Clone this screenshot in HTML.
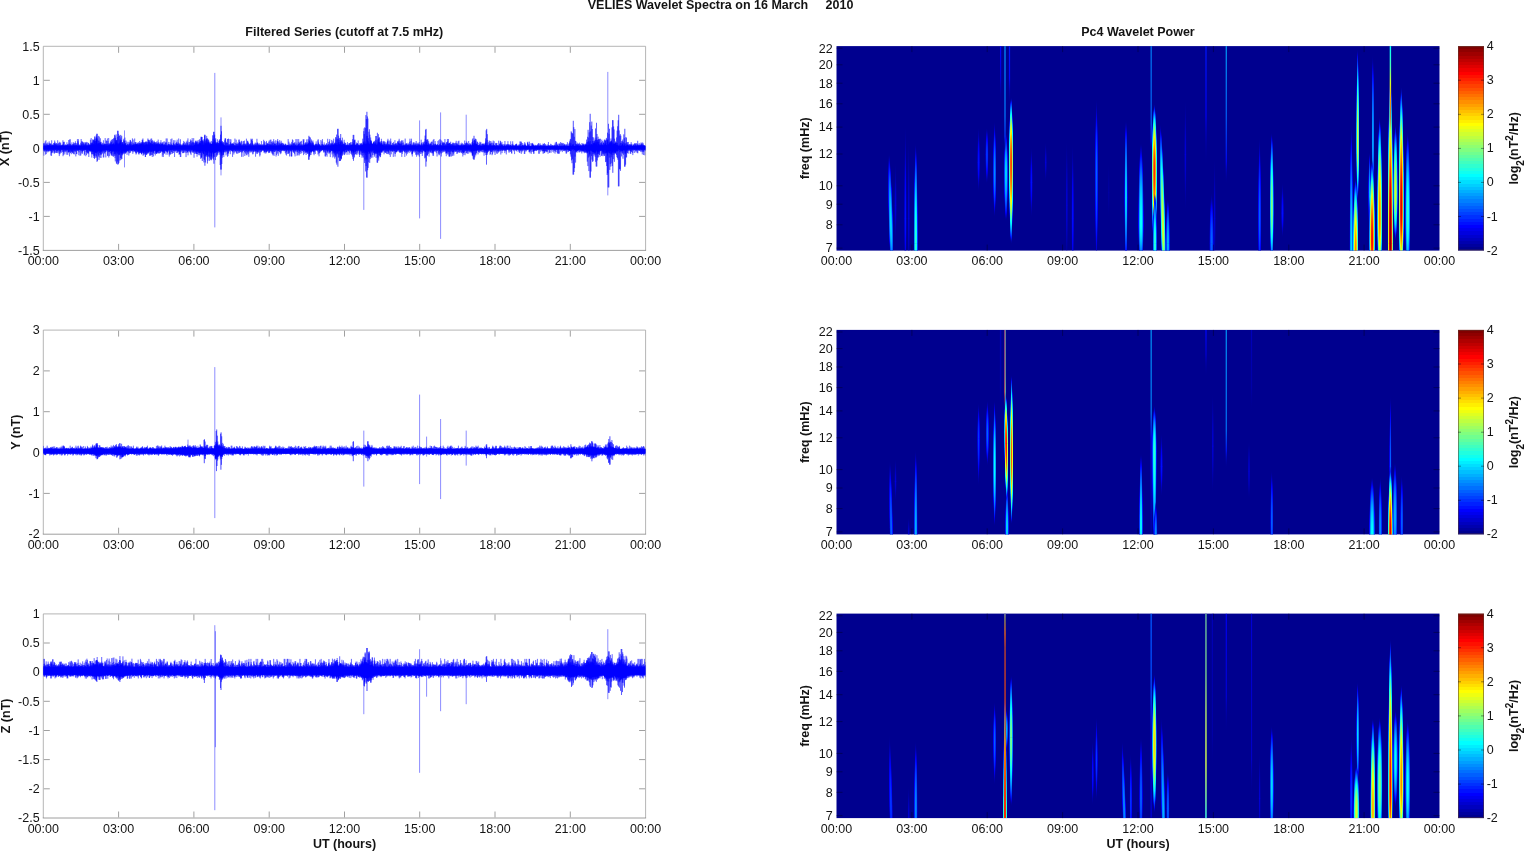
<!DOCTYPE html>
<html lang="en"><head><meta charset="utf-8"><title>VELIES Wavelet Spectra on 16 March 2010</title>
<style>html,body{margin:0;padding:0;background:#fff}body{width:1526px;height:851px;overflow:hidden;position:relative}svg{position:absolute;left:0;top:0;display:block}text{font-family:"Liberation Sans",sans-serif;font-size:12.5px;fill:#141414;white-space:pre}.ax{stroke:#a2a2a2;stroke-width:.8;fill:none}.tk{stroke:#a0a0a0;stroke-width:1;fill:none}.tkd{stroke:#000018;stroke-width:1;fill:none;opacity:.42}.sig{stroke:#0000ff;fill:none;stroke-linejoin:bevel}.spk{stroke:#0000ff;fill:none;stroke-width:1;opacity:.45}</style></head><body>
<svg width="1526" height="851" viewBox="0 0 1526 851">
<defs>
<linearGradient id="cb" x1="0" y1="0" x2="0" y2="1"><stop offset="0.0000" stop-color="#800000"/><stop offset="0.0156" stop-color="#800000"/><stop offset="0.0156" stop-color="#8f0000"/><stop offset="0.0312" stop-color="#8f0000"/><stop offset="0.0312" stop-color="#9f0000"/><stop offset="0.0469" stop-color="#9f0000"/><stop offset="0.0469" stop-color="#af0000"/><stop offset="0.0625" stop-color="#af0000"/><stop offset="0.0625" stop-color="#bf0000"/><stop offset="0.0781" stop-color="#bf0000"/><stop offset="0.0781" stop-color="#cf0000"/><stop offset="0.0938" stop-color="#cf0000"/><stop offset="0.0938" stop-color="#df0000"/><stop offset="0.1094" stop-color="#df0000"/><stop offset="0.1094" stop-color="#ef0000"/><stop offset="0.1250" stop-color="#ef0000"/><stop offset="0.1250" stop-color="#ff0000"/><stop offset="0.1406" stop-color="#ff0000"/><stop offset="0.1406" stop-color="#ff1000"/><stop offset="0.1562" stop-color="#ff1000"/><stop offset="0.1562" stop-color="#ff2000"/><stop offset="0.1719" stop-color="#ff2000"/><stop offset="0.1719" stop-color="#ff3000"/><stop offset="0.1875" stop-color="#ff3000"/><stop offset="0.1875" stop-color="#ff4000"/><stop offset="0.2031" stop-color="#ff4000"/><stop offset="0.2031" stop-color="#ff5000"/><stop offset="0.2188" stop-color="#ff5000"/><stop offset="0.2188" stop-color="#ff6000"/><stop offset="0.2344" stop-color="#ff6000"/><stop offset="0.2344" stop-color="#ff7000"/><stop offset="0.2500" stop-color="#ff7000"/><stop offset="0.2500" stop-color="#ff8000"/><stop offset="0.2656" stop-color="#ff8000"/><stop offset="0.2656" stop-color="#ff8f00"/><stop offset="0.2812" stop-color="#ff8f00"/><stop offset="0.2812" stop-color="#ff9f00"/><stop offset="0.2969" stop-color="#ff9f00"/><stop offset="0.2969" stop-color="#ffaf00"/><stop offset="0.3125" stop-color="#ffaf00"/><stop offset="0.3125" stop-color="#ffbf00"/><stop offset="0.3281" stop-color="#ffbf00"/><stop offset="0.3281" stop-color="#ffcf00"/><stop offset="0.3438" stop-color="#ffcf00"/><stop offset="0.3438" stop-color="#ffdf00"/><stop offset="0.3594" stop-color="#ffdf00"/><stop offset="0.3594" stop-color="#ffef00"/><stop offset="0.3750" stop-color="#ffef00"/><stop offset="0.3750" stop-color="#ffff00"/><stop offset="0.3906" stop-color="#ffff00"/><stop offset="0.3906" stop-color="#efff10"/><stop offset="0.4062" stop-color="#efff10"/><stop offset="0.4062" stop-color="#dfff20"/><stop offset="0.4219" stop-color="#dfff20"/><stop offset="0.4219" stop-color="#cfff30"/><stop offset="0.4375" stop-color="#cfff30"/><stop offset="0.4375" stop-color="#bfff40"/><stop offset="0.4531" stop-color="#bfff40"/><stop offset="0.4531" stop-color="#afff50"/><stop offset="0.4688" stop-color="#afff50"/><stop offset="0.4688" stop-color="#9fff60"/><stop offset="0.4844" stop-color="#9fff60"/><stop offset="0.4844" stop-color="#8fff70"/><stop offset="0.5000" stop-color="#8fff70"/><stop offset="0.5000" stop-color="#80ff80"/><stop offset="0.5156" stop-color="#80ff80"/><stop offset="0.5156" stop-color="#70ff8f"/><stop offset="0.5312" stop-color="#70ff8f"/><stop offset="0.5312" stop-color="#60ff9f"/><stop offset="0.5469" stop-color="#60ff9f"/><stop offset="0.5469" stop-color="#50ffaf"/><stop offset="0.5625" stop-color="#50ffaf"/><stop offset="0.5625" stop-color="#40ffbf"/><stop offset="0.5781" stop-color="#40ffbf"/><stop offset="0.5781" stop-color="#30ffcf"/><stop offset="0.5938" stop-color="#30ffcf"/><stop offset="0.5938" stop-color="#20ffdf"/><stop offset="0.6094" stop-color="#20ffdf"/><stop offset="0.6094" stop-color="#10ffef"/><stop offset="0.6250" stop-color="#10ffef"/><stop offset="0.6250" stop-color="#00ffff"/><stop offset="0.6406" stop-color="#00ffff"/><stop offset="0.6406" stop-color="#00efff"/><stop offset="0.6562" stop-color="#00efff"/><stop offset="0.6562" stop-color="#00dfff"/><stop offset="0.6719" stop-color="#00dfff"/><stop offset="0.6719" stop-color="#00cfff"/><stop offset="0.6875" stop-color="#00cfff"/><stop offset="0.6875" stop-color="#00bfff"/><stop offset="0.7031" stop-color="#00bfff"/><stop offset="0.7031" stop-color="#00afff"/><stop offset="0.7188" stop-color="#00afff"/><stop offset="0.7188" stop-color="#009fff"/><stop offset="0.7344" stop-color="#009fff"/><stop offset="0.7344" stop-color="#008fff"/><stop offset="0.7500" stop-color="#008fff"/><stop offset="0.7500" stop-color="#0080ff"/><stop offset="0.7656" stop-color="#0080ff"/><stop offset="0.7656" stop-color="#0070ff"/><stop offset="0.7812" stop-color="#0070ff"/><stop offset="0.7812" stop-color="#0060ff"/><stop offset="0.7969" stop-color="#0060ff"/><stop offset="0.7969" stop-color="#0050ff"/><stop offset="0.8125" stop-color="#0050ff"/><stop offset="0.8125" stop-color="#0040ff"/><stop offset="0.8281" stop-color="#0040ff"/><stop offset="0.8281" stop-color="#0030ff"/><stop offset="0.8438" stop-color="#0030ff"/><stop offset="0.8438" stop-color="#0020ff"/><stop offset="0.8594" stop-color="#0020ff"/><stop offset="0.8594" stop-color="#0010ff"/><stop offset="0.8750" stop-color="#0010ff"/><stop offset="0.8750" stop-color="#0000ff"/><stop offset="0.8906" stop-color="#0000ff"/><stop offset="0.8906" stop-color="#0000ef"/><stop offset="0.9062" stop-color="#0000ef"/><stop offset="0.9062" stop-color="#0000df"/><stop offset="0.9219" stop-color="#0000df"/><stop offset="0.9219" stop-color="#0000cf"/><stop offset="0.9375" stop-color="#0000cf"/><stop offset="0.9375" stop-color="#0000bf"/><stop offset="0.9531" stop-color="#0000bf"/><stop offset="0.9531" stop-color="#0000af"/><stop offset="0.9688" stop-color="#0000af"/><stop offset="0.9688" stop-color="#00009f"/><stop offset="0.9844" stop-color="#00009f"/><stop offset="0.9844" stop-color="#00008f"/><stop offset="1.0000" stop-color="#00008f"/></linearGradient>
<radialGradient id="q1t" cx="0" cy="0" r="1" gradientTransform="translate(.5 1) scale(.5 1)"><stop offset="0.000" stop-color="#0000b9" stop-opacity="0.42"/><stop offset="0.083" stop-color="#0000b9" stop-opacity="0.41"/><stop offset="0.167" stop-color="#0000b8" stop-opacity="0.41"/><stop offset="0.250" stop-color="#0000b7" stop-opacity="0.39"/><stop offset="0.333" stop-color="#0000b5" stop-opacity="0.37"/><stop offset="0.417" stop-color="#0000b2" stop-opacity="0.34"/><stop offset="0.500" stop-color="#0000af" stop-opacity="0.31"/><stop offset="0.583" stop-color="#0000ab" stop-opacity="0.27"/><stop offset="0.667" stop-color="#0000a7" stop-opacity="0.23"/><stop offset="0.750" stop-color="#0000a2" stop-opacity="0.18"/><stop offset="0.833" stop-color="#00009c" stop-opacity="0.13"/><stop offset="0.917" stop-color="#000096" stop-opacity="0.07"/><stop offset="1.000" stop-color="#00008f" stop-opacity="0.00"/></radialGradient>
<radialGradient id="q1b" cx="0" cy="0" r="1" gradientTransform="translate(.5 0) scale(.5 1)"><stop offset="0.000" stop-color="#0000b9" stop-opacity="0.42"/><stop offset="0.083" stop-color="#0000b9" stop-opacity="0.41"/><stop offset="0.167" stop-color="#0000b8" stop-opacity="0.41"/><stop offset="0.250" stop-color="#0000b7" stop-opacity="0.39"/><stop offset="0.333" stop-color="#0000b5" stop-opacity="0.37"/><stop offset="0.417" stop-color="#0000b2" stop-opacity="0.34"/><stop offset="0.500" stop-color="#0000af" stop-opacity="0.31"/><stop offset="0.583" stop-color="#0000ab" stop-opacity="0.27"/><stop offset="0.667" stop-color="#0000a7" stop-opacity="0.23"/><stop offset="0.750" stop-color="#0000a2" stop-opacity="0.18"/><stop offset="0.833" stop-color="#00009c" stop-opacity="0.13"/><stop offset="0.917" stop-color="#000096" stop-opacity="0.07"/><stop offset="1.000" stop-color="#00008f" stop-opacity="0.00"/></radialGradient>
<radialGradient id="q2t" cx="0" cy="0" r="1" gradientTransform="translate(.5 1) scale(.5 1)"><stop offset="0.000" stop-color="#0000e3" stop-opacity="0.83"/><stop offset="0.083" stop-color="#0000e3" stop-opacity="0.83"/><stop offset="0.167" stop-color="#0000e1" stop-opacity="0.81"/><stop offset="0.250" stop-color="#0000de" stop-opacity="0.78"/><stop offset="0.333" stop-color="#0000da" stop-opacity="0.74"/><stop offset="0.417" stop-color="#0000d5" stop-opacity="0.69"/><stop offset="0.500" stop-color="#0000ce" stop-opacity="0.62"/><stop offset="0.583" stop-color="#0000c7" stop-opacity="0.55"/><stop offset="0.667" stop-color="#0000be" stop-opacity="0.46"/><stop offset="0.750" stop-color="#0000b4" stop-opacity="0.36"/><stop offset="0.833" stop-color="#0000a9" stop-opacity="0.25"/><stop offset="0.917" stop-color="#00009d" stop-opacity="0.13"/><stop offset="1.000" stop-color="#00008f" stop-opacity="0.00"/></radialGradient>
<radialGradient id="q2b" cx="0" cy="0" r="1" gradientTransform="translate(.5 0) scale(.5 1)"><stop offset="0.000" stop-color="#0000e3" stop-opacity="0.83"/><stop offset="0.083" stop-color="#0000e3" stop-opacity="0.83"/><stop offset="0.167" stop-color="#0000e1" stop-opacity="0.81"/><stop offset="0.250" stop-color="#0000de" stop-opacity="0.78"/><stop offset="0.333" stop-color="#0000da" stop-opacity="0.74"/><stop offset="0.417" stop-color="#0000d5" stop-opacity="0.69"/><stop offset="0.500" stop-color="#0000ce" stop-opacity="0.62"/><stop offset="0.583" stop-color="#0000c7" stop-opacity="0.55"/><stop offset="0.667" stop-color="#0000be" stop-opacity="0.46"/><stop offset="0.750" stop-color="#0000b4" stop-opacity="0.36"/><stop offset="0.833" stop-color="#0000a9" stop-opacity="0.25"/><stop offset="0.917" stop-color="#00009d" stop-opacity="0.13"/><stop offset="1.000" stop-color="#00008f" stop-opacity="0.00"/></radialGradient>
<radialGradient id="q3t" cx="0" cy="0" r="1" gradientTransform="translate(.5 1) scale(.5 1)"><stop offset="0.000" stop-color="#000eff" stop-opacity="1.00"/><stop offset="0.083" stop-color="#000dff" stop-opacity="1.00"/><stop offset="0.167" stop-color="#000aff" stop-opacity="1.00"/><stop offset="0.250" stop-color="#0006ff" stop-opacity="1.00"/><stop offset="0.333" stop-color="#0000ff" stop-opacity="1.00"/><stop offset="0.417" stop-color="#0000f7" stop-opacity="1.00"/><stop offset="0.500" stop-color="#0000ee" stop-opacity="0.94"/><stop offset="0.583" stop-color="#0000e2" stop-opacity="0.82"/><stop offset="0.667" stop-color="#0000d5" stop-opacity="0.69"/><stop offset="0.750" stop-color="#0000c6" stop-opacity="0.55"/><stop offset="0.833" stop-color="#0000b6" stop-opacity="0.38"/><stop offset="0.917" stop-color="#0000a3" stop-opacity="0.20"/><stop offset="1.000" stop-color="#00008f" stop-opacity="0.00"/></radialGradient>
<radialGradient id="q3b" cx="0" cy="0" r="1" gradientTransform="translate(.5 0) scale(.5 1)"><stop offset="0.000" stop-color="#000eff" stop-opacity="1.00"/><stop offset="0.083" stop-color="#000dff" stop-opacity="1.00"/><stop offset="0.167" stop-color="#000aff" stop-opacity="1.00"/><stop offset="0.250" stop-color="#0006ff" stop-opacity="1.00"/><stop offset="0.333" stop-color="#0000ff" stop-opacity="1.00"/><stop offset="0.417" stop-color="#0000f7" stop-opacity="1.00"/><stop offset="0.500" stop-color="#0000ee" stop-opacity="0.94"/><stop offset="0.583" stop-color="#0000e2" stop-opacity="0.82"/><stop offset="0.667" stop-color="#0000d5" stop-opacity="0.69"/><stop offset="0.750" stop-color="#0000c6" stop-opacity="0.55"/><stop offset="0.833" stop-color="#0000b6" stop-opacity="0.38"/><stop offset="0.917" stop-color="#0000a3" stop-opacity="0.20"/><stop offset="1.000" stop-color="#00008f" stop-opacity="0.00"/></radialGradient>
<radialGradient id="q4t" cx="0" cy="0" r="1" gradientTransform="translate(.5 1) scale(.5 1)"><stop offset="0.000" stop-color="#0038ff" stop-opacity="1.00"/><stop offset="0.083" stop-color="#0037ff" stop-opacity="1.00"/><stop offset="0.167" stop-color="#0033ff" stop-opacity="1.00"/><stop offset="0.250" stop-color="#002dff" stop-opacity="1.00"/><stop offset="0.333" stop-color="#0025ff" stop-opacity="1.00"/><stop offset="0.417" stop-color="#001bff" stop-opacity="1.00"/><stop offset="0.500" stop-color="#000eff" stop-opacity="1.00"/><stop offset="0.583" stop-color="#0000fe" stop-opacity="1.00"/><stop offset="0.667" stop-color="#0000ec" stop-opacity="0.93"/><stop offset="0.750" stop-color="#0000d9" stop-opacity="0.73"/><stop offset="0.833" stop-color="#0000c3" stop-opacity="0.51"/><stop offset="0.917" stop-color="#0000aa" stop-opacity="0.27"/><stop offset="1.000" stop-color="#00008f" stop-opacity="0.00"/></radialGradient>
<radialGradient id="q4b" cx="0" cy="0" r="1" gradientTransform="translate(.5 0) scale(.5 1)"><stop offset="0.000" stop-color="#0038ff" stop-opacity="1.00"/><stop offset="0.083" stop-color="#0037ff" stop-opacity="1.00"/><stop offset="0.167" stop-color="#0033ff" stop-opacity="1.00"/><stop offset="0.250" stop-color="#002dff" stop-opacity="1.00"/><stop offset="0.333" stop-color="#0025ff" stop-opacity="1.00"/><stop offset="0.417" stop-color="#001bff" stop-opacity="1.00"/><stop offset="0.500" stop-color="#000eff" stop-opacity="1.00"/><stop offset="0.583" stop-color="#0000fe" stop-opacity="1.00"/><stop offset="0.667" stop-color="#0000ec" stop-opacity="0.93"/><stop offset="0.750" stop-color="#0000d9" stop-opacity="0.73"/><stop offset="0.833" stop-color="#0000c3" stop-opacity="0.51"/><stop offset="0.917" stop-color="#0000aa" stop-opacity="0.27"/><stop offset="1.000" stop-color="#00008f" stop-opacity="0.00"/></radialGradient>
<radialGradient id="q5t" cx="0" cy="0" r="1" gradientTransform="translate(.5 1) scale(.5 1)"><stop offset="0.000" stop-color="#0062ff" stop-opacity="1.00"/><stop offset="0.083" stop-color="#0060ff" stop-opacity="1.00"/><stop offset="0.167" stop-color="#005cff" stop-opacity="1.00"/><stop offset="0.250" stop-color="#0055ff" stop-opacity="1.00"/><stop offset="0.333" stop-color="#004aff" stop-opacity="1.00"/><stop offset="0.417" stop-color="#003dff" stop-opacity="1.00"/><stop offset="0.500" stop-color="#002dff" stop-opacity="1.00"/><stop offset="0.583" stop-color="#001aff" stop-opacity="1.00"/><stop offset="0.667" stop-color="#0005ff" stop-opacity="1.00"/><stop offset="0.750" stop-color="#0000eb" stop-opacity="0.91"/><stop offset="0.833" stop-color="#0000cf" stop-opacity="0.64"/><stop offset="0.917" stop-color="#0000b1" stop-opacity="0.33"/><stop offset="1.000" stop-color="#00008f" stop-opacity="0.00"/></radialGradient>
<radialGradient id="q5b" cx="0" cy="0" r="1" gradientTransform="translate(.5 0) scale(.5 1)"><stop offset="0.000" stop-color="#0062ff" stop-opacity="1.00"/><stop offset="0.083" stop-color="#0060ff" stop-opacity="1.00"/><stop offset="0.167" stop-color="#005cff" stop-opacity="1.00"/><stop offset="0.250" stop-color="#0055ff" stop-opacity="1.00"/><stop offset="0.333" stop-color="#004aff" stop-opacity="1.00"/><stop offset="0.417" stop-color="#003dff" stop-opacity="1.00"/><stop offset="0.500" stop-color="#002dff" stop-opacity="1.00"/><stop offset="0.583" stop-color="#001aff" stop-opacity="1.00"/><stop offset="0.667" stop-color="#0005ff" stop-opacity="1.00"/><stop offset="0.750" stop-color="#0000eb" stop-opacity="0.91"/><stop offset="0.833" stop-color="#0000cf" stop-opacity="0.64"/><stop offset="0.917" stop-color="#0000b1" stop-opacity="0.33"/><stop offset="1.000" stop-color="#00008f" stop-opacity="0.00"/></radialGradient>
<radialGradient id="q6t" cx="0" cy="0" r="1" gradientTransform="translate(.5 1) scale(.5 1)"><stop offset="0.000" stop-color="#008bff" stop-opacity="1.00"/><stop offset="0.083" stop-color="#008aff" stop-opacity="1.00"/><stop offset="0.167" stop-color="#0084ff" stop-opacity="1.00"/><stop offset="0.250" stop-color="#007cff" stop-opacity="1.00"/><stop offset="0.333" stop-color="#0070ff" stop-opacity="1.00"/><stop offset="0.417" stop-color="#0060ff" stop-opacity="1.00"/><stop offset="0.500" stop-color="#004dff" stop-opacity="1.00"/><stop offset="0.583" stop-color="#0036ff" stop-opacity="1.00"/><stop offset="0.667" stop-color="#001cff" stop-opacity="1.00"/><stop offset="0.750" stop-color="#0000fd" stop-opacity="1.00"/><stop offset="0.833" stop-color="#0000dc" stop-opacity="0.76"/><stop offset="0.917" stop-color="#0000b8" stop-opacity="0.40"/><stop offset="1.000" stop-color="#00008f" stop-opacity="0.00"/></radialGradient>
<radialGradient id="q6b" cx="0" cy="0" r="1" gradientTransform="translate(.5 0) scale(.5 1)"><stop offset="0.000" stop-color="#008bff" stop-opacity="1.00"/><stop offset="0.083" stop-color="#008aff" stop-opacity="1.00"/><stop offset="0.167" stop-color="#0084ff" stop-opacity="1.00"/><stop offset="0.250" stop-color="#007cff" stop-opacity="1.00"/><stop offset="0.333" stop-color="#0070ff" stop-opacity="1.00"/><stop offset="0.417" stop-color="#0060ff" stop-opacity="1.00"/><stop offset="0.500" stop-color="#004dff" stop-opacity="1.00"/><stop offset="0.583" stop-color="#0036ff" stop-opacity="1.00"/><stop offset="0.667" stop-color="#001cff" stop-opacity="1.00"/><stop offset="0.750" stop-color="#0000fd" stop-opacity="1.00"/><stop offset="0.833" stop-color="#0000dc" stop-opacity="0.76"/><stop offset="0.917" stop-color="#0000b8" stop-opacity="0.40"/><stop offset="1.000" stop-color="#00008f" stop-opacity="0.00"/></radialGradient>
<radialGradient id="q7t" cx="0" cy="0" r="1" gradientTransform="translate(.5 1) scale(.5 1)"><stop offset="0.000" stop-color="#00b5ff" stop-opacity="1.00"/><stop offset="0.083" stop-color="#00b3ff" stop-opacity="1.00"/><stop offset="0.167" stop-color="#00adff" stop-opacity="1.00"/><stop offset="0.250" stop-color="#00a3ff" stop-opacity="1.00"/><stop offset="0.333" stop-color="#0095ff" stop-opacity="1.00"/><stop offset="0.417" stop-color="#0082ff" stop-opacity="1.00"/><stop offset="0.500" stop-color="#006cff" stop-opacity="1.00"/><stop offset="0.583" stop-color="#0052ff" stop-opacity="1.00"/><stop offset="0.667" stop-color="#0033ff" stop-opacity="1.00"/><stop offset="0.750" stop-color="#0011ff" stop-opacity="1.00"/><stop offset="0.833" stop-color="#0000e9" stop-opacity="0.89"/><stop offset="0.917" stop-color="#0000be" stop-opacity="0.47"/><stop offset="1.000" stop-color="#00008f" stop-opacity="0.00"/></radialGradient>
<radialGradient id="q7b" cx="0" cy="0" r="1" gradientTransform="translate(.5 0) scale(.5 1)"><stop offset="0.000" stop-color="#00b5ff" stop-opacity="1.00"/><stop offset="0.083" stop-color="#00b3ff" stop-opacity="1.00"/><stop offset="0.167" stop-color="#00adff" stop-opacity="1.00"/><stop offset="0.250" stop-color="#00a3ff" stop-opacity="1.00"/><stop offset="0.333" stop-color="#0095ff" stop-opacity="1.00"/><stop offset="0.417" stop-color="#0082ff" stop-opacity="1.00"/><stop offset="0.500" stop-color="#006cff" stop-opacity="1.00"/><stop offset="0.583" stop-color="#0052ff" stop-opacity="1.00"/><stop offset="0.667" stop-color="#0033ff" stop-opacity="1.00"/><stop offset="0.750" stop-color="#0011ff" stop-opacity="1.00"/><stop offset="0.833" stop-color="#0000e9" stop-opacity="0.89"/><stop offset="0.917" stop-color="#0000be" stop-opacity="0.47"/><stop offset="1.000" stop-color="#00008f" stop-opacity="0.00"/></radialGradient>
<radialGradient id="q8t" cx="0" cy="0" r="1" gradientTransform="translate(.5 1) scale(.5 1)"><stop offset="0.000" stop-color="#00dfff" stop-opacity="1.00"/><stop offset="0.083" stop-color="#00ddff" stop-opacity="1.00"/><stop offset="0.167" stop-color="#00d6ff" stop-opacity="1.00"/><stop offset="0.250" stop-color="#00caff" stop-opacity="1.00"/><stop offset="0.333" stop-color="#00baff" stop-opacity="1.00"/><stop offset="0.417" stop-color="#00a5ff" stop-opacity="1.00"/><stop offset="0.500" stop-color="#008bff" stop-opacity="1.00"/><stop offset="0.583" stop-color="#006dff" stop-opacity="1.00"/><stop offset="0.667" stop-color="#004aff" stop-opacity="1.00"/><stop offset="0.750" stop-color="#0023ff" stop-opacity="1.00"/><stop offset="0.833" stop-color="#0000f6" stop-opacity="1.00"/><stop offset="0.917" stop-color="#0000c5" stop-opacity="0.53"/><stop offset="1.000" stop-color="#00008f" stop-opacity="0.00"/></radialGradient>
<radialGradient id="q8b" cx="0" cy="0" r="1" gradientTransform="translate(.5 0) scale(.5 1)"><stop offset="0.000" stop-color="#00dfff" stop-opacity="1.00"/><stop offset="0.083" stop-color="#00ddff" stop-opacity="1.00"/><stop offset="0.167" stop-color="#00d6ff" stop-opacity="1.00"/><stop offset="0.250" stop-color="#00caff" stop-opacity="1.00"/><stop offset="0.333" stop-color="#00baff" stop-opacity="1.00"/><stop offset="0.417" stop-color="#00a5ff" stop-opacity="1.00"/><stop offset="0.500" stop-color="#008bff" stop-opacity="1.00"/><stop offset="0.583" stop-color="#006dff" stop-opacity="1.00"/><stop offset="0.667" stop-color="#004aff" stop-opacity="1.00"/><stop offset="0.750" stop-color="#0023ff" stop-opacity="1.00"/><stop offset="0.833" stop-color="#0000f6" stop-opacity="1.00"/><stop offset="0.917" stop-color="#0000c5" stop-opacity="0.53"/><stop offset="1.000" stop-color="#00008f" stop-opacity="0.00"/></radialGradient>
<radialGradient id="q9t" cx="0" cy="0" r="1" gradientTransform="translate(.5 1) scale(.5 1)"><stop offset="0.000" stop-color="#0afff5" stop-opacity="1.00"/><stop offset="0.083" stop-color="#07fff8" stop-opacity="1.00"/><stop offset="0.167" stop-color="#00ffff" stop-opacity="1.00"/><stop offset="0.250" stop-color="#00f1ff" stop-opacity="1.00"/><stop offset="0.333" stop-color="#00dfff" stop-opacity="1.00"/><stop offset="0.417" stop-color="#00c8ff" stop-opacity="1.00"/><stop offset="0.500" stop-color="#00abff" stop-opacity="1.00"/><stop offset="0.583" stop-color="#0089ff" stop-opacity="1.00"/><stop offset="0.667" stop-color="#0062ff" stop-opacity="1.00"/><stop offset="0.750" stop-color="#0035ff" stop-opacity="1.00"/><stop offset="0.833" stop-color="#0003ff" stop-opacity="1.00"/><stop offset="0.917" stop-color="#0000cc" stop-opacity="0.60"/><stop offset="1.000" stop-color="#00008f" stop-opacity="0.00"/></radialGradient>
<radialGradient id="q9b" cx="0" cy="0" r="1" gradientTransform="translate(.5 0) scale(.5 1)"><stop offset="0.000" stop-color="#0afff5" stop-opacity="1.00"/><stop offset="0.083" stop-color="#07fff8" stop-opacity="1.00"/><stop offset="0.167" stop-color="#00ffff" stop-opacity="1.00"/><stop offset="0.250" stop-color="#00f1ff" stop-opacity="1.00"/><stop offset="0.333" stop-color="#00dfff" stop-opacity="1.00"/><stop offset="0.417" stop-color="#00c8ff" stop-opacity="1.00"/><stop offset="0.500" stop-color="#00abff" stop-opacity="1.00"/><stop offset="0.583" stop-color="#0089ff" stop-opacity="1.00"/><stop offset="0.667" stop-color="#0062ff" stop-opacity="1.00"/><stop offset="0.750" stop-color="#0035ff" stop-opacity="1.00"/><stop offset="0.833" stop-color="#0003ff" stop-opacity="1.00"/><stop offset="0.917" stop-color="#0000cc" stop-opacity="0.60"/><stop offset="1.000" stop-color="#00008f" stop-opacity="0.00"/></radialGradient>
<radialGradient id="q10t" cx="0" cy="0" r="1" gradientTransform="translate(.5 1) scale(.5 1)"><stop offset="0.000" stop-color="#34ffcb" stop-opacity="1.00"/><stop offset="0.083" stop-color="#31ffce" stop-opacity="1.00"/><stop offset="0.167" stop-color="#28ffd7" stop-opacity="1.00"/><stop offset="0.250" stop-color="#1affe5" stop-opacity="1.00"/><stop offset="0.333" stop-color="#05fffa" stop-opacity="1.00"/><stop offset="0.417" stop-color="#00eaff" stop-opacity="1.00"/><stop offset="0.500" stop-color="#00caff" stop-opacity="1.00"/><stop offset="0.583" stop-color="#00a4ff" stop-opacity="1.00"/><stop offset="0.667" stop-color="#0079ff" stop-opacity="1.00"/><stop offset="0.750" stop-color="#0047ff" stop-opacity="1.00"/><stop offset="0.833" stop-color="#0010ff" stop-opacity="1.00"/><stop offset="0.917" stop-color="#0000d2" stop-opacity="0.67"/><stop offset="1.000" stop-color="#00008f" stop-opacity="0.00"/></radialGradient>
<radialGradient id="q10b" cx="0" cy="0" r="1" gradientTransform="translate(.5 0) scale(.5 1)"><stop offset="0.000" stop-color="#34ffcb" stop-opacity="1.00"/><stop offset="0.083" stop-color="#31ffce" stop-opacity="1.00"/><stop offset="0.167" stop-color="#28ffd7" stop-opacity="1.00"/><stop offset="0.250" stop-color="#1affe5" stop-opacity="1.00"/><stop offset="0.333" stop-color="#05fffa" stop-opacity="1.00"/><stop offset="0.417" stop-color="#00eaff" stop-opacity="1.00"/><stop offset="0.500" stop-color="#00caff" stop-opacity="1.00"/><stop offset="0.583" stop-color="#00a4ff" stop-opacity="1.00"/><stop offset="0.667" stop-color="#0079ff" stop-opacity="1.00"/><stop offset="0.750" stop-color="#0047ff" stop-opacity="1.00"/><stop offset="0.833" stop-color="#0010ff" stop-opacity="1.00"/><stop offset="0.917" stop-color="#0000d2" stop-opacity="0.67"/><stop offset="1.000" stop-color="#00008f" stop-opacity="0.00"/></radialGradient>
<radialGradient id="q11t" cx="0" cy="0" r="1" gradientTransform="translate(.5 1) scale(.5 1)"><stop offset="0.000" stop-color="#5effa1" stop-opacity="1.00"/><stop offset="0.083" stop-color="#5affa5" stop-opacity="1.00"/><stop offset="0.167" stop-color="#51ffae" stop-opacity="1.00"/><stop offset="0.250" stop-color="#41ffbe" stop-opacity="1.00"/><stop offset="0.333" stop-color="#2bffd4" stop-opacity="1.00"/><stop offset="0.417" stop-color="#0efff1" stop-opacity="1.00"/><stop offset="0.500" stop-color="#00eaff" stop-opacity="1.00"/><stop offset="0.583" stop-color="#00c0ff" stop-opacity="1.00"/><stop offset="0.667" stop-color="#0090ff" stop-opacity="1.00"/><stop offset="0.750" stop-color="#005aff" stop-opacity="1.00"/><stop offset="0.833" stop-color="#001dff" stop-opacity="1.00"/><stop offset="0.917" stop-color="#0000d9" stop-opacity="0.73"/><stop offset="1.000" stop-color="#00008f" stop-opacity="0.00"/></radialGradient>
<radialGradient id="q11b" cx="0" cy="0" r="1" gradientTransform="translate(.5 0) scale(.5 1)"><stop offset="0.000" stop-color="#5effa1" stop-opacity="1.00"/><stop offset="0.083" stop-color="#5affa5" stop-opacity="1.00"/><stop offset="0.167" stop-color="#51ffae" stop-opacity="1.00"/><stop offset="0.250" stop-color="#41ffbe" stop-opacity="1.00"/><stop offset="0.333" stop-color="#2bffd4" stop-opacity="1.00"/><stop offset="0.417" stop-color="#0efff1" stop-opacity="1.00"/><stop offset="0.500" stop-color="#00eaff" stop-opacity="1.00"/><stop offset="0.583" stop-color="#00c0ff" stop-opacity="1.00"/><stop offset="0.667" stop-color="#0090ff" stop-opacity="1.00"/><stop offset="0.750" stop-color="#005aff" stop-opacity="1.00"/><stop offset="0.833" stop-color="#001dff" stop-opacity="1.00"/><stop offset="0.917" stop-color="#0000d9" stop-opacity="0.73"/><stop offset="1.000" stop-color="#00008f" stop-opacity="0.00"/></radialGradient>
<radialGradient id="q12t" cx="0" cy="0" r="1" gradientTransform="translate(.5 1) scale(.5 1)"><stop offset="0.000" stop-color="#87ff78" stop-opacity="1.00"/><stop offset="0.083" stop-color="#84ff7b" stop-opacity="1.00"/><stop offset="0.167" stop-color="#7aff85" stop-opacity="1.00"/><stop offset="0.250" stop-color="#68ff97" stop-opacity="1.00"/><stop offset="0.333" stop-color="#50ffaf" stop-opacity="1.00"/><stop offset="0.417" stop-color="#30ffcf" stop-opacity="1.00"/><stop offset="0.500" stop-color="#0afff5" stop-opacity="1.00"/><stop offset="0.583" stop-color="#00dcff" stop-opacity="1.00"/><stop offset="0.667" stop-color="#00a7ff" stop-opacity="1.00"/><stop offset="0.750" stop-color="#006cff" stop-opacity="1.00"/><stop offset="0.833" stop-color="#002aff" stop-opacity="1.00"/><stop offset="0.917" stop-color="#0000e0" stop-opacity="0.80"/><stop offset="1.000" stop-color="#00008f" stop-opacity="0.00"/></radialGradient>
<radialGradient id="q12b" cx="0" cy="0" r="1" gradientTransform="translate(.5 0) scale(.5 1)"><stop offset="0.000" stop-color="#87ff78" stop-opacity="1.00"/><stop offset="0.083" stop-color="#84ff7b" stop-opacity="1.00"/><stop offset="0.167" stop-color="#7aff85" stop-opacity="1.00"/><stop offset="0.250" stop-color="#68ff97" stop-opacity="1.00"/><stop offset="0.333" stop-color="#50ffaf" stop-opacity="1.00"/><stop offset="0.417" stop-color="#30ffcf" stop-opacity="1.00"/><stop offset="0.500" stop-color="#0afff5" stop-opacity="1.00"/><stop offset="0.583" stop-color="#00dcff" stop-opacity="1.00"/><stop offset="0.667" stop-color="#00a7ff" stop-opacity="1.00"/><stop offset="0.750" stop-color="#006cff" stop-opacity="1.00"/><stop offset="0.833" stop-color="#002aff" stop-opacity="1.00"/><stop offset="0.917" stop-color="#0000e0" stop-opacity="0.80"/><stop offset="1.000" stop-color="#00008f" stop-opacity="0.00"/></radialGradient>
<radialGradient id="q13t" cx="0" cy="0" r="1" gradientTransform="translate(.5 1) scale(.5 1)"><stop offset="0.000" stop-color="#b1ff4e" stop-opacity="1.00"/><stop offset="0.083" stop-color="#aeff51" stop-opacity="1.00"/><stop offset="0.167" stop-color="#a2ff5d" stop-opacity="1.00"/><stop offset="0.250" stop-color="#8fff70" stop-opacity="1.00"/><stop offset="0.333" stop-color="#75ff8a" stop-opacity="1.00"/><stop offset="0.417" stop-color="#53ffac" stop-opacity="1.00"/><stop offset="0.500" stop-color="#29ffd6" stop-opacity="1.00"/><stop offset="0.583" stop-color="#00f7ff" stop-opacity="1.00"/><stop offset="0.667" stop-color="#00bfff" stop-opacity="1.00"/><stop offset="0.750" stop-color="#007eff" stop-opacity="1.00"/><stop offset="0.833" stop-color="#0037ff" stop-opacity="1.00"/><stop offset="0.917" stop-color="#0000e6" stop-opacity="0.87"/><stop offset="1.000" stop-color="#00008f" stop-opacity="0.00"/></radialGradient>
<radialGradient id="q13b" cx="0" cy="0" r="1" gradientTransform="translate(.5 0) scale(.5 1)"><stop offset="0.000" stop-color="#b1ff4e" stop-opacity="1.00"/><stop offset="0.083" stop-color="#aeff51" stop-opacity="1.00"/><stop offset="0.167" stop-color="#a2ff5d" stop-opacity="1.00"/><stop offset="0.250" stop-color="#8fff70" stop-opacity="1.00"/><stop offset="0.333" stop-color="#75ff8a" stop-opacity="1.00"/><stop offset="0.417" stop-color="#53ffac" stop-opacity="1.00"/><stop offset="0.500" stop-color="#29ffd6" stop-opacity="1.00"/><stop offset="0.583" stop-color="#00f7ff" stop-opacity="1.00"/><stop offset="0.667" stop-color="#00bfff" stop-opacity="1.00"/><stop offset="0.750" stop-color="#007eff" stop-opacity="1.00"/><stop offset="0.833" stop-color="#0037ff" stop-opacity="1.00"/><stop offset="0.917" stop-color="#0000e6" stop-opacity="0.87"/><stop offset="1.000" stop-color="#00008f" stop-opacity="0.00"/></radialGradient>
<radialGradient id="q14t" cx="0" cy="0" r="1" gradientTransform="translate(.5 1) scale(.5 1)"><stop offset="0.000" stop-color="#dbff24" stop-opacity="1.00"/><stop offset="0.083" stop-color="#d7ff28" stop-opacity="1.00"/><stop offset="0.167" stop-color="#cbff34" stop-opacity="1.00"/><stop offset="0.250" stop-color="#b7ff48" stop-opacity="1.00"/><stop offset="0.333" stop-color="#9aff65" stop-opacity="1.00"/><stop offset="0.417" stop-color="#75ff8a" stop-opacity="1.00"/><stop offset="0.500" stop-color="#49ffb6" stop-opacity="1.00"/><stop offset="0.583" stop-color="#14ffeb" stop-opacity="1.00"/><stop offset="0.667" stop-color="#00d6ff" stop-opacity="1.00"/><stop offset="0.750" stop-color="#0091ff" stop-opacity="1.00"/><stop offset="0.833" stop-color="#0043ff" stop-opacity="1.00"/><stop offset="0.917" stop-color="#0000ed" stop-opacity="0.93"/><stop offset="1.000" stop-color="#00008f" stop-opacity="0.00"/></radialGradient>
<radialGradient id="q14b" cx="0" cy="0" r="1" gradientTransform="translate(.5 0) scale(.5 1)"><stop offset="0.000" stop-color="#dbff24" stop-opacity="1.00"/><stop offset="0.083" stop-color="#d7ff28" stop-opacity="1.00"/><stop offset="0.167" stop-color="#cbff34" stop-opacity="1.00"/><stop offset="0.250" stop-color="#b7ff48" stop-opacity="1.00"/><stop offset="0.333" stop-color="#9aff65" stop-opacity="1.00"/><stop offset="0.417" stop-color="#75ff8a" stop-opacity="1.00"/><stop offset="0.500" stop-color="#49ffb6" stop-opacity="1.00"/><stop offset="0.583" stop-color="#14ffeb" stop-opacity="1.00"/><stop offset="0.667" stop-color="#00d6ff" stop-opacity="1.00"/><stop offset="0.750" stop-color="#0091ff" stop-opacity="1.00"/><stop offset="0.833" stop-color="#0043ff" stop-opacity="1.00"/><stop offset="0.917" stop-color="#0000ed" stop-opacity="0.93"/><stop offset="1.000" stop-color="#00008f" stop-opacity="0.00"/></radialGradient>
<radialGradient id="q15t" cx="0" cy="0" r="1" gradientTransform="translate(.5 1) scale(.5 1)"><stop offset="0.000" stop-color="#fff900" stop-opacity="1.00"/><stop offset="0.083" stop-color="#fffd00" stop-opacity="1.00"/><stop offset="0.167" stop-color="#f4ff0b" stop-opacity="1.00"/><stop offset="0.250" stop-color="#deff21" stop-opacity="1.00"/><stop offset="0.333" stop-color="#bfff40" stop-opacity="1.00"/><stop offset="0.417" stop-color="#98ff67" stop-opacity="1.00"/><stop offset="0.500" stop-color="#68ff97" stop-opacity="1.00"/><stop offset="0.583" stop-color="#2fffd0" stop-opacity="1.00"/><stop offset="0.667" stop-color="#00edff" stop-opacity="1.00"/><stop offset="0.750" stop-color="#00a3ff" stop-opacity="1.00"/><stop offset="0.833" stop-color="#0050ff" stop-opacity="1.00"/><stop offset="0.917" stop-color="#0000f4" stop-opacity="1.00"/><stop offset="1.000" stop-color="#00008f" stop-opacity="0.00"/></radialGradient>
<radialGradient id="q15b" cx="0" cy="0" r="1" gradientTransform="translate(.5 0) scale(.5 1)"><stop offset="0.000" stop-color="#fff900" stop-opacity="1.00"/><stop offset="0.083" stop-color="#fffd00" stop-opacity="1.00"/><stop offset="0.167" stop-color="#f4ff0b" stop-opacity="1.00"/><stop offset="0.250" stop-color="#deff21" stop-opacity="1.00"/><stop offset="0.333" stop-color="#bfff40" stop-opacity="1.00"/><stop offset="0.417" stop-color="#98ff67" stop-opacity="1.00"/><stop offset="0.500" stop-color="#68ff97" stop-opacity="1.00"/><stop offset="0.583" stop-color="#2fffd0" stop-opacity="1.00"/><stop offset="0.667" stop-color="#00edff" stop-opacity="1.00"/><stop offset="0.750" stop-color="#00a3ff" stop-opacity="1.00"/><stop offset="0.833" stop-color="#0050ff" stop-opacity="1.00"/><stop offset="0.917" stop-color="#0000f4" stop-opacity="1.00"/><stop offset="1.000" stop-color="#00008f" stop-opacity="0.00"/></radialGradient>
<radialGradient id="q16t" cx="0" cy="0" r="1" gradientTransform="translate(.5 1) scale(.5 1)"><stop offset="0.000" stop-color="#ffcf00" stop-opacity="1.00"/><stop offset="0.083" stop-color="#ffd400" stop-opacity="1.00"/><stop offset="0.167" stop-color="#ffe200" stop-opacity="1.00"/><stop offset="0.250" stop-color="#fff900" stop-opacity="1.00"/><stop offset="0.333" stop-color="#e4ff1b" stop-opacity="1.00"/><stop offset="0.417" stop-color="#bbff44" stop-opacity="1.00"/><stop offset="0.500" stop-color="#87ff78" stop-opacity="1.00"/><stop offset="0.583" stop-color="#4bffb4" stop-opacity="1.00"/><stop offset="0.667" stop-color="#05fffa" stop-opacity="1.00"/><stop offset="0.750" stop-color="#00b5ff" stop-opacity="1.00"/><stop offset="0.833" stop-color="#005dff" stop-opacity="1.00"/><stop offset="0.917" stop-color="#0000fa" stop-opacity="1.00"/><stop offset="1.000" stop-color="#00008f" stop-opacity="0.00"/></radialGradient>
<radialGradient id="q16b" cx="0" cy="0" r="1" gradientTransform="translate(.5 0) scale(.5 1)"><stop offset="0.000" stop-color="#ffcf00" stop-opacity="1.00"/><stop offset="0.083" stop-color="#ffd400" stop-opacity="1.00"/><stop offset="0.167" stop-color="#ffe200" stop-opacity="1.00"/><stop offset="0.250" stop-color="#fff900" stop-opacity="1.00"/><stop offset="0.333" stop-color="#e4ff1b" stop-opacity="1.00"/><stop offset="0.417" stop-color="#bbff44" stop-opacity="1.00"/><stop offset="0.500" stop-color="#87ff78" stop-opacity="1.00"/><stop offset="0.583" stop-color="#4bffb4" stop-opacity="1.00"/><stop offset="0.667" stop-color="#05fffa" stop-opacity="1.00"/><stop offset="0.750" stop-color="#00b5ff" stop-opacity="1.00"/><stop offset="0.833" stop-color="#005dff" stop-opacity="1.00"/><stop offset="0.917" stop-color="#0000fa" stop-opacity="1.00"/><stop offset="1.000" stop-color="#00008f" stop-opacity="0.00"/></radialGradient>
<radialGradient id="q17t" cx="0" cy="0" r="1" gradientTransform="translate(.5 1) scale(.5 1)"><stop offset="0.000" stop-color="#ffa500" stop-opacity="1.00"/><stop offset="0.083" stop-color="#ffaa00" stop-opacity="1.00"/><stop offset="0.167" stop-color="#ffb900" stop-opacity="1.00"/><stop offset="0.250" stop-color="#ffd200" stop-opacity="1.00"/><stop offset="0.333" stop-color="#fff400" stop-opacity="1.00"/><stop offset="0.417" stop-color="#ddff22" stop-opacity="1.00"/><stop offset="0.500" stop-color="#a7ff58" stop-opacity="1.00"/><stop offset="0.583" stop-color="#67ff98" stop-opacity="1.00"/><stop offset="0.667" stop-color="#1dffe2" stop-opacity="1.00"/><stop offset="0.750" stop-color="#00c8ff" stop-opacity="1.00"/><stop offset="0.833" stop-color="#006aff" stop-opacity="1.00"/><stop offset="0.917" stop-color="#0002ff" stop-opacity="1.00"/><stop offset="1.000" stop-color="#00008f" stop-opacity="0.00"/></radialGradient>
<radialGradient id="q17b" cx="0" cy="0" r="1" gradientTransform="translate(.5 0) scale(.5 1)"><stop offset="0.000" stop-color="#ffa500" stop-opacity="1.00"/><stop offset="0.083" stop-color="#ffaa00" stop-opacity="1.00"/><stop offset="0.167" stop-color="#ffb900" stop-opacity="1.00"/><stop offset="0.250" stop-color="#ffd200" stop-opacity="1.00"/><stop offset="0.333" stop-color="#fff400" stop-opacity="1.00"/><stop offset="0.417" stop-color="#ddff22" stop-opacity="1.00"/><stop offset="0.500" stop-color="#a7ff58" stop-opacity="1.00"/><stop offset="0.583" stop-color="#67ff98" stop-opacity="1.00"/><stop offset="0.667" stop-color="#1dffe2" stop-opacity="1.00"/><stop offset="0.750" stop-color="#00c8ff" stop-opacity="1.00"/><stop offset="0.833" stop-color="#006aff" stop-opacity="1.00"/><stop offset="0.917" stop-color="#0002ff" stop-opacity="1.00"/><stop offset="1.000" stop-color="#00008f" stop-opacity="0.00"/></radialGradient>
<radialGradient id="q18t" cx="0" cy="0" r="1" gradientTransform="translate(.5 1) scale(.5 1)"><stop offset="0.000" stop-color="#ff7c00" stop-opacity="1.00"/><stop offset="0.083" stop-color="#ff8100" stop-opacity="1.00"/><stop offset="0.167" stop-color="#ff9000" stop-opacity="1.00"/><stop offset="0.250" stop-color="#ffab00" stop-opacity="1.00"/><stop offset="0.333" stop-color="#ffcf00" stop-opacity="1.00"/><stop offset="0.417" stop-color="#fffe00" stop-opacity="1.00"/><stop offset="0.500" stop-color="#c6ff39" stop-opacity="1.00"/><stop offset="0.583" stop-color="#82ff7d" stop-opacity="1.00"/><stop offset="0.667" stop-color="#34ffcb" stop-opacity="1.00"/><stop offset="0.750" stop-color="#00daff" stop-opacity="1.00"/><stop offset="0.833" stop-color="#0077ff" stop-opacity="1.00"/><stop offset="0.917" stop-color="#0009ff" stop-opacity="1.00"/><stop offset="1.000" stop-color="#00008f" stop-opacity="0.00"/></radialGradient>
<radialGradient id="q18b" cx="0" cy="0" r="1" gradientTransform="translate(.5 0) scale(.5 1)"><stop offset="0.000" stop-color="#ff7c00" stop-opacity="1.00"/><stop offset="0.083" stop-color="#ff8100" stop-opacity="1.00"/><stop offset="0.167" stop-color="#ff9000" stop-opacity="1.00"/><stop offset="0.250" stop-color="#ffab00" stop-opacity="1.00"/><stop offset="0.333" stop-color="#ffcf00" stop-opacity="1.00"/><stop offset="0.417" stop-color="#fffe00" stop-opacity="1.00"/><stop offset="0.500" stop-color="#c6ff39" stop-opacity="1.00"/><stop offset="0.583" stop-color="#82ff7d" stop-opacity="1.00"/><stop offset="0.667" stop-color="#34ffcb" stop-opacity="1.00"/><stop offset="0.750" stop-color="#00daff" stop-opacity="1.00"/><stop offset="0.833" stop-color="#0077ff" stop-opacity="1.00"/><stop offset="0.917" stop-color="#0009ff" stop-opacity="1.00"/><stop offset="1.000" stop-color="#00008f" stop-opacity="0.00"/></radialGradient>
<radialGradient id="q19t" cx="0" cy="0" r="1" gradientTransform="translate(.5 1) scale(.5 1)"><stop offset="0.000" stop-color="#ff5200" stop-opacity="1.00"/><stop offset="0.083" stop-color="#ff5700" stop-opacity="1.00"/><stop offset="0.167" stop-color="#ff6800" stop-opacity="1.00"/><stop offset="0.250" stop-color="#ff8300" stop-opacity="1.00"/><stop offset="0.333" stop-color="#ffaa00" stop-opacity="1.00"/><stop offset="0.417" stop-color="#ffdc00" stop-opacity="1.00"/><stop offset="0.500" stop-color="#e6ff19" stop-opacity="1.00"/><stop offset="0.583" stop-color="#9eff61" stop-opacity="1.00"/><stop offset="0.667" stop-color="#4bffb4" stop-opacity="1.00"/><stop offset="0.750" stop-color="#00ecff" stop-opacity="1.00"/><stop offset="0.833" stop-color="#0083ff" stop-opacity="1.00"/><stop offset="0.917" stop-color="#000fff" stop-opacity="1.00"/><stop offset="1.000" stop-color="#00008f" stop-opacity="0.00"/></radialGradient>
<radialGradient id="q19b" cx="0" cy="0" r="1" gradientTransform="translate(.5 0) scale(.5 1)"><stop offset="0.000" stop-color="#ff5200" stop-opacity="1.00"/><stop offset="0.083" stop-color="#ff5700" stop-opacity="1.00"/><stop offset="0.167" stop-color="#ff6800" stop-opacity="1.00"/><stop offset="0.250" stop-color="#ff8300" stop-opacity="1.00"/><stop offset="0.333" stop-color="#ffaa00" stop-opacity="1.00"/><stop offset="0.417" stop-color="#ffdc00" stop-opacity="1.00"/><stop offset="0.500" stop-color="#e6ff19" stop-opacity="1.00"/><stop offset="0.583" stop-color="#9eff61" stop-opacity="1.00"/><stop offset="0.667" stop-color="#4bffb4" stop-opacity="1.00"/><stop offset="0.750" stop-color="#00ecff" stop-opacity="1.00"/><stop offset="0.833" stop-color="#0083ff" stop-opacity="1.00"/><stop offset="0.917" stop-color="#000fff" stop-opacity="1.00"/><stop offset="1.000" stop-color="#00008f" stop-opacity="0.00"/></radialGradient>
<radialGradient id="q20t" cx="0" cy="0" r="1" gradientTransform="translate(.5 1) scale(.5 1)"><stop offset="0.000" stop-color="#ff2800" stop-opacity="1.00"/><stop offset="0.083" stop-color="#ff2e00" stop-opacity="1.00"/><stop offset="0.167" stop-color="#ff3f00" stop-opacity="1.00"/><stop offset="0.250" stop-color="#ff5c00" stop-opacity="1.00"/><stop offset="0.333" stop-color="#ff8500" stop-opacity="1.00"/><stop offset="0.417" stop-color="#ffb900" stop-opacity="1.00"/><stop offset="0.500" stop-color="#fff900" stop-opacity="1.00"/><stop offset="0.583" stop-color="#b9ff46" stop-opacity="1.00"/><stop offset="0.667" stop-color="#62ff9d" stop-opacity="1.00"/><stop offset="0.750" stop-color="#00ffff" stop-opacity="1.00"/><stop offset="0.833" stop-color="#0090ff" stop-opacity="1.00"/><stop offset="0.917" stop-color="#0016ff" stop-opacity="1.00"/><stop offset="1.000" stop-color="#00008f" stop-opacity="0.00"/></radialGradient>
<radialGradient id="q20b" cx="0" cy="0" r="1" gradientTransform="translate(.5 0) scale(.5 1)"><stop offset="0.000" stop-color="#ff2800" stop-opacity="1.00"/><stop offset="0.083" stop-color="#ff2e00" stop-opacity="1.00"/><stop offset="0.167" stop-color="#ff3f00" stop-opacity="1.00"/><stop offset="0.250" stop-color="#ff5c00" stop-opacity="1.00"/><stop offset="0.333" stop-color="#ff8500" stop-opacity="1.00"/><stop offset="0.417" stop-color="#ffb900" stop-opacity="1.00"/><stop offset="0.500" stop-color="#fff900" stop-opacity="1.00"/><stop offset="0.583" stop-color="#b9ff46" stop-opacity="1.00"/><stop offset="0.667" stop-color="#62ff9d" stop-opacity="1.00"/><stop offset="0.750" stop-color="#00ffff" stop-opacity="1.00"/><stop offset="0.833" stop-color="#0090ff" stop-opacity="1.00"/><stop offset="0.917" stop-color="#0016ff" stop-opacity="1.00"/><stop offset="1.000" stop-color="#00008f" stop-opacity="0.00"/></radialGradient>
<radialGradient id="q21t" cx="0" cy="0" r="1" gradientTransform="translate(.5 1) scale(.5 1)"><stop offset="0.000" stop-color="#fd0000" stop-opacity="1.00"/><stop offset="0.083" stop-color="#ff0400" stop-opacity="1.00"/><stop offset="0.167" stop-color="#ff1600" stop-opacity="1.00"/><stop offset="0.250" stop-color="#ff3500" stop-opacity="1.00"/><stop offset="0.333" stop-color="#ff6000" stop-opacity="1.00"/><stop offset="0.417" stop-color="#ff9700" stop-opacity="1.00"/><stop offset="0.500" stop-color="#ffda00" stop-opacity="1.00"/><stop offset="0.583" stop-color="#d5ff2a" stop-opacity="1.00"/><stop offset="0.667" stop-color="#7aff85" stop-opacity="1.00"/><stop offset="0.750" stop-color="#12ffed" stop-opacity="1.00"/><stop offset="0.833" stop-color="#009dff" stop-opacity="1.00"/><stop offset="0.917" stop-color="#001dff" stop-opacity="1.00"/><stop offset="1.000" stop-color="#00008f" stop-opacity="0.00"/></radialGradient>
<radialGradient id="q21b" cx="0" cy="0" r="1" gradientTransform="translate(.5 0) scale(.5 1)"><stop offset="0.000" stop-color="#fd0000" stop-opacity="1.00"/><stop offset="0.083" stop-color="#ff0400" stop-opacity="1.00"/><stop offset="0.167" stop-color="#ff1600" stop-opacity="1.00"/><stop offset="0.250" stop-color="#ff3500" stop-opacity="1.00"/><stop offset="0.333" stop-color="#ff6000" stop-opacity="1.00"/><stop offset="0.417" stop-color="#ff9700" stop-opacity="1.00"/><stop offset="0.500" stop-color="#ffda00" stop-opacity="1.00"/><stop offset="0.583" stop-color="#d5ff2a" stop-opacity="1.00"/><stop offset="0.667" stop-color="#7aff85" stop-opacity="1.00"/><stop offset="0.750" stop-color="#12ffed" stop-opacity="1.00"/><stop offset="0.833" stop-color="#009dff" stop-opacity="1.00"/><stop offset="0.917" stop-color="#001dff" stop-opacity="1.00"/><stop offset="1.000" stop-color="#00008f" stop-opacity="0.00"/></radialGradient>
<radialGradient id="q22t" cx="0" cy="0" r="1" gradientTransform="translate(.5 1) scale(.5 1)"><stop offset="0.000" stop-color="#d30000" stop-opacity="1.00"/><stop offset="0.083" stop-color="#da0000" stop-opacity="1.00"/><stop offset="0.167" stop-color="#ed0000" stop-opacity="1.00"/><stop offset="0.250" stop-color="#ff0e00" stop-opacity="1.00"/><stop offset="0.333" stop-color="#ff3a00" stop-opacity="1.00"/><stop offset="0.417" stop-color="#ff7400" stop-opacity="1.00"/><stop offset="0.500" stop-color="#ffba00" stop-opacity="1.00"/><stop offset="0.583" stop-color="#f1ff0e" stop-opacity="1.00"/><stop offset="0.667" stop-color="#91ff6e" stop-opacity="1.00"/><stop offset="0.750" stop-color="#24ffdb" stop-opacity="1.00"/><stop offset="0.833" stop-color="#00aaff" stop-opacity="1.00"/><stop offset="0.917" stop-color="#0023ff" stop-opacity="1.00"/><stop offset="1.000" stop-color="#00008f" stop-opacity="0.00"/></radialGradient>
<radialGradient id="q22b" cx="0" cy="0" r="1" gradientTransform="translate(.5 0) scale(.5 1)"><stop offset="0.000" stop-color="#d30000" stop-opacity="1.00"/><stop offset="0.083" stop-color="#da0000" stop-opacity="1.00"/><stop offset="0.167" stop-color="#ed0000" stop-opacity="1.00"/><stop offset="0.250" stop-color="#ff0e00" stop-opacity="1.00"/><stop offset="0.333" stop-color="#ff3a00" stop-opacity="1.00"/><stop offset="0.417" stop-color="#ff7400" stop-opacity="1.00"/><stop offset="0.500" stop-color="#ffba00" stop-opacity="1.00"/><stop offset="0.583" stop-color="#f1ff0e" stop-opacity="1.00"/><stop offset="0.667" stop-color="#91ff6e" stop-opacity="1.00"/><stop offset="0.750" stop-color="#24ffdb" stop-opacity="1.00"/><stop offset="0.833" stop-color="#00aaff" stop-opacity="1.00"/><stop offset="0.917" stop-color="#0023ff" stop-opacity="1.00"/><stop offset="1.000" stop-color="#00008f" stop-opacity="0.00"/></radialGradient>
<radialGradient id="q23t" cx="0" cy="0" r="1" gradientTransform="translate(.5 1) scale(.5 1)"><stop offset="0.000" stop-color="#a90000" stop-opacity="1.00"/><stop offset="0.083" stop-color="#b00000" stop-opacity="1.00"/><stop offset="0.167" stop-color="#c40000" stop-opacity="1.00"/><stop offset="0.250" stop-color="#e50000" stop-opacity="1.00"/><stop offset="0.333" stop-color="#ff1500" stop-opacity="1.00"/><stop offset="0.417" stop-color="#ff5100" stop-opacity="1.00"/><stop offset="0.500" stop-color="#ff9b00" stop-opacity="1.00"/><stop offset="0.583" stop-color="#fff200" stop-opacity="1.00"/><stop offset="0.667" stop-color="#a8ff57" stop-opacity="1.00"/><stop offset="0.750" stop-color="#36ffc9" stop-opacity="1.00"/><stop offset="0.833" stop-color="#00b6ff" stop-opacity="1.00"/><stop offset="0.917" stop-color="#002aff" stop-opacity="1.00"/><stop offset="1.000" stop-color="#00008f" stop-opacity="0.00"/></radialGradient>
<radialGradient id="q23b" cx="0" cy="0" r="1" gradientTransform="translate(.5 0) scale(.5 1)"><stop offset="0.000" stop-color="#a90000" stop-opacity="1.00"/><stop offset="0.083" stop-color="#b00000" stop-opacity="1.00"/><stop offset="0.167" stop-color="#c40000" stop-opacity="1.00"/><stop offset="0.250" stop-color="#e50000" stop-opacity="1.00"/><stop offset="0.333" stop-color="#ff1500" stop-opacity="1.00"/><stop offset="0.417" stop-color="#ff5100" stop-opacity="1.00"/><stop offset="0.500" stop-color="#ff9b00" stop-opacity="1.00"/><stop offset="0.583" stop-color="#fff200" stop-opacity="1.00"/><stop offset="0.667" stop-color="#a8ff57" stop-opacity="1.00"/><stop offset="0.750" stop-color="#36ffc9" stop-opacity="1.00"/><stop offset="0.833" stop-color="#00b6ff" stop-opacity="1.00"/><stop offset="0.917" stop-color="#002aff" stop-opacity="1.00"/><stop offset="1.000" stop-color="#00008f" stop-opacity="0.00"/></radialGradient>
<radialGradient id="q24t" cx="0" cy="0" r="1" gradientTransform="translate(.5 1) scale(.5 1)"><stop offset="0.000" stop-color="#800000" stop-opacity="1.00"/><stop offset="0.083" stop-color="#860000" stop-opacity="1.00"/><stop offset="0.167" stop-color="#9b0000" stop-opacity="1.00"/><stop offset="0.250" stop-color="#be0000" stop-opacity="1.00"/><stop offset="0.333" stop-color="#ef0000" stop-opacity="1.00"/><stop offset="0.417" stop-color="#ff2f00" stop-opacity="1.00"/><stop offset="0.500" stop-color="#ff7c00" stop-opacity="1.00"/><stop offset="0.583" stop-color="#ffd600" stop-opacity="1.00"/><stop offset="0.667" stop-color="#bfff40" stop-opacity="1.00"/><stop offset="0.750" stop-color="#49ffb6" stop-opacity="1.00"/><stop offset="0.833" stop-color="#00c3ff" stop-opacity="1.00"/><stop offset="0.917" stop-color="#0031ff" stop-opacity="1.00"/><stop offset="1.000" stop-color="#00008f" stop-opacity="0.00"/></radialGradient>
<radialGradient id="q24b" cx="0" cy="0" r="1" gradientTransform="translate(.5 0) scale(.5 1)"><stop offset="0.000" stop-color="#800000" stop-opacity="1.00"/><stop offset="0.083" stop-color="#860000" stop-opacity="1.00"/><stop offset="0.167" stop-color="#9b0000" stop-opacity="1.00"/><stop offset="0.250" stop-color="#be0000" stop-opacity="1.00"/><stop offset="0.333" stop-color="#ef0000" stop-opacity="1.00"/><stop offset="0.417" stop-color="#ff2f00" stop-opacity="1.00"/><stop offset="0.500" stop-color="#ff7c00" stop-opacity="1.00"/><stop offset="0.583" stop-color="#ffd600" stop-opacity="1.00"/><stop offset="0.667" stop-color="#bfff40" stop-opacity="1.00"/><stop offset="0.750" stop-color="#49ffb6" stop-opacity="1.00"/><stop offset="0.833" stop-color="#00c3ff" stop-opacity="1.00"/><stop offset="0.917" stop-color="#0031ff" stop-opacity="1.00"/><stop offset="1.000" stop-color="#00008f" stop-opacity="0.00"/></radialGradient>
<clipPath id="cl0"><rect x="836.5" y="46.1" width="603" height="204.5"/></clipPath>
<clipPath id="cs0"><rect x="43.3" y="46.3" width="602.3" height="204.1"/></clipPath>
<clipPath id="cl1"><rect x="836.5" y="329.9" width="603" height="204.5"/></clipPath>
<clipPath id="cs1"><rect x="43.3" y="330.1" width="602.3" height="204.1"/></clipPath>
<clipPath id="cl2"><rect x="836.5" y="613.6" width="603" height="204.5"/></clipPath>
<clipPath id="cs2"><rect x="43.3" y="613.9" width="602.3" height="204.1"/></clipPath>
</defs>
<text x="720.6" y="9.3" text-anchor="middle" font-weight="bold" font-size="12.4">VELIES Wavelet Spectra on 16 March     2010</text>
<text x="344.3" y="36" text-anchor="middle" font-weight="bold" font-size="12.4">Filtered Series (cutoff at 7.5 mHz)</text>
<text x="1138" y="36" text-anchor="middle" font-weight="bold" font-size="12.4">Pc4 Wavelet Power</text>
<text x="344.5" y="847.5" text-anchor="middle" font-weight="bold" font-size="12.4">UT (hours)</text>
<text x="1138" y="847.5" text-anchor="middle" font-weight="bold" font-size="12.4">UT (hours)</text>
<path class="ax" d="M43.3 250.4V46.3H645.6V250.4"/>
<path class="ax" style="stroke:#868686" d="M42.8 250.4H646.1"/>
<text x="43.3" y="265" text-anchor="middle">00:00</text>
<text x="118.6" y="265" text-anchor="middle">03:00</text>
<text x="193.9" y="265" text-anchor="middle">06:00</text>
<text x="269.2" y="265" text-anchor="middle">09:00</text>
<text x="344.5" y="265" text-anchor="middle">12:00</text>
<text x="419.7" y="265" text-anchor="middle">15:00</text>
<text x="495" y="265" text-anchor="middle">18:00</text>
<text x="570.3" y="265" text-anchor="middle">21:00</text>
<text x="645.6" y="265" text-anchor="middle">00:00</text>
<text x="39.6" y="254.6" text-anchor="end">-1.5</text>
<text x="39.6" y="220.5" text-anchor="end">-1</text>
<text x="39.6" y="186.5" text-anchor="end">-0.5</text>
<text x="39.6" y="152.5" text-anchor="end">0</text>
<text x="39.6" y="118.5" text-anchor="end">0.5</text>
<text x="39.6" y="84.5" text-anchor="end">1</text>
<text x="39.6" y="50.5" text-anchor="end">1.5</text>
<path class="tk" d="M118.6 249.9v-6M118.6 46.8v6M193.9 249.9v-6M193.9 46.8v6M269.2 249.9v-6M269.2 46.8v6M344.5 249.9v-6M344.5 46.8v6M419.7 249.9v-6M419.7 46.8v6M495 249.9v-6M495 46.8v6M570.3 249.9v-6M570.3 46.8v6M43.8 216.4h6M645.1 216.4h-6M43.8 182.4h6M645.1 182.4h-6M43.8 148.4h6M645.1 148.4h-6M43.8 114.3h6M645.1 114.3h-6M43.8 80.3h6M645.1 80.3h-6"/>
<text x="9.4" y="148.3" text-anchor="middle" font-weight="bold" font-size="12.4" transform="rotate(-90 9.4 148.3)">X (nT)</text>
<g clip-path="url(#cs0)">
<path d="M43.3 146.3 L44.3 146.3 L45.3 146.3 L46.3 146.3 L47.3 146.3 L48.3 146.3 L49.3 146.3 L50.3 146.3 L51.3 146.3 L52.3 146.3 L53.3 146.3 L54.3 146.3 L55.3 146.3 L56.3 146.3 L57.3 146.3 L58.3 146.3 L59.3 146.3 L60.3 146.3 L61.3 146.3 L62.3 146.2 L63.3 146.2 L64.3 146.2 L65.3 146.2 L66.3 146.2 L67.3 146.2 L68.3 146.2 L69.3 146.2 L70.3 146.2 L71.3 146.2 L72.3 146.2 L73.3 146.2 L74.3 146.2 L75.3 146.2 L76.3 146.2 L77.3 146.2 L78.3 146.2 L79.3 146.2 L80.3 146.2 L81.3 146.2 L82.3 146.2 L83.3 146.2 L84.3 146.2 L85.3 146.2 L86.3 146.2 L87.3 146.2 L88.3 146.2 L89.3 146.2 L90.3 146.1 L91.3 146.1 L92.3 146.1 L93.3 146.1 L94.3 146.1 L95.3 146.1 L96.3 146.1 L97.3 146.1 L98.3 146.1 L99.3 146.1 L100.3 146.1 L101.3 146.1 L102.3 146.1 L103.3 146.1 L104.3 146.1 L105.3 146.1 L106.3 146.1 L107.3 146.1 L108.3 146.1 L109.3 146.1 L110.3 146.1 L111.3 146.1 L112.3 146.1 L113.3 146.1 L114.3 146.1 L115.3 146 L116.3 146 L117.3 146 L118.3 146 L119.3 146 L120.3 146 L121.3 146 L122.3 146.1 L123.3 146.1 L124.3 146.1 L125.3 146.1 L126.3 146.1 L127.3 146.1 L128.3 146.1 L129.3 146.1 L130.3 146.2 L131.3 146.2 L132.3 146.2 L133.3 146.2 L134.3 146.2 L135.3 146.2 L136.3 146.2 L137.3 146.2 L138.3 146.2 L139.3 146.2 L140.3 146.2 L141.3 146.2 L142.3 146.2 L143.3 146.2 L144.3 146.2 L145.3 146.2 L146.3 146.2 L147.3 146.2 L148.3 146.2 L149.3 146.2 L150.3 146.2 L151.3 146.2 L152.3 146.2 L153.3 146.2 L154.3 146.2 L155.3 146.2 L156.3 146.2 L157.3 146.2 L158.3 146.2 L159.3 146.2 L160.3 146.2 L161.3 146.2 L162.3 146.2 L163.3 146.2 L164.3 146.2 L165.3 146.2 L166.3 146.2 L167.3 146.2 L168.3 146.2 L169.3 146.2 L170.3 146.2 L171.3 146.2 L172.3 146.2 L173.3 146.2 L174.3 146.2 L175.3 146.2 L176.3 146.2 L177.3 146.2 L178.3 146.2 L179.3 146.2 L180.3 146.2 L181.3 146.2 L182.3 146.2 L183.3 146.2 L184.3 146.2 L185.3 146.2 L186.3 146.2 L187.3 146.2 L188.3 146.2 L189.3 146.2 L190.3 146.2 L191.3 146.1 L192.3 146.1 L193.3 146.1 L194.3 146.1 L195.3 146.1 L196.3 146.1 L197.3 146.1 L198.3 146.1 L199.3 146 L200.3 146 L201.3 146 L202.3 146 L203.3 146 L204.3 146 L205.3 146 L206.3 146 L207.3 146 L208.3 146 L209.3 145.9 L210.3 145.9 L211.3 145.9 L212.3 145.9 L213.3 145.9 L214.3 145.9 L215.3 145.9 L216.3 146 L217.3 146 L218.3 146 L219.3 146.1 L220.3 146.1 L221.3 146.1 L222.3 146.1 L223.3 146.2 L224.3 146.2 L225.3 146.2 L226.3 146.2 L227.3 146.2 L228.3 146.2 L229.3 146.2 L230.3 146.2 L231.3 146.2 L232.3 146.2 L233.3 146.2 L234.3 146.2 L235.3 146.2 L236.3 146.2 L237.3 146.2 L238.3 146.2 L239.3 146.2 L240.3 146.2 L241.3 146.2 L242.3 146.2 L243.3 146.2 L244.3 146.2 L245.3 146.2 L246.3 146.2 L247.3 146.2 L248.3 146.2 L249.3 146.2 L250.3 146.2 L251.3 146.2 L252.3 146.2 L253.3 146.2 L254.3 146.2 L255.3 146.2 L256.3 146.2 L257.3 146.2 L258.3 146.2 L259.3 146.2 L260.3 146.2 L261.3 146.2 L262.3 146.2 L263.3 146.2 L264.3 146.2 L265.3 146.2 L266.3 146.2 L267.3 146.2 L268.3 146.2 L269.3 146.2 L270.3 146.2 L271.3 146.2 L272.3 146.2 L273.3 146.2 L274.3 146.2 L275.3 146.2 L276.3 146.2 L277.3 146.2 L278.3 146.2 L279.3 146.2 L280.3 146.2 L281.3 146.2 L282.3 146.2 L283.3 146.2 L284.3 146.2 L285.3 146.2 L286.3 146.2 L287.3 146.2 L288.3 146.2 L289.3 146.2 L290.3 146.2 L291.3 146.2 L292.3 146.2 L293.3 146.2 L294.3 146.2 L295.3 146.2 L296.3 146.2 L297.3 146.2 L298.3 146.2 L299.3 146.2 L300.3 146.2 L301.3 146.2 L302.3 146.2 L303.3 146.2 L304.3 146.2 L305.3 146.2 L306.3 146.2 L307.3 146.2 L308.3 146.2 L309.3 146.2 L310.3 146.2 L311.3 146.2 L312.3 146.2 L313.3 146.2 L314.3 146.2 L315.3 146.2 L316.3 146.2 L317.3 146.2 L318.3 146.2 L319.3 146.2 L320.3 146.2 L321.3 146.2 L322.3 146.2 L323.3 146.2 L324.3 146.2 L325.3 146.2 L326.3 146.2 L327.3 146.2 L328.3 146.2 L329.3 146.2 L330.3 146.2 L331.3 146.1 L332.3 146.1 L333.3 146.1 L334.3 146.1 L335.3 146.1 L336.3 146.1 L337.3 146.1 L338.3 146.1 L339.3 146.1 L340.3 146.1 L341.3 146.1 L342.3 146.1 L343.3 146.1 L344.3 146.1 L345.3 146.1 L346.3 146.2 L347.3 146.2 L348.3 146.2 L349.3 146.2 L350.3 146.2 L351.3 146.2 L352.3 146.2 L353.3 146.2 L354.3 146.2 L355.3 146.2 L356.3 146.2 L357.3 146.2 L358.3 146.2 L359.3 146.2 L360.3 146.2 L361.3 146.1 L362.3 146.1 L363.3 146.1 L364.3 146 L365.3 146 L366.3 146 L367.3 146 L368.3 146 L369.3 146 L370.3 146 L371.3 146.1 L372.3 146.1 L373.3 146.1 L374.3 146.2 L375.3 146.2 L376.3 146.2 L377.3 146.2 L378.3 146.2 L379.3 146.2 L380.3 146.2 L381.3 146.2 L382.3 146.2 L383.3 146.2 L384.3 146.2 L385.3 146.2 L386.3 146.2 L387.3 146.2 L388.3 146.2 L389.3 146.2 L390.3 146.2 L391.3 146.2 L392.3 146.2 L393.3 146.2 L394.3 146.2 L395.3 146.2 L396.3 146.2 L397.3 146.2 L398.3 146.2 L399.3 146.2 L400.3 146.2 L401.3 146.2 L402.3 146.2 L403.3 146.2 L404.3 146.2 L405.3 146.2 L406.3 146.2 L407.3 146.2 L408.3 146.2 L409.3 146.2 L410.3 146.2 L411.3 146.2 L412.3 146.2 L413.3 146.2 L414.3 146.2 L415.3 146.2 L416.3 146.2 L417.3 146.2 L418.3 146.2 L419.3 146.2 L420.3 146.2 L421.3 146.2 L422.3 146.2 L423.3 146.2 L424.3 146.2 L425.3 146.2 L426.3 146.2 L427.3 146.2 L428.3 146.2 L429.3 146.2 L430.3 146.2 L431.3 146.2 L432.3 146.2 L433.3 146.2 L434.3 146.2 L435.3 146.2 L436.3 146.2 L437.3 146.2 L438.3 146.2 L439.3 146.2 L440.3 146.2 L441.3 146.2 L442.3 146.2 L443.3 146.2 L444.3 146.2 L445.3 146.2 L446.3 146.2 L447.3 146.2 L448.3 146.2 L449.3 146.2 L450.3 146.2 L451.3 146.2 L452.3 146.2 L453.3 146.2 L454.3 146.2 L455.3 146.2 L456.3 146.2 L457.3 146.2 L458.3 146.2 L459.3 146.2 L460.3 146.2 L461.3 146.2 L462.3 146.2 L463.3 146.2 L464.3 146.2 L465.3 146.2 L466.3 146.2 L467.3 146.2 L468.3 146.2 L469.3 146.2 L470.3 146.2 L471.3 146.2 L472.3 146.2 L473.3 146.2 L474.3 146.2 L475.3 146.3 L476.3 146.3 L477.3 146.3 L478.3 146.3 L479.3 146.3 L480.3 146.3 L481.3 146.3 L482.3 146.3 L483.3 146.3 L484.3 146.3 L485.3 146.3 L486.3 146.3 L487.3 146.3 L488.3 146.3 L489.3 146.3 L490.3 146.3 L491.3 146.3 L492.3 146.3 L493.3 146.3 L494.3 146.4 L495.3 146.4 L496.3 146.4 L497.3 146.4 L498.3 146.4 L499.3 146.4 L500.3 146.4 L501.3 146.4 L502.3 146.4 L503.3 146.4 L504.3 146.4 L505.3 146.4 L506.3 146.4 L507.3 146.4 L508.3 146.4 L509.3 146.4 L510.3 146.4 L511.3 146.4 L512.3 146.4 L513.3 146.4 L514.3 146.4 L515.3 146.4 L516.3 146.4 L517.3 146.5 L518.3 146.5 L519.3 146.5 L520.3 146.5 L521.3 146.5 L522.3 146.5 L523.3 146.5 L524.3 146.5 L525.3 146.5 L526.3 146.5 L527.3 146.5 L528.3 146.5 L529.3 146.5 L530.3 146.5 L531.3 146.5 L532.3 146.5 L533.3 146.5 L534.3 146.5 L535.3 146.5 L536.3 146.5 L537.3 146.5 L538.3 146.5 L539.3 146.5 L540.3 146.5 L541.3 146.5 L542.3 146.5 L543.3 146.5 L544.3 146.5 L545.3 146.5 L546.3 146.5 L547.3 146.5 L548.3 146.5 L549.3 146.5 L550.3 146.5 L551.3 146.5 L552.3 146.5 L553.3 146.5 L554.3 146.5 L555.3 146.5 L556.3 146.5 L557.3 146.5 L558.3 146.5 L559.3 146.5 L560.3 146.5 L561.3 146.5 L562.3 146.5 L563.3 146.5 L564.3 146.5 L565.3 146.5 L566.3 146.5 L567.3 146.5 L568.3 146.5 L569.3 146.6 L570.3 146.6 L571.3 146.7 L572.3 146.7 L573.3 146.7 L574.3 146.7 L575.3 146.6 L576.3 146.6 L577.3 146.6 L578.3 146.5 L579.3 146.5 L580.3 146.5 L581.3 146.5 L582.3 146.5 L583.3 146.5 L584.3 146.5 L585.3 146.6 L586.3 146.6 L587.3 146.6 L588.3 146.6 L589.3 146.7 L590.3 146.7 L591.3 146.7 L592.3 146.7 L593.3 146.7 L594.3 146.6 L595.3 146.6 L596.3 146.6 L597.3 146.5 L598.3 146.5 L599.3 146.5 L600.3 146.5 L601.3 146.5 L602.3 146.5 L603.3 146.5 L604.3 146.6 L605.3 146.6 L606.3 146.6 L607.3 146.6 L608.3 146.6 L609.3 146.7 L610.3 146.7 L611.3 146.7 L612.3 146.6 L613.3 146.6 L614.3 146.6 L615.3 146.6 L616.3 146.6 L617.3 146.6 L618.3 146.6 L619.3 146.6 L620.3 146.6 L621.3 146.6 L622.3 146.6 L623.3 146.5 L624.3 146.5 L625.3 146.5 L626.3 146.4 L627.3 146.4 L628.3 146.4 L629.3 146.4 L630.3 146.4 L631.3 146.4 L632.3 146.3 L633.3 146.3 L634.3 146.3 L635.3 146.3 L636.3 146.3 L637.3 146.3 L638.3 146.3 L639.3 146.3 L640.3 146.3 L641.3 146.3 L642.3 146.3 L643.3 146.3 L644.3 146.3 L645.3 146.3 L645.3 149.2 L644.3 149.2 L643.3 149.2 L642.3 149.2 L641.3 149.2 L640.3 149.2 L639.3 149.2 L638.3 149.2 L637.3 149.2 L636.3 149.2 L635.3 149.2 L634.3 149.2 L633.3 149.2 L632.3 149.2 L631.3 149.1 L630.3 149.1 L629.3 149.1 L628.3 149.1 L627.3 149.1 L626.3 149.1 L625.3 149 L624.3 149 L623.3 149 L622.3 148.9 L621.3 148.9 L620.3 148.9 L619.3 148.9 L618.3 148.9 L617.3 148.9 L616.3 148.9 L615.3 148.9 L614.3 148.9 L613.3 148.9 L612.3 148.9 L611.3 148.8 L610.3 148.8 L609.3 148.8 L608.3 148.9 L607.3 148.9 L606.3 148.9 L605.3 148.9 L604.3 148.9 L603.3 149 L602.3 149 L601.3 149 L600.3 149 L599.3 149 L598.3 149 L597.3 149 L596.3 148.9 L595.3 148.9 L594.3 148.9 L593.3 148.8 L592.3 148.8 L591.3 148.8 L590.3 148.8 L589.3 148.8 L588.3 148.9 L587.3 148.9 L586.3 148.9 L585.3 148.9 L584.3 149 L583.3 149 L582.3 149 L581.3 149 L580.3 149 L579.3 149 L578.3 149 L577.3 148.9 L576.3 148.9 L575.3 148.9 L574.3 148.8 L573.3 148.8 L572.3 148.8 L571.3 148.8 L570.3 148.9 L569.3 148.9 L568.3 149 L567.3 149 L566.3 149 L565.3 149 L564.3 149 L563.3 149 L562.3 149 L561.3 149 L560.3 149 L559.3 149 L558.3 149 L557.3 149 L556.3 149 L555.3 149 L554.3 149 L553.3 149 L552.3 149 L551.3 149 L550.3 149 L549.3 149 L548.3 149 L547.3 149 L546.3 149 L545.3 149 L544.3 149 L543.3 149 L542.3 149 L541.3 149 L540.3 149 L539.3 149 L538.3 149 L537.3 149 L536.3 149 L535.3 149 L534.3 149 L533.3 149 L532.3 149 L531.3 149 L530.3 149 L529.3 149 L528.3 149 L527.3 149 L526.3 149 L525.3 149 L524.3 149 L523.3 149 L522.3 149 L521.3 149 L520.3 149 L519.3 149 L518.3 149 L517.3 149 L516.3 149.1 L515.3 149.1 L514.3 149.1 L513.3 149.1 L512.3 149.1 L511.3 149.1 L510.3 149.1 L509.3 149.1 L508.3 149.1 L507.3 149.1 L506.3 149.1 L505.3 149.1 L504.3 149.1 L503.3 149.1 L502.3 149.1 L501.3 149.1 L500.3 149.1 L499.3 149.1 L498.3 149.1 L497.3 149.1 L496.3 149.1 L495.3 149.1 L494.3 149.1 L493.3 149.2 L492.3 149.2 L491.3 149.2 L490.3 149.2 L489.3 149.2 L488.3 149.2 L487.3 149.2 L486.3 149.2 L485.3 149.2 L484.3 149.2 L483.3 149.2 L482.3 149.2 L481.3 149.2 L480.3 149.2 L479.3 149.2 L478.3 149.2 L477.3 149.2 L476.3 149.2 L475.3 149.2 L474.3 149.3 L473.3 149.3 L472.3 149.3 L471.3 149.3 L470.3 149.3 L469.3 149.3 L468.3 149.3 L467.3 149.3 L466.3 149.3 L465.3 149.3 L464.3 149.3 L463.3 149.3 L462.3 149.3 L461.3 149.3 L460.3 149.3 L459.3 149.3 L458.3 149.3 L457.3 149.3 L456.3 149.3 L455.3 149.3 L454.3 149.3 L453.3 149.3 L452.3 149.3 L451.3 149.3 L450.3 149.3 L449.3 149.3 L448.3 149.3 L447.3 149.3 L446.3 149.3 L445.3 149.3 L444.3 149.3 L443.3 149.3 L442.3 149.3 L441.3 149.3 L440.3 149.3 L439.3 149.3 L438.3 149.3 L437.3 149.3 L436.3 149.3 L435.3 149.3 L434.3 149.3 L433.3 149.3 L432.3 149.3 L431.3 149.3 L430.3 149.3 L429.3 149.3 L428.3 149.3 L427.3 149.3 L426.3 149.3 L425.3 149.3 L424.3 149.3 L423.3 149.3 L422.3 149.3 L421.3 149.3 L420.3 149.3 L419.3 149.3 L418.3 149.3 L417.3 149.3 L416.3 149.3 L415.3 149.3 L414.3 149.3 L413.3 149.3 L412.3 149.3 L411.3 149.3 L410.3 149.3 L409.3 149.3 L408.3 149.3 L407.3 149.3 L406.3 149.3 L405.3 149.3 L404.3 149.3 L403.3 149.3 L402.3 149.3 L401.3 149.3 L400.3 149.3 L399.3 149.3 L398.3 149.3 L397.3 149.3 L396.3 149.3 L395.3 149.3 L394.3 149.3 L393.3 149.3 L392.3 149.3 L391.3 149.3 L390.3 149.3 L389.3 149.3 L388.3 149.3 L387.3 149.3 L386.3 149.3 L385.3 149.3 L384.3 149.3 L383.3 149.3 L382.3 149.3 L381.3 149.3 L380.3 149.3 L379.3 149.3 L378.3 149.3 L377.3 149.3 L376.3 149.3 L375.3 149.3 L374.3 149.3 L373.3 149.4 L372.3 149.4 L371.3 149.4 L370.3 149.5 L369.3 149.5 L368.3 149.5 L367.3 149.5 L366.3 149.5 L365.3 149.5 L364.3 149.5 L363.3 149.4 L362.3 149.4 L361.3 149.4 L360.3 149.3 L359.3 149.3 L358.3 149.3 L357.3 149.3 L356.3 149.3 L355.3 149.3 L354.3 149.3 L353.3 149.3 L352.3 149.3 L351.3 149.3 L350.3 149.3 L349.3 149.3 L348.3 149.3 L347.3 149.3 L346.3 149.3 L345.3 149.4 L344.3 149.4 L343.3 149.4 L342.3 149.4 L341.3 149.4 L340.3 149.4 L339.3 149.4 L338.3 149.4 L337.3 149.4 L336.3 149.4 L335.3 149.4 L334.3 149.4 L333.3 149.4 L332.3 149.4 L331.3 149.4 L330.3 149.3 L329.3 149.3 L328.3 149.3 L327.3 149.3 L326.3 149.3 L325.3 149.3 L324.3 149.3 L323.3 149.3 L322.3 149.3 L321.3 149.3 L320.3 149.3 L319.3 149.3 L318.3 149.3 L317.3 149.3 L316.3 149.3 L315.3 149.3 L314.3 149.3 L313.3 149.3 L312.3 149.3 L311.3 149.3 L310.3 149.3 L309.3 149.3 L308.3 149.3 L307.3 149.3 L306.3 149.3 L305.3 149.3 L304.3 149.3 L303.3 149.3 L302.3 149.3 L301.3 149.3 L300.3 149.3 L299.3 149.3 L298.3 149.3 L297.3 149.3 L296.3 149.3 L295.3 149.3 L294.3 149.3 L293.3 149.3 L292.3 149.3 L291.3 149.3 L290.3 149.3 L289.3 149.3 L288.3 149.3 L287.3 149.3 L286.3 149.3 L285.3 149.3 L284.3 149.3 L283.3 149.3 L282.3 149.3 L281.3 149.3 L280.3 149.3 L279.3 149.3 L278.3 149.3 L277.3 149.3 L276.3 149.3 L275.3 149.3 L274.3 149.3 L273.3 149.3 L272.3 149.3 L271.3 149.3 L270.3 149.3 L269.3 149.3 L268.3 149.3 L267.3 149.3 L266.3 149.3 L265.3 149.3 L264.3 149.3 L263.3 149.3 L262.3 149.3 L261.3 149.3 L260.3 149.3 L259.3 149.3 L258.3 149.3 L257.3 149.3 L256.3 149.3 L255.3 149.3 L254.3 149.3 L253.3 149.3 L252.3 149.3 L251.3 149.3 L250.3 149.3 L249.3 149.3 L248.3 149.3 L247.3 149.3 L246.3 149.3 L245.3 149.3 L244.3 149.3 L243.3 149.3 L242.3 149.3 L241.3 149.3 L240.3 149.3 L239.3 149.3 L238.3 149.3 L237.3 149.3 L236.3 149.3 L235.3 149.3 L234.3 149.3 L233.3 149.3 L232.3 149.3 L231.3 149.3 L230.3 149.3 L229.3 149.3 L228.3 149.3 L227.3 149.3 L226.3 149.3 L225.3 149.3 L224.3 149.3 L223.3 149.3 L222.3 149.4 L221.3 149.4 L220.3 149.4 L219.3 149.4 L218.3 149.5 L217.3 149.5 L216.3 149.5 L215.3 149.6 L214.3 149.6 L213.3 149.6 L212.3 149.6 L211.3 149.6 L210.3 149.6 L209.3 149.6 L208.3 149.5 L207.3 149.5 L206.3 149.5 L205.3 149.5 L204.3 149.5 L203.3 149.5 L202.3 149.5 L201.3 149.5 L200.3 149.5 L199.3 149.5 L198.3 149.4 L197.3 149.4 L196.3 149.4 L195.3 149.4 L194.3 149.4 L193.3 149.4 L192.3 149.4 L191.3 149.4 L190.3 149.3 L189.3 149.3 L188.3 149.3 L187.3 149.3 L186.3 149.3 L185.3 149.3 L184.3 149.3 L183.3 149.3 L182.3 149.3 L181.3 149.3 L180.3 149.3 L179.3 149.3 L178.3 149.3 L177.3 149.3 L176.3 149.3 L175.3 149.3 L174.3 149.3 L173.3 149.3 L172.3 149.3 L171.3 149.3 L170.3 149.3 L169.3 149.3 L168.3 149.3 L167.3 149.3 L166.3 149.3 L165.3 149.3 L164.3 149.3 L163.3 149.3 L162.3 149.3 L161.3 149.3 L160.3 149.3 L159.3 149.3 L158.3 149.3 L157.3 149.3 L156.3 149.3 L155.3 149.3 L154.3 149.3 L153.3 149.3 L152.3 149.3 L151.3 149.3 L150.3 149.3 L149.3 149.3 L148.3 149.3 L147.3 149.3 L146.3 149.3 L145.3 149.3 L144.3 149.3 L143.3 149.3 L142.3 149.3 L141.3 149.3 L140.3 149.3 L139.3 149.3 L138.3 149.3 L137.3 149.3 L136.3 149.3 L135.3 149.3 L134.3 149.3 L133.3 149.3 L132.3 149.3 L131.3 149.3 L130.3 149.3 L129.3 149.4 L128.3 149.4 L127.3 149.4 L126.3 149.4 L125.3 149.4 L124.3 149.4 L123.3 149.4 L122.3 149.4 L121.3 149.5 L120.3 149.5 L119.3 149.5 L118.3 149.5 L117.3 149.5 L116.3 149.5 L115.3 149.5 L114.3 149.4 L113.3 149.4 L112.3 149.4 L111.3 149.4 L110.3 149.4 L109.3 149.4 L108.3 149.4 L107.3 149.4 L106.3 149.4 L105.3 149.4 L104.3 149.4 L103.3 149.4 L102.3 149.4 L101.3 149.4 L100.3 149.4 L99.3 149.4 L98.3 149.4 L97.3 149.4 L96.3 149.4 L95.3 149.4 L94.3 149.4 L93.3 149.4 L92.3 149.4 L91.3 149.4 L90.3 149.4 L89.3 149.3 L88.3 149.3 L87.3 149.3 L86.3 149.3 L85.3 149.3 L84.3 149.3 L83.3 149.3 L82.3 149.3 L81.3 149.3 L80.3 149.3 L79.3 149.3 L78.3 149.3 L77.3 149.3 L76.3 149.3 L75.3 149.3 L74.3 149.3 L73.3 149.3 L72.3 149.3 L71.3 149.3 L70.3 149.3 L69.3 149.3 L68.3 149.3 L67.3 149.3 L66.3 149.3 L65.3 149.3 L64.3 149.3 L63.3 149.3 L62.3 149.3 L61.3 149.2 L60.3 149.2 L59.3 149.2 L58.3 149.2 L57.3 149.2 L56.3 149.2 L55.3 149.2 L54.3 149.2 L53.3 149.2 L52.3 149.2 L51.3 149.2 L50.3 149.2 L49.3 149.2 L48.3 149.2 L47.3 149.2 L46.3 149.2 L45.3 149.2 L44.3 149.2 L43.3 149.2 Z" fill="#0000ff"/>
<g transform="translate(43.3 0) scale(0.125 1)"><path class="sig" vector-effect="non-scaling-stroke" stroke-width="0.35" d="M0 149.7 l 1 -6.6 1 7.5 1 -7.1 1 12.2 1 -11.2 1 6.4 1 -5.1 1 4.3 1 -5.5 1 7.1 1 -8.8 1 7.6 1 -4.7 1 4.4 1 -8.8 1 8.6 1 -5.2 1 9.8 1 -8.7 1 5.4 1 -11 1 9.8 1 -5.7 1 9.7 1 -8.4 1 5.3 1 -7.7 1 8.4 1 -7 1 5.3 1 -5.3 1 5.8 1 -5.8 1 5.7 1 -7.9 1 9.9 1 -7.2 1 6 1 -5.9 1 5.4 1 -5.6 1 6.5 1 -6.6 1 5.7 1 -7.2 1 7.1 1 -9.2 1 8.6 1 -6.7 1 7.3 1 -5.7 1 6.6 1 -7 1 6.1 1 -4.7 1 3.9 1 -6.2 1 7.4 1 -7.4 1 11.9 1 -11.8 1 6 1 -4.5 1 6.1 1 -5.9 1 10.5 1 -15.6 1 12.9 1 -8.5 1 8.4 1 -7.5 1 4.7 1 -5.6 1 7.5 1 -7.6 1 5.3 1 -4.8 1 5.3 1 -5.2 1 4.7 1 -5 1 5.8 1 -7.7 1 9.7 1 -8.2 1 6.3 1 -7.8 1 10.8 1 -10.1 1 9 1 -12.2 1 9.2 1 -7.8 1 8.3 1 -5.6 1 8.1 1 -9.3 1 6.5 1 -6.1 1 6 1 -4.8 1 7.9 1 -8.1 1 6.6 1 -8 1 9.6 1 -9.9 1 6.5 1 -4.8 1 6 1 -5 1 5.3 1 -7 1 9 1 -12.8 1 9.6 1 -4.5 1 6.3 1 -6.1 1 4.5 1 -5.9 1 5.8 1 -7.1 1 10.5 1 -7.6 1 5.3 1 -8.3 1 13.3 1 -10.9 1 4.8 1 -8.2 1 12.5 1 -8.9 1 5.4 1 -7.4 1 9.9 1 -7.8 1 6.3 1 -9.2 1 8.6 1 -5.7 1 4.2 1 -4.5 1 7.7 1 -7.1 1 3.9 1 -4.7 1 4.8 1 -4.3 1 4.2 1 -5.3 1 7.6 1 -7.2 1 5.1 1 -4.8 1 6.3 1 -11.1 1 15.9 1 -10.9 1 4.4 1 -7.4 1 12.5 1 -10.2 1 8 1 -10.7 1 9.6 1 -9.7 1 7.9 1 -4.5 1 5.1 1 -4.7 1 8.8 1 -8.6 1 6.1 1 -6.2 1 4.8 1 -5.7 1 5.3 1 -5.7 1 6.8 1 -6.1 1 7.2 1 -6.8 1 4.6 1 -5.1 1 5.6 1 -5.2 1 9.3 1 -12.4 1 7.6 1 -5 1 5.3 1 -5.6 1 5.7 1 -5.9 1 10.4 1 -9.9 1 6.9 1 -7.8 1 8.5 1 -6.8 1 6.7 1 -12.4 1 11.5 1 -6.4 1 6.8 1 -8.6 1 8.5 1 -6.3 1 10.8 1 -16.7 1 11.2 1 -6.8 1 5.8 1 -10.6 1 13.9 1 -9.3 1 8.8 1 -7.2 1 5 1 -5.1 1 6.2 1 -5.9 1 8.6 1 -9.6 1 6.3 1 -5.3 1 6.4 1 -9.6 1 9.3 1 -6.4 1 7.5 1 -7.3 1 7.7 1 -9.1 1 6.3 1 -6 1 7.3 1 -6.5 1 8.3 1 -8.8 1 9.5 1 -12 1 7.7 1 -6.2 1 6.7 1 -7.4 1 8.3 1 -6.7 1 9.7 1 -8.6 1 5.6 1 -6.3 1 4.8 1 -6.8 1 8.4 1 -10.1 1 10.2 1 -6.5 1 11.4 1 -10.8 1 4.2 1 -6.7 1 7.5 1 -5.7 1 9.1 1 -9 1 9.2 1 -10.5 1 6.8 1 -4.8 1 4.6 1 -11.2 1 11.7 1 -5.4 1 5 1 -9.3 1 9 1 -7.4 1 7.3 1 -10.8 1 12.1 1 -5.6 1 9.5 1 -10.3 1 7.5 1 -8.1 1 5.6 1 -4.3 1 4.4 1 -4.6 1 4.4 1 -4.1 1 10.1 1 -10.2 1 5.6 1 -5.7 1 4.7 1 -7.4 1 12.6 1 -10.9 1 5.2 1 -10.7 1 10.8 1 -5 1 6.5 1 -10.1 1 12.1 1 -9.5 1 7 1 -8.7 1 11.8 1 -12.4 1 10.8 1 -6.7 1 4.9 1 -6.1 1 6.8 1 -9.1 1 8.2 1 -6.8 1 7.2 1 -8 1 7.5 1 -5.8 1 5.6 1 -4.7 1 10.1 1 -10.4 1 9.4 1 -10.2 1 5.6 1 -7.3 1 7.4 1 -7.8 1 7.7 1 -6.4 1 6.7 1 -5.2 1 11.3 1 -11.9 1 7.7 1 -9.1 1 7.1 1 -8.1 1 13.1 1 -9.6 1 6.1 1 -6.5 1 7.7 1 -7.1 1 5.7 1 -9 1 10.3 1 -7.2 1 8.2 1 -8.5 1 8.3 1 -9.2 1 6 1 -7.4 1 10.6 1 -10.3 1 13.9 1 -12 1 5.4 1 -5.1 1 6.3 1 -7.1 1 6.3 1 -6.5 1 6.3 1 -5 1 5.7 1 -6.4 1 6.3 1 -11.5 1 10.7 1 -7.1 1 9 1 -7.5 1 6.6 1 -13.4 1 12.9 1 -8.2 1 11.5 1 -9.7 1 13.1 1 -14.4 1 8.4 1 -9 1 8.7 1 -8.7 1 8.2 1 -11.5 1 12.6 1 -7.1 1 6.6 1 -11.3 1 13.9 1 -10.1 1 7.2 1 -6.8 1 13.7 1 -12.9 1 10.3 1 -14.7 1 10 1 -6.3 1 7.8 1 -10.8 1 16.1 1 -20.2 1 13.6 1 -6 1 6.9 1 -8.4 1 9.4 1 -7.7 1 7.6 1 -13.6 1 17.2 1 -18.1 1 18.3 1 -19.2 1 13 1 -11.1 1 11.7 1 -6.5 1 7.3 1 -14.1 1 14.9 1 -8.2 1 7 1 -11.8 1 14.9 1 -9.4 1 5.9 1 -6.7 1 6.5 1 -7.4 1 7.5 1 -7.5 1 13.6 1 -16.2 1 9.7 1 -5.6 1 6.6 1 -8.6 1 8.5 1 -6.6 1 6.4 1 -6.3 1 10.1 1 -12.4 1 8.9 1 -8.9 1 9.3 1 -8.2 1 7.6 1 -7.4 1 14.2 1 -16.2 1 12.4 1 -9.1 1 6.6 1 -7.3 1 5.8 1 -5.9 1 5.9 1 -5.3 1 8.9 1 -11 1 10 1 -7.5 1 5.1 1 -4.9 1 4.7 1 -4.9 1 12.1 1 -17.1 1 10.2 1 -5.6 1 12.5 1 -13.8 1 7.4 1 -6.9 1 6.6 1 -7.1 1 9.3 1 -9 1 9.9 1 -8.5 1 6.7 1 -13.9 1 12.2 1 -6.3 1 8.2 1 -7.6 1 12.8 1 -13.3 1 7.3 1 -11.1 1 9.7 1 -9 1 9.2 1 -5.7 1 6.9 1 -7.3 1 5.9 1 -5.3 1 6.2 1 -12.4 1 17.1 1 -12 1 12.5 1 -15.1 1 10 1 -5.7 1 6.8 1 -7.4 1 5.3 1 -12 1 19.5 1 -13.7 1 8.4 1 -9.2 1 13 1 -11.9 1 7.9 1 -7.1 1 5.7 1 -6.8 1 6.8 1 -5.2 1 5.7 1 -8.9 1 8.6 1 -10 1 12.1 1 -9.9 1 12.3 1 -10 1 5.2 1 -10.8 1 16 1 -10.5 1 8.4 1 -8.2 1 5 1 -5.3 1 5.8 1 -6.7 1 11.8 1 -12 1 6.4 1 -5.8 1 5.5 1 -4.8 1 6.2 1 -7.9 1 7.3 1 -6.7 1 6.2 1 -7.7 1 8.7 1 -6.5 1 7 1 -7.2 1 6.4 1 -6.1 1 9 1 -9.5 1 13.6 1 -14.1 1 6.6 1 -8.4 1 11.4 1 -13.8 1 10.8 1 -9.3 1 14 1 -11 1 7.5 1 -9 1 8.2 1 -11 1 13.3 1 -13.1 1 11.6 1 -8.4 1 7.4 1 -6.5 1 9.3 1 -16.6 1 13.7 1 -5.6 1 5.3 1 -6.6 1 10.5 1 -9.7 1 7.3 1 -8.5 1 11.6 1 -10.2 1 5.5 1 -6.9 1 8 1 -7 1 9.7 1 -11.8 1 8.2 1 -7.3 1 11.1 1 -15.2 1 11.1 1 -9.2 1 9.3 1 -7.9 1 10.1 1 -15 1 15.2 1 -7.6 1 7.9 1 -8.4 1 10.1 1 -9.5 1 6 1 -8.7 1 8.1 1 -7.9 1 10.4 1 -11.1 1 13.3 1 -11.3 1 6.5 1 -5.9 1 6.7 1 -6.1 1 7.9 1 -7.9 1 5.1 1 -11.5 1 15.3 1 -9.4 1 6.4 1 -9.9 1 11.2 1 -7.7 1 6.8 1 -10.7 1 9.3 1 -12.5 1 14.4 1 -7 1 8.9 1 -8.6 1 6 1 -7.8 1 7.2 1 -10.3 1 12.4 1 -7.7 1 5.3 1 -5 1 6.5 1 -6.9 1 6.8 1 -10.2 1 13.2 1 -9.5 1 5.6 1 -6.6 1 6.8 1 -6.8 1 7 1 -8.9 1 8.4 1 -6.2 1 6.4 1 -5.8 1 7 1 -7.8 1 11.1 1 -13.8 1 8.8 1 -5.5 1 8.3 1 -9.5 1 6.1 1 -6.5 1 7.6 1 -8.8 1 10.7 1 -13 1 12.6 1 -12.3 1 10.4 1 -5.9 1 5.3 1 -8.8 1 9 1 -6.3 1 7.5 1 -9.5 1 9 1 -5.6 1 5.6 1 -5.4 1 5.1 1 -7.1 1 6.5 1 -11.6 1 13.1 1 -6.6 1 8.9 1 -8.5 1 5.4 1 -11.1 1 10.8 1 -7.6 1 7.2 1 -6 1 8.2 1 -7.1 1 5.6 1 -6.8 1 7.9 1 -6.5 1 5.7 1 -12.5 1 12.2 1 -8.4 1 8 1 -6 1 7.1 1 -7.7 1 8.9 1 -10.4 1 10.3 1 -10.4 1 12.5 1 -9.8 1 8.9 1 -9.6 1 6.4 1 -5.2 1 7.7 1 -9.5 1 6.5 1 -6.3 1 6.2 1 -5.3 1 7.1 1 -8.3 1 6.8 1 -4.6 1 6.1 1 -9.7 1 11.3 1 -8.6 1 7 1 -8.8 1 11.4 1 -10.1 1 10.2 1 -9.6 1 5.6 1 -5.5 1 7.8 1 -11.7 1 10.2 1 -8.1 1 7.1 1 -6.1 1 7 1 -6.7 1 5.9 1 -6.8 1 8.8 1 -8.8 1 9.3 1 -8.5 1 9.7 1 -10.2 1 10.7 1 -10 1 8 1 -7.3 1 4.8 1 -10.2 1 11 1 -5.2 1 6.3 1 -12.1 1 13.2 1 -14.5 1 17.3 1 -11.5 1 6.1 1 -4.9 1 5 1 -7 1 11.6 1 -9.4 1 7.8 1 -11 1 9.9 1 -7 1 4.6 1 -7.2 1 9.3 1 -7.4 1 6.1 1 -5.2 1 11.4 1 -15.3 1 15.3 1 -15 1 9.2 1 -9.6 1 8.7 1 -7.1 1 7.2 1 -5.8 1 9.7 1 -9.8 1 10.2 1 -11 1 6.9 1 -5.6 1 4.8 1 -6 1 10 1 -8.7 1 6.2 1 -12.8 1 12.4 1 -11.3 1 14 1 -9.4 1 7.8 1 -6.5 1 5.9 1 -8.8 1 7.8 1 -4.9 1 4.4 1 -4.6 1 5.1 1 -8.3 1 9.1 1 -7.2 1 6.7 1 -5.8 1 6.7 1 -8.9 1 7.6 1 -5.9 1 7.7 1 -13.4 1 11.8 1 -5.9 1 7.1 1 -6.4 1 6.6 1 -13.4 1 12 1 -6.3 1 5.9 1 -6 1 12.9 1 -13 1 6.4 1 -5.6 1 7.2 1 -10.6 1 9.8 1 -7 1 9.2 1 -8 1 11 1 -12.1 1 6.4 1 -8.3 1 8.1 1 -5.2 1 5.2 1 -7.3 1 6.9 1 -5.7 1 6 1 -6.5 1 6.3 1 -7.8 1 13 1 -10.6 1 6 1 -7.1 1 9.1 1 -7.3 1 6.8 1 -10.3 1 11.3 1 -8.9 1 9.2 1 -9.7 1 6.4 1 -5.4 1 6.9 1 -7.9 1 9.5 1 -10.5 1 7.5 1 -5.8 1 8.5 1 -8.8 1 6.1 1 -10.8 1 11.5 1 -6.2 1 6.5 1 -6.5 1 5.6 1 -7.2 1 10 1 -8.8 1 5.7 1 -5.9 1 6.7 1 -6.6 1 6 1 -7.9 1 7.8 1 -4.7 1 6.9 1 -9.8 1 7.7 1 -5.2 1 6.5 1 -11.5 1 10.3 1 -6.5 1 6.5 1 -7.8 1 8.5 1 -6.6 1 7.6 1 -8.2 1 6.3 1 -5.8 1 12.2 1 -14.6 1 9.3 1 -8.1 1 6.9 1 -5.7 1 10.2 1 -9.5 1 11.8 1 -15.4 1 10.8 1 -7.8 1 5.5 1 -5.2 1 7.9 1 -8.3 1 8.9 1 -8.3 1 8.5 1 -12.2 1 11.2 1 -7.4 1 5.2 1 -4.9 1 4.5 1 -7.3 1 8.6 1 -8.8 1 8.1 1 -5.9 1 10 1 -16.2 1 11.6 1 -7.7 1 9.2 1 -6 1 6.3 1 -7 1 5.9 1 -12.3 1 14.3 1 -7.3 1 6.8 1 -6.7 1 9 1 -10.9 1 8.3 1 -6.4 1 4.4 1 -6 1 6.9 1 -9 1 8.7 1 -6.1 1 5.6 1 -6 1 12.5 1 -11.6 1 8.3 1 -8 1 9.3 1 -10.5 1 6 1 -7.8 1 12.3 1 -9.3 1 4.8 1 -5.1 1 6.4 1 -12.3 1 15 1 -9.3 1 5.1 1 -6.2 1 8 1 -6.6 1 6.8 1 -13.4 1 11.7 1 -5.4 1 9.1 1 -8.6 1 4.8 1 -4.9 1 7.8 1 -7.6 1 4.7 1 -6.6 1 9.5 1 -10.4 1 8.5 1 -10.9 1 10 1 -5.8 1 6.4 1 -6.9 1 6.4 1 -5 1 11.7 1 -12.1 1 6.5 1 -11.1 1 10.3 1 -5.9 1 6.9 1 -6.1 1 4.4 1 -6.4 1 7.4 1 -5.4 1 5.1 1 -7.5 1 9.8 1 -8.8 1 6.3 1 -8.7 1 8.7 1 -7.8 1 7.6 1 -10.5 1 13.4 1 -9 1 7 1 -7.3 1 8.4 1 -8.3 1 8.5 1 -6.9 1 5.5 1 -8.4 1 8.5 1 -12.6 1 13 1 -6.7 1 9.9 1 -10.2 1 7.1 1 -8.2 1 10.7 1 -9 1 9.3 1 -10.6 1 7 1 -6 1 12.2 1 -17.7 1 12.3 1 -6.9 1 12.3 1 -11.4 1 4.4 1 -5.8 1 7.6 1 -6.2 1 4.7 1 -4.8 1 5 1 -5.3 1 4.9 1 -4.7 1 5.5 1 -5.5 1 7.7 1 -8.6 1 5.6 1 -6.7 1 9.8 1 -8.5 1 5.2 1 -6.5 1 9.5 1 -12 1 11.7 1 -8.9 1 7.1 1 -5.8 1 5 1 -8.1 1 9.7 1 -6.7 1 5.2 1 -5.2 1 8 1 -7.8 1 4.9 1 -5.4 1 6.1 1 -7.7 1 8.6 1 -7.4 1 12.9 1 -15.5 1 8.6 1 -5.2 1 6 1 -5.5 1 7.5 1 -10.6 1 8.2 1 -10.1 1 11.1 1 -6.5 1 6.9 1 -8.8 1 9.4 1 -14.2 1 16.9 1 -10.8 1 6.6 1 -5.5 1 5.5 1 -5.9 1 5 1 -8.3 1 8 1 -4.6 1 7 1 -8.5 1 7.3 1 -9.1 1 8.5 1 -5.4 1 6.4 1 -6.1 1 7.1 1 -13 1 14.1 1 -12.8 1 9.3 1 -5.7 1 10.7 1 -13.7 1 10.5 1 -8.7 1 7.4 1 -5.7 1 5.2 1 -9.8 1 10.4 1 -12.6 1 11.9 1 -8.1 1 9.7 1 -6.1 1 6.9 1 -9.6 1 9.9 1 -9.9 1 9.8 1 -10.4 1 8.9 1 -12.9 1 13.3 1 -6.7 1 12.9 1 -13 1 6.7 1 -8.7 1 11.1 1 -9.2 1 5.5 1 -6.7 1 8.7 1 -9.7 1 8.3 1 -9.3 1 12.2 1 -12.9 1 12.7 1 -10.6 1 9.2 1 -11.3 1 10 1 -7.9 1 11.1 1 -12.1 1 8.6 1 -5.9 1 12.2 1 -15 1 8.8 1 -6.7 1 10.4 1 -13.7 1 11.5 1 -6.9 1 5.7 1 -5.5 1 5.3 1 -5.4 1 8 1 -10.9 1 9.4 1 -11.8 1 10.7 1 -5.8 1 7.8 1 -9.2 1 7.1 1 -11.3 1 13.5 1 -9.8 1 8.5 1 -8.5 1 7.5 1 -6.1 1 8.6 1 -10 1 9.3 1 -7.1 1 6.2 1 -14.7 1 21.2 1 -17.1 1 9.8 1 -5.5 1 5.9 1 -10.4 1 10.4 1 -6.4 1 6.6 1 -9.4 1 10.6 1 -12.4 1 10.6 1 -5.5 1 10.4 1 -10.5 1 8.8 1 -11 1 8.3 1 -6.7 1 9.7 1 -8.9 1 13.7 1 -13.8 1 5.8 1 -8.4 1 8.3 1 -14.6 1 15.8 1 -7 1 6 1 -7.9 1 13 1 -11.7 1 7.5 1 -9 1 10.5 1 -11.7 1 9.9 1 -7.7 1 12.3 1 -17.5 1 13.3 1 -16 1 15.1 1 -10.7 1 16.8 1 -14.3 1 10.9 1 -8.8 1 10.7 1 -13.8 1 11.1 1 -10.3 1 8.3 1 -11.2 1 12.9 1 -10.2 1 8.6 1 -8.8 1 9.1 1 -10.4 1 9.7 1 -6 1 6.6 1 -7.7 1 12.9 1 -11.4 1 7.9 1 -8 1 7 1 -8 1 7.2 1 -8 1 8.7 1 -7.7 1 9.2 1 -9.2 1 16.1 1 -16.1 1 16.1 1 -15.8 1 14.9 1 -14.6 1 5.9 1 -6 1 9.6 1 -10.1 1 7.4 1 -9.9 1 9.1 1 -8.1 1 9.5 1 -7.7 1 13.3 1 -14.1 1 8 1 -10.1 1 14.7 1 -12 1 6.8 1 -15.4 1 16.6 1 -9.5 1 9.6 1 -12.4 1 12.2 1 -11.2 1 11.7 1 -7.8 1 7.7 1 -13 1 13.1 1 -9 1 6.9 1 -8.8 1 10.1 1 -7.8 1 7.7 1 -8.1 1 7.9 1 -7.3 1 7.8 1 -7 1 6 1 -7.4 1 12.5 1 -12.4 1 8.7 1 -13.1 1 15.3 1 -12.6 1 10.7 1 -9.8 1 7.9 1 -5.9 1 5.4 1 -5.2 1 7.5 1 -9.6 1 7.2 1 -9.3 1 10.7 1 -8.1 1 6.8 1 -9.6 1 9.6 1 -5.4 1 6.7 1 -7.8 1 8 1 -12.8 1 11.1 1 -7.3 1 8.5 1 -9.7 1 10.9 1 -10.8 1 12.9 1 -12.5 1 8.2 1 -6.5 1 9.5 1 -11.1 1 13.7 1 -11.5 1 5.5 1 -7.2 1 7.9 1 -7.4 1 6.8 1 -5.4 1 7.5 1 -6.8 1 5.4 1 -5.4 1 9.5 1 -12.5 1 9.8 1 -8.1 1 13.1 1 -12.1 1 7.5 1 -7.1 1 6.6 1 -6.8 1 4.7 1 -9.5 1 10.2 1 -12.1 1 13.8 1 -9.1 1 9.1 1 -13.8 1 11.9 1 -11.9 1 12.2 1 -5.2 1 9.9 1 -10 1 5.8 1 -9.4 1 8.7 1 -7.6 1 9.1 1 -8.9 1 7.1 1 -7.1 1 10.7 1 -8.5 1 11.5 1 -17.7 1 11.6 1 -11.7 1 16.8 1 -10.4 1 7.4 1 -14.2 1 15 1 -8.2 1 5.5 1 -7 1 6.9 1 -6.2 1 5.4 1 -4.3 1 4.9 1 -6.1 1 7.2 1 -12.7 1 11 1 -5.2 1 9.4 1 -12.3 1 8.2 1 -6.8 1 6.7 1 -10.6 1 11.1 1 -6.8 1 7.5 1 -7.1 1 6.2 1 -5.6 1 5.8 1 -6.9 1 7.4 1 -7.2 1 7.7 1 -8.2 1 13.6 1 -12.9 1 7.5 1 -7.9 1 7.9 1 -7 1 5.9 1 -6.4 1 6.4 1 -7 1 11.1 1 -12.3 1 10.9 1 -7.9 1 4.7 1 -4.7 1 6.4 1 -6.2 1 4.6 1 -11.4 1 12.1 1 -5.2 1 5.8 1 -8.2 1 8 1 -5.7 1 6 1 -5.9 1 7.1 1 -12.9 1 10.2 1 -6 1 9.7 1 -10.1 1 6.7 1 -4.7 1 5.6 1 -5.5 1 8.1 1 -9.6 1 6.5 1 -8.1 1 7.8 1 -6.2 1 7.2 1 -5.8 1 7.8 1 -10.2 1 7.2 1 -5.8 1 6.1 1 -10.8 1 12.4 1 -12.7 1 13.4 1 -10.6 1 8.3 1 -8.9 1 9 1 -8.8 1 10.5 1 -8.2 1 6 1 -6.5 1 8.2 1 -8.7 1 6.7 1 -4.8 1 6.5 1 -10 1 8.8 1 -9.6 1 16 1 -11.3 1 7 1 -7.9 1 5.5 1 -4.9 1 5.6 1 -5.1 1 6.6 1 -7.9 1 6.3 1 -9.3 1 15.4 1 -12.4 1 6.2 1 -6.9 1 7.2 1 -9.9 1 9.5 1 -5.1 1 4.4 1 -4.5 1 4.7 1 -9.4 1 11.6 1 -8.3 1 12.1 1 -12.3 1 8.7 1 -7.1 1 5.2 1 -6.8 1 9.9 1 -8.6 1 6.1 1 -6.1 1 5.5 1 -6.6 1 11.2 1 -16.4 1 12.9 1 -5.9 1 4.8 1 -7.1 1 11.9 1 -9.9 1 8.1 1 -12.3 1 8.8 1 -9.3 1 11 1 -10 1 10.5 1 -8.9 1 10.9 1 -11.5 1 8.2 1 -6.2 1 12.1 1 -11.7 1 5.7 1 -5.4 1 5.3 1 -6.9 1 6.4 1 -5.7 1 7.3 1 -7.1 1 8.1 1 -8.6 1 6.4 1 -7.6 1 8.5 1 -7.1 1 5.8 1 -11.5 1 11.5 1 -5.5 1 7 1 -11.7 1 10.5 1 -5 1 6.9 1 -13.1 1 11.8 1 -12.4 1 11.9 1 -9.4 1 8.6 1 -6.5 1 11.1 1 -9.4 1 8.8 1 -10 1 6.8 1 -5 1 6.5 1 -7.4 1 6.7 1 -6.1 1 4.5 1 -4.3 1 6.4 1 -6.5 1 5.1 1 -6.7 1 6.7 1 -6.1 1 6.5 1 -8.3 1 8.3 1 -5.9 1 11.7 1 -11.4 1 6.6 1 -8.2 1 7 1 -7.8 1 9.8 1 -8.3 1 6.2 1 -5.1 1 8.6 1 -15.3 1 11.7 1 -5.6 1 7.1 1 -9.4 1 11.1 1 -11 1 9.5 1 -8.5 1 6.1 1 -5.5 1 8.1 1 -7.4 1 5.4 1 -5.8 1 6.8 1 -5.7 1 7 1 -9.6 1 7.2 1 -5.2 1 5.1 1 -5.6 1 11.9 1 -11.8 1 10.5 1 -9.9 1 5 1 -6.1 1 5.9 1 -4.6 1 6.6 1 -7.2 1 7.4 1 -7.1 1 5.3 1 -9.4 1 10.5 1 -6.1 1 5.4 1 -5.4 1 4.4 1 -5.9 1 6 1 -4.8 1 4.7 1 -4.4 1 5.5 1 -5.6 1 5.2 1 -6.1 1 5.7 1 -4.8 1 4.7 1 -10.3 1 10.9 1 -6.2 1 8.2 1 -10.2 1 9.7 1 -11.1 1 10.2 1 -5.9 1 6.3 1 -7.2 1 9 1 -8.3 1 6.9 1 -6.4 1 5.1 1 -5.9 1 5.1 1 -7.8 1 11.2 1 -8.3 1 7.2 1 -11.4 1 10.7 1 -6.8 1 7.3 1 -7.4 1 6.8 1 -8 1 7 1 -7 1 7.7 1 -7.3 1 6.6 1 -7.6 1 7.2 1 -5.7 1 6.9 1 -5.6 1 7.4 1 -9 1 5.8 1 -8.1 1 10.5 1 -11.7 1 11.5 1 -7.8 1 8.7 1 -8.2 1 6.1 1 -6.1 1 5.8 1 -10.8 1 11.4 1 -6.9 1 6.4 1 -5.8 1 5.4 1 -10.7 1 12.9 1 -8.1 1 7.2 1 -9.6 1 8.7 1 -5.6 1 6 1 -6.6 1 8.9 1 -12.3 1 12.7 1 -10.5 1 8 1 -5.9 1 9.9 1 -13.5 1 9.5 1 -8.4 1 11.6 1 -9.5 1 6.5 1 -12.3 1 11.1 1 -4.9 1 10.5 1 -14.5 1 8.4 1 -5.8 1 7.9 1 -8.7 1 8.5 1 -7.6 1 7.6 1 -7.9 1 6.1 1 -4.5 1 5 1 -10.1 1 10.7 1 -7.2 1 12.7 1 -11 1 4.7 1 -5.1 1 9.8 1 -11.7 1 6.8 1 -4.4 1 4.5 1 -9.4 1 10.2 1 -9.3 1 12 1 -14.6 1 12.3 1 -6.2 1 6.1 1 -10 1 14.6 1 -11.1 1 6.4 1 -8.6 1 8.3 1 -5.6 1 5.2 1 -6 1 5.9 1 -7.5 1 9.2 1 -11.8 1 12.3 1 -8 1 5.6 1 -4.9 1 9 1 -10.5 1 6.3 1 -5.6 1 8.3 1 -10.3 1 11.1 1 -12.7 1 10.3 1 -7.6 1 6.4 1 -6.3 1 7.6 1 -5.9 1 5 1 -7 1 6.9 1 -5.3 1 5.8 1 -7.9 1 7.4 1 -4.6 1 4.5 1 -6.9 1 6.6 1 -5.7 1 7.1 1 -6.4 1 5.8 1 -6.4 1 5.6 1 -4.8 1 5.8 1 -5.3 1 5.7 1 -6.2 1 4.9 1 -4.4 1 5 1 -6.9 1 9.4 1 -8.6 1 5.4 1 -5.9 1 10.6 1 -8.8 1 4.9 1 -4.8 1 5.7 1 -5.9 1 9.9 1 -10.8 1 7 1 -6.7 1 5.5 1 -4.7 1 8 1 -8.7 1 5.2 1 -5.4 1 5.2 1 -5.1 1 5.4 1 -11.3 1 14.9 1 -8.9 1 8.3 1 -7.7 1 5.7 1 -9.7 1 8.5 1 -4.8 1 7.5 1 -9.3 1 12.8 1 -11 1 4.6 1 -4.3 1 4.8 1 -4.8 1 5.9 1 -6 1 5.3 1 -6.6 1 5.6 1 -6.5 1 13 1 -11.6 1 6.4 1 -6.4 1 11.6 1 -14.5 1 14.5 1 -11.6 1 5.7 1 -4.7 1 4.1 1 -10.5 1 12.1 1 -6.9 1 5.4 1 -9.8 1 9.6 1 -6.1 1 7.9 1 -8.5 1 9.4 1 -9 1 7.8 1 -6.7 1 8.4 1 -7.5 1 4.9 1 -7.7 1 11.5 1 -10.6 1 6.2 1 -7.6 1 14.2 1 -11.8 1 6.1 1 -5.8 1 6.7 1 -6.2 1 4.6 1 -10.9 1 12 1 -6.8 1 6.1 1 -4.7 1 4.1 1 -4.1 1 6.5 1 -9.5 1 13.1 1 -16.7 1 10.9 1 -4.2 1 6.2 1 -6.9 1 9.8 1 -10.4 1 6.4 1 -6.2 1 5.7 1 -6.3 1 6 1 -11 1 13.9 1 -11.1 1 13.7 1 -12.1 1 10.9 1 -11.3 1 7.9 1 -5.2 1 5.4 1 -7 1 8.2 1 -10.7 1 10 1 -6.1 1 4.3 1 -8.2 1 12.3 1 -9.2 1 5 1 -4.2 1 4.3 1 -9 1 9.8 1 -6.1 1 8.5 1 -7.9 1 6 1 -7.1 1 6.7 1 -5.2 1 5.2 1 -5.2 1 4.9 1 -5.7 1 5.3 1 -10.9 1 12.8 1 -11.6 1 14.7 1 -10 1 4.9 1 -10.8 1 11.9 1 -7.6 1 10.2 1 -8.7 1 6.5 1 -6.4 1 5.1 1 -4.5 1 4.5 1 -5 1 7.3 1 -8.1 1 8.3 1 -7.6 1 5.1 1 -6.1 1 6.2 1 -7.3 1 7.7 1 -5.5 1 7.3 1 -7.1 1 6.9 1 -7.5 1 5.1 1 -6.1 1 7.8 1 -6 1 5.3 1 -6.3 1 7.6 1 -6.8 1 5.9 1 -12.1 1 10.5 1 -6.4 1 7.2 1 -6 1 5.9 1 -5.8 1 6.5 1 -10.4 1 13.1 1 -13.3 1 15.8 1 -11.5 1 7.9 1 -11.3 1 8.5 1 -6.7 1 8.2 1 -6 1 6.3 1 -8.2 1 8.3 1 -6 1 9.1 1 -10 1 8 1 -7.4 1 6 1 -5.8 1 5.6 1 -7.6 1 7 1 -7.4 1 7.7 1 -5.3 1 4.1 1 -4.1 1 4.8 1 -10 1 10 1 -8.1 1 9.4 1 -8.4 1 8.4 1 -6.4 1 8.4 1 -9.1 1 10.5 1 -9.4 1 4.1 1 -4.4 1 6.8 1 -6.7 1 5.2 1 -6.4 1 6.7 1 -6 1 8.9 1 -9.4 1 5.5 1 -5.9 1 5.7 1 -6.3 1 6.5 1 -8.7 1 8.4 1 -4.7 1 5.1 1 -6.1 1 6.6 1 -6.1 1 6.3 1 -7 1 6.4 1 -5.3 1 5.3 1 -4.8 1 6.2 1 -11.4 1 14.2 1 -15.3 1 10.7 1 -6.6 1 6.5 1 -7.4 1 11 1 -8.9 1 11.8 1 -11.7 1 6.7 1 -6.3 1 8.1 1 -9 1 7 1 -6.4 1 7.8 1 -6.8 1 6 1 -6 1 4.5 1 -4.5 1 5.5 1 -11.2 1 10.2 1 -4.6 1 5.6 1 -5.4 1 4.8 1 -6 1 5.3 1 -8.5 1 9.3 1 -6.7 1 5.9 1 -10.8 1 11 1 -5.6 1 5.4 1 -4.5 1 4.6 1 -5.2 1 5.1 1 -5.4 1 6.9 1 -6 1 7.3 1 -7.1 1 5.9 1 -9.1 1 9.3 1 -5.9 1 4.1 1 -4.2 1 4.3 1 -5.8 1 12.1 1 -11.5 1 8.1 1 -7.8 1 11.4 1 -11.7 1 5.4 1 -4.9 1 4.7 1 -4.4 1 9.6 1 -12.1 1 7 1 -6.3 1 7.3 1 -5.5 1 11.1 1 -11.5 1 6.4 1 -6.8 1 6.4 1 -12.4 1 14 1 -7.7 1 7.3 1 -8 1 6 1 -6.4 1 6.4 1 -8.3 1 8.5 1 -5.1 1 8.6 1 -8.8 1 7.2 1 -11.2 1 11.4 1 -13.5 1 11.3 1 -5.9 1 7.5 1 -6.7 1 11.7 1 -13.8 1 9.1 1 -8.7 1 7.7 1 -6.3 1 5 1 -5.2 1 5.1 1 -6.6 1 7 1 -10.5 1 10.3 1 -5.5 1 9.7 1 -11 1 7.8 1 -8.6 1 8.5 1 -5.9 1 12.3 1 -16.7 1 12.3 1 -8.3 1 6.8 1 -6.3 1 4.8 1 -11.4 1 12.6 1 -6.4 1 8.8 1 -10 1 8.9 1 -7.4 1 6.2 1 -7.2 1 6.7 1 -5.9 1 10 1 -12.8 1 9.8 1 -7.3 1 7.8 1 -8.3 1 5.9 1 -7 1 9.6 1 -15.2 1 16.8 1 -9.1 1 5.8 1 -5.7 1 4.9 1 -6.3 1 6.7 1 -5.3 1 7.2 1 -13.3 1 15.1 1 -9 1 5.6 1 -5.6 1 6.1 1 -12.7 1 11.9 1 -8.4 1 9.6 1 -8.2 1 10.8 1 -9.9 1 6.5 1 -8.8 1 8.2 1 -5.3 1 6.3 1 -7.2 1 6.7 1 -6.2 1 10.5 1 -11 1 6.8 1 -9.3 1 12.9 1 -12.1 1 15.5 1 -12.9 1 6.4 1 -10 1 16.4 1 -13 1 8.4 1 -8.4 1 6.3 1 -9 1 11.3 1 -8.2 1 5.4 1 -13 1 14.3 1 -8.5 1 7.2 1 -6.6 1 6.6 1 -5.5 1 5.6 1 -7.2 1 8.1 1 -7.9 1 7.1 1 -6.7 1 10.5 1 -14.9 1 15.3 1 -10.1 1 7.2 1 -9.9 1 8.5 1 -6.7 1 10.2 1 -11.4 1 9.9 1 -7.4 1 4.6 1 -7 1 8.8 1 -6.6 1 4.7 1 -4.9 1 7 1 -7.4 1 7.6 1 -6.9 1 6.9 1 -6.8 1 9.4 1 -9.8 1 4.9 1 -7.8 1 8.6 1 -6.2 1 5.7 1 -5 1 5.7 1 -6 1 6.4 1 -6.3 1 6.1 1 -5.5 1 5.7 1 -7.6 1 11 1 -11.7 1 7 1 -5.3 1 8.1 1 -9.8 1 6.9 1 -4.3 1 5.6 1 -6.8 1 5.7 1 -5 1 5.6 1 -8.3 1 8 1 -8.1 1 11.4 1 -8.6 1 8.7 1 -8.3 1 5.3 1 -5.3 1 5.1 1 -5.6 1 7.8 1 -10.8 1 8.6 1 -5.7 1 11.8 1 -11.3 1 5.7 1 -7.3 1 8.2 1 -6.6 1 5.2 1 -5.2 1 7.3 1 -9.7 1 10.4 1 -8.8 1 5.2 1 -8.9 1 9.1 1 -4.8 1 4.6 1 -5.1 1 7.6 1 -12.1 1 11.2 1 -5.9 1 8.8 1 -8.8 1 4.7 1 -5 1 9.1 1 -9.7 1 9.1 1 -9.7 1 7.1 1 -8.6 1 7.8 1 -5.2 1 9.8 1 -11.1 1 7 1 -7.2 1 9.1 1 -9.6 1 8.2 1 -7.7 1 6.8 1 -6.1 1 10 1 -13.8 1 9.3 1 -4.7 1 5.4 1 -5.7 1 5.8 1 -5.6 1 6.2 1 -6.1 1 7.6 1 -7.1 1 11.4 1 -11.8 1 9.6 1 -11.6 1 11.4 1 -10.2 1 6.3 1 -7.2 1 6.9 1 -6 1 7.3 1 -6.4 1 8.3 1 -9.4 1 7.5 1 -8.8 1 12.3 1 -10 1 5.3 1 -5.3 1 12.6 1 -13.7 1 8.9 1 -8 1 11.4 1 -11.3 1 7.7 1 -7.5 1 9.7 1 -10.8 1 8.4 1 -9.5 1 7.6 1 -6.9 1 6.4 1 -8.8 1 10.4 1 -7.4 1 7.2 1 -7.7 1 6.8 1 -6.7 1 9.3 1 -10.3 1 16.2 1 -17.7 1 13.6 1 -10.4 1 7.7 1 -8 1 6.7 1 -7.1 1 8.7 1 -9.1 1 8.2 1 -8 1 15.7 1 -15.9 1 13.8 1 -21.5 1 17.2 1 -17.2 1 23.7 1 -19.2 1 13.5 1 -9.5 1 6.6 1 -6 1 6.1 1 -8 1 8.8 1 -10.6 1 10 1 -8.8 1 9 1 -7 1 9.8 1 -10 1 7.9 1 -7.7 1 8.5 1 -8.3 1 5.7 1 -7.7 1 9.3 1 -9.4 1 7.8 1 -8.9 1 8.8 1 -12.8 1 19.6 1 -15.7 1 9.6 1 -8.1 1 15.2 1 -15.7 1 10.3 1 -7.3 1 4.7 1 -7 1 8.4 1 -7.6 1 6.6 1 -5.8 1 10.4 1 -10.6 1 13.1 1 -12.5 1 6.6 1 -8.4 1 9.3 1 -10.7 1 11.2 1 -11.3 1 8.2 1 -4.6 1 4.8 1 -5.1 1 7.6 1 -8.8 1 8.7 1 -9 1 8.1 1 -6.5 1 9 1 -11.8 1 10.5 1 -13.1 1 11.1 1 -6.4 1 6.7 1 -6.5 1 6.7 1 -7.9 1 8.2 1 -6.4 1 7.3 1 -7.1 1 4.8 1 -5.7 1 9 1 -8.5 1 8.5 1 -9.8 1 8.6 1 -7.5 1 12 1 -13.5 1 6.6 1 -7.9 1 9.1 1 -9.4 1 10.6 1 -13.8 1 16.4 1 -11.7 1 9.6 1 -7.4 1 7.7 1 -10.4 1 13.2 1 -13.3 1 9.2 1 -9.5 1 9.4 1 -7.5 1 12.6 1 -12.7 1 5.8 1 -4.4 1 5.2 1 -6.4 1 7.2 1 -6.1 1 6 1 -12.7 1 14 1 -9.7 1 8.3 1 -10.4 1 9 1 -7.6 1 10.1 1 -7.8 1 6.6 1 -6 1 4.5 1 -5 1 5.9 1 -6.6 1 6.6 1 -9.8 1 9.3 1 -8.3 1 9.6 1 -6.4 1 9.2 1 -10.4 1 6.1 1 -8.7 1 9.2 1 -6.6 1 8.4 1 -9.6 1 9.8 1 -10.7 1 11.2 1 -7.8 1 6.4 1 -7.4 1 5.9 1 -5.6 1 8.6 1 -8.7 1 6.5 1 -6.6 1 7.3 1 -9 1 11.4 1 -9.1 1 5.6 1 -5.6 1 9.2 1 -13.4 1 10 1 -8.9 1 9.7 1 -12.7 1 12.8 1 -11 1 11 1 -6.9 1 9.2 1 -9.1 1 8.4 1 -9.2 1 6.7 1 -6.4 1 10.6 1 -10 1 5.1 1 -9.4 1 9.5 1 -5 1 6.1 1 -8.8 1 14.5 1 -11.7 1 5.2 1 -11.8 1 13 1 -10.2 1 9.4 1 -5.9 1 9.4 1 -9.1 1 5.3 1 -5.8 1 6 1 -5.4 1 5.3 1 -5.3 1 6.2 1 -8.4 1 8.3 1 -5.9 1 6.2 1 -8.7 1 7.2 1 -6 1 12.7 1 -15 1 9.2 1 -6.1 1 5.2 1 -4.6 1 4.8 1 -6.2 1 7.1 1 -6 1 5.8 1 -6.7 1 9 1 -13.2 1 16.4 1 -12.4 1 9.7 1 -10.3 1 6.5 1 -4.6 1 6.3 1 -8.6 1 8.9 1 -7.8 1 7.5 1 -8.5 1 9.1 1 -7.1 1 5.9 1 -6.4 1 6.4 1 -6.6 1 5.4 1 -7.7 1 9.1 1 -10.2 1 8.7 1 -4.4 1 4.6 1 -8.8 1 10 1 -8.6 1 7.3 1 -7.3 1 7.3 1 -9.5 1 10.9 1 -12.6 1 13.2 1 -8.3 1 6.5 1 -6.7 1 9.3 1 -9.1 1 8.6 1 -11.2 1 11.3 1 -8.9 1 7.9 1 -7 1 8.1 1 -10.6 1 10.7 1 -7.1 1 4.9 1 -6.8 1 8 1 -11.3 1 16.6 1 -16.1 1 11 1 -8.8 1 10.9 1 -8.5 1 5.2 1 -5 1 6.3 1 -11.6 1 9.5 1 -4.4 1 4.9 1 -7.8 1 8.3 1 -5.6 1 5.6 1 -5.7 1 5.3 1 -6.5 1 8.3 1 -7.1 1 6.4 1 -5.9 1 11.3 1 -11.4 1 6.1 1 -13 1 12 1 -5.6 1 7.7 1 -8.3 1 6.1 1 -6.6 1 9.6 1 -10.2 1 7.1 1 -7.1 1 12.2 1 -10.3 1 6.9 1 -7.9 1 7.9 1 -6.7 1 5 1 -5.6 1 8.9 1 -9 1 6 1 -7.9 1 7.3 1 -5.2 1 6.6 1 -6.7 1 6.9 1 -8 1 6.4 1 -4.7 1 7.7 1 -8.5 1 5.5 1 -4.6 1 5.4 1 -9.1 1 8.5 1 -11.6 1 11.1 1 -6 1 8.5 1 -8.2 1 6.3 1 -5.5 1 6.6 1 -10.6 1 10 1 -6.1 1 6.1 1 -12.2 1 11.7 1 -5.1 1 9.2 1 -9.1 1 8.3 1 -10.1 1 12.9 1 -11.6 1 9 1 -8.4 1 7.5 1 -8.1 1 6.2 1 -8.8 1 9.6 1 -7.5 1 6.1 1 -7.8 1 8.4 1 -6 1 5.7 1 -8.4 1 7.5 1 -5 1 7.6 1 -8.8 1 7.3 1 -5.6 1 4.5 1 -5.3 1 7.6 1 -7.1 1 9.6 1 -11 1 7.4 1 -8.3 1 7.7 1 -9.5 1 9.7 1 -5 1 11 1 -12.4 1 10.4 1 -9.2 1 4.7 1 -5.9 1 10.2 1 -9 1 5.9 1 -8.6 1 8 1 -6.3 1 11 1 -11.4 1 8.1 1 -8.8 1 11.1 1 -9.6 1 6.5 1 -6.2 1 5.4 1 -8.5 1 14.6 1 -11.8 1 7.9 1 -8.7 1 8.1 1 -7.4 1 5.9 1 -5.4 1 5.9 1 -5.6 1 8.3 1 -8.7 1 6.7 1 -7.6 1 6.4 1 -11 1 14 1 -10.7 1 7 1 -5.6 1 7.6 1 -6.5 1 6.7 1 -10 1 13.8 1 -11.7 1 5.5 1 -4.5 1 7.9 1 -7.8 1 6.4 1 -8.3 1 7.5 1 -8.5 1 7.5 1 -6.3 1 7 1 -9 1 9.1 1 -5.5 1 5.3 1 -6.4 1 5.7 1 -8.3 1 10.3 1 -6.9 1 6.7 1 -12.8 1 12.8 1 -7 1 7.4 1 -9.3 1 9.4 1 -6.9 1 4.5 1 -4.8 1 5.9 1 -8.8 1 7.8 1 -8 1 8 1 -4.9 1 5.8 1 -10.6 1 15.7 1 -10.2 1 4.5 1 -5.7 1 5.9 1 -11 1 12.3 1 -6.8 1 6.7 1 -8.2 1 10.4 1 -12.6 1 9.7 1 -8.1 1 13.8 1 -12.4 1 8.3 1 -8.1 1 6.3 1 -5.4 1 4.6 1 -4.9 1 5.6 1 -6.6 1 8 1 -8.8 1 9.6 1 -8.8 1 7.2 1 -7.4 1 8.4 1 -10.3 1 8.4 1 -8.6 1 8.5 1 -4.5 1 7.3 1 -7.8 1 8.3 1 -8.6 1 5.7 1 -9 1 11.1 1 -7.1 1 10.1 1 -10.4 1 6.7 1 -12.1 1 13.6 1 -9.1 1 11.4 1 -12.4 1 6.9 1 -11.3 1 12.5 1 -6.5 1 5.9 1 -5.6 1 6.2 1 -7.5 1 6.1 1 -5.4 1 5.7 1 -9.3 1 9.1 1 -6.4 1 8 1 -7.9 1 6.8 1 -5.5 1 4.5 1 -4.4 1 7.9 1 -8.1 1 6.2 1 -6.3 1 4.9 1 -5.3 1 11.9 1 -11.8 1 5.9 1 -6.6 1 6.6 1 -5.4 1 5.5 1 -9.7 1 9 1 -4.5 1 7.1 1 -7.3 1 4.7 1 -4.8 1 8.9 1 -14.1 1 15.3 1 -10.3 1 9.6 1 -9 1 5.5 1 -7 1 6.9 1 -12 1 13.6 1 -8.2 1 8 1 -9.6 1 7.2 1 -5 1 5.5 1 -10.6 1 13.8 1 -8.7 1 11.5 1 -10.9 1 5 1 -5.3 1 5.9 1 -10.3 1 12 1 -7.2 1 4.6 1 -7.6 1 7.7 1 -8.1 1 9.4 1 -8.4 1 9 1 -8.3 1 6.2 1 -7.9 1 9.1 1 -8.3 1 6.7 1 -4.4 1 6 1 -9 1 8.3 1 -7.8 1 6.8 1 -4 1 6.4 1 -13.1 1 11.5 1 -5.6 1 5.7 1 -6.6 1 6.8 1 -6 1 7.9 1 -6.9 1 8.1 1 -10.9 1 13.2 1 -14.2 1 11 1 -7.9 1 7.8 1 -9 1 6.7 1 -8.3 1 8.8 1 -12.1 1 13.4 1 -11 1 13.1 1 -10.5 1 10.3 1 -10.4 1 7.3 1 -12.2 1 13.2 1 -8.9 1 13.2 1 -12.8 1 6 1 -6.3 1 8.4 1 -8.7 1 13.4 1 -13.5 1 13.5 1 -13.9 1 13.9 1 -11.9 1 5.7 1 -6.2 1 10.2 1 -12.6 1 10.3 1 -7.3 1 5.7 1 -4.7 1 5.2 1 -6.6 1 12.2 1 -12.5 1 7.5 1 -7 1 5.3 1 -4.7 1 6.8 1 -8.7 1 12.7 1 -11.5 1 7.7 1 -9.6 1 10.2 1 -7.2 1 8.8 1 -11.4 1 9.1 1 -6.6 1 10.3 1 -12.3 1 6.8 1 -6.3 1 6.2 1 -4.5 1 6.7 1 -9.3 1 8.2 1 -5.8 1 5.2 1 -5.1 1 4.8 1 -4.7 1 6.4 1 -9.3 1 8.5 1 -7.7 1 6.6 1 -9.3 1 10.8 1 -6.1 1 5.8 1 -6.8 1 9.4 1 -11 1 7 1 -6.3 1 6.2 1 -5.4 1 9.1 1 -8.2 1 6.6 1 -7.2 1 5.3 1 -8.7 1 11.1 1 -7.3 1 5.1 1 -5.3 1 7.4 1 -11.6 1 10.5 1 -5.4 1 4 1 -4.6 1 7.7 1 -7.5 1 6.1 1 -5.8 1 4.8 1 -7 1 8.6 1 -6.4 1 4.4 1 -4.9 1 5.1 1 -5.4 1 8 1 -7.4 1 4.8 1 -5.9 1 8.4 1 -10.1 1 7.3 1 -5.8 1 7.7 1 -7.3 1 9.1 1 -8.2 1 5.9 1 -8.2 1 13.3 1 -10.7 1 6.6 1 -7.5 1 7.6 1 -8.3 1 8.6 1 -7.4 1 9.4 1 -10 1 8.2 1 -7.9 1 4.9 1 -5.1 1 7.1 1 -11.4 1 10.5 1 -6.1 1 10.2 1 -12.2 1 7.9 1 -7.3 1 6.7 1 -5.9 1 6.4 1 -5.6 1 4.7 1 -4.6 1 7.7 1 -10.1 1 8 1 -9.4 1 8.6 1 -7 1 9.5 1 -6.9 1 8.1 1 -11 1 8.2 1 -6.6 1 7.1 1 -7 1 5.3 1 -5.1 1 9 1 -9.4 1 6 1 -9.3 1 9.8 1 -5.4 1 6.1 1 -6.1 1 6.3 1 -8.2 1 6.6 1 -5 1 6.4 1 -6.2 1 7.9 1 -10 1 6.9 1 -6.1 1 7.4 1 -6.5 1 6.9 1 -7.1 1 6.2 1 -6.1 1 6.6 1 -5.6 1 5.7 1 -5.9 1 4.6 1 -7.7 1 7.7 1 -6.3 1 6.3 1 -10.9 1 16.9 1 -11.2 1 9.5 1 -13.5 1 9.1 1 -5.2 1 5.2 1 -4.8 1 5.8 1 -6.6 1 6.3 1 -5.4 1 5.8 1 -11.1 1 10.4 1 -6.9 1 6.6 1 -7.1 1 8.2 1 -10.4 1 8.9 1 -6 1 6.9 1 -5.7 1 5.4 1 -9.1 1 8.9 1 -6.3 1 5.8 1 -10.3 1 13.4 1 -9.2 1 7.5 1 -6.1 1 5.7 1 -6.9 1 7.2 1 -9.5 1 8.9 1 -8.4 1 8.3 1 -4.7 1 4.3 1 -4.6 1 9.1 1 -11.6 1 9.4 1 -7 1 4.9 1 -5.1 1 6.7 1 -6.1 1 5.4 1 -6 1 7.3 1 -8.4 1 6 1 -4.7 1 7.5 1 -11 1 9.3 1 -8.4 1 7.4 1 -5.1 1 6.6 1 -5.6 1 5.1 1 -8.7 1 7.7 1 -4.1 1 5.6 1 -7.6 1 6.2 1 -4.9 1 5.2 1 -4.6 1 6.3 1 -6.6 1 6.8 1 -8.3 1 5.8 1 -6.4 1 6.4 1 -5.9 1 5.8 1 -5.4 1 6.3 1 -6 1 7.5 1 -8.6 1 6.1 1 -4 1 10.1 1 -10.8 1 7.8 1 -8.2 1 7.8 1 -6.5 1 5 1 -7.4 1 7.1 1 -6.8 1 9.1 1 -9.9 1 7 1 -8.3 1 9.5 1 -5.5 1 6.8 1 -6.9 1 4.7 1 -5.2 1 5.8 1 -5.1 1 7.2 1 -10 1 7.3 1 -10.2 1 9.6 1 -3.8 1 6.3 1 -6.6 1 4.4 1 -3.9 1 4.2 1 -4.3 1 5.4 1 -5.3 1 4.5 1 -8.3 1 8.8 1 -5.7 1 4.4 1 -9.2 1 9 1 -4.7 1 5.5 1 -6.9 1 7.6 1 -9.9 1 13.7 1 -11 1 6.8 1 -5.9 1 9.2 1 -10.2 1 8.2 1 -10.8 1 9.2 1 -7.3 1 8.9 1 -6.7 1 6.7 1 -6 1 3.6 1 -7 1 12.7 1 -10.1 1 5.2 1 -4.7 1 8.6 1 -8.6 1 5.6 1 -8 1 7.2 1 -9.8 1 9.6 1 -6.7 1 6.3 1 -4.8 1 6.5 1 -5.9 1 6.9 1 -11.2 1 8.7 1 -5.1 1 4.5 1 -4.2 1 5.7 1 -5.1 1 9.2 1 -9.2 1 4.8 1 -4.5 1 3.9 1 -6.6 1 6.9 1 -7.4 1 9.3 1 -7 1 4.4 1 -6.2 1 10.2 1 -7.9 1 3.8 1 -6.5 1 7.9 1 -5.3 1 4.1 1 -4.7 1 8.7 1 -7.9 1 5.7 1 -5.8 1 5.1 1 -5.6 1 5.5 1 -4.8 1 6.7 1 -11.9 1 9.8 1 -5.2 1 6.6 1 -6 1 3.5 1 -5.3 1 6.5 1 -6.1 1 4.9 1 -6.5 1 8.2 1 -5.1 1 5.1 1 -10.3 1 9 1 -8.3 1 13 1 -11.3 1 7.2 1 -5.2 1 4.8 1 -6.3 1 5.9 1 -4.6 1 5.6 1 -8.7 1 11.2 1 -8 1 5.7 1 -6.6 1 6.3 1 -4.8 1 3.9 1 -4.7 1 5.3 1 -4.5 1 4.3 1 -3.8 1 4.4 1 -4.5 1 3.4 1 -5.6 1 5.6 1 -5.2 1 6 1 -4.5 1 4.8 1 -5.5 1 8 1 -12.1 1 9.2 1 -4.7 1 5.1 1 -4.5 1 4.3 1 -4.3 1 3.7 1 -5.8 1 7.5 1 -6.3 1 9.2 1 -8.4 1 3.8 1 -4.9 1 5.3 1 -5.6 1 4.8 1 -5.1 1 5.2 1 -3.7 1 3.7 1 -5.2 1 5 1 -8.1 1 8.8 1 -4.1 1 3.9 1 -4.6 1 4.4 1 -5.5 1 7.3 1 -6.6 1 8 1 -8.5 1 5.2 1 -3.7 1 4.4 1 -4.5 1 4.3 1 -4.7 1 6.2 1 -6.4 1 6.9 1 -7.1 1 4.3 1 -7.9 1 8.2 1 -4 1 3.7 1 -4 1 5.7 1 -5.1 1 7.4 1 -7.1 1 7.6 1 -9.7 1 5.4 1 -3.3 1 3.2 1 -4.3 1 4.6 1 -8.3 1 8.1 1 -5.6 1 6.1 1 -3.6 1 4.9 1 -6.2 1 4.6 1 -3.9 1 3.7 1 -3.3 1 4.3 1 -5.2 1 4.3 1 -3.7 1 8.3 1 -8.4 1 4.5 1 -4.1 1 3.1 1 -4.3 1 4.7 1 -5.3 1 5.3 1 -4 1 5.1 1 -6.1 1 5.2 1 -5.4 1 6 1 -6.6 1 7.5 1 -7.5 1 5.8 1 -3.4 1 3 1 -3.5 1 4.3 1 -4.1 1 3.5 1 -3.9 1 4.2 1 -3.4 1 5.5 1 -6.5 1 4.1 1 -3.6 1 4.6 1 -4.2 1 4 1 -5.8 1 5 1 -4.1 1 7.2 1 -7.9 1 5.4 1 -3.7 1 6.7 1 -11.5 1 9.9 1 -5.4 1 4.4 1 -6.4 1 6.2 1 -8.6 1 8.9 1 -4.2 1 3.4 1 -8.1 1 12.3 1 -11.3 1 6.9 1 -3.6 1 4.6 1 -4.2 1 6 1 -6.9 1 5.6 1 -6 1 4.8 1 -6.8 1 6.5 1 -4.2 1 4.6 1 -5.4 1 6.4 1 -5.4 1 4.2 1 -3.7 1 3.2 1 -3.7 1 3.6 1 -3.4 1 8.2 1 -9 1 5 1 -7.7 1 11.7 1 -9.7 1 5.4 1 -6.3 1 8.1 1 -6.5 1 5.1 1 -4.1 1 3.7 1 -4.3 1 4.8 1 -4.6 1 5.9 1 -5.4 1 3.3 1 -3.2 1 4.4 1 -4.2 1 3.4 1 -3.6 1 3.1 1 -6.9 1 7.5 1 -6.7 1 7 1 -8.4 1 7.6 1 -3.6 1 3.8 1 -5.1 1 5.1 1 -4.3 1 4.2 1 -3.1 1 5.9 1 -7.9 1 7.1 1 -9.7 1 10.1 1 -5.5 1 3.3 1 -4 1 7.7 1 -6.9 1 4.6 1 -4.7 1 3.1 1 -3.4 1 3.9 1 -6.8 1 8.8 1 -6 1 7.9 1 -7.5 1 2.9 1 -3.7 1 4.2 1 -6.2 1 5.6 1 -5.7 1 6.2 1 -5.4 1 4.9 1 -6.2 1 8.7 1 -6.4 1 6.4 1 -7.5 1 7.7 1 -7 1 8.9 1 -8.5 1 5.6 1 -5.3 1 8.2 1 -7.3 1 4.6 1 -5 1 4.7 1 -4.6 1 3.6 1 -4.9 1 5 1 -4.9 1 5.7 1 -4.4 1 4.6 1 -4.9 1 4 1 -4.5 1 4.4 1 -3.8 1 3.3 1 -4.3 1 6.1 1 -5 1 4.3 1 -4.2 1 4.3 1 -4.6 1 3.8 1 -4.9 1 5.2 1 -4.4 1 4 1 -5.5 1 5.5 1 -4.7 1 4.3 1 -6.2 1 10.7 1 -7.6 1 3.8 1 -3.7 1 3.6 1 -6.2 1 6.7 1 -4.1 1 7.5 1 -8.4 1 3.9 1 -3.4 1 3.5 1 -5.9 1 6.4 1 -4.4 1 6.2 1 -6.4 1 4 1 -2.9 1 3.1 1 -4.6 1 5.6 1 -4.6 1 3.8 1 -3.3 1 2.9 1 -4.2 1 6.3 1 -5.9 1 5.3 1 -5.1 1 3.6 1 -2.8 1 4.9 1 -7.7 1 10.1 1 -7.8 1 5 1 -6.4 1 6.1 1 -6.6 1 9.4 1 -7.3 1 4.8 1 -5.2 1 5.8 1 -8.5 1 10 1 -8.5 1 8.1 1 -6.4 1 3 1 -3.5 1 5.2 1 -6.8 1 7.5 1 -5.4 1 4.5 1 -5.4 1 4 1 -3.8 1 5.7 1 -5 1 6 1 -6 1 3 1 -3.4 1 5.4 1 -6.8 1 7.5 1 -5.8 1 3.3 1 -3.3 1 3.3 1 -3.7 1 8 1 -8.8 1 4.8 1 -7.7 1 8.2 1 -3.8 1 2.8 1 -3.9 1 4.1 1 -3.4 1 3.7 1 -4.5 1 7.6 1 -6.5 1 6.3 1 -7 1 4 1 -3.7 1 3.8 1 -4 1 4.1 1 -6 1 5.9 1 -3.7 1 6.8 1 -8.5 1 4.8 1 -3.8 1 5.1 1 -4.2 1 3.4 1 -3.5 1 3.1 1 -3.8 1 3.8 1 -3.6 1 4.4 1 -4.8 1 6.5 1 -5.3 1 2.9 1 -4.4 1 4.9 1 -3.7 1 3.3 1 -3.3 1 6.5 1 -6.8 1 4.5 1 -5 1 5.7 1 -5.5 1 4.2 1 -5 1 4.9 1 -3.3 1 7.3 1 -10.9 1 7.2 1 -5.2 1 6.7 1 -5.6 1 3.6 1 -3.2 1 5.8 1 -10.1 1 8 1 -8 1 8.1 1 -4.4 1 3.9 1 -4.2 1 4.5 1 -6.2 1 9.6 1 -8.5 1 5.2 1 -4.1 1 7.8 1 -8.7 1 5.5 1 -4 1 7.2 1 -7.7 1 4.1 1 -3.8 1 7.4 1 -10.1 1 6.3 1 -5.6 1 9.4 1 -10 1 5.6 1 -2.9 1 3.4 1 -4.2 1 3.9 1 -3.2 1 3.2 1 -7.3 1 9.3 1 -5.2 1 3.6 1 -5.9 1 5.6 1 -4.1 1 4.1 1 -6.7 1 7.3 1 -4.2 1 5 1 -4.8 1 3.4 1 -6.6 1 9.2 1 -5.9 1 3 1 -5.7 1 6.3 1 -5.4 1 5.3 1 -3.4 1 3 1 -3.7 1 5.3 1 -7.8 1 6.5 1 -3.9 1 5.1 1 -6 1 6.3 1 -6.6 1 5.6 1 -5.6 1 5.4 1 -5.5 1 5.5 1 -3.6 1 5 1 -5.1 1 3.9 1 -5.4 1 5.7 1 -5.1 1 8.2 1 -7.5 1 4 1 -5.4 1 8.9 1 -7.4 1 3 1 -4.8 1 6.1 1 -4.7 1 6.5 1 -10 1 7.4 1 -3.8 1 4.3 1 -4.2 1 3.8 1 -3.5 1 5.1 1 -5.5 1 6.1 1 -7.5 1 5.4 1 -3.5 1 2.6 1 -2.7 1 4.7 1 -5.3 1 5 1 -4.1 1 4 1 -7.7 1 6.1 1 -2.4 1 4.5 1 -4.9 1 3.1 1 -4.6 1 6.5 1 -8 1 6 1 -3.3 1 3.1 1 -2.9 1 4.6 1 -4.3 1 3.2 1 -3.8 1 3.1 1 -2.4 1 2.8 1 -4.9 1 5.6 1 -4.1 1 3.2 1 -4.1 1 4 1 -3.5 1 3.6 1 -5.1 1 4.8 1 -2 1 4.2 1 -4.3 1 3 1 -3.3 1 3.3 1 -3.8 1 3.6 1 -3.3 1 4 1 -3.6 1 3.5 1 -3.3 1 3.7 1 -4.2 1 3.8 1 -3.5 1 5.9 1 -8.5 1 7.3 1 -6.4 1 5.6 1 -3.8 1 3 1 -3.2 1 2.6 1 -3.8 1 7.6 1 -10.2 1 6.9 1 -3.2 1 3.8 1 -3.7 1 4.7 1 -7.4 1 6.5 1 -6.4 1 5.5 1 -5.5 1 5.7 1 -3.9 1 6.7 1 -6.7 1 5.5 1 -4.9 1 2.9 1 -6.4 1 9.6 1 -7.9 1 5.5 1 -3.8 1 3 1 -5.2 1 8.2 1 -6 1 4.4 1 -5 1 4.4 1 -4.3 1 4.4 1 -3.6 1 3 1 -3.3 1 3.6 1 -3.9 1 7.6 1 -10.4 1 7.6 1 -4.7 1 4.2 1 -4.5 1 4 1 -5.7 1 7.1 1 -6.2 1 4.8 1 -3.8 1 3.8 1 -4.6 1 5.7 1 -6.3 1 5.7 1 -4 1 4.9 1 -5.7 1 7.9 1 -7.3 1 3.3 1 -4.9 1 4.7 1 -2.7 1 3.8 1 -5 1 4.2 1 -2.8 1 3.4 1 -5.1 1 8.1 1 -6.7 1 3.1 1 -4.1 1 5.5 1 -4.5 1 2.8 1 -2.7 1 2.9 1 -3.4 1 3.3 1 -2.5 1 5.9 1 -6.8 1 3.1 1 -3.5 1 3.7 1 -2.8 1 3.4 1 -4.3 1 7 1 -5.9 1 2.4 1 -2.3 1 2.7 1 -2.7 1 2.8 1 -3.1 1 5.5 1 -7.9 1 5.5 1 -3 1 4.6 1 -5.3 1 5.3 1 -4.6 1 2.4 1 -2.2 1 2.4 1 -3 1 3.7 1 -2.9 1 3.6 1 -4.6 1 3.5 1 -3 1 3.1 1 -3.6 1 3.7 1 -4.9 1 5.2 1 -3.4 1 3.9 1 -4.3 1 3 1 -3.2 1 5.4 1 -5 1 3.5 1 -2.9 1 2.1 1 -2.4 1 5.5 1 -5.3 1 2.6 1 -3.6 1 5.6 1 -8 1 6.7 1 -3.3 1 2.9 1 -5.4 1 5.2 1 -2.7 1 5.2 1 -7.7 1 6.3 1 -4 1 4 1 -3.9 1 2.7 1 -2.6 1 2.6 1 -5.3 1 6.7 1 -5.4 1 4.9 1 -3.8 1 2.8 1 -2.9 1 5.2 1 -5.8 1 3.5 1 -3 1 3.6 1 -3.4 1 2.8 1 -3.5 1 6.1 1 -5.5 1 3.5 1 -5.3 1 5.7 1 -4.9 1 5.5 1 -6.4 1 4.8 1 -3.7 1 3.7 1 -2.9 1 2.9 1 -2.9 1 5.6 1 -5.6 1 2.9 1 -3 1 4.9 1 -5.6 1 4.7 1 -5.1 1 4.5 1 -5.1 1 5.5 1 -3.9 1 3.4 1 -7.3 1 9 1 -5.7 1 4.6 1 -4.8 1 3.9 1 -2.7 1 4 1 -5.4 1 6.9 1 -6.7 1 5.6 1 -5.4 1 4.3 1 -4 1 7.3 1 -10 1 8.7 1 -6.3 1 3.9 1 -2.9 1 5.6 1 -5.6 1 3.1 1 -5 1 4.7 1 -4.6 1 4.7 1 -4.6 1 5.7 1 -4.2 1 3.2 1 -3.3 1 3.8 1 -6.1 1 6 1 -3.8 1 3.4 1 -3 1 3.7 1 -4.2 1 5.5 1 -5.6 1 6.5 1 -6.3 1 3.6 1 -3.1 1 4 1 -3.8 1 2.3 1 -2.7 1 4.5 1 -5.1 1 3.5 1 -5.1 1 6.6 1 -4 1 2.4 1 -3.6 1 5.4 1 -5.6 1 5.7 1 -4.4 1 2.2 1 -2.6 1 2.6 1 -3.2 1 5.7 1 -5.1 1 3.4 1 -3.3 1 2.6 1 -2.3 1 3.4 1 -5.7 1 4.9 1 -2.6 1 4 1 -4.2 1 3.9 1 -4.7 1 3.5 1 -3.1 1 3.2 1 -2.6 1 2.4 1 -3.2 1 4.6 1 -3.8 1 2.4 1 -2.3 1 5.6 1 -5.7 1 2.7 1 -2.7 1 3 1 -4 1 4 1 -4.2 1 3.7 1 -5.1 1 6.4 1 -4 1 3.1 1 -2.8 1 4.1 1 -6.7 1 5.6 1 -3.5 1 4.4 1 -4.4 1 2.7 1 -3.5 1 4 1 -6.4 1 6.6 1 -3.1 1 4.1 1 -7.6 1 6 1 -2.8 1 3.4 1 -4.3 1 4.9 1 -4.6 1 5.5 1 -5.9 1 3.7 1 -5.9 1 7.8 1 -5.4 1 5.1 1 -5.8 1 4.2 1 -3.3 1 3.4 1 -2.7 1 4.4 1 -4.9 1 3.4 1 -2.8 1 3.2 1 -3.1 1 2.9 1 -4.9 1 4.9 1 -3.6 1 6.4 1 -6 1 3 1 -3.2 1 3.4 1 -6.4 1 5.9 1 -2.4 1 4.1 1 -4 1 2.9 1 -4.3 1 3.8 1 -2.8 1 3.1 1 -3.6 1 4.4 1 -5.3 1 4.3 1 -2.9 1 4.5 1 -6.7 1 5.4 1 -2.9 1 2.7 1 -4.7 1 4.7 1 -3 1 3.1 1 -3.5 1 4.6 1 -4.1 1 3.6 1 -7 1 7.1 1 -4.5 1 5.4 1 -5.6 1 4.6 1 -6.1 1 5.5 1 -3.3 1 7.9 1 -8 1 3.4 1 -3.2 1 7.3 1 -7.4 1 4.3 1 -6 1 4.9 1 -3.4 1 5.4 1 -5.4 1 4.1 1 -4.9 1 6.7 1 -6 1 3.8 1 -3.3 1 3.6 1 -5.3 1 8.6 1 -8 1 4.4 1 -4.8 1 4.8 1 -3.5 1 3.5 1 -7.5 1 8.9 1 -4.7 1 7.5 1 -8.3 1 4.2 1 -5.3 1 6.2 1 -6 1 5.8 1 -4.6 1 3.7 1 -5.1 1 6.2 1 -5.3 1 5.8 1 -6 1 8.6 1 -9.7 1 9.9 1 -8.1 1 5.3 1 -8.9 1 9.8 1 -6.6 1 6.4 1 -7.1 1 5.4 1 -6.2 1 5.8 1 -3.7 1 3.9 1 -4 1 7.1 1 -7.3 1 9.5 1 -9.1 1 3.5 1 -4.4 1 6 1 -6.8 1 5.3 1 -4.8 1 5 1 -4.2 1 4.3 1 -4.4 1 7.5 1 -9.8 1 6.5 1 -5.7 1 5.9 1 -3.9 1 3.6 1 -6 1 7.8 1 -6.7 1 5 1 -6.5 1 7.5 1 -6.2 1 8 1 -7.1 1 4.7 1 -4.2 1 4.3 1 -7.1 1 8.1 1 -5.7 1 4.5 1 -5.8 1 8.6 1 -7.7 1 4.4 1 -8.7 1 12.5 1 -9 1 5.2 1 -4.5 1 5.1 1 -4.2 1 4.5 1 -5.6 1 5.9 1 -5.3 1 4.6 1 -7 1 6.7 1 -5 1 6.2 1 -5.2 1 3.8 1 -4.7 1 6.1 1 -5.2 1 3.8 1 -4.8 1 4.8 1 -4.5 1 7.1 1 -9.5 1 8.5 1 -6.8 1 5.5 1 -5.1 1 5.3 1 -7.2 1 7.6 1 -6.2 1 7.9 1 -7.1 1 9.4 1 -9.8 1 5.5 1 -7.6 1 9 1 -5.5 1 4 1 -6.6 1 8.1 1 -6.7 1 10.2 1 -9.8 1 6.5 1 -6.5 1 4.9 1 -4.5 1 4.1 1 -3.9 1 4.1 1 -4.5 1 9.9 1 -9.6 1 4.9 1 -5 1 4.9 1 -4.6 1 4.2"/></g>
<path class="sig" stroke-width=".4" d="M86.6 147.5 86.9 148.1 87.1 147.6 87.4 148.2 87.6 147.5 87.9 148.7 88.1 147 88.4 148.9 88.6 146.4 88.9 148.7 89.1 146 89.4 149.3 89.6 145.5 89.9 150.2 90.2 146.5 90.4 150.5 90.7 145.4 90.9 149 91.2 145.6 91.4 150.1 91.7 143.8 91.9 151.2 92.2 145 92.4 154 92.7 144.6 92.9 154.6 93.2 140.6 93.4 151.6 93.7 139.9 94 156 94.2 139.2 94.5 158.9 94.7 136.4 95 155.3 95.2 141.2 95.5 152.4 95.7 140.8 96 158 96.2 135.5 96.5 153.1 96.7 133.8 97 161.8 97.3 133.8 97.5 160.8 97.8 143.2 98 152.2 98.3 135.9 98.5 155.6 98.8 140.8 99 159.9 99.3 136.6 99.5 153 99.8 142.5 100 157.7 100.3 138.3 100.6 153.5 100.8 142.5 101.1 154.9 101.3 144.9 101.6 151.5 101.8 145.5 102.1 150.2 102.3 145.6 102.6 150.5 102.8 143.7 103.1 151.9 103.3 146.1 103.6 149.2 103.8 145.5 104.1 150 104.4 145.6 104.6 149.3 104.9 145.9 105.1 148.5 105.4 146.8 105.6 148.3 105.9 146.6 106.1 148.8 106.4 147.1 106.6 148.4 106.9 147.3 107.1 148.3 107.4 147.3"/>
<path class="sig" stroke-width=".4" d="M105 147.4 105.3 148.2 105.5 147.2 105.8 148.1 106 147.2 106.3 148.1 106.5 147 106.8 149 107 146.8 107.3 149.1 107.5 147.1 107.8 148.4 108 146.7 108.3 150 108.5 146.5 108.8 148.9 109 145 109.3 150.4 109.5 146.1 109.8 150.7 110 145.6 110.3 150.7 110.6 144 110.8 153.7 111.1 144.1 111.3 150.4 111.6 142 111.8 154.8 112.1 140.4 112.3 151.9 112.6 139 112.8 151.5 113.1 143.8 113.3 156.9 113.6 138.5 113.8 155.8 114.1 137.8 114.3 154.2 114.6 134.8 114.8 155.8 115.1 135.6 115.3 161.4 115.6 137.8 115.9 151.7 116.1 134.4 116.4 163.3 116.6 140.5 116.9 164.1 117.1 142.6 117.4 161.5 117.6 130.8 117.9 164.7 118.1 130.8 118.4 163.9 118.6 133.9 118.9 162.8 119.1 135.9 119.4 155.1 119.6 135.5 119.9 160.6 120.1 140.2 120.4 157.9 120.7 134.9 120.9 159.9 121.2 140 121.4 158.5 121.7 135.8 121.9 159 122.2 143.8 122.4 153.7 122.7 142.5 122.9 154.3 123.2 143.6 123.4 151.5 123.7 140.3 123.9 152.9 124.2 144.1 124.4 150.6 124.7 144 124.9 153.4 125.2 143.3 125.4 152.7 125.7 143.3 126 152.5 126.2 146.5 126.5 151 126.7 146.2 127 149.3 127.2 146.7 127.5 150.1 127.7 147 128 149.4 128.2 146.9 128.5 149.3 128.7 146.9 129 148.2 129.2 146.4 129.5 148.3 129.7 147.1 130 148.1 130.2 147.4 130.5 148.2 130.7 147.6 131 147.9"/>
<path class="sig" stroke-width=".4" d="M118.8 147.6 119.1 147.9 119.3 147.5 119.6 148.1 119.8 147.7 120.1 148 120.3 147.6 120.6 147.9 120.8 147.4 121.1 148 121.3 147.5 121.6 148.1 121.8 147.5 122.1 148.2 122.3 147.5 122.6 148.3 122.8 147.3 123.1 148.3 123.3 147.1 123.6 148 123.8 147.1 124.1 148.2 124.3 147.2 124.6 148.4 124.8 147.1 125.1 148.6 125.3 147.3 125.6 148.5 125.8 146.9 126.1 148.4 126.3 147.3 126.6 148.9 126.9 147.4 127.1 148.7 127.4 146.8 127.6 148.8 127.9 146.4 128.1 149.2 128.4 147.1 128.6 149.1 128.9 146.3 129.1 148.9 129.4 146.3 129.6 148.3 129.9 146.6 130.1 149 130.4 146 130.6 148.8 130.9 145.6 131.1 149.6 131.4 145.8 131.6 150.1 131.9 146.1 132.1 149.5 132.4 147 132.6 148.7 132.9 145.3 133.1 149.9 133.4 145.2 133.6 149.7 133.9 146.5 134.1 148.9 134.4 144.5 134.7 150.6 134.9 146.4 135.2 149.6 135.4 146.2 135.7 149.8 135.9 144.8 136.2 150.2 136.4 144 136.7 149.1 136.9 146.5 137.2 151.6 137.4 143.6 137.7 151.3 137.9 145.6 138.2 151.3 138.4 146.1 138.7 151.2 138.9 144.5 139.2 149.5 139.4 143.2 139.7 153 139.9 145.7 140.2 153 140.4 145.9 140.7 152.5 140.9 142.4 141.2 151.8 141.4 142.3 141.7 153.8 141.9 143.4 142.2 152.4 142.5 141.5 142.7 151 143 142.3 143.2 153.2 143.5 142.4 143.7 153.1 144 144.5 144.2 154.4 144.5 142.4 144.7 151.6 145 144.7 145.2 153.8 145.5 145.7 145.7 152.8 146 144.5 146.2 154.9 146.5 141.6 146.7 152.5 147 142.1 147.2 152.7 147.5 145.3 147.7 152.4 148 141.9 148.2 152.9 148.5 140.1 148.7 152.2 149 142.4 149.2 152.2 149.5 140.4 149.7 155.7 150 139.8 150.3 155.7 150.5 142.9 150.8 154.7 151 143.3 151.3 155.2 151.5 140.9 151.8 150.7 152 142.4 152.3 154.9 152.5 140.3 152.8 150.5 153 145.1 153.3 152.7 153.5 142.7 153.8 151.3 154 140.7 154.3 151.1 154.5 141.8 154.8 153.9 155 145.7 155.3 149.9 155.5 142.5 155.8 150.3 156 144.9 156.3 154 156.5 143.5 156.8 151.6 157 141.3 157.3 151.8 157.5 144.9 157.8 151.7 158.1 143.6 158.3 153.3 158.6 142.3 158.8 150.4 159.1 144.1 159.3 153.4 159.6 145.2 159.8 150.2 160.1 144.4 160.3 153 160.6 144.9 160.8 151.4 161.1 145.4 161.3 149.7 161.6 145.1 161.8 150.8 162.1 143.8 162.3 150.6 162.6 143.8 162.8 152 163.1 146.3 163.3 151.2 163.6 145.7 163.8 150 164.1 146.4 164.3 150.6 164.6 144.3 164.8 149.7 165.1 144.9 165.3 150.8 165.6 145.7 165.9 149.4 166.1 146.5 166.4 150.8 166.6 146.2 166.9 150.1 167.1 145.9 167.4 150.3 167.6 146.3 167.9 150.1 168.1 145.3 168.4 150 168.6 146.5 168.9 148.9 169.1 146.4 169.4 149.6 169.6 146.2 169.9 148.7 170.1 146.5 170.4 148.6 170.6 146.2 170.9 149.4 171.1 146.8 171.4 149.3 171.6 146.7 171.9 148.6 172.1 147.3 172.4 148.5 172.6 146.5 172.9 148.8 173.1 146.6 173.4 148.1 173.7 146.8 173.9 148.5 174.2 146.7 174.4 148.6 174.7 147.1 174.9 148.5 175.2 146.9 175.4 148 175.7 147.4 175.9 148.2 176.2 147.4 176.4 148.2 176.7 147.3 176.9 148.3 177.2 147.6 177.4 148.3 177.7 147.5 177.9 147.9 178.2 147.3 178.4 148 178.7 147.5 178.9 148 179.2 147.6 179.4 148.1 179.7 147.6 179.9 148.1 180.2 147.5 180.4 148 180.7 147.5 180.9 148 181.2 147.6"/>
<path class="sig" stroke-width=".4" d="M189.4 147.4 189.7 148.1 189.9 147.5 190.2 148.3 190.4 147.4 190.7 148.4 190.9 147.2 191.2 148.6 191.4 147.2 191.7 148.4 191.9 146.8 192.2 148.6 192.4 147.2 192.7 148.7 193 146.6 193.2 148.5 193.5 146.2 193.7 149.3 194 146.6 194.2 150.5 194.5 145.4 194.7 149.3 195 145.3 195.2 149 195.5 144.1 195.7 150.1 196 145.3 196.2 151.5 196.5 145.3 196.8 154 197 142.4 197.3 150.9 197.5 145.6 197.8 151.7 198 144.1 198.3 150.2 198.5 143.7 198.8 155.2 199 144.5 199.3 153.3 199.5 142.6 199.8 155.3 200.1 141.3 200.3 152.7 200.6 141 200.8 158.9 201.1 137.3 201.3 157.5 201.6 137 201.8 157.3 202.1 137 202.3 161 202.6 141.1 202.8 152.9 203.1 141.6 203.4 153.6 203.6 140.6 203.9 162.4 204.1 139 204.4 160 204.6 134.8 204.9 165.7 205.1 134.8 205.4 162.5 205.6 140.5 205.9 156.7 206.1 139.3 206.4 155 206.6 143.8 206.9 154.8 207.2 138.3 207.4 163.5 207.7 138.7 207.9 160.7 208.2 144.1 208.4 156.1 208.7 139.7 208.9 157 209.2 142.5 209.4 160.8 209.7 143.4 209.9 157.7 210.2 142.1 210.5 159.4 210.7 145.7 211 156.2 211.2 140.9 211.5 156.3 211.7 145.8 212 152.5 212.2 143.7 212.5 152.6 212.7 145.3 213 149.9 213.2 144.1 213.5 154.2 213.8 144.8 214 150.6 214.3 146.2 214.5 152.7 214.8 144.5 215 149.2 215.3 145.1 215.5 150.8 215.8 146.4 216 150 216.3 146.5 216.5 149.3 216.8 146.5 217 149.8 217.3 146.9 217.6 148.5 217.8 146.5 218.1 148.6 218.3 147.3 218.6 149 218.8 147.2 219.1 148.8 219.3 147 219.6 148.1 219.8 147.3 220.1 148.2 220.3 147.5 220.6 148.1"/>
<path class="sig" stroke-width=".4" d="M207.5 147.4 207.8 148.3 208 147.4 208.3 148.4 208.5 147.1 208.8 148.4 209 147 209.3 150.3 209.5 146 209.8 150.3 210 145.8 210.3 151.1 210.6 146.2 210.8 152.7 211.1 143.9 211.3 153 211.6 144.1 211.8 156.6 212.1 144.3 212.3 151.6 212.6 135.3 212.9 158.7 213.1 138.8 213.4 159.8 213.6 131.9 213.9 163.7 214.1 131.8 214.4 156.9 214.6 134.6 214.9 153.1 215.1 143.3 215.4 160.1 215.7 138.3 215.9 152.4 216.2 142.3 216.4 156.9 216.7 142.8 216.9 154.9 217.2 142.7 217.4 150 217.7 145.2 218 150.4 218.2 146.1 218.5 150.8 218.7 145.3 219 149.7 219.2 146 219.5 148.6 219.7 147.4 220 148.6 220.2 147.1 220.5 148"/>
<path class="sig" stroke-width=".4" d="M216.8 147.4 217.1 148.8 217.4 146.9 217.6 148.6 217.9 146.2 218.1 151.4 218.4 143.2 218.7 150.9 218.9 144.1 219.2 154.7 219.4 139.6 219.7 152.4 220 141.7 220.2 165 220.5 134.7 220.7 169.5 221 125.8 221.3 169.5 221.5 131.3 221.8 164 222 141 222.3 157.7 222.6 141.6 222.8 155.1 223.1 143.9 223.3 154.7 223.6 142.5 223.9 150.9 224.1 145.5 224.4 150 224.6 146.5 224.9 148.4 225.2 147.4"/>
<path class="sig" stroke-width=".4" d="M301.2 147.4 301.5 148.1 301.7 147.2 302 148.5 302.2 147 302.5 148.8 302.7 146.9 303 149.1 303.2 147.1 303.5 149.7 303.8 146.8 304 148.9 304.3 145.3 304.5 150.3 304.8 144.4 305 149.6 305.3 143 305.5 151.4 305.8 142 306.1 154.9 306.3 144.7 306.6 151.5 306.8 139.4 307.1 152.6 307.3 142.3 307.6 153.9 307.8 144.1 308.1 153.5 308.4 142.9 308.6 159.7 308.9 135.8 309.1 159.7 309.4 136.9 309.6 156.5 309.9 142 310.2 155 310.4 137.5 310.7 150.7 310.9 143.3 311.2 150.7 311.4 139.5 311.7 151.9 311.9 141.1 312.2 151.5 312.5 142.4 312.7 151 313 144.7 313.2 150.5 313.5 145 313.7 150 314 146.3 314.2 148.6 314.5 147.1 314.8 149.2 315 146.3 315.3 149 315.5 146.9 315.8 148.7 316 147.2 316.3 148.2 316.5 147.3 316.8 148.1"/>
<path class="sig" stroke-width=".4" d="M328.9 147.5 329.2 148.3 329.4 147.3 329.7 148.7 329.9 146.8 330.2 149.3 330.4 146.3 330.7 149.4 331 146.8 331.2 150.6 331.5 146.4 331.7 151 332 143.8 332.2 149.9 332.5 146 332.7 149.7 333 144.9 333.3 150.8 333.5 144.5 333.8 156.5 334 144.6 334.3 153.3 334.5 143.1 334.8 158.5 335.1 143.5 335.3 157.1 335.6 137.2 335.8 155.9 336.1 139.5 336.3 162.6 336.6 134.6 336.8 164.6 337.1 143.1 337.4 153.3 337.6 128.9 337.9 166.7 338.1 128.8 338.4 157.5 338.6 135.7 338.9 157.4 339.2 139.8 339.4 161.1 339.7 137.9 339.9 161 340.2 138.3 340.4 161 340.7 134 340.9 159.8 341.2 140.3 341.5 159 341.7 140.6 342 155.1 342.2 144.9 342.5 155.6 342.7 141.7 343 153.6 343.3 145.7 343.5 149.8 343.8 146.2 344 151.3 344.3 144.3 344.5 150.2 344.8 145.5 345 150 345.3 145.7 345.6 148.8 345.8 146.7 346.1 148.2 346.3 147.1 346.6 148.3 346.8 147.5 347.1 148"/>
<path class="sig" stroke-width=".4" d="M349.6 147.6 349.9 148.2 350.1 146.9 350.4 148.5 350.6 145.9 350.9 149.9 351.2 144.8 351.4 152 351.7 144.5 351.9 155.2 352.2 144.9 352.5 150.4 352.7 139.2 353 159.1 353.2 134.9 353.5 160.8 353.8 134.9 354 155.2 354.3 140 354.5 157.4 354.8 139.5 355.1 151.9 355.3 145.4 355.6 150.8 355.8 145.5 356.1 150.3 356.4 146.8 356.6 148.8 356.9 146.9 357.1 148.4 357.4 147.5"/>
<path class="sig" stroke-width=".4" d="M360.2 147 360.5 148.6 360.8 146.4 361 149.6 361.3 146.4 361.5 150.9 361.8 143.5 362 149.8 362.3 145.7 362.5 149.7 362.8 138.7 363 150.1 363.3 141.9 363.6 157.5 363.8 131.2 364.1 153.2 364.3 134 364.6 163 364.8 127.3 365.1 160.5 365.3 128.1 365.6 171.4 365.9 115.1 366.1 166.1 366.4 119 366.6 177.4 366.9 111.8 367.1 177.7 367.4 116.5 367.6 170.2 367.9 118.6 368.1 167.9 368.4 138.2 368.7 162.2 368.9 131.8 369.2 153.8 369.4 129.3 369.7 162.9 369.9 134.7 370.2 159.1 370.4 139.8 370.7 156.5 371 140.2 371.2 150.1 371.5 141.1 371.7 151.7 372 144 372.2 149.8 372.5 144 372.7 149 373 146 373.2 148.3 373.5 147.2 373.8 148.2"/>
<path class="sig" stroke-width=".4" d="M369.7 147.3 370 148.1 370.2 147 370.5 148.4 370.7 147 371 148.4 371.2 146.8 371.5 148.7 371.7 145.9 372 149.3 372.3 144.6 372.5 148.8 372.8 146.6 373 151 373.3 143 373.5 150 373.8 142.8 374 154.8 374.3 140.9 374.6 156.6 374.8 141.7 375.1 154.2 375.3 143.5 375.6 153.2 375.8 136 376.1 157.9 376.3 136 376.6 153.8 376.9 140.4 377.1 162.6 377.4 132.8 377.6 162.7 377.9 139.3 378.1 158.3 378.4 134.2 378.7 160.6 378.9 137.6 379.2 151.4 379.4 137.4 379.7 155.3 379.9 141.8 380.2 157.2 380.4 142.7 380.7 155.2 381 141.1 381.2 151.7 381.5 143.3 381.7 152.2 382 145.2 382.2 150.2 382.5 144.7 382.7 150.3 383 145.5 383.3 149.1 383.5 146.8 383.8 148.7 384 146.4 384.3 148.6 384.5 147 384.8 148.1 385 147.2 385.3 148.2"/>
<path class="sig" stroke-width=".4" d="M422.9 147.2 423.2 148.4 423.4 146.9 423.7 149.9 424 144.6 424.2 150.4 424.5 145.4 424.8 158.3 425.1 135.6 425.3 157.5 425.6 129.8 425.9 166.6 426.1 128.9 426.4 161.5 426.7 139.9 426.9 155.3 427.2 139.2 427.5 154.9 427.8 144.9 428 150.4 428.3 145.2 428.6 149.1 428.8 147.3 429.1 148.1"/>
<path class="sig" stroke-width=".4" d="M468.8 147.4 469.1 147.9 469.3 147 469.6 148.6 469.8 147 470.1 148.3 470.4 145.7 470.6 148.7 470.9 145.2 471.1 151.5 471.4 146.2 471.7 153.2 471.9 145.9 472.2 155.5 472.4 142 472.7 154.8 473 138.3 473.2 158.8 473.5 143.1 473.7 159.6 474 135.8 474.3 159.6 474.5 140.2 474.8 157.4 475 138.6 475.3 154.4 475.6 138.9 475.8 155.4 476.1 144.7 476.3 153.4 476.6 144.2 476.9 149.5 477.1 145.7 477.4 149.3 477.6 145.7 477.9 149.4 478.2 147.1 478.4 148.3 478.7 147.5 478.9 147.9 479.2 147.5"/>
<path class="sig" stroke-width=".4" d="M484 147.5 484.3 148.8 484.5 145.5 484.8 149.6 485.1 145.9 485.4 151.3 485.6 138.4 485.9 155 486.2 130.3 486.5 164.6 486.7 128.9 487 155 487.3 134.2 487.6 153.4 487.8 144.9 488.1 152 488.4 144.8 488.7 148.8 488.9 146.6 489.2 147.9"/>
<path class="sig" stroke-width=".4" d="M563.6 147.4 563.9 148 564.1 147.6 564.4 147.9 564.6 147.5 564.9 148.1 565.1 147.5 565.4 148.1 565.6 147.4 565.9 148 566.1 147.6 566.4 148.1 566.6 147.4 566.9 148.1 567.1 147.6 567.4 148.2 567.6 147.2 567.9 148.3 568.1 147.5 568.4 148.2 568.6 147.1 568.9 148.4 569.1 147.3 569.4 148.3 569.6 147.1 569.9 148.2 570.1 147.5 570.4 148.6 570.6 147.3 570.9 148.4 571.1 147 571.4 148 571.6 146.6 571.9 148.3 572.1 146.7 572.4 148.9 572.6 147.3 572.9 148.8 573.1 146.9 573.4 148.5 573.6 146.9 573.9 148.9 574.1 146.4 574.4 149.4 574.6 146.9 574.9 149.1 575.1 146.5 575.4 148.5 575.6 146.6 575.9 148.5 576.2 146.3 576.4 148.6 576.7 146.6 576.9 149.4 577.2 147 577.4 148.5 577.7 145.7 577.9 150.1 578.2 146.2 578.4 149.6 578.7 146.4 578.9 150 579.2 146.7 579.4 149.2 579.7 146.2 579.9 149.3 580.2 144.7 580.4 150.9 580.7 145.3 580.9 148.9 581.2 145.9 581.4 151.2 581.7 145.1 581.9 151.5 582.2 145.7 582.4 150.8 582.7 146 582.9 151.7 583.2 143.5 583.4 151.1 583.7 144.6 583.9 152.2 584.2 145.6 584.4 152.2 584.7 146.2 584.9 150.6 585.2 143.7 585.4 152.2 585.7 144.8 585.9 152.4 586.2 143.7 586.4 151.4 586.7 144.8 586.9 152.1 587.2 141.9 587.4 152.7 587.7 145.7 588 150.2 588.2 141.6 588.5 150.9 588.7 141.4 589 150.6 589.2 144.8 589.5 154.4 589.7 142.4 590 154.2 590.2 141 590.5 150 590.7 144.7 591 150.5 591.2 144 591.5 150.8 591.7 144.2 592 151.8 592.2 144.8 592.5 151.9 592.7 141 593 154 593.2 145.1 593.5 151.7 593.7 143.2 594 155.6 594.2 142.5 594.5 153.3 594.7 144.1 595 150.2 595.2 142.4 595.5 152.8 595.7 140 596 154.7 596.2 142.3 596.5 150.2 596.7 139.8 597 151.7 597.2 142.2 597.5 153.7 597.7 141.6 598 154.2 598.2 139.6 598.5 151.7 598.7 139 599 153.2 599.2 139.6 599.5 155 599.7 138.8 600 156.8 600.3 138.8 600.5 150.8 600.8 143.1 601 150.9 601.3 143.3 601.5 155.8 601.8 139.7 602 155.6 602.3 144.2 602.5 153.7 602.8 141 603 156.2 603.3 142.3 603.5 154.1 603.8 143 604 155.4 604.3 139.8 604.5 156 604.8 139.6 605 150.5 605.3 140.9 605.5 152.9 605.8 139.9 606 152.6 606.3 145 606.5 153.3 606.8 145.1 607 151.7 607.3 140 607.5 155.5 607.8 141.6 608 152.6 608.3 145.8 608.5 151.7 608.8 144.1 609 152.8 609.3 142.8 609.5 153.4 609.8 142.2 610 152.8 610.3 142.5 610.5 150.2 610.8 145.7 611 151.1 611.3 142.8 611.5 149.6 611.8 142.9 612 152.9 612.3 142.3 612.6 152 612.8 143.9 613.1 151 613.3 142.8 613.6 152.8 613.8 144 614.1 152.4 614.3 144.4 614.6 152.3 614.8 143.3 615.1 152.5 615.3 144.3 615.6 152.4 615.8 143.3 616.1 150.1 616.3 145.9 616.6 151.3 616.8 145.2 617.1 151.7 617.3 146.7 617.6 149.4 617.8 146.2 618.1 149 618.3 146.7 618.6 148.7 618.8 146.5 619.1 148.8 619.3 145.7 619.6 150 619.8 146.1 620.1 149.8 620.3 146.7 620.6 150.8 620.8 146.3 621.1 150.2 621.3 146.3 621.6 150.5 621.8 146.6 622.1 148.5 622.3 146.4 622.6 148.5 622.8 145.4 623.1 150 623.3 146.7 623.6 148.4 623.8 145.9 624.1 149.7 624.4 145.8 624.6 149.5 624.9 146.5 625.1 148.5 625.4 146.7 625.6 148.4 625.9 146.4 626.1 149 626.4 146.8 626.6 149 626.9 146.6 627.1 148.3 627.4 147 627.6 148.8 627.9 147 628.1 148.8 628.4 146.6 628.6 148.8 628.9 147 629.1 148.4 629.4 147.1 629.6 148.5 629.9 146.8 630.1 148.4 630.4 147 630.6 148.6 630.9 147.2 631.1 148.4 631.4 147.3 631.6 148.2 631.9 147.4 632.1 148 632.4 147.5 632.6 148.3 632.9 147.5 633.1 148 633.4 147.3 633.6 148.1 633.9 147.5 634.1 148 634.4 147.6 634.6 147.9 634.9 147.6 635.1 147.9 635.4 147.5 635.6 148 635.9 147.5 636.1 148 636.4 147.5"/>
<path class="sig" stroke-width=".4" d="M567.6 147.3 567.8 149 568.1 147.1 568.4 149.4 568.6 146.6 568.9 150.3 569.1 143.3 569.4 149.8 569.7 141.4 569.9 151 570.2 139.5 570.4 154.3 570.7 138.9 571 156.6 571.2 131.4 571.5 160.3 571.7 132.6 572 163.2 572.3 133 572.5 159.2 572.8 134 573 174.6 573.3 120.8 573.6 174.6 573.8 127.2 574.1 172 574.3 136.8 574.6 168.1 574.9 129.1 575.1 156.6 575.4 140.9 575.6 162.6 575.9 141.2 576.2 151.4 576.4 144 576.7 152 576.9 145.7 577.2 150.9 577.5 144.6 577.7 150.8 578 145.2 578.2 149.7 578.5 146.2 578.8 148.5 579 147"/>
<path class="sig" stroke-width=".4" d="M584 146.9 584.2 148.1 584.5 146.9 584.7 148.7 585 146.3 585.3 149.3 585.5 145.1 585.8 150.1 586 144.3 586.3 151.3 586.6 139.6 586.8 153.3 587.1 142.4 587.3 161.6 587.6 136.8 587.9 166.1 588.1 129.8 588.4 157.5 588.6 137.6 588.9 171.1 589.2 132.4 589.4 156.5 589.7 122.2 589.9 177.6 590.2 113.8 590.5 177.6 590.7 131.4 591 171.5 591.2 125.6 591.5 155.9 591.8 121.6 592 159.6 592.3 129 592.5 161.8 592.8 137 593.1 161.2 593.3 143.2 593.6 153.4 593.8 137.6 594.1 151.2 594.4 143.2 594.6 152.7 594.9 145.4 595.1 149.6 595.4 146.3 595.7 149.6 595.9 146.4 596.2 148.6 596.4 146.7"/>
<path class="sig" stroke-width=".4" d="M592.3 147.1 592.6 148.1 592.9 145.9 593.1 149.3 593.4 144.5 593.6 150.4 593.9 141.2 594.2 151.4 594.4 141.1 594.7 154.5 594.9 139.7 595.2 156.8 595.5 128.5 595.7 161.8 596 137.6 596.2 166.5 596.5 122.8 596.8 166.5 597 134 597.3 160.4 597.5 139.9 597.8 157.5 598.1 136.7 598.3 157.3 598.6 142.1 598.8 154 599.1 144.5 599.4 151.2 599.6 144.9 599.9 149.3 600.1 146.6 600.4 148.1 600.7 147.2"/>
<path class="sig" stroke-width=".4" d="M603.3 147.2 603.6 149.1 603.8 147.3 604.1 150 604.3 145.2 604.6 153.2 604.9 144.9 605.1 154.2 605.4 141.2 605.6 162.1 605.9 143 606.2 161.7 606.4 137.9 606.7 166 606.9 139.3 607.2 175 607.5 132.7 607.7 173.2 608 139.4 608.2 187.4 608.5 123.8 608.8 187.4 609 133.8 609.3 157.6 609.5 128.8 609.8 169.9 610.1 141.2 610.3 164.1 610.6 141.8 610.8 166.6 611.1 141.2 611.4 153.8 611.6 141.4 611.9 155.1 612.1 145.6 612.4 152.2 612.7 146.6 612.9 150.7 613.2 146.8 613.4 149.4 613.7 147.5"/>
<path class="sig" stroke-width=".4" d="M608.9 147.3 609.2 148.6 609.4 145.7 609.7 148.7 609.9 143.2 610.2 149.3 610.5 144.2 610.7 154.1 611 138.5 611.2 157.2 611.5 140.5 611.8 163.3 612 127.4 612.3 166 612.5 120.2 612.8 172.8 613.1 120.2 613.3 159.1 613.6 126.5 613.8 154.8 614.1 129.5 614.4 161.8 614.6 138.7 614.9 153.6 615.1 142.7 615.4 152.6 615.7 143.3 615.9 149 616.2 145.8 616.4 148.9 616.7 147.2"/>
<path class="sig" stroke-width=".4" d="M614 147.1 614.3 148.3 614.5 146.7 614.8 150.3 615.1 144.8 615.3 153.1 615.6 141.4 615.8 153.8 616.1 142 616.4 155 616.6 137.5 616.9 157.1 617.1 130.6 617.4 158 617.7 126.3 617.9 159.7 618.2 120.3 618.4 186.3 618.7 114.8 619 186.3 619.2 130.5 619.5 169.3 619.7 135.6 620 168.9 620.3 134.1 620.5 170.8 620.8 135.7 621 152.1 621.3 142.9 621.6 156.4 621.8 141.2 622.1 152.6 622.3 143.6 622.6 151.1 622.9 145.8 623.1 149.2 623.4 147.1"/>
<path class="sig" stroke-width=".4" d="M620.1 147.6 620.4 148.4 620.6 146.7 620.9 149.4 621.2 146 621.4 149.7 621.7 146.3 621.9 151 622.2 141.2 622.5 153.5 622.7 139.6 623 158.7 623.2 141.8 623.5 154.7 623.8 134.4 624 152.7 624.3 138.2 624.5 166.6 624.8 128.8 625.1 166.6 625.3 143.2 625.6 164.6 625.8 137.2 626.1 157.3 626.4 137.7 626.6 157.4 626.9 142.5 627.1 153.3 627.4 142.1 627.7 150.8 627.9 144.8 628.2 149.5 628.4 145.4 628.7 148.3 629 146.7 629.2 148.4 629.5 147.3"/>
<path class="spk" d="M214.8 72.9V227.4"/>
<path class="spk" d="M363.8 128.4V209.9"/>
<path class="spk" d="M419.6 120.4V218.4"/>
<path class="spk" d="M440.6 112.4V238.9"/>
<path class="spk" d="M466.2 114.7V153.4"/>
<path class="spk" d="M607.8 71.9V195.4"/>
<path class="spk" d="M221 117.4V175.4"/>
<path class="spk" d="M124.5 130.4V167.4"/>
</g>
<path class="ax" d="M43.3 534.2V330.1H645.6V534.2"/>
<path class="ax" style="stroke:#868686" d="M42.8 534.2H646.1"/>
<text x="43.3" y="548.8" text-anchor="middle">00:00</text>
<text x="118.6" y="548.8" text-anchor="middle">03:00</text>
<text x="193.9" y="548.8" text-anchor="middle">06:00</text>
<text x="269.2" y="548.8" text-anchor="middle">09:00</text>
<text x="344.5" y="548.8" text-anchor="middle">12:00</text>
<text x="419.7" y="548.8" text-anchor="middle">15:00</text>
<text x="495" y="548.8" text-anchor="middle">18:00</text>
<text x="570.3" y="548.8" text-anchor="middle">21:00</text>
<text x="645.6" y="548.8" text-anchor="middle">00:00</text>
<text x="39.6" y="538.4" text-anchor="end">-2</text>
<text x="39.6" y="497.5" text-anchor="end">-1</text>
<text x="39.6" y="456.7" text-anchor="end">0</text>
<text x="39.6" y="415.9" text-anchor="end">1</text>
<text x="39.6" y="375.1" text-anchor="end">2</text>
<text x="39.6" y="334.2" text-anchor="end">3</text>
<path class="tk" d="M118.6 533.7v-6M118.6 330.6v6M193.9 533.7v-6M193.9 330.6v6M269.2 533.7v-6M269.2 330.6v6M344.5 533.7v-6M344.5 330.6v6M419.7 533.7v-6M419.7 330.6v6M495 533.7v-6M495 330.6v6M570.3 533.7v-6M570.3 330.6v6M43.8 493.4h6M645.1 493.4h-6M43.8 452.6h6M645.1 452.6h-6M43.8 411.7h6M645.1 411.7h-6M43.8 370.9h6M645.1 370.9h-6"/>
<text x="20.4" y="432.2" text-anchor="middle" font-weight="bold" font-size="12.4" transform="rotate(-90 20.4 432.2)">Y (nT)</text>
<g clip-path="url(#cs1)">
<path d="M43.3 449.3 L44.3 449.3 L45.3 449.3 L46.3 449.3 L47.3 449.3 L48.3 449.3 L49.3 449.3 L50.3 449.3 L51.3 449.3 L52.3 449.3 L53.3 449.3 L54.3 449.3 L55.3 449.3 L56.3 449.3 L57.3 449.3 L58.3 449.3 L59.3 449.3 L60.3 449.3 L61.3 449.3 L62.3 449.3 L63.3 449.3 L64.3 449.3 L65.3 449.3 L66.3 449.3 L67.3 449.3 L68.3 449.3 L69.3 449.3 L70.3 449.3 L71.3 449.3 L72.3 449.3 L73.3 449.3 L74.3 449.3 L75.3 449.3 L76.3 449.3 L77.3 449.3 L78.3 449.3 L79.3 449.3 L80.3 449.3 L81.3 449.3 L82.3 449.3 L83.3 449.3 L84.3 449.3 L85.3 449.3 L86.3 449.2 L87.3 449.2 L88.3 449.2 L89.3 449.2 L90.3 449.2 L91.3 449.1 L92.3 449.1 L93.3 449 L94.3 449 L95.3 448.9 L96.3 448.9 L97.3 448.9 L98.3 448.9 L99.3 449 L100.3 449 L101.3 449.1 L102.3 449.1 L103.3 449.2 L104.3 449.2 L105.3 449.2 L106.3 449.2 L107.3 449.2 L108.3 449.2 L109.3 449.2 L110.3 449.2 L111.3 449.2 L112.3 449.1 L113.3 449.1 L114.3 449.1 L115.3 449 L116.3 449 L117.3 449 L118.3 448.9 L119.3 448.9 L120.3 448.9 L121.3 448.9 L122.3 448.9 L123.3 449 L124.3 449 L125.3 449.1 L126.3 449.1 L127.3 449.1 L128.3 449.2 L129.3 449.2 L130.3 449.2 L131.3 449.2 L132.3 449.2 L133.3 449.2 L134.3 449.3 L135.3 449.3 L136.3 449.3 L137.3 449.3 L138.3 449.3 L139.3 449.3 L140.3 449.3 L141.3 449.3 L142.3 449.3 L143.3 449.3 L144.3 449.3 L145.3 449.3 L146.3 449.3 L147.3 449.3 L148.3 449.3 L149.3 449.3 L150.3 449.3 L151.3 449.2 L152.3 449.2 L153.3 449.2 L154.3 449.2 L155.3 449.2 L156.3 449.2 L157.3 449.2 L158.3 449.2 L159.3 449.2 L160.3 449.2 L161.3 449.2 L162.3 449.2 L163.3 449.2 L164.3 449.2 L165.3 449.2 L166.3 449.2 L167.3 449.2 L168.3 449.2 L169.3 449.1 L170.3 449.1 L171.3 449.1 L172.3 449.1 L173.3 449.1 L174.3 449.1 L175.3 449.1 L176.3 449.1 L177.3 449.1 L178.3 449 L179.3 449 L180.3 449 L181.3 449 L182.3 449 L183.3 449 L184.3 449 L185.3 449 L186.3 449 L187.3 449 L188.3 449 L189.3 449 L190.3 449 L191.3 449 L192.3 449 L193.3 449 L194.3 449 L195.3 449 L196.3 449 L197.3 449 L198.3 449 L199.3 449 L200.3 449 L201.3 449 L202.3 449.1 L203.3 449.1 L204.3 449.1 L205.3 449.1 L206.3 449.1 L207.3 449.1 L208.3 449.1 L209.3 449.1 L210.3 449.1 L211.3 449.1 L212.3 449.1 L213.3 449.1 L214.3 448.9 L215.3 448.5 L216.3 448.3 L217.3 448.3 L218.3 448.5 L219.3 448.6 L220.3 448.5 L221.3 448.5 L222.3 448.7 L223.3 449 L224.3 449.2 L225.3 449.2 L226.3 449.2 L227.3 449.2 L228.3 449.2 L229.3 449.3 L230.3 449.3 L231.3 449.3 L232.3 449.3 L233.3 449.3 L234.3 449.3 L235.3 449.3 L236.3 449.3 L237.3 449.3 L238.3 449.3 L239.3 449.3 L240.3 449.3 L241.3 449.3 L242.3 449.3 L243.3 449.3 L244.3 449.3 L245.3 449.3 L246.3 449.3 L247.3 449.3 L248.3 449.3 L249.3 449.3 L250.3 449.3 L251.3 449.3 L252.3 449.3 L253.3 449.3 L254.3 449.3 L255.3 449.3 L256.3 449.3 L257.3 449.3 L258.3 449.3 L259.3 449.3 L260.3 449.3 L261.3 449.3 L262.3 449.3 L263.3 449.3 L264.3 449.3 L265.3 449.3 L266.3 449.3 L267.3 449.3 L268.3 449.3 L269.3 449.3 L270.3 449.3 L271.3 449.3 L272.3 449.3 L273.3 449.3 L274.3 449.3 L275.3 449.3 L276.3 449.3 L277.3 449.3 L278.3 449.3 L279.3 449.3 L280.3 449.3 L281.3 449.3 L282.3 449.3 L283.3 449.3 L284.3 449.3 L285.3 449.3 L286.3 449.3 L287.3 449.3 L288.3 449.3 L289.3 449.3 L290.3 449.3 L291.3 449.3 L292.3 449.3 L293.3 449.3 L294.3 449.3 L295.3 449.3 L296.3 449.3 L297.3 449.3 L298.3 449.3 L299.3 449.3 L300.3 449.3 L301.3 449.3 L302.3 449.3 L303.3 449.3 L304.3 449.3 L305.3 449.3 L306.3 449.3 L307.3 449.3 L308.3 449.3 L309.3 449.3 L310.3 449.3 L311.3 449.3 L312.3 449.3 L313.3 449.3 L314.3 449.3 L315.3 449.3 L316.3 449.3 L317.3 449.3 L318.3 449.3 L319.3 449.3 L320.3 449.3 L321.3 449.3 L322.3 449.3 L323.3 449.3 L324.3 449.3 L325.3 449.3 L326.3 449.3 L327.3 449.3 L328.3 449.3 L329.3 449.3 L330.3 449.3 L331.3 449.3 L332.3 449.3 L333.3 449.3 L334.3 449.3 L335.3 449.3 L336.3 449.3 L337.3 449.3 L338.3 449.3 L339.3 449.3 L340.3 449.3 L341.3 449.3 L342.3 449.3 L343.3 449.3 L344.3 449.3 L345.3 449.3 L346.3 449.3 L347.3 449.3 L348.3 449.3 L349.3 449.3 L350.3 449.3 L351.3 449.3 L352.3 449.3 L353.3 449.3 L354.3 449.3 L355.3 449.3 L356.3 449.3 L357.3 449.3 L358.3 449.3 L359.3 449.3 L360.3 449.3 L361.3 449.2 L362.3 449.2 L363.3 449.2 L364.3 449.1 L365.3 448.9 L366.3 448.8 L367.3 448.7 L368.3 448.7 L369.3 448.8 L370.3 448.9 L371.3 449 L372.3 449.1 L373.3 449.2 L374.3 449.2 L375.3 449.3 L376.3 449.3 L377.3 449.3 L378.3 449.3 L379.3 449.3 L380.3 449.3 L381.3 449.3 L382.3 449.3 L383.3 449.3 L384.3 449.3 L385.3 449.3 L386.3 449.3 L387.3 449.3 L388.3 449.3 L389.3 449.3 L390.3 449.3 L391.3 449.3 L392.3 449.3 L393.3 449.3 L394.3 449.3 L395.3 449.3 L396.3 449.3 L397.3 449.3 L398.3 449.3 L399.3 449.3 L400.3 449.3 L401.3 449.3 L402.3 449.3 L403.3 449.3 L404.3 449.3 L405.3 449.3 L406.3 449.3 L407.3 449.3 L408.3 449.3 L409.3 449.3 L410.3 449.3 L411.3 449.3 L412.3 449.3 L413.3 449.3 L414.3 449.3 L415.3 449.3 L416.3 449.3 L417.3 449.3 L418.3 449.3 L419.3 449.3 L420.3 449.3 L421.3 449.3 L422.3 449.3 L423.3 449.3 L424.3 449.3 L425.3 449.3 L426.3 449.3 L427.3 449.3 L428.3 449.3 L429.3 449.3 L430.3 449.3 L431.3 449.3 L432.3 449.3 L433.3 449.3 L434.3 449.3 L435.3 449.3 L436.3 449.3 L437.3 449.3 L438.3 449.3 L439.3 449.3 L440.3 449.3 L441.3 449.3 L442.3 449.3 L443.3 449.3 L444.3 449.3 L445.3 449.3 L446.3 449.3 L447.3 449.3 L448.3 449.3 L449.3 449.3 L450.3 449.3 L451.3 449.3 L452.3 449.3 L453.3 449.3 L454.3 449.3 L455.3 449.3 L456.3 449.3 L457.3 449.3 L458.3 449.3 L459.3 449.3 L460.3 449.3 L461.3 449.3 L462.3 449.3 L463.3 449.3 L464.3 449.3 L465.3 449.3 L466.3 449.3 L467.3 449.3 L468.3 449.3 L469.3 449.3 L470.3 449.3 L471.3 449.3 L472.3 449.3 L473.3 449.3 L474.3 449.3 L475.3 449.3 L476.3 449.3 L477.3 449.3 L478.3 449.3 L479.3 449.3 L480.3 449.3 L481.3 449.3 L482.3 449.3 L483.3 449.3 L484.3 449.3 L485.3 449.3 L486.3 449.3 L487.3 449.3 L488.3 449.3 L489.3 449.3 L490.3 449.3 L491.3 449.3 L492.3 449.3 L493.3 449.3 L494.3 449.3 L495.3 449.3 L496.3 449.3 L497.3 449.3 L498.3 449.3 L499.3 449.3 L500.3 449.3 L501.3 449.3 L502.3 449.3 L503.3 449.3 L504.3 449.3 L505.3 449.3 L506.3 449.3 L507.3 449.3 L508.3 449.3 L509.3 449.3 L510.3 449.3 L511.3 449.3 L512.3 449.3 L513.3 449.3 L514.3 449.3 L515.3 449.3 L516.3 449.3 L517.3 449.3 L518.3 449.3 L519.3 449.3 L520.3 449.3 L521.3 449.3 L522.3 449.3 L523.3 449.3 L524.3 449.3 L525.3 449.3 L526.3 449.3 L527.3 449.3 L528.3 449.3 L529.3 449.3 L530.3 449.3 L531.3 449.3 L532.3 449.3 L533.3 449.3 L534.3 449.3 L535.3 449.3 L536.3 449.3 L537.3 449.3 L538.3 449.3 L539.3 449.3 L540.3 449.3 L541.3 449.3 L542.3 449.3 L543.3 449.3 L544.3 449.3 L545.3 449.3 L546.3 449.3 L547.3 449.3 L548.3 449.3 L549.3 449.3 L550.3 449.3 L551.3 449.3 L552.3 449.3 L553.3 449.3 L554.3 449.3 L555.3 449.3 L556.3 449.3 L557.3 449.3 L558.3 449.3 L559.3 449.3 L560.3 449.3 L561.3 449.3 L562.3 449.3 L563.3 449.3 L564.3 449.3 L565.3 449.3 L566.3 449.3 L567.3 449.3 L568.3 449.3 L569.3 449.3 L570.3 449.3 L571.3 449.3 L572.3 449.3 L573.3 449.3 L574.3 449.3 L575.3 449.3 L576.3 449.3 L577.3 449.3 L578.3 449.2 L579.3 449.2 L580.3 449.2 L581.3 449.2 L582.3 449.2 L583.3 449.2 L584.3 449.1 L585.3 449.1 L586.3 449 L587.3 449 L588.3 448.9 L589.3 448.9 L590.3 448.9 L591.3 448.8 L592.3 448.8 L593.3 448.9 L594.3 448.9 L595.3 448.9 L596.3 449 L597.3 449 L598.3 449.1 L599.3 449.1 L600.3 449.1 L601.3 449.2 L602.3 449.2 L603.3 449.2 L604.3 449.1 L605.3 449.1 L606.3 449 L607.3 448.9 L608.3 448.8 L609.3 448.7 L610.3 448.7 L611.3 448.8 L612.3 448.8 L613.3 449 L614.3 449.1 L615.3 449.1 L616.3 449.2 L617.3 449.2 L618.3 449.2 L619.3 449.3 L620.3 449.3 L621.3 449.3 L622.3 449.3 L623.3 449.3 L624.3 449.3 L625.3 449.3 L626.3 449.3 L627.3 449.3 L628.3 449.3 L629.3 449.3 L630.3 449.3 L631.3 449.3 L632.3 449.3 L633.3 449.3 L634.3 449.3 L635.3 449.3 L636.3 449.3 L637.3 449.3 L638.3 449.3 L639.3 449.3 L640.3 449.3 L641.3 449.3 L642.3 449.3 L643.3 449.3 L644.3 449.3 L645.3 449.3 L645.3 453.3 L644.3 453.3 L643.3 453.3 L642.3 453.3 L641.3 453.3 L640.3 453.3 L639.3 453.3 L638.3 453.3 L637.3 453.3 L636.3 453.3 L635.3 453.3 L634.3 453.3 L633.3 453.3 L632.3 453.3 L631.3 453.3 L630.3 453.3 L629.3 453.3 L628.3 453.3 L627.3 453.3 L626.3 453.3 L625.3 453.3 L624.3 453.3 L623.3 453.3 L622.3 453.3 L621.3 453.3 L620.3 453.3 L619.3 453.3 L618.3 453.3 L617.3 453.3 L616.3 453.3 L615.3 453.4 L614.3 453.5 L613.3 453.6 L612.3 453.7 L611.3 453.8 L610.3 453.8 L609.3 453.8 L608.3 453.7 L607.3 453.6 L606.3 453.5 L605.3 453.4 L604.3 453.4 L603.3 453.3 L602.3 453.3 L601.3 453.3 L600.3 453.4 L599.3 453.4 L598.3 453.5 L597.3 453.5 L596.3 453.6 L595.3 453.6 L594.3 453.6 L593.3 453.7 L592.3 453.7 L591.3 453.7 L590.3 453.7 L589.3 453.6 L588.3 453.6 L587.3 453.5 L586.3 453.5 L585.3 453.4 L584.3 453.4 L583.3 453.4 L582.3 453.3 L581.3 453.3 L580.3 453.3 L579.3 453.3 L578.3 453.3 L577.3 453.3 L576.3 453.3 L575.3 453.3 L574.3 453.3 L573.3 453.3 L572.3 453.3 L571.3 453.3 L570.3 453.3 L569.3 453.3 L568.3 453.3 L567.3 453.3 L566.3 453.3 L565.3 453.3 L564.3 453.3 L563.3 453.3 L562.3 453.3 L561.3 453.3 L560.3 453.3 L559.3 453.3 L558.3 453.3 L557.3 453.3 L556.3 453.3 L555.3 453.3 L554.3 453.3 L553.3 453.3 L552.3 453.3 L551.3 453.3 L550.3 453.3 L549.3 453.3 L548.3 453.3 L547.3 453.3 L546.3 453.3 L545.3 453.3 L544.3 453.3 L543.3 453.3 L542.3 453.3 L541.3 453.3 L540.3 453.3 L539.3 453.3 L538.3 453.3 L537.3 453.3 L536.3 453.3 L535.3 453.3 L534.3 453.3 L533.3 453.3 L532.3 453.3 L531.3 453.3 L530.3 453.3 L529.3 453.3 L528.3 453.3 L527.3 453.3 L526.3 453.3 L525.3 453.3 L524.3 453.3 L523.3 453.3 L522.3 453.3 L521.3 453.3 L520.3 453.3 L519.3 453.3 L518.3 453.3 L517.3 453.3 L516.3 453.3 L515.3 453.3 L514.3 453.3 L513.3 453.3 L512.3 453.3 L511.3 453.3 L510.3 453.3 L509.3 453.3 L508.3 453.3 L507.3 453.3 L506.3 453.3 L505.3 453.3 L504.3 453.3 L503.3 453.3 L502.3 453.3 L501.3 453.3 L500.3 453.3 L499.3 453.3 L498.3 453.3 L497.3 453.3 L496.3 453.3 L495.3 453.3 L494.3 453.3 L493.3 453.3 L492.3 453.3 L491.3 453.3 L490.3 453.3 L489.3 453.3 L488.3 453.3 L487.3 453.3 L486.3 453.3 L485.3 453.3 L484.3 453.3 L483.3 453.3 L482.3 453.3 L481.3 453.3 L480.3 453.3 L479.3 453.3 L478.3 453.3 L477.3 453.3 L476.3 453.3 L475.3 453.3 L474.3 453.3 L473.3 453.3 L472.3 453.3 L471.3 453.3 L470.3 453.3 L469.3 453.3 L468.3 453.3 L467.3 453.3 L466.3 453.3 L465.3 453.3 L464.3 453.3 L463.3 453.3 L462.3 453.3 L461.3 453.3 L460.3 453.3 L459.3 453.3 L458.3 453.3 L457.3 453.3 L456.3 453.3 L455.3 453.3 L454.3 453.3 L453.3 453.3 L452.3 453.3 L451.3 453.3 L450.3 453.3 L449.3 453.3 L448.3 453.3 L447.3 453.3 L446.3 453.3 L445.3 453.3 L444.3 453.3 L443.3 453.3 L442.3 453.3 L441.3 453.3 L440.3 453.3 L439.3 453.3 L438.3 453.3 L437.3 453.3 L436.3 453.3 L435.3 453.3 L434.3 453.3 L433.3 453.3 L432.3 453.3 L431.3 453.3 L430.3 453.3 L429.3 453.3 L428.3 453.3 L427.3 453.3 L426.3 453.3 L425.3 453.3 L424.3 453.3 L423.3 453.3 L422.3 453.3 L421.3 453.3 L420.3 453.3 L419.3 453.3 L418.3 453.3 L417.3 453.3 L416.3 453.3 L415.3 453.3 L414.3 453.3 L413.3 453.3 L412.3 453.3 L411.3 453.3 L410.3 453.3 L409.3 453.3 L408.3 453.3 L407.3 453.3 L406.3 453.3 L405.3 453.3 L404.3 453.3 L403.3 453.3 L402.3 453.3 L401.3 453.3 L400.3 453.3 L399.3 453.3 L398.3 453.3 L397.3 453.3 L396.3 453.3 L395.3 453.3 L394.3 453.3 L393.3 453.3 L392.3 453.3 L391.3 453.3 L390.3 453.3 L389.3 453.3 L388.3 453.3 L387.3 453.3 L386.3 453.3 L385.3 453.3 L384.3 453.3 L383.3 453.3 L382.3 453.3 L381.3 453.3 L380.3 453.3 L379.3 453.3 L378.3 453.3 L377.3 453.3 L376.3 453.3 L375.3 453.3 L374.3 453.3 L373.3 453.3 L372.3 453.4 L371.3 453.5 L370.3 453.6 L369.3 453.7 L368.3 453.8 L367.3 453.8 L366.3 453.7 L365.3 453.6 L364.3 453.5 L363.3 453.4 L362.3 453.3 L361.3 453.3 L360.3 453.3 L359.3 453.3 L358.3 453.3 L357.3 453.3 L356.3 453.3 L355.3 453.3 L354.3 453.3 L353.3 453.3 L352.3 453.3 L351.3 453.3 L350.3 453.3 L349.3 453.3 L348.3 453.3 L347.3 453.3 L346.3 453.3 L345.3 453.3 L344.3 453.3 L343.3 453.3 L342.3 453.3 L341.3 453.3 L340.3 453.3 L339.3 453.3 L338.3 453.3 L337.3 453.3 L336.3 453.3 L335.3 453.3 L334.3 453.3 L333.3 453.3 L332.3 453.3 L331.3 453.3 L330.3 453.3 L329.3 453.3 L328.3 453.3 L327.3 453.3 L326.3 453.3 L325.3 453.3 L324.3 453.3 L323.3 453.3 L322.3 453.3 L321.3 453.3 L320.3 453.3 L319.3 453.3 L318.3 453.3 L317.3 453.3 L316.3 453.3 L315.3 453.3 L314.3 453.3 L313.3 453.3 L312.3 453.3 L311.3 453.3 L310.3 453.3 L309.3 453.3 L308.3 453.3 L307.3 453.3 L306.3 453.3 L305.3 453.3 L304.3 453.3 L303.3 453.3 L302.3 453.3 L301.3 453.3 L300.3 453.3 L299.3 453.3 L298.3 453.3 L297.3 453.3 L296.3 453.3 L295.3 453.3 L294.3 453.3 L293.3 453.3 L292.3 453.3 L291.3 453.3 L290.3 453.3 L289.3 453.3 L288.3 453.3 L287.3 453.3 L286.3 453.3 L285.3 453.3 L284.3 453.3 L283.3 453.3 L282.3 453.3 L281.3 453.3 L280.3 453.3 L279.3 453.3 L278.3 453.3 L277.3 453.3 L276.3 453.3 L275.3 453.3 L274.3 453.3 L273.3 453.3 L272.3 453.3 L271.3 453.3 L270.3 453.3 L269.3 453.3 L268.3 453.3 L267.3 453.3 L266.3 453.3 L265.3 453.3 L264.3 453.3 L263.3 453.3 L262.3 453.3 L261.3 453.3 L260.3 453.3 L259.3 453.3 L258.3 453.3 L257.3 453.3 L256.3 453.3 L255.3 453.3 L254.3 453.3 L253.3 453.3 L252.3 453.3 L251.3 453.3 L250.3 453.3 L249.3 453.3 L248.3 453.3 L247.3 453.3 L246.3 453.3 L245.3 453.3 L244.3 453.3 L243.3 453.3 L242.3 453.3 L241.3 453.3 L240.3 453.3 L239.3 453.3 L238.3 453.3 L237.3 453.3 L236.3 453.3 L235.3 453.3 L234.3 453.3 L233.3 453.3 L232.3 453.3 L231.3 453.3 L230.3 453.3 L229.3 453.3 L228.3 453.3 L227.3 453.3 L226.3 453.3 L225.3 453.3 L224.3 453.4 L223.3 453.5 L222.3 453.8 L221.3 454.1 L220.3 454 L219.3 453.9 L218.3 454 L217.3 454.2 L216.3 454.2 L215.3 454 L214.3 453.7 L213.3 453.4 L212.3 453.4 L211.3 453.4 L210.3 453.4 L209.3 453.4 L208.3 453.4 L207.3 453.4 L206.3 453.4 L205.3 453.4 L204.3 453.4 L203.3 453.5 L202.3 453.5 L201.3 453.5 L200.3 453.5 L199.3 453.5 L198.3 453.5 L197.3 453.5 L196.3 453.5 L195.3 453.5 L194.3 453.5 L193.3 453.5 L192.3 453.5 L191.3 453.5 L190.3 453.5 L189.3 453.5 L188.3 453.5 L187.3 453.5 L186.3 453.5 L185.3 453.5 L184.3 453.5 L183.3 453.5 L182.3 453.5 L181.3 453.5 L180.3 453.5 L179.3 453.5 L178.3 453.5 L177.3 453.5 L176.3 453.5 L175.3 453.4 L174.3 453.4 L173.3 453.4 L172.3 453.4 L171.3 453.4 L170.3 453.4 L169.3 453.4 L168.3 453.4 L167.3 453.4 L166.3 453.3 L165.3 453.3 L164.3 453.3 L163.3 453.3 L162.3 453.3 L161.3 453.3 L160.3 453.3 L159.3 453.3 L158.3 453.3 L157.3 453.3 L156.3 453.3 L155.3 453.3 L154.3 453.3 L153.3 453.3 L152.3 453.3 L151.3 453.3 L150.3 453.3 L149.3 453.3 L148.3 453.3 L147.3 453.3 L146.3 453.3 L145.3 453.3 L144.3 453.3 L143.3 453.3 L142.3 453.3 L141.3 453.3 L140.3 453.3 L139.3 453.3 L138.3 453.3 L137.3 453.3 L136.3 453.3 L135.3 453.3 L134.3 453.3 L133.3 453.3 L132.3 453.3 L131.3 453.3 L130.3 453.3 L129.3 453.3 L128.3 453.4 L127.3 453.4 L126.3 453.4 L125.3 453.5 L124.3 453.5 L123.3 453.5 L122.3 453.6 L121.3 453.6 L120.3 453.6 L119.3 453.6 L118.3 453.6 L117.3 453.6 L116.3 453.5 L115.3 453.5 L114.3 453.5 L113.3 453.4 L112.3 453.4 L111.3 453.3 L110.3 453.3 L109.3 453.3 L108.3 453.3 L107.3 453.3 L106.3 453.3 L105.3 453.3 L104.3 453.3 L103.3 453.4 L102.3 453.4 L101.3 453.5 L100.3 453.5 L99.3 453.6 L98.3 453.6 L97.3 453.6 L96.3 453.6 L95.3 453.6 L94.3 453.5 L93.3 453.5 L92.3 453.4 L91.3 453.4 L90.3 453.4 L89.3 453.3 L88.3 453.3 L87.3 453.3 L86.3 453.3 L85.3 453.3 L84.3 453.3 L83.3 453.3 L82.3 453.3 L81.3 453.3 L80.3 453.3 L79.3 453.3 L78.3 453.3 L77.3 453.3 L76.3 453.3 L75.3 453.3 L74.3 453.3 L73.3 453.3 L72.3 453.3 L71.3 453.3 L70.3 453.3 L69.3 453.3 L68.3 453.3 L67.3 453.3 L66.3 453.3 L65.3 453.3 L64.3 453.3 L63.3 453.3 L62.3 453.3 L61.3 453.3 L60.3 453.3 L59.3 453.3 L58.3 453.3 L57.3 453.3 L56.3 453.3 L55.3 453.3 L54.3 453.3 L53.3 453.3 L52.3 453.3 L51.3 453.3 L50.3 453.3 L49.3 453.3 L48.3 453.3 L47.3 453.3 L46.3 453.3 L45.3 453.3 L44.3 453.3 L43.3 453.3 Z" fill="#0000ff"/>
<g transform="translate(43.3 0) scale(0.125 1)"><path class="sig" vector-effect="non-scaling-stroke" stroke-width="0.35" d="M0 453.5 l 1 -7.6 1 7.9 1 -5.9 1 5.5 1 -4.6 1 6.1 1 -5.7 1 4.4 1 -4.7 1 4.7 1 -5.4 1 6.4 1 -6.2 1 6.5 1 -7 1 7.2 1 -6.1 1 5.7 1 -7 1 7.5 1 -6.1 1 4.3 1 -4.2 1 4.1 1 -4.4 1 5 1 -5.3 1 4.8 1 -5.7 1 5.7 1 -7.7 1 7.9 1 -4.5 1 4.4 1 -4.4 1 4.4 1 -5.5 1 5.6 1 -4.4 1 4.4 1 -4.9 1 4.8 1 -5.7 1 5.6 1 -5 1 5 1 -4.9 1 5.8 1 -5.5 1 4.6 1 -5.1 1 7.2 1 -7.6 1 5.8 1 -5.4 1 5.3 1 -4.9 1 5.8 1 -7.5 1 6.8 1 -6.1 1 6.8 1 -6.3 1 6.8 1 -6.7 1 5.5 1 -6 1 6.2 1 -7.2 1 7.5 1 -5.9 1 5.7 1 -7.2 1 6.8 1 -4.9 1 5.7 1 -5.4 1 4.7 1 -4.7 1 5 1 -7.6 1 9 1 -6.8 1 5.9 1 -6.5 1 5.4 1 -4.4 1 4.8 1 -5.2 1 6 1 -8.3 1 7.5 1 -5.7 1 5.2 1 -4.6 1 5.6 1 -5.9 1 5.1 1 -5.2 1 5.4 1 -5.3 1 5.2 1 -5.4 1 6.9 1 -8.2 1 6.8 1 -4.7 1 5.6 1 -6.6 1 5.3 1 -6.4 1 6.8 1 -4.9 1 5.5 1 -5.5 1 5.6 1 -6.3 1 5.4 1 -4.8 1 4.7 1 -4.5 1 4.5 1 -4.8 1 4.9 1 -5 1 5 1 -6.3 1 6.5 1 -4.8 1 4.9 1 -5 1 5.3 1 -5.6 1 6.6 1 -6.1 1 4.4 1 -5.6 1 5.6 1 -4.4 1 4.8 1 -7.2 1 7 1 -5.3 1 4.9 1 -5.8 1 8 1 -6.4 1 4.4 1 -4.5 1 5.5 1 -8.8 1 9.5 1 -6.3 1 4.7 1 -5.6 1 5.5 1 -6.8 1 7 1 -4.8 1 4.6 1 -7.8 1 7.7 1 -7.7 1 7.7 1 -6 1 6.2 1 -7.1 1 8.6 1 -8.6 1 7 1 -4.4 1 6.4 1 -7.3 1 5.3 1 -5 1 6.4 1 -5.8 1 4.8 1 -4.7 1 4.5 1 -5.7 1 5.7 1 -5.9 1 5.9 1 -5.4 1 5.4 1 -5.2 1 5.2 1 -4.8 1 4.5 1 -5.4 1 5.5 1 -4.3 1 6.3 1 -6.5 1 4.4 1 -5.1 1 5.4 1 -5.9 1 6.1 1 -5.6 1 5.8 1 -5.1 1 5.3 1 -5.7 1 5.6 1 -5.8 1 5 1 -4.5 1 4.8 1 -4.5 1 4.6 1 -4.7 1 4.7 1 -8.1 1 9.2 1 -6.8 1 5.3 1 -4.8 1 5 1 -4.7 1 5.7 1 -5.9 1 4.8 1 -5.8 1 5.8 1 -5.5 1 5.6 1 -5.4 1 5.5 1 -6.8 1 6.6 1 -6.7 1 6.6 1 -4.3 1 6.4 1 -6.8 1 5.1 1 -4.8 1 6.2 1 -6.7 1 5.8 1 -6.2 1 5.4 1 -5.4 1 5.4 1 -5.4 1 5.7 1 -4.7 1 4.5 1 -4.6 1 4.6 1 -6.1 1 5.8 1 -4.4 1 5.7 1 -5.6 1 4.6 1 -4.9 1 5.4 1 -8.4 1 8.1 1 -5.5 1 7 1 -7.4 1 5.7 1 -6.1 1 6.1 1 -4.6 1 4.6 1 -4.9 1 5.1 1 -5 1 5.5 1 -5.7 1 6.6 1 -8.8 1 8.1 1 -8.8 1 7.8 1 -4.5 1 4.6 1 -5.4 1 5.3 1 -5.7 1 6.1 1 -4.9 1 4.4 1 -5 1 6.3 1 -5.6 1 5.2 1 -5.9 1 6.9 1 -7.6 1 5.7 1 -7.7 1 8.2 1 -7.4 1 7.2 1 -4.6 1 6.2 1 -6.4 1 4.7 1 -7 1 8.8 1 -7.8 1 7 1 -6.5 1 5.7 1 -4.9 1 4.6 1 -6.7 1 7.4 1 -5.5 1 4.7 1 -4.4 1 4.6 1 -4.5 1 4.5 1 -4.5 1 6.2 1 -9.3 1 7.7 1 -5.1 1 5 1 -4.6 1 5.4 1 -5.5 1 6.3 1 -6.7 1 5.1 1 -5.2 1 5.9 1 -6.1 1 5.3 1 -6.9 1 7.3 1 -4.9 1 5.3 1 -5.2 1 4.5 1 -5 1 4.8 1 -4.6 1 6.1 1 -6.7 1 5.4 1 -4.6 1 5.2 1 -5.6 1 4.9 1 -7.6 1 7.6 1 -6.2 1 6.8 1 -5 1 4.6 1 -6.4 1 6.8 1 -5.1 1 4.6 1 -5.2 1 5.1 1 -4.8 1 5.4 1 -5.1 1 5.4 1 -6.2 1 6.5 1 -7.1 1 6.3 1 -4.9 1 4.7 1 -5 1 5.5 1 -6.1 1 5.6 1 -4.8 1 5.6 1 -8 1 8.4 1 -7.5 1 6.4 1 -5.1 1 5.9 1 -6.8 1 6.1 1 -5.9 1 7.8 1 -7.2 1 5.8 1 -8.8 1 8.5 1 -9.5 1 9.4 1 -5.7 1 5.6 1 -5.6 1 6.1 1 -6.6 1 8.1 1 -7.7 1 5.8 1 -6.3 1 6.9 1 -6.1 1 6.5 1 -9.8 1 9.2 1 -7 1 8.7 1 -9.7 1 8.4 1 -6.5 1 6 1 -6.5 1 7.1 1 -6.8 1 6.1 1 -10.5 1 11.9 1 -8.8 1 8.5 1 -9.6 1 10.4 1 -7.9 1 6.2 1 -10.8 1 11 1 -6.4 1 7 1 -7.7 1 6.9 1 -6.6 1 7.4 1 -7.3 1 8.3 1 -8 1 7.3 1 -7.4 1 8.9 1 -8.6 1 5.8 1 -5.8 1 7.1 1 -7.6 1 6.6 1 -6.4 1 6.2 1 -9.2 1 9.9 1 -7 1 6 1 -5.5 1 5.8 1 -6.1 1 6.5 1 -7.2 1 6.5 1 -6.2 1 7.2 1 -6.3 1 5.4 1 -5.8 1 6.8 1 -7.1 1 6.8 1 -7.6 1 7.9 1 -6.6 1 6.3 1 -7.6 1 6.5 1 -5.6 1 6.3 1 -6.6 1 7.5 1 -6.7 1 5.8 1 -6.6 1 6.3 1 -6.6 1 6.3 1 -6.1 1 6.3 1 -5.5 1 5.2 1 -5.6 1 6.9 1 -6.2 1 6.1 1 -5.9 1 6.7 1 -7.3 1 5.4 1 -6.8 1 6.5 1 -4.5 1 5.7 1 -5.9 1 4.9 1 -6.5 1 6.9 1 -6.4 1 7.9 1 -6.7 1 4.9 1 -4.7 1 5.8 1 -8.2 1 7.6 1 -5.4 1 5.3 1 -5.8 1 5.4 1 -5.3 1 4.9 1 -4.5 1 4.5 1 -5.7 1 7.3 1 -6.1 1 5.7 1 -5.7 1 4.6 1 -4.8 1 5.8 1 -5.5 1 4.6 1 -6.4 1 6.3 1 -6.5 1 8 1 -7 1 5.7 1 -5.7 1 6.3 1 -5.4 1 4.6 1 -5.1 1 5.7 1 -8.5 1 9.2 1 -7.1 1 7.2 1 -6.5 1 6.8 1 -8 1 6.7 1 -6.1 1 6.1 1 -5.5 1 7.4 1 -8.5 1 6.9 1 -8.2 1 9.5 1 -6.8 1 5 1 -8.8 1 8.9 1 -5.5 1 6 1 -5.9 1 7.9 1 -8.3 1 6.5 1 -8.4 1 8.1 1 -7.5 1 9.7 1 -9.6 1 7.7 1 -7.7 1 7.1 1 -9 1 9.8 1 -6.2 1 5.9 1 -7 1 6.8 1 -5.8 1 6.5 1 -10.8 1 10.4 1 -7.7 1 7.4 1 -8.2 1 10.9 1 -9.9 1 7.5 1 -6.2 1 7.9 1 -8.3 1 7.9 1 -7.4 1 6.1 1 -8.3 1 8 1 -5.9 1 6.1 1 -7.8 1 8 1 -7.6 1 8.2 1 -6.9 1 6 1 -6.6 1 6.7 1 -7.7 1 7.8 1 -7.6 1 8.3 1 -8.9 1 9.4 1 -8.9 1 7.7 1 -6.2 1 6.2 1 -7.9 1 10.5 1 -8.7 1 5.9 1 -6.1 1 6 1 -6.1 1 6.6 1 -6.9 1 9.2 1 -8.6 1 7.3 1 -8.4 1 7 1 -8.1 1 10.4 1 -8.1 1 8.3 1 -8.4 1 5.7 1 -6.2 1 6.2 1 -6 1 6.6 1 -8.7 1 8.1 1 -8.1 1 10.1 1 -8 1 6.8 1 -6.5 1 5.7 1 -7.6 1 7.4 1 -7 1 9.5 1 -9.4 1 8.1 1 -6.4 1 5.1 1 -5.8 1 6.4 1 -7.3 1 6.8 1 -5.1 1 5.3 1 -7.7 1 7.7 1 -5.3 1 5.6 1 -6.6 1 6.3 1 -8.4 1 9.8 1 -6.6 1 6 1 -7.1 1 6.6 1 -5.8 1 6.2 1 -9.6 1 9 1 -5.3 1 5.4 1 -7.9 1 8.3 1 -6.5 1 5.4 1 -4.7 1 5.2 1 -5.2 1 5 1 -7.8 1 7.9 1 -5.3 1 4.9 1 -5.9 1 5.8 1 -4.6 1 5.1 1 -4.9 1 4.4 1 -6.9 1 7.5 1 -5.1 1 5.5 1 -7.9 1 6.9 1 -5.2 1 5.5 1 -5.3 1 5.6 1 -6.1 1 5.5 1 -4.9 1 5.4 1 -6.3 1 6.3 1 -5.8 1 5.8 1 -8.3 1 8.2 1 -4.8 1 5.1 1 -5.4 1 6 1 -5.7 1 5.2 1 -5.8 1 6.2 1 -5.8 1 5.4 1 -5.4 1 5.3 1 -5.5 1 4.9 1 -5.3 1 5.6 1 -4.9 1 5.1 1 -5.6 1 5.2 1 -4.6 1 6.4 1 -7.9 1 5.8 1 -6.8 1 8.9 1 -7.1 1 5.4 1 -6 1 6.2 1 -5.3 1 4.8 1 -5.2 1 7.2 1 -8.8 1 6.9 1 -4.5 1 5.9 1 -6.7 1 5.1 1 -4.6 1 5.7 1 -5.4 1 4.6 1 -4.6 1 5.7 1 -5.7 1 6.4 1 -7.2 1 5.4 1 -5 1 5.5 1 -5.9 1 5.4 1 -5.3 1 5.5 1 -5.1 1 6.1 1 -7.3 1 6.1 1 -5.6 1 5.7 1 -6.6 1 6.4 1 -5.1 1 5.6 1 -5.4 1 6.3 1 -6.7 1 5.4 1 -7.5 1 7.8 1 -7.1 1 6.5 1 -4.5 1 5.2 1 -5 1 5.5 1 -6 1 6.9 1 -7.5 1 5.4 1 -4.7 1 5.2 1 -5.1 1 4.7 1 -6.6 1 6.9 1 -5.6 1 5.7 1 -5.2 1 5.7 1 -5.5 1 5.8 1 -6.8 1 5.5 1 -5.5 1 5.8 1 -6.6 1 6.5 1 -6.1 1 5.9 1 -5.2 1 5.2 1 -6.5 1 6.7 1 -6.1 1 6.8 1 -5.5 1 4.9 1 -8 1 8.1 1 -4.7 1 5.6 1 -6.9 1 6.4 1 -5.2 1 4.8 1 -5 1 5.4 1 -5.3 1 6.4 1 -6.4 1 5.1 1 -5.5 1 6.7 1 -7.3 1 5.9 1 -5.2 1 5 1 -6.1 1 6.1 1 -6 1 5.9 1 -5.7 1 6.9 1 -6.9 1 5.8 1 -6 1 6.4 1 -5.1 1 6.2 1 -7 1 6 1 -5.2 1 4.6 1 -5 1 6.1 1 -5.9 1 5.7 1 -5.3 1 5.4 1 -7.5 1 6.4 1 -5.2 1 5.6 1 -6.7 1 6.6 1 -5 1 4.9 1 -4.6 1 4.7 1 -5.3 1 5.9 1 -6.3 1 6.5 1 -5.9 1 6 1 -5.6 1 5.8 1 -5.8 1 4.7 1 -4.6 1 4.6 1 -4.6 1 5.2 1 -5.8 1 5.7 1 -6.3 1 6 1 -4.9 1 4.6 1 -7.7 1 8 1 -4.9 1 5.4 1 -6.3 1 7 1 -6.3 1 4.7 1 -5 1 5.1 1 -8 1 8.5 1 -8.5 1 8.4 1 -6.3 1 7.6 1 -8.7 1 9 1 -6.7 1 4.5 1 -4.4 1 5.1 1 -6.4 1 6 1 -4.9 1 5.7 1 -6.8 1 6.2 1 -7.9 1 7.6 1 -5.9 1 5.8 1 -5 1 5 1 -4.6 1 5.2 1 -7.1 1 6.7 1 -7.2 1 7.4 1 -5.4 1 5.7 1 -8.7 1 8.8 1 -6.5 1 6.8 1 -5.9 1 5.3 1 -5.3 1 5.3 1 -5.4 1 5.4 1 -5.5 1 5.4 1 -6.4 1 7 1 -6.7 1 6.1 1 -5.6 1 5.3 1 -5.3 1 5.8 1 -5.8 1 5.8 1 -6.3 1 6.7 1 -5.7 1 5 1 -8.1 1 7.8 1 -6.1 1 6.5 1 -5.8 1 5.8 1 -6.4 1 6.5 1 -6.9 1 6.6 1 -5 1 6.3 1 -7.7 1 6.7 1 -5.8 1 5.5 1 -5.5 1 7.4 1 -7.6 1 6 1 -5.4 1 5.3 1 -6.7 1 7 1 -5.6 1 5.4 1 -6.6 1 6.2 1 -4.7 1 6 1 -6.9 1 5.7 1 -6.5 1 6.8 1 -5.1 1 6 1 -6.8 1 6.3 1 -5.7 1 5.2 1 -5.8 1 6.2 1 -8.2 1 7.9 1 -5.7 1 6.1 1 -6.5 1 5.8 1 -6.7 1 8.1 1 -6.4 1 5.2 1 -7 1 8.1 1 -6.6 1 6.1 1 -6.1 1 6.4 1 -7 1 6.5 1 -6 1 7.5 1 -7.7 1 5.7 1 -5 1 5.1 1 -5.5 1 6 1 -7.5 1 8 1 -7.8 1 6.6 1 -4.9 1 5.2 1 -6.3 1 6.1 1 -5.2 1 5.7 1 -6.6 1 6.3 1 -5.8 1 6.6 1 -8 1 7.3 1 -6.7 1 6.9 1 -7.1 1 7.2 1 -7.6 1 7.1 1 -5.6 1 7.2 1 -6.8 1 5.6 1 -6.4 1 6.7 1 -7.6 1 9.4 1 -8.2 1 6.9 1 -6.8 1 5.6 1 -6 1 5.9 1 -6.6 1 8.6 1 -7.6 1 5.7 1 -6.2 1 7.3 1 -8.1 1 7.6 1 -8 1 7.7 1 -7.1 1 6.9 1 -6 1 8.4 1 -8.2 1 5.8 1 -6.2 1 6.4 1 -6.7 1 6.9 1 -6.6 1 7 1 -8 1 9.1 1 -7.7 1 6 1 -6.1 1 6.6 1 -6.3 1 6.5 1 -6.4 1 5.7 1 -6.2 1 7.1 1 -9.3 1 8.2 1 -7.2 1 9.1 1 -9.9 1 8.1 1 -6.5 1 7.1 1 -6.3 1 5.8 1 -6.2 1 6.8 1 -6.9 1 7.3 1 -6.8 1 6.3 1 -7 1 7.9 1 -7.9 1 7.1 1 -8.6 1 8.9 1 -6.6 1 5.7 1 -6.6 1 7.2 1 -7.3 1 7.3 1 -7.3 1 7.7 1 -8.3 1 7.5 1 -5.9 1 6.8 1 -8.1 1 7.1 1 -6.4 1 6.2 1 -5.8 1 6.7 1 -7.6 1 7.5 1 -7.2 1 7 1 -10.1 1 10.1 1 -6.9 1 6.9 1 -7.7 1 7 1 -5.7 1 5.9 1 -8.4 1 8.7 1 -6.5 1 6.4 1 -6.5 1 6.4 1 -6 1 8.5 1 -8.4 1 6.8 1 -7.9 1 6.8 1 -5.7 1 7.6 1 -8.2 1 6.4 1 -5.9 1 5.8 1 -7.3 1 7.3 1 -7.3 1 7.5 1 -6.1 1 6.4 1 -8 1 8.3 1 -6.4 1 5.8 1 -6 1 5.9 1 -6.5 1 6.4 1 -8.2 1 10.4 1 -8.3 1 8.8 1 -8.8 1 6.2 1 -9 1 9.1 1 -7.6 1 8.2 1 -8 1 8.3 1 -7.7 1 7.3 1 -6.4 1 5.6 1 -6.2 1 8.6 1 -8.3 1 6 1 -9.1 1 8.9 1 -6.5 1 6.6 1 -5.8 1 7.4 1 -7.3 1 7.3 1 -8.8 1 7.6 1 -5.9 1 5.5 1 -6.1 1 6.4 1 -6.6 1 6.6 1 -6 1 5.6 1 -5.9 1 7.6 1 -7.4 1 7.8 1 -10.2 1 9.1 1 -7 1 6.7 1 -6.7 1 6.3 1 -6.1 1 6 1 -5.8 1 5.7 1 -5.7 1 7.2 1 -8.4 1 9.2 1 -7.7 1 6.2 1 -6.7 1 6.2 1 -9.9 1 9.9 1 -8.8 1 8.4 1 -7.1 1 7.4 1 -6.9 1 6.9 1 -7.6 1 7.5 1 -7.8 1 8.2 1 -7.5 1 7 1 -6.7 1 7.1 1 -6 1 6 1 -7.6 1 7.7 1 -6.4 1 7.1 1 -6.9 1 5.7 1 -5.6 1 6.9 1 -6.6 1 5.5 1 -6.3 1 6.2 1 -5.6 1 5.5 1 -5.9 1 6.1 1 -7.9 1 7.7 1 -6 1 7.9 1 -7.7 1 6.5 1 -8.1 1 7.2 1 -5.4 1 7.6 1 -8.3 1 6.1 1 -5.2 1 5.2 1 -8.2 1 8.2 1 -7.1 1 7.8 1 -9.7 1 9.8 1 -6.3 1 5.5 1 -8.9 1 8.9 1 -6.3 1 7.5 1 -10.1 1 9.1 1 -5.4 1 5.2 1 -5.4 1 5.3 1 -6 1 6.8 1 -6.2 1 6.2 1 -5.7 1 5.2 1 -5.6 1 5.3 1 -6.9 1 7.7 1 -5.9 1 5.2 1 -7.4 1 8.1 1 -5.7 1 5.1 1 -5.2 1 5.1 1 -6.3 1 6.4 1 -8 1 7.7 1 -7.6 1 7.6 1 -5.8 1 6.9 1 -7.4 1 6.4 1 -7.7 1 7.8 1 -5.8 1 7.1 1 -7 1 5.8 1 -5.6 1 7 1 -6.9 1 5.9 1 -5.8 1 5.6 1 -5.4 1 7.5 1 -7.8 1 5.7 1 -5.6 1 5.7 1 -8.4 1 9.2 1 -6.9 1 7.3 1 -9.9 1 9.4 1 -9.1 1 9.4 1 -8.7 1 11.9 1 -16.5 1 17.7 1 -13.3 1 11.2 1 -13.6 1 15 1 -14.8 1 14.9 1 -18.6 1 15.8 1 -10 1 10.3 1 -13.7 1 14.7 1 -12.9 1 11.7 1 -10.1 1 10.6 1 -12.2 1 14.5 1 -12 1 9.3 1 -10.9 1 11 1 -10.2 1 9.9 1 -10.9 1 9.7 1 -9.8 1 9.7 1 -10.8 1 11.2 1 -8.6 1 8.6 1 -8.3 1 8.2 1 -9.4 1 10.3 1 -9.5 1 12.8 1 -12.3 1 9 1 -9.8 1 9.5 1 -10.5 1 10.9 1 -9.4 1 9.3 1 -12.4 1 12.8 1 -9.2 1 11.7 1 -11.8 1 8.3 1 -8.7 1 9.7 1 -11 1 9.8 1 -12.4 1 11.8 1 -7.6 1 7.5 1 -6.4 1 6.8 1 -10.7 1 9.6 1 -7.5 1 7.9 1 -8.3 1 7.7 1 -5.5 1 7.7 1 -7.9 1 5.5 1 -7 1 7.2 1 -7.6 1 7.7 1 -5.7 1 5.5 1 -5.6 1 6.1 1 -5.3 1 4.7 1 -4.7 1 5.2 1 -5.6 1 6.8 1 -8.2 1 6.6 1 -4.6 1 4.7 1 -6.2 1 6.3 1 -5.5 1 6.5 1 -6.2 1 4.8 1 -4.6 1 5 1 -4.9 1 4.8 1 -6.9 1 8.7 1 -7.8 1 6.5 1 -5.5 1 5.5 1 -6.9 1 6.1 1 -4.8 1 5.2 1 -6.8 1 6.6 1 -4.5 1 5.6 1 -6.7 1 5.4 1 -4.8 1 5.1 1 -4.7 1 5.6 1 -5.6 1 4.4 1 -4.9 1 5.1 1 -7.9 1 9.5 1 -6.5 1 4.7 1 -4.5 1 5.3 1 -8.5 1 7.7 1 -4.5 1 6.6 1 -6.7 1 6.1 1 -7 1 5.6 1 -4.4 1 5.7 1 -6.8 1 7.5 1 -6.5 1 4.6 1 -5.5 1 5.5 1 -6.3 1 7.2 1 -6.6 1 5.5 1 -6.7 1 7 1 -5.8 1 5.8 1 -5.3 1 5.2 1 -5.2 1 5.1 1 -4.7 1 5 1 -4.9 1 5.9 1 -5.8 1 4.6 1 -4.8 1 4.7 1 -7.5 1 7.6 1 -4.6 1 4.5 1 -6 1 6.1 1 -5 1 5.5 1 -7.6 1 6.9 1 -4.5 1 4.6 1 -5.8 1 6.3 1 -6.6 1 5.9 1 -4.3 1 4.8 1 -5.7 1 6.1 1 -6 1 5.5 1 -4.6 1 4.4 1 -4.4 1 6 1 -9.2 1 8 1 -7.4 1 7.4 1 -5.4 1 5.8 1 -5.5 1 6.5 1 -6.9 1 6.1 1 -6.7 1 6.3 1 -5.8 1 5.2 1 -4.8 1 5 1 -5.1 1 5 1 -5.3 1 5.5 1 -4.9 1 4.6 1 -7.1 1 7.5 1 -4.7 1 4.6 1 -5.2 1 5.2 1 -4.9 1 6.3 1 -6.2 1 5.8 1 -5.8 1 4.4 1 -4.3 1 6.4 1 -6.8 1 5.1 1 -5.4 1 6 1 -5.5 1 4.8 1 -7 1 7.4 1 -5.2 1 5.2 1 -6.8 1 6.4 1 -5.2 1 5.6 1 -5.3 1 4.8 1 -5.7 1 6.6 1 -6.2 1 5.3 1 -5.7 1 5.7 1 -4.5 1 4.9 1 -4.8 1 4.8 1 -5.4 1 5.3 1 -5.1 1 5.2 1 -6.8 1 6.5 1 -5.3 1 7.1 1 -7.1 1 5.1 1 -5.2 1 5.3 1 -4.5 1 4.4 1 -4.3 1 4.2 1 -4.7 1 4.9 1 -5.9 1 5.7 1 -4.5 1 4.5 1 -4.5 1 5.3 1 -5.7 1 5.4 1 -6.3 1 5.8 1 -4.5 1 4.9 1 -5 1 4.7 1 -7.3 1 7.3 1 -6.8 1 7.5 1 -5.4 1 4.6 1 -4.4 1 4.9 1 -7.4 1 7.3 1 -6.1 1 6.1 1 -5.9 1 5.5 1 -5.2 1 5.4 1 -6.3 1 6 1 -4.3 1 5.7 1 -5.7 1 5 1 -8 1 8 1 -5.5 1 5.2 1 -6.6 1 6.3 1 -6.9 1 7.5 1 -7 1 7.1 1 -5.5 1 5.6 1 -6.7 1 5.8 1 -4.6 1 5.8 1 -6.8 1 6.3 1 -7.2 1 6.6 1 -7.7 1 8.6 1 -7.6 1 8.7 1 -6.3 1 4.7 1 -4.9 1 5.1 1 -5.8 1 5.3 1 -7.8 1 7.7 1 -5.2 1 5.4 1 -5.9 1 5.9 1 -4.9 1 5.2 1 -5.3 1 5.1 1 -5.2 1 5 1 -7 1 7.1 1 -5 1 5 1 -6.1 1 6.8 1 -5.4 1 4.8 1 -5.8 1 5.5 1 -4.5 1 4.5 1 -4.9 1 5.4 1 -7 1 8.1 1 -9 1 7.4 1 -5.1 1 5.4 1 -6.1 1 7.9 1 -8.3 1 6.9 1 -6.1 1 5.7 1 -4.7 1 6.5 1 -6.4 1 4.6 1 -8 1 7.7 1 -5.1 1 7 1 -6.5 1 4.7 1 -4.3 1 4.2 1 -7 1 7.3 1 -4.8 1 4.5 1 -5.6 1 6.5 1 -8.5 1 7.7 1 -4.8 1 4.6 1 -4.2 1 4.4 1 -4.3 1 6.3 1 -7 1 5.9 1 -5.9 1 4.9 1 -4.9 1 5.4 1 -6 1 6.2 1 -6 1 5.4 1 -4.7 1 4.9 1 -5.4 1 7.2 1 -6.5 1 5.2 1 -5.6 1 5.8 1 -5.5 1 5 1 -5.4 1 6.8 1 -6.3 1 5.8 1 -5.7 1 5.9 1 -6.5 1 5.5 1 -5.1 1 6.5 1 -9.7 1 7.8 1 -6.3 1 6.4 1 -7.1 1 6.9 1 -5.8 1 5.9 1 -4.8 1 5.8 1 -5.4 1 4.5 1 -7.2 1 7.7 1 -5.5 1 4.8 1 -4.5 1 4.4 1 -5.1 1 6.1 1 -5.5 1 4.6 1 -5.1 1 6.7 1 -6.2 1 6 1 -5.7 1 5.5 1 -6.2 1 5.5 1 -5.5 1 5.4 1 -4.7 1 4.4 1 -4.5 1 4.4 1 -5.2 1 7.1 1 -6.5 1 4.5 1 -5.6 1 5.8 1 -5.5 1 7.3 1 -6.9 1 5.4 1 -6.9 1 7 1 -8.2 1 7.9 1 -7.5 1 8.1 1 -6.1 1 5.7 1 -5.7 1 7.4 1 -6.3 1 4.8 1 -7.1 1 6.6 1 -6.2 1 7.9 1 -7 1 6.7 1 -5.9 1 4.4 1 -5.1 1 5.5 1 -6.5 1 6.7 1 -4.8 1 4.2 1 -4.7 1 4.9 1 -7.2 1 7.9 1 -8.6 1 8.4 1 -5.3 1 4.7 1 -4.9 1 4.8 1 -4.9 1 6.3 1 -8.4 1 7.9 1 -5.2 1 4.3 1 -5.1 1 5.2 1 -4.9 1 5.2 1 -4.8 1 5.2 1 -5.6 1 6.1 1 -7.6 1 6.8 1 -4.8 1 4.9 1 -5.3 1 4.8 1 -5.1 1 5 1 -4.3 1 4.4 1 -7 1 6.9 1 -5.4 1 5.9 1 -5.7 1 6 1 -5.3 1 4.6 1 -6.4 1 6.4 1 -4.5 1 5 1 -5 1 4.7 1 -4.6 1 4.3 1 -4.6 1 5 1 -5.9 1 6 1 -5.5 1 5.9 1 -5.1 1 4.2 1 -4.9 1 5.2 1 -5 1 4.8 1 -5.3 1 5.6 1 -5 1 5.4 1 -5.7 1 5.5 1 -5.2 1 5 1 -5.2 1 4.8 1 -4.3 1 4.3 1 -5.2 1 5.7 1 -6.6 1 6 1 -4.3 1 4.5 1 -4.4 1 4.7 1 -7.9 1 8.1 1 -6.4 1 5.9 1 -4.6 1 5.3 1 -5.3 1 5.2 1 -7.4 1 6.7 1 -4.6 1 6 1 -8.2 1 6.7 1 -4.2 1 6.2 1 -8.3 1 7.7 1 -6.6 1 5.3 1 -7.3 1 8 1 -5.9 1 5.5 1 -5.9 1 6 1 -5.5 1 6.3 1 -7.1 1 6 1 -6.1 1 6.5 1 -4.8 1 4.6 1 -5.2 1 4.9 1 -5.5 1 5.7 1 -5.3 1 5.2 1 -6.2 1 7.1 1 -5.5 1 4.6 1 -4.7 1 5.6 1 -7.5 1 6.6 1 -4.6 1 5.2 1 -5 1 5.9 1 -9.3 1 8.9 1 -6.6 1 5.3 1 -4.2 1 4.3 1 -4.8 1 5.3 1 -5.5 1 5.3 1 -5.7 1 5.7 1 -7.2 1 6.9 1 -4.3 1 4.3 1 -4.6 1 4.6 1 -4.4 1 4.4 1 -6.1 1 6.3 1 -4.9 1 4.7 1 -7.4 1 9.2 1 -6.2 1 4.5 1 -7.6 1 7.6 1 -5.4 1 6.5 1 -5.4 1 4.3 1 -4.5 1 4.4 1 -5.2 1 5.2 1 -4.7 1 6 1 -7.1 1 6.3 1 -6.2 1 6.7 1 -5.5 1 4.7 1 -6.2 1 7.2 1 -7.9 1 6.9 1 -5.1 1 5.3 1 -6.2 1 6 1 -5.4 1 5.2 1 -4.3 1 5.1 1 -5.1 1 6.4 1 -6.6 1 4.9 1 -5.1 1 5.2 1 -4.8 1 5.2 1 -5.4 1 4.6 1 -7.2 1 7.3 1 -4.5 1 4.4 1 -6.3 1 7.5 1 -7.4 1 7 1 -5.1 1 5.2 1 -5.8 1 6.9 1 -6.8 1 5.3 1 -7.9 1 8 1 -5.8 1 5.3 1 -5.5 1 5.6 1 -5 1 5.1 1 -5.3 1 5.1 1 -4.7 1 6.2 1 -7.1 1 5.7 1 -5.6 1 6.5 1 -5.5 1 4.4 1 -4.4 1 5 1 -5 1 4.6 1 -6.5 1 6.5 1 -5.2 1 7 1 -7.1 1 5.3 1 -6.9 1 8.7 1 -6.6 1 5 1 -5.6 1 5.6 1 -5.9 1 5.6 1 -5.5 1 5.4 1 -6.4 1 6.2 1 -5.4 1 5.7 1 -6.2 1 6 1 -4.7 1 4.7 1 -4.4 1 4.8 1 -5.9 1 5.7 1 -4.6 1 5 1 -5.2 1 5.1 1 -6.6 1 6.2 1 -5.2 1 5.5 1 -6.2 1 6.1 1 -5.6 1 6.4 1 -6.5 1 5.7 1 -7.2 1 7.5 1 -6.7 1 6.1 1 -5 1 5.4 1 -6.5 1 6.4 1 -8 1 7.7 1 -6.9 1 8.5 1 -7.4 1 5.9 1 -6.2 1 6.5 1 -5.4 1 5.7 1 -7.3 1 6.7 1 -7.4 1 7.4 1 -5.7 1 5.9 1 -7.7 1 7.4 1 -4.6 1 4.6 1 -4.4 1 5.2 1 -5.2 1 6.5 1 -8 1 5.9 1 -5 1 5.6 1 -7.9 1 8.3 1 -5.9 1 5 1 -4.9 1 6.9 1 -6.5 1 4.4 1 -5.1 1 5.9 1 -6.8 1 7.4 1 -5.9 1 4.5 1 -4.5 1 4.5 1 -7.4 1 7.4 1 -7.7 1 8 1 -5.1 1 5.6 1 -5.6 1 5.2 1 -4.8 1 5.3 1 -5.3 1 4.7 1 -4.6 1 4.8 1 -8.2 1 7.7 1 -5.8 1 7.9 1 -6.3 1 4.2 1 -4.5 1 5.6 1 -6.9 1 6.5 1 -7 1 6.5 1 -4.6 1 4.8 1 -8.1 1 7.8 1 -5.4 1 5.4 1 -4.6 1 4.5 1 -6.8 1 6.8 1 -5.4 1 6 1 -5 1 4.5 1 -4.8 1 6.2 1 -7.5 1 6.2 1 -7.8 1 8.7 1 -6.9 1 5.9 1 -4.5 1 4.6 1 -4.5 1 6.1 1 -6.6 1 6.2 1 -6.3 1 5.3 1 -4.7 1 4.5 1 -5.5 1 5.9 1 -5.1 1 4.5 1 -4.6 1 5.5 1 -6.4 1 6.4 1 -6.4 1 5.9 1 -4.7 1 4.4 1 -5.4 1 5.5 1 -4.7 1 5.3 1 -6.6 1 6 1 -4.7 1 5 1 -4.8 1 4.6 1 -8 1 8.5 1 -5.4 1 4.8 1 -5.7 1 6.8 1 -6.1 1 4.9 1 -7.8 1 9 1 -7.1 1 6.8 1 -5.8 1 5.5 1 -5.2 1 4.8 1 -5.8 1 6.1 1 -6.2 1 6.1 1 -4.8 1 4.6 1 -6.1 1 6.1 1 -5.2 1 5.2 1 -4.8 1 6.6 1 -7.9 1 7.7 1 -6.6 1 5.3 1 -5.7 1 5.6 1 -5.5 1 5.8 1 -6.1 1 6.3 1 -5.3 1 5 1 -5.1 1 5.2 1 -6.4 1 5.9 1 -4.5 1 5.6 1 -5.7 1 4.8 1 -4.9 1 5.2 1 -5.3 1 6.6 1 -6.5 1 5.9 1 -6.8 1 5.3 1 -4.3 1 4.3 1 -6.2 1 7.1 1 -7.1 1 6.6 1 -7.3 1 7.5 1 -5.3 1 4.7 1 -4.3 1 5.2 1 -5.5 1 4.5 1 -4.6 1 5.6 1 -7.2 1 7.9 1 -7.3 1 6.2 1 -8.2 1 9.7 1 -6.6 1 4.7 1 -6.4 1 6.3 1 -6.2 1 6.3 1 -5.2 1 5.1 1 -4.4 1 4.6 1 -5 1 4.8 1 -6 1 7.4 1 -5.9 1 5.7 1 -8.9 1 7.8 1 -5.4 1 5.4 1 -5.6 1 5.5 1 -5.9 1 5.9 1 -4.5 1 6.6 1 -8.8 1 8.2 1 -5.7 1 4.6 1 -6.2 1 6.3 1 -5.8 1 6.8 1 -6 1 5.3 1 -5 1 5.1 1 -7.9 1 7.2 1 -5.8 1 6 1 -4.6 1 4.3 1 -4.5 1 4.8 1 -6.1 1 5.7 1 -4.5 1 6 1 -9.2 1 8.3 1 -5.1 1 4.9 1 -5.3 1 5 1 -5.9 1 6 1 -4.6 1 4.4 1 -5.7 1 6.7 1 -6.8 1 6.8 1 -7 1 6 1 -5 1 5.7 1 -4.9 1 4.4 1 -4.9 1 5.9 1 -5.7 1 4.5 1 -4.9 1 5.9 1 -5.3 1 4.4 1 -5.7 1 5.8 1 -4.8 1 6.7 1 -6.6 1 4.8 1 -4.6 1 4.5 1 -4.9 1 5.5 1 -7.5 1 6.7 1 -7.7 1 7.7 1 -6.4 1 7.6 1 -6.8 1 6.4 1 -5.8 1 5.2 1 -4.4 1 4.7 1 -6.5 1 6.3 1 -4.5 1 4.8 1 -5.1 1 6.1 1 -6.2 1 5.2 1 -6.3 1 7.1 1 -7.1 1 7 1 -5.6 1 5.2 1 -5.9 1 5.3 1 -4.9 1 4.6 1 -4.2 1 4.9 1 -5.1 1 5.2 1 -5.1 1 4.7 1 -5.9 1 5.7 1 -6.6 1 8.5 1 -6.6 1 4.5 1 -4.4 1 4.5 1 -4.7 1 6.7 1 -9.4 1 7.5 1 -5.6 1 6.1 1 -4.9 1 4.8 1 -5.5 1 5 1 -4.4 1 4.8 1 -8.2 1 7.7 1 -4.8 1 4.7 1 -4.5 1 5.8 1 -6.5 1 5.5 1 -4.6 1 5.7 1 -8.1 1 7.1 1 -6 1 6.3 1 -5.6 1 5.4 1 -4.7 1 4.3 1 -4.5 1 4.8 1 -5.2 1 4.9 1 -5.2 1 5.2 1 -4.5 1 5.1 1 -6.5 1 7.4 1 -6.1 1 5.9 1 -5.7 1 4.6 1 -5 1 5 1 -4.8 1 4.7 1 -4.4 1 5.3 1 -5.7 1 5 1 -5.1 1 6.9 1 -7.8 1 6.4 1 -6.8 1 6.6 1 -5.4 1 5.4 1 -7 1 8.5 1 -10.7 1 10.1 1 -7.1 1 6.5 1 -6.2 1 6.4 1 -5.8 1 5.7 1 -7.1 1 7.2 1 -9.5 1 9.8 1 -6.8 1 7.5 1 -8.4 1 8.8 1 -8 1 7.6 1 -7.8 1 8.4 1 -9.1 1 8 1 -7.5 1 8.1 1 -8.4 1 7.8 1 -7.9 1 9.6 1 -8.7 1 8.3 1 -8.8 1 8.6 1 -11.5 1 10.7 1 -7.6 1 7.6 1 -8.1 1 9.2 1 -10.4 1 8.9 1 -7.8 1 7.9 1 -7 1 7 1 -8.8 1 8.7 1 -7.2 1 8.3 1 -7.7 1 6.3 1 -6.4 1 7.1 1 -7.6 1 6.8 1 -6.7 1 6.5 1 -7.5 1 9.9 1 -9.2 1 6.6 1 -5.5 1 6.1 1 -9.7 1 9 1 -7.4 1 7.2 1 -5.6 1 5.8 1 -5.2 1 5.1 1 -5.5 1 6 1 -5.7 1 5.6 1 -6.2 1 6.2 1 -6.6 1 6.4 1 -6.3 1 5.8 1 -4.5 1 5.8 1 -7.3 1 5.9 1 -4.6 1 4.6 1 -4.9 1 5.4 1 -5.8 1 5.8 1 -5.2 1 5 1 -4.6 1 4.3 1 -6.1 1 6.1 1 -4.3 1 5.9 1 -6.6 1 7.1 1 -6.9 1 5.4 1 -5.5 1 4.9 1 -4.9 1 5.3 1 -4.8 1 5.1 1 -5 1 4.4 1 -5.3 1 5.2 1 -4.4 1 4.4 1 -5 1 5.1 1 -4.7 1 4.6 1 -4.7 1 4.9 1 -4.5 1 4.9 1 -5.3 1 4.8 1 -6.5 1 6.4 1 -5.2 1 5.3 1 -5.1 1 6.7 1 -6.2 1 5.8 1 -5.9 1 5.1 1 -4.8 1 5.3 1 -7 1 6.9 1 -5.8 1 6.8 1 -6.4 1 5.3 1 -6.7 1 6.4 1 -4.8 1 5 1 -5.6 1 6.2 1 -8.6 1 7.3 1 -5.4 1 6.2 1 -6.3 1 5.5 1 -5.6 1 5.6 1 -6.5 1 7.1 1 -4.9 1 4.7 1 -5.6 1 5.7 1 -5.5 1 5 1 -4.9 1 5.4 1 -4.8 1 4.4 1 -5.7 1 6.1 1 -5.1 1 4.6 1 -4.6 1 5.4 1 -5.4 1 6.4 1 -6.3 1 4.6 1 -5 1 6.8 1 -9.4 1 7.7 1 -4.6 1 4.7 1 -4.8 1 6.6 1 -9.8 1 8.4 1 -6.4 1 6.5 1 -6.4 1 7.5 1 -7.3 1 5.9 1 -5.1 1 5.2 1 -7.5 1 7 1 -7.8 1 7.7 1 -5.1 1 6.2 1 -8.8 1 7.8 1 -4.9 1 5 1 -4.5 1 5.2 1 -5.5 1 5.2 1 -4.9 1 4.4 1 -6.4 1 7.2 1 -7.2 1 7.3 1 -5.8 1 6.6 1 -6.5 1 4.9 1 -4.7 1 5.1 1 -5.6 1 5.2 1 -4.8 1 4.8 1 -4.6 1 5.8 1 -6.4 1 6.8 1 -6.5 1 4.7 1 -5 1 6.1 1 -5.5 1 5.5 1 -6.1 1 5.1 1 -7.2 1 7.3 1 -4.7 1 5.5 1 -7.2 1 6.5 1 -5.9 1 5.9 1 -7.6 1 7.6 1 -5 1 4.7 1 -5.9 1 6.9 1 -5.6 1 6.1 1 -6 1 4.7 1 -6.5 1 6.4 1 -5.6 1 6.2 1 -5.3 1 4.6 1 -7 1 7.6 1 -6.3 1 5.9 1 -4.5 1 4.4 1 -4.6 1 4.5 1 -5.3 1 5.5 1 -5.4 1 5.3 1 -4.8 1 4.7 1 -7 1 7.6 1 -5.4 1 5.3 1 -6.2 1 6.8 1 -6.9 1 6.1 1 -5.2 1 5.3 1 -5.1 1 5.1 1 -5.2 1 5.4 1 -7.1 1 7.8 1 -6.8 1 6.2 1 -5.5 1 5.7 1 -8.5 1 7.6 1 -4.7 1 6.8 1 -6.3 1 4.6 1 -6 1 6.7 1 -6.3 1 5.2 1 -4.3 1 4.7 1 -5.7 1 5.3 1 -4.5 1 4.6 1 -5.1 1 5.9 1 -5.8 1 5 1 -7.2 1 7.2 1 -4.6 1 6.1 1 -8.9 1 7.6 1 -5 1 4.9 1 -4.4 1 4.2 1 -4.3 1 4.7 1 -4.8 1 4.3 1 -5.2 1 5.5 1 -5.2 1 6 1 -6.2 1 5.3 1 -5.9 1 6 1 -6.3 1 6.3 1 -4.9 1 5 1 -4.8 1 6.1 1 -8 1 6.6 1 -5.3 1 5.6 1 -5.2 1 5.3 1 -5.4 1 4.9 1 -5.2 1 5.9 1 -6.3 1 5.8 1 -4.8 1 4.5 1 -6.3 1 6.5 1 -5.4 1 5.2 1 -4.3 1 5.2 1 -7.2 1 6.8 1 -5.7 1 7.3 1 -6.4 1 4.4 1 -4.9 1 6.4 1 -5.9 1 4.8 1 -4.7 1 4.2 1 -4.9 1 5.7 1 -5.4 1 4.6 1 -4.6 1 5.5 1 -7.7 1 8 1 -6.1 1 5.4 1 -4.9 1 4.6 1 -6.3 1 7.9 1 -7 1 5.6 1 -8.1 1 7.9 1 -4.8 1 4.5 1 -4.9 1 5 1 -4.5 1 5 1 -5.1 1 5.3 1 -5.4 1 5.1 1 -5.5 1 5.1 1 -6.5 1 6.5 1 -5.7 1 5.9 1 -4.6 1 4.5 1 -4.3 1 4.6 1 -6.9 1 7 1 -5.1 1 5.7 1 -5.7 1 4.6 1 -5 1 6.2 1 -5.8 1 6.7 1 -6.7 1 5.5 1 -5.6 1 4.7 1 -7.7 1 8.5 1 -5.5 1 4.9 1 -4.8 1 5.4 1 -6 1 6.6 1 -6.1 1 4.8 1 -4.7 1 5.3 1 -5.6 1 5 1 -5 1 5 1 -7.3 1 7.6 1 -5.1 1 4.8 1 -6.5 1 8.2 1 -6.1 1 4.3 1 -5.1 1 5.7 1 -6.5 1 6.2 1 -4.8 1 4.9 1 -6.6 1 6.6 1 -5.1 1 5 1 -5.2 1 5.9 1 -6.2 1 5.3 1 -4.7 1 4.6 1 -4.6 1 6.5 1 -6.6 1 5 1 -4.8 1 4.9 1 -5.9 1 7.6 1 -7.1 1 6.6 1 -6.1 1 5.6 1 -5.3 1 4.4 1 -4.9 1 5.1 1 -5.7 1 6.8 1 -7.5 1 6.7 1 -5.2 1 4.6 1 -4.8 1 4.8 1 -4.8 1 5.4 1 -5.2 1 4.5 1 -6.7 1 6.7 1 -5 1 5.6 1 -6.4 1 5.9 1 -4.9 1 5.7 1 -5.6 1 5.3 1 -5.4 1 4.9 1 -4.9 1 5.7 1 -5.6 1 5.4 1 -5 1 4.4 1 -5.9 1 7 1 -5.5 1 5 1 -6 1 5.5 1 -5.3 1 5 1 -4.5 1 6.2 1 -6.9 1 6 1 -5.8 1 5.4 1 -8 1 8 1 -5.1 1 5 1 -5.6 1 5.6 1 -5.1 1 5 1 -4.9 1 4.8 1 -7.2 1 7.4 1 -7.3 1 7.2 1 -5.1 1 6.4 1 -6.1 1 5.1 1 -5.3 1 6.5 1 -6.3 1 5.7 1 -6.9 1 7.4 1 -6.8 1 5.4 1 -4.5 1 6.1 1 -8.7 1 7.3 1 -4.7 1 5.3 1 -5.7 1 4.9 1 -7.8 1 8.2 1 -4.9 1 4.4 1 -6.7 1 7 1 -4.5 1 4.5 1 -6.8 1 6.9 1 -4.7 1 4.8 1 -7 1 8.5 1 -6.4 1 4.5 1 -5.3 1 5.4 1 -6.2 1 7.4 1 -7.8 1 6.9 1 -4.9 1 4.8 1 -4.9 1 4.8 1 -5.9 1 6.4 1 -5.4 1 5.6 1 -6.6 1 5.9 1 -5 1 5 1 -5.7 1 7.5 1 -6.3 1 5.9 1 -8 1 6.8 1 -4.8 1 4.3 1 -5.8 1 6.2 1 -5.2 1 5.5 1 -5.3 1 4.8 1 -5.6 1 6.4 1 -8.5 1 9.4 1 -7.5 1 7.1 1 -5.8 1 5.9 1 -5.8 1 5.1 1 -5.9 1 5.5 1 -5.9 1 6.2 1 -5.2 1 5.1 1 -5.4 1 5.7 1 -6.1 1 5.5 1 -5.2 1 4.8 1 -7.7 1 7.8 1 -4.5 1 4.9 1 -5 1 6 1 -7.9 1 7 1 -5.4 1 4.8 1 -4.5 1 4.5 1 -4.4 1 5.2 1 -5.2 1 4.4 1 -5.2 1 5.6 1 -5.2 1 5.2 1 -4.7 1 4.9 1 -4.9 1 4.8 1 -4.9 1 5.7 1 -6 1 5.7 1 -5.2 1 5.9 1 -6.4 1 6.8 1 -8.4 1 6.4 1 -4.4 1 4.4 1 -4.8 1 4.9 1 -7.8 1 8.1 1 -6.2 1 6.2 1 -5.6 1 5.1 1 -5.1 1 6.4 1 -6.1 1 6.1 1 -6.2 1 5.5 1 -4.9 1 5 1 -6.6 1 6.8 1 -7.4 1 6.8 1 -7.7 1 7.6 1 -6.1 1 6.5 1 -8.3 1 8.1 1 -5.5 1 5.3 1 -4.9 1 6.8 1 -7.7 1 6.2 1 -8.3 1 8.3 1 -5 1 4.4 1 -4.2 1 5.8 1 -8.1 1 8 1 -5.8 1 5.3 1 -5.7 1 4.7 1 -4.7 1 4.7 1 -4.5 1 4.5 1 -4.8 1 5 1 -5.1 1 4.9 1 -6 1 7.1 1 -5.4 1 5.7 1 -5.7 1 4.3 1 -4.8 1 6.9 1 -6.7 1 5.1 1 -5.2 1 6.5 1 -6.5 1 4.9 1 -5.5 1 5.5 1 -4.8 1 4.6 1 -5 1 5.7 1 -5.5 1 6.3 1 -6 1 5.2 1 -6 1 5.8 1 -5 1 5.4 1 -6.3 1 7.5 1 -7.6 1 5.6 1 -4.5 1 5 1 -8.3 1 7.7 1 -4.6 1 4.6 1 -4.4 1 4.4 1 -4.6 1 4.7 1 -4.3 1 4.2 1 -5.4 1 5.6 1 -4.6 1 5.6 1 -6 1 6.9 1 -7.7 1 5.8 1 -5.1 1 5.4 1 -5.6 1 6.1 1 -5.3 1 5.9 1 -5.9 1 5.2 1 -7 1 6.1 1 -6.8 1 7.6 1 -5.8 1 5.6 1 -5.1 1 5 1 -5.5 1 5.9 1 -5.8 1 5 1 -5.4 1 6 1 -5.3 1 4.9 1 -4.7 1 6.5 1 -6.3 1 4.5 1 -5.7 1 6 1 -5.6 1 5.5 1 -6 1 6.2 1 -5.5 1 5.3 1 -8 1 9 1 -5.8 1 4.6 1 -5.1 1 4.9 1 -6.1 1 6 1 -4.4 1 4.9 1 -5.1 1 4.6 1 -5.5 1 6.8 1 -5.8 1 6.3 1 -6.3 1 4.6 1 -5.6 1 5.8 1 -6.8 1 6.8 1 -4.6 1 4.3 1 -4.2 1 4.9 1 -4.9 1 5.4 1 -6.2 1 5.2 1 -5.2 1 5.7 1 -5.2 1 6.1 1 -6 1 4.4 1 -5.2 1 6 1 -5.6 1 5.2 1 -5.2 1 5 1 -6.1 1 7.4 1 -6 1 6.5 1 -7.2 1 5.4 1 -6 1 7.9 1 -7.1 1 7.1 1 -9 1 7.3 1 -4.6 1 4.5 1 -5.4 1 5.1 1 -4.3 1 4.3 1 -4.3 1 6.2 1 -8.9 1 7 1 -5.7 1 6 1 -4.7 1 5.6 1 -6.6 1 6.3 1 -5.4 1 4.9 1 -6.2 1 6.6 1 -6.9 1 6.8 1 -4.9 1 4.3 1 -5.6 1 6.1 1 -6.5 1 6.4 1 -5.8 1 6.9 1 -5.9 1 4.3 1 -7.7 1 8.5 1 -5.4 1 5.2 1 -6 1 5.4 1 -6.4 1 6.4 1 -6.7 1 6.7 1 -4.5 1 4.7 1 -5.8 1 6.1 1 -7 1 6.7 1 -4.5 1 5.2 1 -8.6 1 8.8 1 -5.6 1 4.9 1 -4.7 1 6 1 -6.3 1 4.8 1 -5.5 1 5.4 1 -5.8 1 5.7 1 -4.3 1 4.4 1 -4.4 1 4.8 1 -5.7 1 5.2 1 -4.4 1 4.9 1 -6.1 1 5.9 1 -5.7 1 5.7 1 -6.3 1 6.4 1 -5.2 1 5.6 1 -5.3 1 5.5 1 -5.8 1 5 1 -4.9 1 5.3 1 -5.9 1 5.4 1 -5.1 1 5.5 1 -5.5 1 5 1 -4.4 1 5.2 1 -5.2 1 4.5 1 -5 1 5.8 1 -5.5 1 5.1 1 -4.9 1 4.4 1 -6.8 1 7.5 1 -6.4 1 6.2 1 -5.1 1 4.9 1 -5.1 1 4.7 1 -5 1 5.2 1 -5.1 1 7.1 1 -7.8 1 6.8 1 -5.9 1 5.1 1 -7.6 1 9.4 1 -6.6 1 4.9 1 -7 1 7.4 1 -6.2 1 6.1 1 -5.4 1 5.4 1 -5 1 4.3 1 -4.2 1 4.2 1 -5.7 1 6.8 1 -5.6 1 5.4 1 -5.3 1 4.5 1 -6.1 1 7.3 1 -5.8 1 4.5 1 -6.5 1 8.4 1 -6.8 1 4.9 1 -4.7 1 4.7 1 -4.4 1 5.7 1 -5.8 1 5.8 1 -5.5 1 6.3 1 -6.7 1 4.6 1 -4.3 1 4.5 1 -5.4 1 5.3 1 -4.5 1 4.6 1 -4.6 1 5.2 1 -5 1 5.9 1 -8 1 6.9 1 -8.3 1 8.4 1 -6.2 1 5.6 1 -6.9 1 6.9 1 -4.8 1 5.9 1 -7.1 1 6.4 1 -4.9 1 5.7 1 -5.6 1 5.5 1 -6.8 1 6.6 1 -5.4 1 5.9 1 -6.3 1 6.4 1 -6.9 1 7.4 1 -9.1 1 6.9 1 -4.8 1 5.4 1 -8.2 1 9.1 1 -6.6 1 6.8 1 -9 1 8.4 1 -5.4 1 4.3 1 -4.6 1 5.1 1 -5.6 1 5.4 1 -4.8 1 5 1 -4.6 1 4.5 1 -5.2 1 4.9 1 -4.3 1 4.3 1 -4.3 1 4.4 1 -5.3 1 6.1 1 -6.2 1 5.7 1 -5.3 1 6.1 1 -7.8 1 6.6 1 -5 1 5.3 1 -8 1 8.4 1 -5.8 1 5.2 1 -7.8 1 7.8 1 -5.2 1 5.1 1 -4.4 1 4.5 1 -7.5 1 8 1 -6 1 5.4 1 -5.8 1 6.3 1 -6.3 1 6.4 1 -5.7 1 5.1 1 -4.8 1 5.1 1 -6.1 1 6 1 -6.1 1 6.7 1 -5.1 1 4.3 1 -5.4 1 5.7 1 -5.9 1 5.7 1 -5.7 1 5.7 1 -4.5 1 5.6 1 -7.4 1 6.7 1 -8.2 1 9.8 1 -7.6 1 6.3 1 -6.4 1 6.3 1 -5 1 5.5 1 -6.8 1 5.7 1 -6.7 1 7.2 1 -4.9 1 4.4 1 -5.4 1 5.5 1 -4.6 1 4.4 1 -5.1 1 6.2 1 -8.8 1 7.7 1 -4.6 1 4.8 1 -5.2 1 5 1 -7.7 1 7.7 1 -5 1 7.1 1 -7.3 1 5.6 1 -5.3 1 5.7 1 -6 1 6.1 1 -6.5 1 6.4 1 -5.9 1 7.2 1 -6.6 1 4.9 1 -4.8 1 5.1 1 -8.4 1 8.5 1 -5.3 1 6 1 -5.8 1 5.1 1 -5.8 1 5 1 -4.3 1 4.4 1 -6.3 1 6.2 1 -4.8 1 5.2 1 -5 1 4.5 1 -4.2 1 5.2 1 -5.1 1 6 1 -7.7 1 6 1 -4.5 1 4.8 1 -4.8 1 4.9 1 -4.9 1 6.5 1 -8 1 5.9 1 -4.5 1 5 1 -5 1 4.8 1 -7 1 7.7 1 -5.5 1 4.7 1 -6.5 1 6.7 1 -5.5 1 5.6 1 -6.2 1 5.7 1 -4.5 1 4.5 1 -5.3 1 5.9 1 -4.8 1 4.3 1 -4.4 1 6.4 1 -6.5 1 4.5 1 -6.2 1 8.1 1 -6.5 1 5.3 1 -5.4 1 4.6 1 -4.4 1 4.6 1 -4.4 1 5.6 1 -7.5 1 7.1 1 -5.3 1 5.7 1 -6.5 1 5.1 1 -5.1 1 5.4 1 -5.2 1 4.9 1 -6.1 1 7.5 1 -7.4 1 6 1 -4.3 1 5 1 -6.7 1 6.3 1 -6.5 1 6.7 1 -5.7 1 5.5 1 -5.1 1 6.9 1 -6.4 1 4.4 1 -5.2 1 5.1 1 -4.4 1 5.3 1 -5.7 1 5.8 1 -6.8 1 6.3 1 -5.5 1 5.2 1 -5.9 1 5.8 1 -5.8 1 5.9 1 -4.5 1 4.6 1 -5.1 1 5.4 1 -5.1 1 4.9 1 -5.2 1 5.1 1 -5 1 5.8 1 -5.6 1 4.5 1 -4.9 1 4.9 1 -7.2 1 7.4 1 -4.4 1 4.9 1 -5 1 4.8 1 -6.7 1 7.2 1 -5.3 1 4.3 1 -4.6 1 4.9 1 -5.8 1 6.4 1 -5.3 1 4.6 1 -5.4 1 6 1 -6.2 1 5.6 1 -5.2 1 5.3 1 -4.6 1 4.4 1 -5.2 1 6.6 1 -6.2 1 4.9 1 -4.5 1 5.7 1 -5.8 1 4.5 1 -7.2 1 7.2 1 -4.9 1 4.9 1 -4.4 1 4.4 1 -5.8 1 6 1 -4.8 1 5.2 1 -5.1 1 4.5 1 -4.9 1 5.1 1 -7.7 1 9.1 1 -7.1 1 5.6 1 -5.8 1 6.1 1 -7.9 1 7.4 1 -5.5 1 6.2 1 -5 1 4.3 1 -4.3 1 6.1 1 -6.8 1 5.2 1 -5.6 1 6.4 1 -5.3 1 4.8 1 -5.8 1 5.6 1 -4.7 1 5.7 1 -5.5 1 5.4 1 -6.1 1 5.6 1 -5.5 1 5.1 1 -4.7 1 4.5 1 -4.8 1 4.9 1 -4.7 1 6.2 1 -6.1 1 4.4 1 -4.6 1 4.9 1 -5.2 1 5.6 1 -5.6 1 5.4 1 -5.8 1 6.5 1 -5.7 1 4.6 1 -4.5 1 5.7 1 -6.4 1 5.1 1 -5.9 1 6 1 -4.6 1 4.6 1 -5 1 5.7 1 -6.3 1 6.2 1 -6.4 1 5.9 1 -4.5 1 4.9 1 -5 1 6.4 1 -8.4 1 6.7 1 -5.5 1 6.1 1 -6.1 1 6.5 1 -9 1 8.3 1 -5.4 1 5.1 1 -4.6 1 5.5 1 -6.5 1 5.3 1 -4.3 1 4.5 1 -6.8 1 8.7 1 -9.8 1 8 1 -5.2 1 5.9 1 -5.7 1 5.5 1 -5.2 1 4.9 1 -7.4 1 9 1 -8.3 1 6.3 1 -4.5 1 4.5 1 -5 1 6.2 1 -5.6 1 4.5 1 -5.6 1 5.5 1 -4.6 1 5.8 1 -5.8 1 5 1 -6.6 1 6.4 1 -6 1 6.6 1 -6.6 1 7.4 1 -6.9 1 5.9 1 -5.4 1 5.2 1 -7.2 1 8 1 -6 1 5.4 1 -5.2 1 5 1 -5.5 1 7.1 1 -6.4 1 5.3 1 -5.9 1 5.1 1 -5.3 1 6.6 1 -7.5 1 6 1 -6.9 1 7.2 1 -4.8 1 5.1 1 -5.9 1 6.9 1 -6.2 1 4.6 1 -4.3 1 4.6 1 -5.3 1 5.7 1 -6 1 5.3 1 -4.4 1 4.7 1 -5 1 4.7 1 -4.4 1 5.1 1 -6.1 1 6.5 1 -5.6 1 4.7 1 -4.5 1 5.8 1 -6.9 1 6.1 1 -5.5 1 4.7 1 -6.8 1 7.4 1 -8.2 1 7.8 1 -6 1 6.2 1 -5.3 1 5.3 1 -4.8 1 4.7 1 -7.9 1 8.9 1 -8.8 1 7.7 1 -4.5 1 5.3 1 -5.4 1 4.8 1 -6.2 1 6.5 1 -6.7 1 6.3 1 -4.9 1 6 1 -6.3 1 5.2 1 -5 1 5.6 1 -6.2 1 5.5 1 -7.8 1 8.9 1 -6 1 4.8 1 -6.5 1 6.8 1 -5.6 1 5.4 1 -4.5 1 4.6 1 -5.9 1 6.7 1 -5.8 1 5.5 1 -6.2 1 6.2 1 -5.1 1 5.5 1 -5.7 1 5.7 1 -6.7 1 7 1 -5.9 1 4.7 1 -7.3 1 7.1 1 -5.3 1 5.4 1 -4.3 1 4.4 1 -4.9 1 6.2 1 -6.3 1 5 1 -5.2 1 5 1 -4.4 1 6 1 -7.4 1 7.8 1 -6.2 1 5.8 1 -7.7 1 6.6 1 -8.2 1 9.7 1 -8.6 1 6.5 1 -4.9 1 6.9 1 -6.5 1 5.5 1 -6.1 1 5.7 1 -5.6 1 5.1 1 -4.2 1 4.3 1 -6.1 1 6 1 -4.3 1 4.5 1 -5.6 1 5.5 1 -5.6 1 6.5 1 -5.7 1 5.7 1 -5.7 1 5 1 -7.5 1 8 1 -6.7 1 8 1 -6.9 1 4.8 1 -5.3 1 5.6 1 -6.8 1 8.6 1 -7 1 7 1 -6.9 1 5.9 1 -7.2 1 7.1 1 -6 1 7.1 1 -7.4 1 5.4 1 -4.5 1 4.7 1 -5.1 1 5.6 1 -6.9 1 6.3 1 -5.5 1 5.4 1 -4.5 1 4.9 1 -5.8 1 5.9 1 -4.8 1 6 1 -7.5 1 7.3 1 -9.3 1 7.7 1 -5.2 1 5.2 1 -5.3 1 7 1 -6.8 1 5.1 1 -5.5 1 7.2 1 -8 1 8.1 1 -6.1 1 5.7 1 -6.1 1 4.8 1 -4.8 1 4.7 1 -4.6 1 5.1 1 -4.7 1 4.3 1 -4.5 1 5.1 1 -6.7 1 6.4 1 -7 1 6.6 1 -6.8 1 7.8 1 -5.4 1 4.6 1 -4.8 1 4.8 1 -6.4 1 6.3 1 -4.7 1 4.7 1 -5.3 1 5.7 1 -6.6 1 7.1 1 -7.8 1 7.1 1 -4.9 1 5.3 1 -5.1 1 4.5 1 -6.1 1 6.8 1 -5.2 1 4.4 1 -7.1 1 8.9 1 -8.5 1 7.6 1 -5.6 1 5.4 1 -5 1 4.7 1 -5 1 5.3 1 -5 1 4.3 1 -4.4 1 4.4 1 -5.4 1 7.5 1 -8.5 1 6.7 1 -6.6 1 6.7 1 -5.3 1 4.9 1 -5 1 5.7 1 -5.3 1 4.6 1 -4.2 1 6.3 1 -6.7 1 6 1 -6.2 1 5 1 -6.5 1 6.4 1 -5.1 1 5.3 1 -8 1 8.3 1 -6.2 1 5.6 1 -4.8 1 5.1 1 -4.6 1 5.3 1 -8.3 1 8.4 1 -6.7 1 5.9 1 -5 1 4.8 1 -4.6 1 4.7 1 -5.4 1 5.5 1 -5.3 1 5.1 1 -6.2 1 6.2 1 -5.8 1 5.9 1 -4.8 1 4.8 1 -5 1 6.3 1 -7.2 1 6.1 1 -7.3 1 7.1 1 -5 1 5.3 1 -5.1 1 4.9 1 -5 1 6.2 1 -6.1 1 6.7 1 -7.7 1 6.1 1 -5.2 1 7.4 1 -9.4 1 7.7 1 -9.4 1 8.9 1 -5.6 1 5.6 1 -6.5 1 6.4 1 -9.2 1 9.3 1 -6.4 1 6.7 1 -6.9 1 6.6 1 -5.5 1 5.5 1 -5.8 1 6.5 1 -7.6 1 7.8 1 -7.7 1 7.1 1 -8.5 1 8.8 1 -7.3 1 7 1 -6.8 1 6.7 1 -5.7 1 8.6 1 -9.5 1 8.2 1 -7.4 1 6.6 1 -6.6 1 6 1 -6.3 1 7.7 1 -9.2 1 7.8 1 -9.2 1 9.4 1 -7 1 6.9 1 -7.6 1 7.6 1 -11.1 1 11.1 1 -6.7 1 6.7 1 -6.2 1 7 1 -8.2 1 8.3 1 -8 1 7 1 -7.8 1 8.8 1 -8.4 1 7.5 1 -6.6 1 7.3 1 -8.6 1 8.4 1 -7.5 1 8.8 1 -12.7 1 11.1 1 -6.7 1 9.5 1 -9.3 1 6.2 1 -7.4 1 8.4 1 -7.9 1 7.5 1 -7 1 6.6 1 -7.5 1 8.9 1 -7.7 1 6.3 1 -6.7 1 6.6 1 -7.7 1 7.6 1 -7.2 1 7.8 1 -6.7 1 6.1 1 -7.2 1 7.7 1 -6.5 1 6 1 -6.3 1 6.7 1 -6.3 1 6.2 1 -6.8 1 7.5 1 -9.9 1 9.3 1 -7.4 1 6.6 1 -5.8 1 5.9 1 -5.3 1 5.3 1 -6.5 1 8.6 1 -10.6 1 8.7 1 -6.7 1 7.1 1 -7.6 1 6.9 1 -5.2 1 5.5 1 -5.4 1 6.8 1 -6.9 1 5.4 1 -9.1 1 9.1 1 -5.2 1 5.5 1 -7 1 6.3 1 -6.3 1 7.3 1 -5.9 1 4.8 1 -5 1 5.4 1 -7 1 6.5 1 -5.4 1 5.5 1 -5.7 1 7.9 1 -6.8 1 6.2 1 -7.3 1 5.8 1 -5.6 1 6.5 1 -5.8 1 6.3 1 -7.1 1 5.8 1 -4.9 1 4.7 1 -4.7 1 5.1 1 -7.9 1 7.8 1 -6 1 6.6 1 -5.9 1 6.1 1 -7.7 1 7.7 1 -7.5 1 7.3 1 -6.3 1 5.6 1 -9.2 1 11.2 1 -7.1 1 5.2 1 -7.4 1 7.6 1 -6.9 1 7.5 1 -6.5 1 6.9 1 -6.8 1 5.8 1 -6 1 6.3 1 -6.9 1 7.1 1 -6.6 1 8.9 1 -9.6 1 8.2 1 -7.5 1 6.6 1 -6.7 1 7.2 1 -7.8 1 8.1 1 -7.9 1 10.2 1 -15.2 1 13.1 1 -11 1 10.7 1 -9.4 1 9.1 1 -10.4 1 10.2 1 -8.4 1 8.4 1 -12.4 1 14.3 1 -9.5 1 7.4 1 -7.5 1 10.1 1 -9.8 1 7.2 1 -6.7 1 6.8 1 -6.7 1 6.9 1 -8.3 1 7.9 1 -6.9 1 7.1 1 -6.6 1 7.9 1 -9.2 1 7.9 1 -7.1 1 6.8 1 -7 1 6.8 1 -7.2 1 7.2 1 -6.5 1 7 1 -7 1 7.5 1 -7.2 1 8.2 1 -8.1 1 6.5 1 -6 1 5.6 1 -6.2 1 6.2 1 -6 1 5.6 1 -6.3 1 6.2 1 -7.6 1 7.8 1 -5.2 1 5.2 1 -5.8 1 5.5 1 -8.2 1 9.3 1 -6.9 1 6 1 -5.1 1 4.8 1 -8 1 8 1 -4.7 1 5 1 -7.4 1 7.7 1 -5.1 1 4.7 1 -6.4 1 6.9 1 -5.3 1 5.1 1 -5.9 1 5.5 1 -6.9 1 7.5 1 -7 1 8 1 -7.4 1 5.9 1 -7.8 1 8.3 1 -6.5 1 6.3 1 -5.1 1 4.9 1 -4.8 1 6.1 1 -6.3 1 4.6 1 -4.4 1 4.5 1 -4.5 1 4.5 1 -4.5 1 4.9 1 -5 1 5.2 1 -5 1 6.4 1 -6.9 1 4.9 1 -5.3 1 6.5 1 -5.7 1 4.5 1 -4.6 1 5.5 1 -6.1 1 6.2 1 -6.8 1 5.7 1 -6 1 8.1 1 -6.5 1 5.1 1 -5.7 1 5 1 -4.4 1 5.9 1 -6.5 1 5.4 1 -5.4 1 5.1 1 -4.4 1 4.4 1 -5 1 5.4 1 -5.3 1 4.8 1 -5 1 5.1 1 -4.8 1 4.7 1 -4.9 1 5.7 1 -6 1 5.6 1 -8.1 1 8.7 1 -6 1 5.2 1 -4.8 1 4.7 1 -4.8 1 4.8 1 -6.4 1 7 1 -5.1 1 5.9 1 -5.9 1 6.5 1 -6.8 1 4.7 1 -4.9 1 5.5 1 -5 1 5.2 1 -5.4 1 4.9 1 -8 1 8.4 1 -5.5 1 6.3 1 -6.1 1 5.5 1 -5.6 1 5.8 1 -6.4 1 5.6 1 -7.1 1 7.2 1 -4.7 1 4.5 1 -4.5 1 4.8 1 -5.9 1 6.7 1 -6.8 1 6.1 1 -7 1 7.6 1 -5.6 1 6.5 1 -7 1 5.5 1 -5.6 1 5.5 1 -4.9 1 4.9 1 -5.4 1 5.9 1 -5.3 1 5.3 1 -5.8 1 5.7 1 -6.9 1 6.6 1 -6.5 1 6.6 1 -5.6 1 5.1 1 -5 1 6.5 1 -6.2 1 5.5 1 -5.5 1 5.1 1 -4.9 1 5 1 -6.4 1 6.7 1 -6.2 1 6.4 1 -6.2 1 5 1 -4.3 1 5.1 1 -5.9 1 5.2 1 -7.2 1 7.6 1 -6.6 1 6.7 1 -6 1 6.1 1 -6.7 1 6.2 1 -4.6 1 5.1 1 -6 1 7.4 1 -6.7 1 4.8 1 -4.7 1 4.8 1 -5 1 4.9 1 -6.4 1 7 1 -6 1 5.2 1 -4.6 1 5.1 1 -5 1 5.6 1 -6.8 1 6.4 1 -6 1 5.4 1 -5.9 1 6.3 1 -5.5 1 5.5 1 -4.8 1 4.6 1 -7.5 1 8.7 1 -5.9 1 5.5 1 -7 1 6.3 1 -6.4 1 6.6 1 -5.6 1 5.3 1 -6.3 1 6.5 1 -4.8 1 4.7 1 -7.5 1 7.3 1 -4.8 1 5.5 1 -8.2 1 9.4 1 -6.4 1 4.3 1 -6.5 1 7.1 1 -4.9 1 5.3 1 -6.2 1 5.3 1 -4.6 1 4.8 1 -4.9 1 4.6 1 -4.5 1 6.6"/></g>
<path class="sig" stroke-width=".4" d="M86.6 451.1 86.9 451.4 87.1 450.9 87.4 451.4 87.6 450.8 87.9 451.5 88.1 450.8 88.4 452 88.6 450.5 88.9 451.9 89.1 450.5 89.4 452.1 89.6 450.4 89.9 452.8 90.2 450.6 90.4 452.1 90.7 450.3 90.9 453.1 91.2 450.3 91.4 453.5 91.7 448.4 91.9 454.2 92.2 448.6 92.4 453.9 92.7 449.3 92.9 452.8 93.2 446.6 93.4 453 93.7 449.1 94 453.1 94.2 446.2 94.5 453.2 94.7 447.9 95 454.3 95.2 447.4 95.5 455.6 95.7 448.4 96 458.2 96.2 444.6 96.5 455.9 96.7 443.3 97 459.3 97.3 443.3 97.5 459 97.8 445 98 458.2 98.3 447.1 98.5 453.4 98.8 448.9 99 456.5 99.3 449.2 99.5 456.9 99.8 445.7 100 456.4 100.3 447.8 100.6 455.8 100.8 447.2 101.1 455.4 101.3 447.2 101.6 453.5 101.8 448.9 102.1 453.2 102.3 449.4 102.6 454.2 102.8 450.4 103.1 452.3 103.3 449.8 103.6 452.1 103.8 450.3 104.1 451.7 104.4 450.3 104.6 452.2 104.9 450.3 105.1 451.6 105.4 450.4 105.6 452 105.9 450.9 106.1 451.5 106.4 450.8 106.6 451.6 106.9 450.9 107.1 451.5 107.4 451.1"/>
<path class="sig" stroke-width=".4" d="M107 451.1 107.3 451.5 107.5 451 107.8 451.6 108 451.1 108.3 451.7 108.5 451 108.8 451.5 109 450.8 109.3 451.6 109.5 450.4 109.8 452 110 450.2 110.3 452 110.5 450.3 110.8 452.3 111 449.7 111.3 452.1 111.5 449.6 111.8 452.6 112 449.3 112.3 452.6 112.6 449.8 112.8 452 113.1 449.5 113.3 453.4 113.6 447.8 113.8 454.2 114.1 449.7 114.3 454.8 114.6 448.4 114.8 452.8 115.1 447.7 115.3 454.7 115.6 449.5 115.8 455.1 116.1 445.5 116.3 454.8 116.6 447.8 116.8 457.8 117.1 449.4 117.3 454.5 117.6 447.1 117.9 453.8 118.1 447 118.4 455.4 118.6 444.3 118.9 455.2 119.1 447.5 119.4 455 119.6 443.3 119.9 459.3 120.1 443.3 120.4 454 120.6 448 120.9 458.9 121.1 448.1 121.4 455.2 121.6 443.8 121.9 458.1 122.1 446.8 122.4 457 122.7 446.6 122.9 457.1 123.2 447.4 123.4 456.1 123.7 449.4 123.9 453.3 124.2 448.1 124.4 454.8 124.7 447.4 124.9 455.4 125.2 450.1 125.4 454.9 125.7 448 125.9 453.8 126.2 448.8 126.4 453.6 126.7 449.1 126.9 453.8 127.2 450.4 127.4 453.6 127.7 449.5 128 453.5 128.2 450.2 128.5 452.3 128.7 450.3 129 452.4 129.2 449.8 129.5 451.6 129.7 450.3 130 452 130.2 450.8 130.5 451.9 130.7 450.6 131 451.6 131.2 450.9 131.5 451.5 131.7 450.9 132 451.4 132.2 450.9 132.5 451.4 132.7 451 133 451.3"/>
<path class="sig" stroke-width=".4" d="M158.8 451.2 159.1 451.3 159.3 451.1 159.6 451.4 159.8 451.1 160.1 451.4 160.3 451.1 160.6 451.5 160.8 451 161.1 451.5 161.3 451.1 161.6 451.5 161.8 451 162.1 451.5 162.3 450.9 162.6 451.6 162.8 451.1 163.1 451.4 163.3 450.8 163.6 451.6 163.8 450.8 164.1 451.7 164.3 450.9 164.6 451.5 164.8 450.7 165.1 451.9 165.3 451 165.6 451.5 165.8 450.5 166.1 451.6 166.3 450.7 166.6 451.6 166.9 451 167.1 451.6 167.4 450.7 167.6 451.7 167.9 450.2 168.1 452.2 168.4 450.1 168.6 452.2 168.9 450.2 169.1 452.3 169.4 450.7 169.6 452.2 169.9 450.8 170.1 452.3 170.4 450.7 170.6 451.8 170.9 450.3 171.1 452.1 171.4 449.7 171.6 452.7 171.9 450.5 172.1 452.5 172.4 449.5 172.6 453.3 172.9 450.6 173.1 452.7 173.4 450 173.6 453.1 173.9 449.8 174.1 453.6 174.4 449.3 174.7 452 174.9 450.2 175.2 453.8 175.4 450.2 175.7 453.6 175.9 449.3 176.2 454.3 176.4 450.1 176.7 453.2 176.9 449.5 177.2 453.3 177.4 449.6 177.7 454.6 177.9 449.2 178.2 454 178.4 448.6 178.7 454.4 178.9 447.8 179.2 453 179.4 449.1 179.7 453.5 179.9 448.8 180.2 454.3 180.4 447.5 180.7 454.2 180.9 447.3 181.2 454.4 181.4 446.8 181.7 453.5 181.9 449.7 182.2 454 182.5 447.4 182.7 455.3 183 446.9 183.2 454.5 183.5 447.2 183.7 453.9 184 446.8 184.2 453.1 184.5 446.2 184.7 455.8 185 446.7 185.2 455.3 185.5 445.8 185.7 456.3 186 447.5 186.2 456.2 186.5 449.3 186.7 455.2 187 447.1 187.2 455.8 187.5 446.8 187.7 453.2 188 447.8 188.2 456.1 188.5 447.1 188.7 457.2 189 445.8 189.2 457.1 189.5 446.4 189.7 457.3 190 445.3 190.3 457.3 190.5 446.6 190.8 453.1 191 447.1 191.3 455 191.5 448.1 191.8 455.4 192 448.3 192.3 453.3 192.5 449.2 192.8 456.9 193 448.4 193.3 454.4 193.5 448.1 193.8 454 194 446 194.3 456.1 194.5 447.8 194.8 456.1 195 447.7 195.3 454.2 195.5 448.5 195.8 455.4 196 446.3 196.3 455.5 196.5 449.1 196.8 453 197 448.2 197.3 453.1 197.5 449.9 197.8 452.7 198.1 448.5 198.3 452.4 198.6 447.6 198.8 453.8 199.1 448.2 199.3 455.5 199.6 447.6 199.8 454.9 200.1 449.2 200.3 453.5 200.6 449 200.8 453.4 201.1 448 201.3 454.3 201.6 449.1 201.8 454 202.1 448 202.3 453.6 202.6 450.3 202.8 453 203.1 449.2 203.3 453.9 203.6 450 203.8 452.5 204.1 450.2 204.3 452.4 204.6 448.7 204.8 453.5 205.1 449.8 205.3 453.6 205.6 449.8 205.9 453.2 206.1 449.2 206.4 453 206.6 449.5 206.9 453.2 207.1 450 207.4 451.8 207.6 450.3 207.9 452.1 208.1 449.7 208.4 452.2 208.6 449.7 208.9 452.9 209.1 450.4 209.4 452 209.6 450.5 209.9 452.8 210.1 450.2 210.4 452.5 210.6 450.3 210.9 452.2 211.1 450.9 211.4 451.7 211.6 450.2 211.9 452.1 212.1 450.5 212.4 451.7 212.6 450.6 212.9 452 213.1 451 213.4 451.6 213.7 450.7 213.9 451.8 214.2 450.9 214.4 451.8 214.7 450.6 214.9 451.9 215.2 450.6 215.4 451.5 215.7 450.9 215.9 451.7 216.2 450.8 216.4 451.7 216.7 451.1 216.9 451.5 217.2 451.1 217.4 451.4 217.7 451 217.9 451.5 218.2 451.1 218.4 451.4 218.7 451.2 218.9 451.4 219.2 451 219.4 451.5 219.7 451 219.9 451.4 220.2 451.1 220.4 451.5 220.7 451 220.9 451.4 221.2 451.1"/>
<path class="sig" stroke-width=".4" d="M201.3 451.1 201.6 451.5 201.8 450.5 202.1 452.9 202.4 449.4 202.6 452.3 202.9 446.4 203.2 453.6 203.5 447.8 203.7 454 204 439.9 204.3 463.2 204.5 439.3 204.8 458.6 205.1 441.6 205.3 459.1 205.6 446.5 205.9 453.8 206.2 450.2 206.4 453.9 206.7 450.3 207 452.2 207.2 450.6 207.5 451.6"/>
<path class="sig" stroke-width=".4" d="M214 450.7 214.3 452 214.5 449.2 214.8 453.5 215.1 445.2 215.4 458.3 215.6 446.4 215.9 458.7 216.2 431 216.5 471.1 216.7 429.5 217 466 217.3 435.7 217.6 460.5 217.8 441.5 218.1 456.3 218.4 446.9 218.7 453.4 218.9 450.4 219.2 451.9"/>
<path class="sig" stroke-width=".4" d="M218.4 450.7 218.7 452.4 218.9 449.4 219.2 452.5 219.5 445.2 219.8 454.8 220 446 220.3 457.4 220.6 433.8 220.9 469.7 221.1 432.4 221.4 464.8 221.7 436.3 222 455.2 222.2 447 222.5 456.9 222.8 448.3 223.1 452.3 223.3 450.1 223.6 451.7"/>
<path class="sig" stroke-width=".4" d="M350.3 451.1 350.6 451.5 350.8 450.4 351.1 451.7 351.4 449.8 351.6 453.1 351.9 447.6 352.2 456.2 352.5 447.6 352.7 455.7 353 441.8 353.3 461.2 353.5 441.3 353.8 454.5 354.1 448.4 354.3 454.9 354.6 447.8 354.9 454.8 355.2 448.1 355.4 452.8 355.7 450 356 452.1 356.2 450.9 356.5 451.6"/>
<path class="sig" stroke-width=".4" d="M361.5 451.1 361.8 451.7 362 450.8 362.3 451.6 362.5 450.7 362.8 451.7 363 450.7 363.3 452 363.5 449.4 363.8 453.4 364 448.7 364.3 452.3 364.6 447.9 364.8 453.3 365.1 448.7 365.3 454 365.6 447.6 365.8 457.8 366.1 446 366.3 454 366.6 446.9 366.9 458.2 367.1 447.1 367.4 453.7 367.6 441.4 367.9 461.2 368.1 441.3 368.4 458.1 368.6 444.4 368.9 457.5 369.1 448.7 369.4 459.4 369.7 444.9 369.9 458.1 370.2 448.2 370.4 455.8 370.7 447.5 370.9 452.7 371.2 448.5 371.4 453.8 371.7 448.2 372 452 372.2 449.4 372.5 453 372.7 449.7 373 452.5 373.2 451 373.5 451.6 373.7 450.9 374 451.5 374.2 451 374.5 451.5"/>
<path class="sig" stroke-width=".4" d="M483.5 451.1 483.8 451.4 484 450.8 484.3 452.2 484.6 450.4 484.8 453.1 485.1 450.2 485.4 453.8 485.7 448.1 485.9 454 486.2 444.7 486.5 458.2 486.7 444.3 487 453.2 487.3 449.1 487.5 453.8 487.8 449.6 488.1 452.5 488.4 450.1 488.6 451.9 488.9 450.8 489.2 451.8 489.4 451.1 489.7 451.5"/>
<path class="sig" stroke-width=".4" d="M563.2 451 563.5 451.4 563.7 451 564 451.7 564.2 450.8 564.5 451.9 564.7 450.6 565 451.5 565.2 450.4 565.5 452.1 565.8 450.2 566 452.6 566.3 449.3 566.5 452.9 566.8 449.4 567 452.6 567.3 448.3 567.5 452.8 567.8 448.2 568.1 452.6 568.3 448 568.6 453.7 568.8 447.5 569.1 456.1 569.3 449.2 569.6 453.4 569.8 448.3 570.1 455 570.4 449 570.6 458.2 570.9 444.3 571.1 458.3 571.4 447.8 571.6 457.5 571.9 449.3 572.2 457.2 572.4 448.2 572.7 456.9 572.9 448.1 573.2 454.2 573.4 447.2 573.7 453 573.9 447.4 574.2 454.5 574.5 448.2 574.7 452.5 575 449.1 575.2 452.8 575.5 450.6 575.7 451.9 576 450.2 576.2 452.7 576.5 450.2 576.8 451.7 577 450.5 577.3 451.9 577.5 451.1 577.8 451.5 578 451 578.3 451.6 578.5 451.1 578.8 451.4"/>
<path class="sig" stroke-width=".4" d="M579 451.2 579.3 451.4 579.5 451.1 579.8 451.5 580 450.8 580.3 451.5 580.5 450.8 580.8 452 581 451 581.3 451.9 581.5 450.2 581.8 452.3 582 450.1 582.3 452.7 582.5 450.2 582.8 452.3 583 450.4 583.3 452.8 583.5 450 583.8 453.4 584 449.2 584.3 454.3 584.6 448.6 584.8 453.9 585.1 448.4 585.3 453 585.6 448.5 585.8 454.9 586.1 448.1 586.3 455.8 586.6 447.1 586.8 457.1 587.1 445.9 587.3 456.6 587.6 445.3 587.8 453.9 588.1 447 588.3 454.9 588.6 444.7 588.8 457.1 589.1 444.4 589.3 457.1 589.6 442.7 589.9 456.5 590.1 446.5 590.4 455.9 590.6 443.8 590.9 458.8 591.1 445.8 591.4 457.7 591.6 441.3 591.9 461.3 592.1 441.3 592.4 458.8 592.6 442.5 592.9 457.4 593.1 446.7 593.4 457.8 593.6 446.8 593.9 458.3 594.1 446.7 594.4 455.3 594.7 443.6 594.9 458.1 595.2 443.5 595.4 457.2 595.7 443.7 595.9 456.4 596.2 444.5 596.4 457.4 596.7 448.5 596.9 456.5 597.2 448.1 597.4 454.3 597.7 447.6 597.9 453.8 598.2 449.9 598.4 452.6 598.7 449.5 598.9 455 599.2 449 599.4 452.8 599.7 448.3 600 453.4 600.2 449.3 600.5 452.9 600.7 450.1 601 452.7 601.2 450.3 601.5 452.8 601.7 450.8 602 451.7 602.2 450.9 602.5 451.7 602.7 450.5 603 451.6 603.2 450.9 603.5 451.5 603.7 450.6 604 451.6 604.2 450.8 604.5 451.7 604.7 451.1 605 451.5"/>
<path class="sig" stroke-width=".4" d="M602.2 450.8 602.5 451.5 602.7 450.7 603 451.7 603.2 450.3 603.5 452.4 603.7 449.8 604 452.9 604.2 449.9 604.5 452.9 604.8 448.6 605 454.1 605.3 447.2 605.5 454.7 605.8 446.6 606 454.1 606.3 444.5 606.5 455.1 606.8 448.4 607.1 458.3 607.3 448.5 607.6 459.3 607.8 443.7 608.1 457.3 608.3 442.4 608.6 462.9 608.8 439 609.1 462.4 609.4 443 609.6 464.6 609.9 436.3 610.1 464.6 610.4 441.7 610.6 457.7 610.9 446 611.2 455.7 611.4 442.1 611.7 459.3 611.9 440.1 612.2 454.6 612.4 443.2 612.7 459.9 612.9 447.9 613.2 455.6 613.5 444.3 613.7 454.9 614 449.2 614.2 454.1 614.5 449.1 614.7 455.1 615 448.6 615.2 453.1 615.5 449.2 615.8 452.7 616 450.6 616.3 452.8 616.5 450.2 616.8 452.2 617 451 617.3 451.9 617.5 450.7 617.8 451.5"/>
<path class="spk" d="M214.8 367.1V518.1"/>
<path class="spk" d="M363.8 430.6V486.6"/>
<path class="spk" d="M419.6 394.6V484.1"/>
<path class="spk" d="M440.6 419V499.1"/>
<path class="spk" d="M466.2 430.6V465.6"/>
<path class="spk" d="M188 439.6V455.6"/>
<path class="spk" d="M426.6 436.6V456.6"/>
</g>
<path class="ax" d="M43.3 818V613.9H645.6V818"/>
<path class="ax" style="stroke:#868686" d="M42.8 818H646.1"/>
<text x="43.3" y="832.6" text-anchor="middle">00:00</text>
<text x="118.6" y="832.6" text-anchor="middle">03:00</text>
<text x="193.9" y="832.6" text-anchor="middle">06:00</text>
<text x="269.2" y="832.6" text-anchor="middle">09:00</text>
<text x="344.5" y="832.6" text-anchor="middle">12:00</text>
<text x="419.7" y="832.6" text-anchor="middle">15:00</text>
<text x="495" y="832.6" text-anchor="middle">18:00</text>
<text x="570.3" y="832.6" text-anchor="middle">21:00</text>
<text x="645.6" y="832.6" text-anchor="middle">00:00</text>
<text x="39.6" y="822.1" text-anchor="end">-2.5</text>
<text x="39.6" y="792.9" text-anchor="end">-2</text>
<text x="39.6" y="763.8" text-anchor="end">-1.5</text>
<text x="39.6" y="734.6" text-anchor="end">-1</text>
<text x="39.6" y="705.5" text-anchor="end">-0.5</text>
<text x="39.6" y="676.3" text-anchor="end">0</text>
<text x="39.6" y="647.2" text-anchor="end">0.5</text>
<text x="39.6" y="618" text-anchor="end">1</text>
<path class="tk" d="M118.6 817.5v-6M118.6 614.4v6M193.9 817.5v-6M193.9 614.4v6M269.2 817.5v-6M269.2 614.4v6M344.5 817.5v-6M344.5 614.4v6M419.7 817.5v-6M419.7 614.4v6M495 817.5v-6M495 614.4v6M570.3 817.5v-6M570.3 614.4v6M43.8 788.8h6M645.1 788.8h-6M43.8 759.6h6M645.1 759.6h-6M43.8 730.5h6M645.1 730.5h-6M43.8 701.3h6M645.1 701.3h-6M43.8 672.2h6M645.1 672.2h-6M43.8 643h6M645.1 643h-6"/>
<text x="9.8" y="715.9" text-anchor="middle" font-weight="bold" font-size="12.4" transform="rotate(-90 9.8 715.9)">Z (nT)</text>
<g clip-path="url(#cs2)">
<path d="M43.3 667.6 L44.3 667.6 L45.3 667.6 L46.3 667.6 L47.3 667.6 L48.3 667.6 L49.3 667.6 L50.3 667.6 L51.3 667.6 L52.3 667.6 L53.3 667.6 L54.3 667.6 L55.3 667.6 L56.3 667.6 L57.3 667.6 L58.3 667.6 L59.3 667.6 L60.3 667.6 L61.3 667.6 L62.3 667.6 L63.3 667.6 L64.3 667.6 L65.3 667.6 L66.3 667.6 L67.3 667.6 L68.3 667.6 L69.3 667.6 L70.3 667.6 L71.3 667.6 L72.3 667.6 L73.3 667.6 L74.3 667.6 L75.3 667.6 L76.3 667.6 L77.3 667.6 L78.3 667.6 L79.3 667.6 L80.3 667.6 L81.3 667.6 L82.3 667.6 L83.3 667.6 L84.3 667.5 L85.3 667.5 L86.3 667.5 L87.3 667.5 L88.3 667.5 L89.3 667.4 L90.3 667.4 L91.3 667.3 L92.3 667.3 L93.3 667.3 L94.3 667.2 L95.3 667.2 L96.3 667.2 L97.3 667.2 L98.3 667.2 L99.3 667.2 L100.3 667.2 L101.3 667.3 L102.3 667.3 L103.3 667.4 L104.3 667.4 L105.3 667.5 L106.3 667.5 L107.3 667.5 L108.3 667.5 L109.3 667.5 L110.3 667.5 L111.3 667.5 L112.3 667.4 L113.3 667.4 L114.3 667.3 L115.3 667.3 L116.3 667.3 L117.3 667.2 L118.3 667.2 L119.3 667.2 L120.3 667.2 L121.3 667.2 L122.3 667.2 L123.3 667.2 L124.3 667.3 L125.3 667.3 L126.3 667.4 L127.3 667.4 L128.3 667.5 L129.3 667.5 L130.3 667.5 L131.3 667.5 L132.3 667.5 L133.3 667.6 L134.3 667.6 L135.3 667.6 L136.3 667.6 L137.3 667.6 L138.3 667.6 L139.3 667.6 L140.3 667.6 L141.3 667.6 L142.3 667.6 L143.3 667.6 L144.3 667.6 L145.3 667.6 L146.3 667.6 L147.3 667.6 L148.3 667.6 L149.3 667.6 L150.3 667.6 L151.3 667.6 L152.3 667.6 L153.3 667.6 L154.3 667.6 L155.3 667.6 L156.3 667.6 L157.3 667.6 L158.3 667.6 L159.3 667.6 L160.3 667.6 L161.3 667.6 L162.3 667.6 L163.3 667.6 L164.3 667.6 L165.3 667.6 L166.3 667.6 L167.3 667.6 L168.3 667.6 L169.3 667.6 L170.3 667.6 L171.3 667.6 L172.3 667.6 L173.3 667.6 L174.3 667.6 L175.3 667.6 L176.3 667.6 L177.3 667.6 L178.3 667.6 L179.3 667.6 L180.3 667.6 L181.3 667.6 L182.3 667.6 L183.3 667.6 L184.3 667.6 L185.3 667.6 L186.3 667.6 L187.3 667.6 L188.3 667.6 L189.3 667.6 L190.3 667.6 L191.3 667.6 L192.3 667.6 L193.3 667.6 L194.3 667.6 L195.3 667.6 L196.3 667.6 L197.3 667.6 L198.3 667.6 L199.3 667.6 L200.3 667.6 L201.3 667.6 L202.3 667.6 L203.3 667.6 L204.3 667.6 L205.3 667.6 L206.3 667.6 L207.3 667.6 L208.3 667.6 L209.3 667.6 L210.3 667.6 L211.3 667.6 L212.3 667.6 L213.3 667.6 L214.3 667.6 L215.3 667.5 L216.3 667.5 L217.3 667.4 L218.3 667.2 L219.3 667 L220.3 666.8 L221.3 666.8 L222.3 666.9 L223.3 667.2 L224.3 667.4 L225.3 667.5 L226.3 667.5 L227.3 667.6 L228.3 667.6 L229.3 667.6 L230.3 667.6 L231.3 667.6 L232.3 667.6 L233.3 667.6 L234.3 667.6 L235.3 667.6 L236.3 667.6 L237.3 667.6 L238.3 667.6 L239.3 667.6 L240.3 667.6 L241.3 667.6 L242.3 667.6 L243.3 667.6 L244.3 667.6 L245.3 667.6 L246.3 667.6 L247.3 667.6 L248.3 667.6 L249.3 667.6 L250.3 667.6 L251.3 667.6 L252.3 667.6 L253.3 667.6 L254.3 667.6 L255.3 667.6 L256.3 667.6 L257.3 667.6 L258.3 667.6 L259.3 667.6 L260.3 667.6 L261.3 667.6 L262.3 667.6 L263.3 667.6 L264.3 667.6 L265.3 667.6 L266.3 667.6 L267.3 667.6 L268.3 667.6 L269.3 667.6 L270.3 667.6 L271.3 667.6 L272.3 667.6 L273.3 667.6 L274.3 667.6 L275.3 667.6 L276.3 667.6 L277.3 667.6 L278.3 667.6 L279.3 667.6 L280.3 667.6 L281.3 667.6 L282.3 667.6 L283.3 667.6 L284.3 667.6 L285.3 667.6 L286.3 667.6 L287.3 667.6 L288.3 667.6 L289.3 667.6 L290.3 667.6 L291.3 667.6 L292.3 667.6 L293.3 667.6 L294.3 667.6 L295.3 667.6 L296.3 667.6 L297.3 667.6 L298.3 667.6 L299.3 667.6 L300.3 667.6 L301.3 667.6 L302.3 667.6 L303.3 667.6 L304.3 667.6 L305.3 667.6 L306.3 667.6 L307.3 667.6 L308.3 667.6 L309.3 667.6 L310.3 667.6 L311.3 667.6 L312.3 667.6 L313.3 667.6 L314.3 667.6 L315.3 667.6 L316.3 667.6 L317.3 667.6 L318.3 667.6 L319.3 667.6 L320.3 667.6 L321.3 667.6 L322.3 667.6 L323.3 667.6 L324.3 667.5 L325.3 667.5 L326.3 667.5 L327.3 667.5 L328.3 667.5 L329.3 667.4 L330.3 667.4 L331.3 667.3 L332.3 667.3 L333.3 667.3 L334.3 667.2 L335.3 667.2 L336.3 667.2 L337.3 667.2 L338.3 667.2 L339.3 667.2 L340.3 667.2 L341.3 667.3 L342.3 667.3 L343.3 667.4 L344.3 667.4 L345.3 667.5 L346.3 667.5 L347.3 667.5 L348.3 667.5 L349.3 667.5 L350.3 667.6 L351.3 667.6 L352.3 667.6 L353.3 667.6 L354.3 667.6 L355.3 667.5 L356.3 667.5 L357.3 667.5 L358.3 667.5 L359.3 667.4 L360.3 667.3 L361.3 667.2 L362.3 667.1 L363.3 667 L364.3 666.8 L365.3 666.7 L366.3 666.7 L367.3 666.7 L368.3 666.7 L369.3 666.8 L370.3 666.9 L371.3 667 L372.3 667.2 L373.3 667.3 L374.3 667.4 L375.3 667.4 L376.3 667.5 L377.3 667.5 L378.3 667.5 L379.3 667.6 L380.3 667.6 L381.3 667.6 L382.3 667.6 L383.3 667.6 L384.3 667.6 L385.3 667.6 L386.3 667.6 L387.3 667.6 L388.3 667.6 L389.3 667.6 L390.3 667.6 L391.3 667.6 L392.3 667.6 L393.3 667.6 L394.3 667.6 L395.3 667.6 L396.3 667.6 L397.3 667.6 L398.3 667.6 L399.3 667.6 L400.3 667.6 L401.3 667.6 L402.3 667.6 L403.3 667.6 L404.3 667.6 L405.3 667.6 L406.3 667.6 L407.3 667.6 L408.3 667.6 L409.3 667.6 L410.3 667.6 L411.3 667.6 L412.3 667.6 L413.3 667.6 L414.3 667.6 L415.3 667.6 L416.3 667.6 L417.3 667.6 L418.3 667.6 L419.3 667.6 L420.3 667.6 L421.3 667.6 L422.3 667.6 L423.3 667.6 L424.3 667.6 L425.3 667.6 L426.3 667.6 L427.3 667.6 L428.3 667.6 L429.3 667.6 L430.3 667.6 L431.3 667.6 L432.3 667.6 L433.3 667.6 L434.3 667.6 L435.3 667.6 L436.3 667.6 L437.3 667.6 L438.3 667.6 L439.3 667.6 L440.3 667.6 L441.3 667.6 L442.3 667.6 L443.3 667.6 L444.3 667.6 L445.3 667.6 L446.3 667.6 L447.3 667.6 L448.3 667.6 L449.3 667.6 L450.3 667.6 L451.3 667.6 L452.3 667.6 L453.3 667.6 L454.3 667.6 L455.3 667.6 L456.3 667.6 L457.3 667.6 L458.3 667.6 L459.3 667.6 L460.3 667.6 L461.3 667.6 L462.3 667.6 L463.3 667.6 L464.3 667.6 L465.3 667.6 L466.3 667.6 L467.3 667.6 L468.3 667.6 L469.3 667.6 L470.3 667.6 L471.3 667.6 L472.3 667.6 L473.3 667.6 L474.3 667.6 L475.3 667.6 L476.3 667.6 L477.3 667.6 L478.3 667.6 L479.3 667.6 L480.3 667.6 L481.3 667.6 L482.3 667.6 L483.3 667.6 L484.3 667.6 L485.3 667.6 L486.3 667.6 L487.3 667.6 L488.3 667.6 L489.3 667.6 L490.3 667.6 L491.3 667.6 L492.3 667.6 L493.3 667.6 L494.3 667.6 L495.3 667.6 L496.3 667.6 L497.3 667.6 L498.3 667.6 L499.3 667.6 L500.3 667.6 L501.3 667.6 L502.3 667.6 L503.3 667.6 L504.3 667.6 L505.3 667.6 L506.3 667.6 L507.3 667.6 L508.3 667.6 L509.3 667.6 L510.3 667.6 L511.3 667.6 L512.3 667.6 L513.3 667.6 L514.3 667.6 L515.3 667.6 L516.3 667.6 L517.3 667.6 L518.3 667.6 L519.3 667.6 L520.3 667.6 L521.3 667.6 L522.3 667.6 L523.3 667.6 L524.3 667.6 L525.3 667.6 L526.3 667.6 L527.3 667.6 L528.3 667.6 L529.3 667.6 L530.3 667.6 L531.3 667.6 L532.3 667.6 L533.3 667.6 L534.3 667.6 L535.3 667.6 L536.3 667.6 L537.3 667.6 L538.3 667.6 L539.3 667.6 L540.3 667.6 L541.3 667.6 L542.3 667.6 L543.3 667.6 L544.3 667.6 L545.3 667.6 L546.3 667.6 L547.3 667.6 L548.3 667.6 L549.3 667.6 L550.3 667.6 L551.3 667.6 L552.3 667.6 L553.3 667.6 L554.3 667.6 L555.3 667.6 L556.3 667.6 L557.3 667.6 L558.3 667.6 L559.3 667.6 L560.3 667.5 L561.3 667.5 L562.3 667.5 L563.3 667.5 L564.3 667.4 L565.3 667.3 L566.3 667.2 L567.3 667.1 L568.3 667.1 L569.3 667 L570.3 666.9 L571.3 666.9 L572.3 667 L573.3 667 L574.3 667.1 L575.3 667.2 L576.3 667.3 L577.3 667.4 L578.3 667.4 L579.3 667.5 L580.3 667.5 L581.3 667.5 L582.3 667.4 L583.3 667.4 L584.3 667.3 L585.3 667.2 L586.3 667.1 L587.3 667.1 L588.3 667 L589.3 666.9 L590.3 666.8 L591.3 666.8 L592.3 666.8 L593.3 666.8 L594.3 666.9 L595.3 666.9 L596.3 667 L597.3 667.1 L598.3 667.2 L599.3 667.3 L600.3 667.3 L601.3 667.4 L602.3 667.4 L603.3 667.3 L604.3 667.2 L605.3 667.1 L606.3 666.9 L607.3 666.8 L608.3 666.7 L609.3 666.7 L610.3 666.7 L611.3 666.8 L612.3 667 L613.3 667.1 L614.3 667.1 L615.3 667.1 L616.3 667 L617.3 666.9 L618.3 666.8 L619.3 666.7 L620.3 666.7 L621.3 666.7 L622.3 666.7 L623.3 666.8 L624.3 666.9 L625.3 667 L626.3 667.2 L627.3 667.3 L628.3 667.4 L629.3 667.5 L630.3 667.5 L631.3 667.5 L632.3 667.5 L633.3 667.6 L634.3 667.6 L635.3 667.6 L636.3 667.6 L637.3 667.6 L638.3 667.6 L639.3 667.6 L640.3 667.6 L641.3 667.6 L642.3 667.6 L643.3 667.6 L644.3 667.6 L645.3 667.6 L645.3 674.4 L644.3 674.4 L643.3 674.4 L642.3 674.4 L641.3 674.4 L640.3 674.4 L639.3 674.4 L638.3 674.4 L637.3 674.4 L636.3 674.4 L635.3 674.4 L634.3 674.4 L633.3 674.4 L632.3 674.4 L631.3 674.4 L630.3 674.4 L629.3 674.5 L628.3 674.5 L627.3 674.6 L626.3 674.8 L625.3 674.9 L624.3 675 L623.3 675.1 L622.3 675.2 L621.3 675.3 L620.3 675.3 L619.3 675.2 L618.3 675.1 L617.3 675 L616.3 674.9 L615.3 674.8 L614.3 674.8 L613.3 674.9 L612.3 675 L611.3 675.1 L610.3 675.2 L609.3 675.3 L608.3 675.3 L607.3 675.2 L606.3 675 L605.3 674.8 L604.3 674.7 L603.3 674.6 L602.3 674.5 L601.3 674.5 L600.3 674.6 L599.3 674.6 L598.3 674.7 L597.3 674.8 L596.3 674.9 L595.3 675 L594.3 675.1 L593.3 675.1 L592.3 675.1 L591.3 675.1 L590.3 675.1 L589.3 675 L588.3 675 L587.3 674.9 L586.3 674.8 L585.3 674.7 L584.3 674.6 L583.3 674.6 L582.3 674.5 L581.3 674.5 L580.3 674.5 L579.3 674.5 L578.3 674.5 L577.3 674.6 L576.3 674.6 L575.3 674.7 L574.3 674.8 L573.3 674.9 L572.3 675 L571.3 675 L570.3 675 L569.3 674.9 L568.3 674.9 L567.3 674.8 L566.3 674.7 L565.3 674.6 L564.3 674.5 L563.3 674.5 L562.3 674.4 L561.3 674.4 L560.3 674.4 L559.3 674.4 L558.3 674.4 L557.3 674.4 L556.3 674.4 L555.3 674.4 L554.3 674.4 L553.3 674.4 L552.3 674.4 L551.3 674.4 L550.3 674.4 L549.3 674.4 L548.3 674.4 L547.3 674.4 L546.3 674.4 L545.3 674.4 L544.3 674.4 L543.3 674.4 L542.3 674.4 L541.3 674.4 L540.3 674.4 L539.3 674.4 L538.3 674.4 L537.3 674.4 L536.3 674.4 L535.3 674.4 L534.3 674.4 L533.3 674.4 L532.3 674.4 L531.3 674.4 L530.3 674.4 L529.3 674.4 L528.3 674.4 L527.3 674.4 L526.3 674.4 L525.3 674.4 L524.3 674.4 L523.3 674.4 L522.3 674.4 L521.3 674.4 L520.3 674.4 L519.3 674.4 L518.3 674.4 L517.3 674.4 L516.3 674.4 L515.3 674.4 L514.3 674.4 L513.3 674.4 L512.3 674.4 L511.3 674.4 L510.3 674.4 L509.3 674.4 L508.3 674.4 L507.3 674.4 L506.3 674.4 L505.3 674.4 L504.3 674.4 L503.3 674.4 L502.3 674.4 L501.3 674.4 L500.3 674.4 L499.3 674.4 L498.3 674.4 L497.3 674.4 L496.3 674.4 L495.3 674.4 L494.3 674.4 L493.3 674.4 L492.3 674.4 L491.3 674.4 L490.3 674.4 L489.3 674.4 L488.3 674.4 L487.3 674.4 L486.3 674.4 L485.3 674.4 L484.3 674.4 L483.3 674.4 L482.3 674.4 L481.3 674.4 L480.3 674.4 L479.3 674.4 L478.3 674.4 L477.3 674.4 L476.3 674.4 L475.3 674.4 L474.3 674.4 L473.3 674.4 L472.3 674.4 L471.3 674.4 L470.3 674.4 L469.3 674.4 L468.3 674.4 L467.3 674.4 L466.3 674.4 L465.3 674.4 L464.3 674.4 L463.3 674.4 L462.3 674.4 L461.3 674.4 L460.3 674.4 L459.3 674.4 L458.3 674.4 L457.3 674.4 L456.3 674.4 L455.3 674.4 L454.3 674.4 L453.3 674.4 L452.3 674.4 L451.3 674.4 L450.3 674.4 L449.3 674.4 L448.3 674.4 L447.3 674.4 L446.3 674.4 L445.3 674.4 L444.3 674.4 L443.3 674.4 L442.3 674.4 L441.3 674.4 L440.3 674.4 L439.3 674.4 L438.3 674.4 L437.3 674.4 L436.3 674.4 L435.3 674.4 L434.3 674.4 L433.3 674.4 L432.3 674.4 L431.3 674.4 L430.3 674.4 L429.3 674.4 L428.3 674.4 L427.3 674.4 L426.3 674.4 L425.3 674.4 L424.3 674.4 L423.3 674.4 L422.3 674.4 L421.3 674.4 L420.3 674.4 L419.3 674.4 L418.3 674.4 L417.3 674.4 L416.3 674.4 L415.3 674.4 L414.3 674.4 L413.3 674.4 L412.3 674.4 L411.3 674.4 L410.3 674.4 L409.3 674.4 L408.3 674.4 L407.3 674.4 L406.3 674.4 L405.3 674.4 L404.3 674.4 L403.3 674.4 L402.3 674.4 L401.3 674.4 L400.3 674.4 L399.3 674.4 L398.3 674.4 L397.3 674.4 L396.3 674.4 L395.3 674.4 L394.3 674.4 L393.3 674.4 L392.3 674.4 L391.3 674.4 L390.3 674.4 L389.3 674.4 L388.3 674.4 L387.3 674.4 L386.3 674.4 L385.3 674.4 L384.3 674.4 L383.3 674.4 L382.3 674.4 L381.3 674.4 L380.3 674.4 L379.3 674.4 L378.3 674.4 L377.3 674.4 L376.3 674.4 L375.3 674.5 L374.3 674.5 L373.3 674.6 L372.3 674.8 L371.3 674.9 L370.3 675 L369.3 675.1 L368.3 675.2 L367.3 675.3 L366.3 675.3 L365.3 675.2 L364.3 675.1 L363.3 675 L362.3 674.8 L361.3 674.7 L360.3 674.6 L359.3 674.5 L358.3 674.5 L357.3 674.4 L356.3 674.4 L355.3 674.4 L354.3 674.4 L353.3 674.4 L352.3 674.4 L351.3 674.4 L350.3 674.4 L349.3 674.4 L348.3 674.4 L347.3 674.4 L346.3 674.4 L345.3 674.5 L344.3 674.5 L343.3 674.6 L342.3 674.6 L341.3 674.6 L340.3 674.7 L339.3 674.7 L338.3 674.8 L337.3 674.8 L336.3 674.8 L335.3 674.7 L334.3 674.7 L333.3 674.7 L332.3 674.6 L331.3 674.6 L330.3 674.5 L329.3 674.5 L328.3 674.5 L327.3 674.4 L326.3 674.4 L325.3 674.4 L324.3 674.4 L323.3 674.4 L322.3 674.4 L321.3 674.4 L320.3 674.4 L319.3 674.4 L318.3 674.4 L317.3 674.4 L316.3 674.4 L315.3 674.4 L314.3 674.4 L313.3 674.4 L312.3 674.4 L311.3 674.4 L310.3 674.4 L309.3 674.4 L308.3 674.4 L307.3 674.4 L306.3 674.4 L305.3 674.4 L304.3 674.4 L303.3 674.4 L302.3 674.4 L301.3 674.4 L300.3 674.4 L299.3 674.4 L298.3 674.4 L297.3 674.4 L296.3 674.4 L295.3 674.4 L294.3 674.4 L293.3 674.4 L292.3 674.4 L291.3 674.4 L290.3 674.4 L289.3 674.4 L288.3 674.4 L287.3 674.4 L286.3 674.4 L285.3 674.4 L284.3 674.4 L283.3 674.4 L282.3 674.4 L281.3 674.4 L280.3 674.4 L279.3 674.4 L278.3 674.4 L277.3 674.4 L276.3 674.4 L275.3 674.4 L274.3 674.4 L273.3 674.4 L272.3 674.4 L271.3 674.4 L270.3 674.4 L269.3 674.4 L268.3 674.4 L267.3 674.4 L266.3 674.4 L265.3 674.4 L264.3 674.4 L263.3 674.4 L262.3 674.4 L261.3 674.4 L260.3 674.4 L259.3 674.4 L258.3 674.4 L257.3 674.4 L256.3 674.4 L255.3 674.4 L254.3 674.4 L253.3 674.4 L252.3 674.4 L251.3 674.4 L250.3 674.4 L249.3 674.4 L248.3 674.4 L247.3 674.4 L246.3 674.4 L245.3 674.4 L244.3 674.4 L243.3 674.4 L242.3 674.4 L241.3 674.4 L240.3 674.4 L239.3 674.4 L238.3 674.4 L237.3 674.4 L236.3 674.4 L235.3 674.4 L234.3 674.4 L233.3 674.4 L232.3 674.4 L231.3 674.4 L230.3 674.4 L229.3 674.4 L228.3 674.4 L227.3 674.4 L226.3 674.4 L225.3 674.4 L224.3 674.6 L223.3 674.8 L222.3 675 L221.3 675.1 L220.3 675.1 L219.3 674.9 L218.3 674.7 L217.3 674.5 L216.3 674.4 L215.3 674.4 L214.3 674.4 L213.3 674.4 L212.3 674.4 L211.3 674.4 L210.3 674.4 L209.3 674.4 L208.3 674.4 L207.3 674.4 L206.3 674.4 L205.3 674.4 L204.3 674.4 L203.3 674.4 L202.3 674.4 L201.3 674.4 L200.3 674.4 L199.3 674.4 L198.3 674.4 L197.3 674.4 L196.3 674.4 L195.3 674.4 L194.3 674.4 L193.3 674.4 L192.3 674.4 L191.3 674.4 L190.3 674.4 L189.3 674.4 L188.3 674.4 L187.3 674.4 L186.3 674.4 L185.3 674.4 L184.3 674.4 L183.3 674.4 L182.3 674.4 L181.3 674.4 L180.3 674.4 L179.3 674.4 L178.3 674.4 L177.3 674.4 L176.3 674.4 L175.3 674.4 L174.3 674.4 L173.3 674.4 L172.3 674.4 L171.3 674.4 L170.3 674.4 L169.3 674.4 L168.3 674.4 L167.3 674.4 L166.3 674.4 L165.3 674.4 L164.3 674.4 L163.3 674.4 L162.3 674.4 L161.3 674.4 L160.3 674.4 L159.3 674.4 L158.3 674.4 L157.3 674.4 L156.3 674.4 L155.3 674.4 L154.3 674.4 L153.3 674.4 L152.3 674.4 L151.3 674.4 L150.3 674.4 L149.3 674.4 L148.3 674.4 L147.3 674.4 L146.3 674.4 L145.3 674.4 L144.3 674.4 L143.3 674.4 L142.3 674.4 L141.3 674.4 L140.3 674.4 L139.3 674.4 L138.3 674.4 L137.3 674.4 L136.3 674.4 L135.3 674.4 L134.3 674.4 L133.3 674.4 L132.3 674.4 L131.3 674.4 L130.3 674.4 L129.3 674.4 L128.3 674.5 L127.3 674.5 L126.3 674.6 L125.3 674.6 L124.3 674.6 L123.3 674.7 L122.3 674.7 L121.3 674.8 L120.3 674.8 L119.3 674.8 L118.3 674.7 L117.3 674.7 L116.3 674.7 L115.3 674.6 L114.3 674.6 L113.3 674.5 L112.3 674.5 L111.3 674.5 L110.3 674.4 L109.3 674.4 L108.3 674.4 L107.3 674.4 L106.3 674.4 L105.3 674.5 L104.3 674.5 L103.3 674.6 L102.3 674.6 L101.3 674.6 L100.3 674.7 L99.3 674.7 L98.3 674.8 L97.3 674.8 L96.3 674.8 L95.3 674.7 L94.3 674.7 L93.3 674.7 L92.3 674.6 L91.3 674.6 L90.3 674.5 L89.3 674.5 L88.3 674.5 L87.3 674.4 L86.3 674.4 L85.3 674.4 L84.3 674.4 L83.3 674.4 L82.3 674.4 L81.3 674.4 L80.3 674.4 L79.3 674.4 L78.3 674.4 L77.3 674.4 L76.3 674.4 L75.3 674.4 L74.3 674.4 L73.3 674.4 L72.3 674.4 L71.3 674.4 L70.3 674.4 L69.3 674.4 L68.3 674.4 L67.3 674.4 L66.3 674.4 L65.3 674.4 L64.3 674.4 L63.3 674.4 L62.3 674.4 L61.3 674.4 L60.3 674.4 L59.3 674.4 L58.3 674.4 L57.3 674.4 L56.3 674.4 L55.3 674.4 L54.3 674.4 L53.3 674.4 L52.3 674.4 L51.3 674.4 L50.3 674.4 L49.3 674.4 L48.3 674.4 L47.3 674.4 L46.3 674.4 L45.3 674.4 L44.3 674.4 L43.3 674.4 Z" fill="#0000ff"/>
<g transform="translate(43.3 0) scale(0.125 1)"><path class="sig" vector-effect="non-scaling-stroke" stroke-width="0.35" d="M0 675.6 l 1 -9.5 1 9.4 1 -16.6 1 16.2 1 -11.1 1 13 1 -10.7 1 9.5 1 -16.9 1 17.4 1 -12.7 1 11.2 1 -9.4 1 9.8 1 -8.9 1 8.9 1 -8.9 1 9 1 -10.1 1 9.9 1 -8.2 1 10.3 1 -15.8 1 14.5 1 -11.2 1 13.7 1 -11.9 1 10.5 1 -10.3 1 8.1 1 -7.8 1 9.2 1 -12.1 1 10.7 1 -9.5 1 10 1 -10.4 1 10.9 1 -14.2 1 13.4 1 -11.2 1 11.8 1 -9.7 1 10.2 1 -9.8 1 8.6 1 -11.1 1 11.5 1 -9.5 1 9.5 1 -9.3 1 9.1 1 -8.5 1 9.4 1 -11.9 1 11.7 1 -8.8 1 11.4 1 -16 1 13.2 1 -14.2 1 13.7 1 -12.8 1 13 1 -11.7 1 14.8 1 -16.8 1 14.5 1 -12.3 1 12.3 1 -11.3 1 10.1 1 -8.6 1 8.6 1 -15.4 1 16.9 1 -17.2 1 16.3 1 -8.4 1 8.3 1 -10.6 1 11.7 1 -11.2 1 9.9 1 -12.9 1 12.8 1 -10.9 1 11.5 1 -13.8 1 13.3 1 -8.2 1 8.3 1 -12.3 1 15.4 1 -13.2 1 9.8 1 -9.4 1 10.9 1 -11.2 1 11.8 1 -11.3 1 11.7 1 -10.8 1 9.3 1 -11.6 1 11.3 1 -8.6 1 8 1 -9 1 10.5 1 -11.3 1 9.8 1 -8.4 1 8.2 1 -9.3 1 9.3 1 -9 1 9.7 1 -9.2 1 8.5 1 -10.8 1 12.9 1 -11.9 1 11.1 1 -10.1 1 9.6 1 -8.6 1 8.5 1 -13.8 1 13.7 1 -9.8 1 9.8 1 -10 1 10.7 1 -12.9 1 12.1 1 -10.6 1 12.5 1 -15.4 1 12.9 1 -13.1 1 14.3 1 -14.3 1 15.7 1 -10.3 1 9.5 1 -11.5 1 9.8 1 -9.7 1 10.7 1 -11.5 1 11.2 1 -11.8 1 11.8 1 -9.4 1 11.8 1 -14.7 1 13.6 1 -12 1 10.5 1 -10.7 1 10.9 1 -9.4 1 8.7 1 -9.3 1 9.3 1 -10.3 1 11 1 -9.1 1 8.4 1 -10.5 1 12.2 1 -10.2 1 8.5 1 -11.5 1 11.9 1 -9 1 8.6 1 -8.9 1 10.5 1 -9.5 1 9.3 1 -10.1 1 9.7 1 -12.3 1 11.7 1 -8.7 1 9.6 1 -9.9 1 12.1 1 -12.3 1 9.2 1 -9 1 11.3 1 -12 1 12.8 1 -13.1 1 10.3 1 -10.5 1 9.9 1 -10 1 10 1 -12.8 1 12.8 1 -8.8 1 9.3 1 -9.3 1 9.5 1 -9.3 1 8.6 1 -8.3 1 9 1 -14.2 1 15.5 1 -14.1 1 12 1 -7.9 1 9.4 1 -10.7 1 10.3 1 -14.6 1 14.6 1 -9.4 1 8.2 1 -14 1 14.3 1 -8.9 1 10.3 1 -11 1 9.9 1 -13.6 1 14.4 1 -9.2 1 7.8 1 -11.6 1 12.7 1 -8.9 1 8.8 1 -8.8 1 7.9 1 -8.7 1 9 1 -9 1 10.4 1 -12.6 1 11.3 1 -10.8 1 10.6 1 -13.1 1 12.9 1 -8.7 1 8.8 1 -11.7 1 11.6 1 -12.8 1 13.2 1 -11.8 1 14.2 1 -11.6 1 8.7 1 -12.5 1 14.9 1 -12.9 1 11.1 1 -9.1 1 9.1 1 -9 1 8.7 1 -11.3 1 14.5 1 -11.7 1 9.1 1 -9.5 1 10 1 -9.6 1 11 1 -14.7 1 12.3 1 -15.8 1 17.2 1 -11.4 1 10.2 1 -9.3 1 9.3 1 -9.8 1 10.8 1 -11.3 1 10.1 1 -8.2 1 8 1 -10.1 1 10.9 1 -9.2 1 9.4 1 -13.3 1 12.4 1 -8.7 1 10.8 1 -11.2 1 9.9 1 -10 1 10 1 -10.1 1 9 1 -11 1 12.2 1 -10.1 1 9.3 1 -9.4 1 9.1 1 -8.5 1 8.8 1 -10.4 1 11.4 1 -14.8 1 14.2 1 -9.1 1 9 1 -10.4 1 10.1 1 -8.3 1 8.1 1 -9.9 1 9.8 1 -7.8 1 8.3 1 -12.2 1 12.5 1 -9.8 1 10.5 1 -11.4 1 11 1 -10.5 1 10.9 1 -14.8 1 16.9 1 -12.4 1 9.8 1 -9.9 1 10.4 1 -16.6 1 15.4 1 -8.6 1 9.8 1 -14.3 1 16.5 1 -11.7 1 8.2 1 -16.4 1 17.5 1 -11.2 1 10.1 1 -14.9 1 16.9 1 -12.2 1 12.4 1 -12.5 1 11 1 -12.9 1 13 1 -11.5 1 10.6 1 -8.5 1 9.5 1 -9.9 1 10.2 1 -12 1 11.6 1 -9.2 1 8.8 1 -9.3 1 9.4 1 -14.6 1 14.5 1 -9.7 1 11.4 1 -16 1 14 1 -13 1 13.3 1 -14.5 1 15.1 1 -10.5 1 9.7 1 -8.7 1 9 1 -12.6 1 12.9 1 -11.2 1 14.8 1 -14.7 1 10.9 1 -14.6 1 15.1 1 -10.1 1 10.5 1 -13.1 1 12.4 1 -9.8 1 13 1 -15.6 1 12.7 1 -10.1 1 11.2 1 -14.7 1 13.6 1 -18.1 1 17.9 1 -11.9 1 12 1 -10 1 13 1 -14.4 1 11.8 1 -11.2 1 10.4 1 -11.8 1 12.7 1 -11.6 1 11.1 1 -14.8 1 18.9 1 -20 1 17.8 1 -12.5 1 13 1 -13.9 1 12.8 1 -12.9 1 11.8 1 -19.3 1 19 1 -10.5 1 10.3 1 -14.4 1 14.4 1 -11.7 1 13.1 1 -11.5 1 10.3 1 -14 1 14 1 -9.8 1 9.7 1 -12.9 1 13.3 1 -11.1 1 10.7 1 -10.5 1 11.2 1 -12.3 1 15.7 1 -16.6 1 13.9 1 -13.1 1 12 1 -10.8 1 10.5 1 -13.5 1 13.1 1 -12 1 12.7 1 -11.9 1 11.2 1 -12 1 13 1 -19.5 1 21.3 1 -16.6 1 13.7 1 -12.1 1 12.1 1 -11.9 1 15.8 1 -13.1 1 9.8 1 -13.1 1 16.4 1 -12.7 1 10.4 1 -10.9 1 13.1 1 -12.9 1 9.3 1 -9.9 1 9.7 1 -8.7 1 9.1 1 -14.2 1 14 1 -9.5 1 10.4 1 -11.6 1 10.9 1 -12.2 1 12.2 1 -14.4 1 17.5 1 -16.3 1 12.5 1 -11.5 1 12.2 1 -10.3 1 13.3 1 -18.8 1 15.1 1 -9.3 1 9.2 1 -10.5 1 10.6 1 -16.6 1 17.1 1 -9.2 1 9.7 1 -11.2 1 13.8 1 -14.4 1 11.6 1 -10 1 9.7 1 -8.9 1 8.4 1 -10.7 1 10.7 1 -14.4 1 14.7 1 -16.8 1 16.5 1 -10.2 1 10.2 1 -8.5 1 8.5 1 -9.1 1 10.8 1 -15 1 13.5 1 -8.5 1 9.9 1 -12.1 1 10.7 1 -9.7 1 10.1 1 -11.3 1 11.7 1 -9.5 1 9.3 1 -17.8 1 17.2 1 -10.4 1 10.6 1 -10 1 10.7 1 -13.3 1 13 1 -10.4 1 12.4 1 -20.1 1 19.1 1 -11.7 1 11 1 -11.4 1 14.4 1 -17.3 1 14.6 1 -19 1 17.8 1 -10.1 1 10.4 1 -11.3 1 11.8 1 -9.8 1 9.3 1 -11.5 1 12.1 1 -11.3 1 11.7 1 -13.8 1 12.9 1 -9.5 1 11.6 1 -19.1 1 18.4 1 -11.9 1 11 1 -10.1 1 10.5 1 -12.3 1 12.4 1 -17.2 1 17.9 1 -11.9 1 10.1 1 -12.4 1 12.5 1 -11.5 1 11.6 1 -11.9 1 16.2 1 -16 1 12.4 1 -14.6 1 14.2 1 -11.5 1 15.6 1 -14.5 1 11.9 1 -11.4 1 13.1 1 -13.2 1 10.8 1 -10.8 1 11.3 1 -21.3 1 23 1 -18.1 1 16.3 1 -12.3 1 10.9 1 -13.1 1 13.7 1 -12.2 1 11.5 1 -9.9 1 10.5 1 -11.3 1 13.8 1 -13.8 1 12.3 1 -14.2 1 13.4 1 -12.4 1 14.5 1 -13.4 1 11.8 1 -15.3 1 16.4 1 -21.8 1 20.5 1 -15.5 1 16.2 1 -12.1 1 12.2 1 -11.8 1 10.1 1 -9.6 1 10.9 1 -17.1 1 15.4 1 -10.1 1 10.9 1 -10.1 1 9.8 1 -10.6 1 9.9 1 -11.7 1 12.5 1 -14.2 1 13.8 1 -10.4 1 11.2 1 -16.8 1 15.8 1 -9.9 1 9.7 1 -13.1 1 13 1 -13 1 13.4 1 -9 1 8.6 1 -10.1 1 13.6 1 -12.8 1 10 1 -9.7 1 12 1 -12.7 1 10 1 -12.7 1 13 1 -9.5 1 9.1 1 -13 1 12.5 1 -10.3 1 10.4 1 -9.2 1 9.4 1 -12.9 1 16.3 1 -15.5 1 12.9 1 -10.3 1 12.8 1 -17.3 1 13.9 1 -9.9 1 10.2 1 -8.7 1 9.6 1 -14.1 1 12.8 1 -8.6 1 12 1 -16.5 1 12.9 1 -12.4 1 12.6 1 -16.4 1 16.5 1 -11 1 10.8 1 -8.7 1 9.9 1 -11.6 1 12.3 1 -14 1 12.8 1 -9 1 9.3 1 -12.7 1 12.7 1 -9.5 1 8.4 1 -8.1 1 8 1 -8 1 11 1 -10.9 1 8.2 1 -11.4 1 11.4 1 -8.9 1 9.7 1 -8.9 1 8.2 1 -11.7 1 12.5 1 -13.1 1 12.9 1 -11.7 1 12.4 1 -13.6 1 11.9 1 -11.8 1 12.9 1 -9.3 1 8.6 1 -11.4 1 12.4 1 -10.7 1 10.8 1 -13.3 1 11.8 1 -10.1 1 10.3 1 -9.1 1 10.4 1 -16.6 1 18.7 1 -11.4 1 8.3 1 -10.6 1 10.5 1 -11.4 1 11.6 1 -9 1 9 1 -9 1 8.7 1 -9.1 1 8.9 1 -11.1 1 11.6 1 -9.7 1 9.6 1 -16.4 1 17.9 1 -9.7 1 9.7 1 -16.3 1 15.2 1 -9.6 1 12.3 1 -12.3 1 11.7 1 -15.8 1 13 1 -9.6 1 9.6 1 -10.3 1 10.2 1 -12.2 1 12.7 1 -8.4 1 7.8 1 -7.7 1 7.8 1 -12.9 1 12.9 1 -10.9 1 13.3 1 -13.4 1 11.1 1 -9.8 1 10.1 1 -10.4 1 12.5 1 -11 1 9.4 1 -8.6 1 9 1 -9.5 1 8.5 1 -12.1 1 13.4 1 -10.5 1 10 1 -11.6 1 10.5 1 -8.3 1 8.4 1 -9.6 1 12.8 1 -15.1 1 12.1 1 -8.6 1 8.9 1 -10 1 9.3 1 -11.5 1 11.9 1 -13.9 1 14.7 1 -10.1 1 11.3 1 -10.5 1 8.1 1 -11 1 11 1 -11.4 1 12 1 -9 1 8.8 1 -16.3 1 16 1 -9 1 12 1 -11.3 1 11.3 1 -14.2 1 11.1 1 -10.1 1 10.4 1 -8.6 1 9.8 1 -12 1 10.8 1 -11.6 1 12.8 1 -14.6 1 13.6 1 -10.3 1 11 1 -12.4 1 12.3 1 -8.8 1 7.9 1 -10 1 13.1 1 -15.4 1 13.2 1 -13.7 1 13.9 1 -10.8 1 9.5 1 -10.2 1 10.6 1 -8.5 1 9.3 1 -9.3 1 9.6 1 -11.9 1 11.2 1 -8.6 1 8.9 1 -13 1 12 1 -11.7 1 11.6 1 -13.1 1 13.5 1 -10.2 1 10.3 1 -10.9 1 10.4 1 -10.3 1 11.6 1 -10.2 1 9.4 1 -9.3 1 11 1 -13.2 1 11.3 1 -16.2 1 16.4 1 -8.5 1 8.1 1 -8.6 1 8.6 1 -14 1 14.2 1 -8.9 1 9.6 1 -9.3 1 8.5 1 -8 1 8.7 1 -9 1 11.7 1 -16.4 1 13.6 1 -13.1 1 13.1 1 -9.2 1 9.1 1 -16.6 1 16.5 1 -9.5 1 8.9 1 -10.4 1 14 1 -13.6 1 11.8 1 -16.2 1 14.5 1 -16 1 17.5 1 -10.2 1 9 1 -14.9 1 17.1 1 -14 1 13.2 1 -14.1 1 12.3 1 -9.1 1 9.2 1 -14.6 1 14.7 1 -13.5 1 14.1 1 -8.7 1 10.2 1 -12.3 1 10.8 1 -9.4 1 9.2 1 -13.7 1 13.7 1 -9.2 1 8.9 1 -16.2 1 16.9 1 -10.7 1 13.3 1 -19.5 1 15.9 1 -8.9 1 10.6 1 -11.2 1 10.4 1 -9.3 1 9.5 1 -11.8 1 11.5 1 -11.6 1 11.5 1 -11.8 1 12.3 1 -13.4 1 13.3 1 -10.4 1 9.6 1 -10.3 1 10 1 -8.1 1 8.6 1 -12 1 13.7 1 -15.7 1 14.2 1 -13.3 1 13.1 1 -8.8 1 9.7 1 -9.2 1 11.4 1 -12.4 1 11.2 1 -10.4 1 9.8 1 -11.8 1 11.7 1 -10.9 1 9.8 1 -9.6 1 9.2 1 -9.8 1 12.7 1 -12.2 1 9.7 1 -8.3 1 8.1 1 -8.1 1 8.4 1 -11.5 1 12.7 1 -13.6 1 12.5 1 -13.8 1 14.2 1 -12.8 1 11.7 1 -9 1 10 1 -10 1 9.1 1 -9.7 1 11.7 1 -13.3 1 11.3 1 -9.1 1 8.9 1 -8.9 1 9.5 1 -8.7 1 9.7 1 -9.3 1 7.8 1 -10.4 1 11.2 1 -9.3 1 9.6 1 -9.1 1 9.1 1 -15 1 17.4 1 -16.5 1 14 1 -14.4 1 13.6 1 -15.3 1 16.1 1 -10.4 1 12 1 -13.2 1 11.6 1 -10.1 1 9.1 1 -8.6 1 9.2 1 -8.6 1 8.1 1 -11.1 1 11.3 1 -10.1 1 13 1 -16.2 1 13.8 1 -11.2 1 10.8 1 -8.9 1 8.5 1 -10.1 1 10.1 1 -9.3 1 9.3 1 -11 1 11.3 1 -9.1 1 10.2 1 -9.7 1 8.2 1 -8.7 1 9.1 1 -14.2 1 14 1 -8.6 1 9.5 1 -10.2 1 9.2 1 -9.5 1 11.1 1 -15.1 1 13.8 1 -9.3 1 9.3 1 -11.3 1 12.2 1 -12.5 1 13.4 1 -17.7 1 17.3 1 -10 1 8.3 1 -8.1 1 8 1 -14.7 1 16.3 1 -9.6 1 10.3 1 -11.3 1 10.1 1 -10.4 1 11.3 1 -11.8 1 10.1 1 -10.8 1 10.6 1 -10.2 1 10.9 1 -9.4 1 9.2 1 -13.2 1 14 1 -9.3 1 8.4 1 -12.7 1 13.7 1 -14.1 1 13 1 -15 1 18.2 1 -11.5 1 9.7 1 -10.5 1 8.9 1 -11.5 1 12.4 1 -10.3 1 11.3 1 -15.2 1 15.1 1 -13.5 1 11.5 1 -7.9 1 8.5 1 -9.2 1 8.7 1 -10.9 1 12 1 -15.5 1 17.9 1 -16.5 1 14.3 1 -10.4 1 9.1 1 -9.7 1 12.7 1 -11.4 1 9.3 1 -10.1 1 10.7 1 -11.4 1 9.8 1 -9.4 1 10.1 1 -9.8 1 10.3 1 -9.8 1 9.6 1 -9.8 1 9.3 1 -9.4 1 9.8 1 -8.8 1 9 1 -9.3 1 9.4 1 -11.9 1 10.8 1 -13.3 1 13.3 1 -9.2 1 9.7 1 -8.4 1 9.7 1 -9.6 1 7.8 1 -9.5 1 10.6 1 -10.6 1 13 1 -13 1 13 1 -11.8 1 9.2 1 -10.3 1 9.9 1 -9.5 1 10.3 1 -9.1 1 8 1 -10.1 1 10.3 1 -9.1 1 10.4 1 -12.7 1 12.8 1 -12.3 1 10.8 1 -11.5 1 13.1 1 -10.8 1 9.7 1 -12.2 1 12 1 -9.4 1 9.8 1 -17 1 17.4 1 -9.7 1 9.9 1 -9.7 1 9.3 1 -11.1 1 10.7 1 -11.5 1 11.8 1 -9.7 1 11.7 1 -10.9 1 7.9 1 -10.2 1 11.2 1 -9.2 1 9.5 1 -12.2 1 11 1 -9.9 1 12.1 1 -10.7 1 9 1 -9 1 8.5 1 -8 1 9.8 1 -11.1 1 12.1 1 -17.1 1 14.2 1 -8 1 8.7 1 -9.2 1 9.1 1 -10.2 1 10.7 1 -9 1 7.7 1 -11.5 1 13.3 1 -14.9 1 15.1 1 -10.2 1 11.8 1 -14.5 1 11.4 1 -9.4 1 12.5 1 -12.2 1 10.1 1 -11.9 1 11.3 1 -13.5 1 12.9 1 -10.2 1 10.1 1 -8.5 1 9.2 1 -8.8 1 10.6 1 -10.7 1 8 1 -8.2 1 11.8 1 -13.3 1 10.5 1 -10.5 1 10.1 1 -8.9 1 8.5 1 -10.2 1 13.4 1 -19.1 1 16.4 1 -12.8 1 12.5 1 -7.8 1 7.9 1 -12.1 1 12.2 1 -9.8 1 10.6 1 -12.8 1 12.2 1 -9.9 1 9.6 1 -9 1 8.9 1 -9.2 1 9.1 1 -8.8 1 10.2 1 -13.8 1 12.9 1 -12.5 1 13.3 1 -9.1 1 8.3 1 -8.8 1 8.3 1 -9.1 1 9.6 1 -12.3 1 11.7 1 -10.9 1 11 1 -11.9 1 12.3 1 -10.1 1 11.6 1 -15.2 1 13.5 1 -8.9 1 8.6 1 -8.4 1 8.6 1 -8.6 1 10.6 1 -11.7 1 13.1 1 -19.4 1 16.9 1 -10.3 1 9.6 1 -11.8 1 12.3 1 -10.7 1 10.6 1 -10.4 1 11.4 1 -9.5 1 7.8 1 -8.6 1 8.5 1 -9.1 1 9.3 1 -12 1 11.9 1 -8.3 1 9.2 1 -9.6 1 11.3 1 -11 1 8.8 1 -8.4 1 9.3 1 -10.8 1 9.9 1 -8.8 1 9 1 -9.4 1 11.4 1 -10.9 1 9.2 1 -11.5 1 14.2 1 -11.6 1 8.2 1 -11.8 1 11.7 1 -8.6 1 10.2 1 -11.4 1 10.3 1 -12.8 1 13 1 -11.6 1 11.2 1 -10.7 1 10.8 1 -12.6 1 12.5 1 -8.7 1 9.2 1 -12 1 13 1 -10.6 1 10.3 1 -14.5 1 14.2 1 -10.2 1 10.9 1 -11.5 1 10.6 1 -14.7 1 15.5 1 -11.4 1 12.1 1 -14.8 1 15.9 1 -14.7 1 13.2 1 -12.1 1 13.4 1 -17.6 1 16.8 1 -23.1 1 22.4 1 -14.7 1 15.8 1 -13.2 1 17.3 1 -21.7 1 19.9 1 -16.3 1 13.1 1 -17.5 1 16.8 1 -18.5 1 18.7 1 -19 1 20.9 1 -16.9 1 16.4 1 -17.9 1 17.8 1 -17 1 16 1 -13.6 1 13.1 1 -10.8 1 11.2 1 -10.5 1 12.4 1 -15.7 1 13.2 1 -14 1 13.2 1 -9.1 1 12.1 1 -15.6 1 13 1 -9.1 1 9.6 1 -17.3 1 15.9 1 -12.2 1 14 1 -16 1 17.8 1 -11.5 1 8.9 1 -10.5 1 9.6 1 -9.1 1 9.3 1 -13.1 1 13.5 1 -9.5 1 9.7 1 -9.8 1 9.7 1 -11.9 1 13.9 1 -11.1 1 8.2 1 -9.9 1 12.3 1 -11.1 1 10.5 1 -15.3 1 14.2 1 -8.8 1 8.3 1 -8.4 1 9 1 -8.7 1 10.5 1 -10.5 1 8.5 1 -14.3 1 13.8 1 -10.2 1 11.2 1 -11.1 1 10.8 1 -8.8 1 9.7 1 -9.3 1 10.9 1 -15.2 1 13.9 1 -15.6 1 13.9 1 -8.9 1 8.9 1 -8.4 1 9 1 -11.3 1 10.4 1 -10.1 1 11.9 1 -17.1 1 18.5 1 -14.8 1 12 1 -11.4 1 11.8 1 -8.6 1 8.2 1 -12 1 11.6 1 -8.1 1 9.3 1 -11.3 1 12 1 -9.6 1 9.5 1 -9.6 1 11.4 1 -13 1 10 1 -8.9 1 8.3 1 -13.7 1 15.4 1 -9.8 1 9 1 -8.9 1 8.2 1 -8.1 1 10.2 1 -12.3 1 10 1 -7.8 1 7.9 1 -9.6 1 9.9 1 -8.2 1 8.5 1 -10.5 1 9.8 1 -10.2 1 12.1 1 -9.8 1 8 1 -8 1 8.1 1 -12.3 1 12.5 1 -8.4 1 9.6 1 -11.8 1 11.6 1 -16.5 1 17.1 1 -12.8 1 11 1 -14 1 15.2 1 -10.1 1 11.1 1 -10.5 1 8.5 1 -9.4 1 12.6 1 -11.8 1 11.8 1 -13 1 9.7 1 -11 1 13.6 1 -10.7 1 11.4 1 -15.6 1 12 1 -13.5 1 14 1 -8.8 1 8.8 1 -9.4 1 9.9 1 -11.8 1 11.6 1 -12.5 1 12.2 1 -8.5 1 8.2 1 -10 1 10.2 1 -12.3 1 12.2 1 -10.1 1 9.9 1 -11.8 1 12.5 1 -9.2 1 9.6 1 -10.4 1 11.6 1 -13.4 1 14.4 1 -17.8 1 14.5 1 -8.5 1 8.5 1 -8.7 1 9.6 1 -9.1 1 8.6 1 -8.4 1 7.9 1 -11.9 1 11.9 1 -7.7 1 8.7 1 -16 1 16.5 1 -9.6 1 11 1 -10.6 1 10 1 -11.4 1 9.2 1 -8.2 1 11.2 1 -10.9 1 8.1 1 -12.7 1 13.2 1 -13.8 1 13.2 1 -16.1 1 16.7 1 -9.8 1 9 1 -8.7 1 11.5 1 -10.6 1 8.2 1 -8.6 1 8.5 1 -9.1 1 9.5 1 -10.9 1 10.2 1 -8 1 11.6 1 -19.5 1 17.2 1 -13.9 1 12.7 1 -10.7 1 11.7 1 -10 1 9.2 1 -8 1 9.7 1 -10.4 1 9.1 1 -10.4 1 9.7 1 -8.5 1 9.2 1 -8.6 1 10.3 1 -10.6 1 9.5 1 -9.7 1 9.1 1 -13.7 1 16.6 1 -17.5 1 14.5 1 -11.6 1 12.5 1 -9.6 1 9.3 1 -11.3 1 10.6 1 -9.2 1 9 1 -9.8 1 12.6 1 -12 1 10.6 1 -11.3 1 10.4 1 -9.9 1 9.1 1 -15.9 1 16.2 1 -9 1 8.7 1 -12.3 1 12.6 1 -10.2 1 12.3 1 -10.7 1 9.6 1 -9.3 1 9.5 1 -17.4 1 17.7 1 -11.8 1 12 1 -11.4 1 9.7 1 -8 1 9 1 -10.3 1 9.2 1 -8 1 8.1 1 -10.4 1 11 1 -12.9 1 13.8 1 -10.4 1 11.4 1 -12.6 1 10.2 1 -10 1 13.2 1 -16.5 1 14.4 1 -14.5 1 13.8 1 -14 1 13.3 1 -8.2 1 8.2 1 -12.7 1 13.3 1 -16.6 1 16 1 -8.1 1 8.2 1 -8 1 10.2 1 -10.9 1 8.8 1 -16.2 1 18.2 1 -11.5 1 9.8 1 -13.7 1 13.6 1 -9.2 1 8.8 1 -8.9 1 8.8 1 -8 1 8 1 -9.1 1 9.5 1 -10.1 1 10.7 1 -11.7 1 14.3 1 -13.7 1 10.1 1 -9 1 11.3 1 -12.3 1 13.1 1 -12.7 1 9.7 1 -8 1 8 1 -9.4 1 9.4 1 -8 1 9.4 1 -12.2 1 13.4 1 -10.6 1 9.7 1 -9.5 1 8.6 1 -10.7 1 9.9 1 -14.3 1 16.2 1 -15.1 1 14 1 -8.9 1 10.6 1 -12.2 1 9.9 1 -8.2 1 8.2 1 -10.2 1 10.5 1 -10.2 1 12.7 1 -11.5 1 9.3 1 -9 1 8.1 1 -14.7 1 15 1 -8.4 1 8.8 1 -15.2 1 17 1 -13.5 1 11.6 1 -10.8 1 12.2 1 -11.8 1 10.6 1 -9 1 10 1 -11.3 1 9.8 1 -8.8 1 9.2 1 -9.7 1 9 1 -8.7 1 9.4 1 -9.3 1 9 1 -9.5 1 11.1 1 -10.1 1 11.7 1 -13.9 1 10.5 1 -16.1 1 16.1 1 -7.9 1 9.9 1 -11.3 1 9.4 1 -8.4 1 9.2 1 -9.8 1 9.2 1 -11.4 1 11.1 1 -13.2 1 14 1 -10.9 1 10.6 1 -9.6 1 9.3 1 -9.9 1 10 1 -11 1 11.3 1 -9 1 8.4 1 -9.6 1 10.1 1 -16.3 1 15.8 1 -9.1 1 12.5 1 -11.4 1 8.5 1 -14.8 1 16.1 1 -10.1 1 9.1 1 -8.7 1 11.3 1 -14 1 14 1 -13.3 1 10.1 1 -9.8 1 11.7 1 -13.5 1 13.1 1 -10.3 1 8.4 1 -13.1 1 13.4 1 -9.2 1 10 1 -9 1 9.4 1 -9.2 1 8.2 1 -10.1 1 9.6 1 -12.6 1 12.6 1 -10.4 1 10.5 1 -9.7 1 10.1 1 -8.7 1 8.5 1 -10.9 1 12.2 1 -13.2 1 13.4 1 -9.8 1 8.9 1 -12 1 13.3 1 -10.8 1 11.4 1 -10.7 1 8.4 1 -8.9 1 12 1 -12.4 1 10.3 1 -9.6 1 9.9 1 -17.7 1 16.4 1 -9.5 1 9.2 1 -9.2 1 9.2 1 -16.1 1 16.8 1 -8.8 1 8.5 1 -10.4 1 9.8 1 -8.1 1 8.8 1 -8.5 1 8.6 1 -9.6 1 8.9 1 -12.5 1 12.7 1 -8 1 8.6 1 -10.6 1 10.7 1 -16.9 1 16 1 -16 1 17.7 1 -10.9 1 9.7 1 -8.5 1 8.1 1 -10.8 1 11 1 -9.6 1 9.3 1 -12.3 1 12.7 1 -16.4 1 19.5 1 -11.3 1 7.8 1 -11.8 1 11.9 1 -12.2 1 12.6 1 -11.7 1 14 1 -15.3 1 13.8 1 -9.9 1 8.5 1 -10.2 1 11.1 1 -16.4 1 16 1 -11 1 11 1 -10.6 1 10.3 1 -8.2 1 9.3 1 -10.5 1 9.3 1 -8.6 1 9.6 1 -10.1 1 9.7 1 -8.8 1 8.7 1 -13.5 1 15.3 1 -11.6 1 9.2 1 -11.3 1 11.5 1 -10.8 1 11.8 1 -9 1 8.3 1 -11.9 1 12.7 1 -9.2 1 7.9 1 -9.1 1 9.1 1 -13.5 1 13.9 1 -9.2 1 9.5 1 -12.6 1 13.2 1 -14.9 1 14.6 1 -9.1 1 8.8 1 -8.7 1 9.6 1 -12 1 10.8 1 -9.5 1 9.8 1 -10.2 1 13.1 1 -11.8 1 8.4 1 -12.4 1 13.7 1 -12.9 1 12.6 1 -12 1 11.3 1 -9.9 1 10.3 1 -8.9 1 11.6 1 -15.7 1 13.8 1 -10.4 1 9.8 1 -9.8 1 10.5 1 -9.5 1 9.2 1 -9.8 1 11.9 1 -19.5 1 16.8 1 -8.5 1 8.6 1 -9.9 1 11.8 1 -14.7 1 12.9 1 -12.9 1 12.7 1 -9.5 1 9.3 1 -9.2 1 8.5 1 -7.9 1 11.5 1 -11.9 1 9 1 -9.6 1 9.1 1 -8.2 1 10.7 1 -10.4 1 8.4 1 -10.8 1 11.9 1 -9.8 1 9.8 1 -11.5 1 10 1 -12.5 1 12.4 1 -9.6 1 10.8 1 -10.5 1 10.3 1 -9.4 1 8.6 1 -9 1 9.3 1 -14.6 1 15.3 1 -17.3 1 16.2 1 -8.4 1 10.6 1 -10.7 1 8.3 1 -10.5 1 12.8 1 -13.6 1 12.9 1 -17.6 1 16.8 1 -16.4 1 15.8 1 -8.9 1 8.6 1 -8.8 1 10 1 -11.7 1 12 1 -10.4 1 9.4 1 -11.4 1 11 1 -12.7 1 12.9 1 -8.5 1 8.8 1 -12.9 1 13.7 1 -9.5 1 8.2 1 -10.2 1 10.4 1 -9.7 1 10.9 1 -10.3 1 9.3 1 -8.6 1 8.8 1 -8.9 1 8.7 1 -14.2 1 15.6 1 -10 1 8.9 1 -14.3 1 15.4 1 -12.5 1 11.6 1 -9.8 1 9.8 1 -10.9 1 11.7 1 -13.2 1 13.3 1 -9.8 1 11.5 1 -14.5 1 13 1 -10.9 1 12.4 1 -15.2 1 12 1 -8.1 1 8.2 1 -11.1 1 12.6 1 -11 1 9 1 -9 1 9.5 1 -11.7 1 11.3 1 -8.2 1 9.1 1 -11.3 1 10.3 1 -8.4 1 10 1 -10.1 1 8.9 1 -15.9 1 15.9 1 -9.3 1 11.2 1 -11.8 1 12.1 1 -10.7 1 8.9 1 -10 1 10.7 1 -11.8 1 11.9 1 -9.4 1 10.7 1 -10.8 1 8.2 1 -8.6 1 10.1 1 -10.1 1 8.6 1 -11.9 1 11.6 1 -8.4 1 8.6 1 -13.2 1 15.5 1 -11.9 1 11.2 1 -11.9 1 12.1 1 -9.8 1 8.2 1 -10.2 1 9.9 1 -7.7 1 8.5 1 -15.9 1 15.5 1 -8.8 1 8.8 1 -9.1 1 9.2 1 -12 1 12.2 1 -12.9 1 12.5 1 -16.3 1 16.3 1 -9.6 1 10.5 1 -13.6 1 13.8 1 -11.2 1 11.2 1 -9.8 1 8.5 1 -9.2 1 9.1 1 -11.6 1 13.3 1 -13.6 1 12 1 -13.3 1 13.1 1 -9.3 1 9.6 1 -14.6 1 14.5 1 -9.5 1 11.3 1 -13.9 1 12.5 1 -14.2 1 15.4 1 -11.3 1 11.4 1 -14.9 1 16.7 1 -13.4 1 10.2 1 -9.6 1 10.3 1 -9.2 1 8.2 1 -9.5 1 10.4 1 -13.8 1 12.9 1 -11 1 12.3 1 -10 1 10.3 1 -9.6 1 9.6 1 -10.4 1 9.9 1 -9.6 1 10.8 1 -10.7 1 9.2 1 -9.8 1 9.6 1 -10.6 1 11.4 1 -12.5 1 11.2 1 -12 1 12.7 1 -16.8 1 16.1 1 -12.5 1 13 1 -10.5 1 10.2 1 -8.5 1 8.3 1 -9.3 1 12.5 1 -13.8 1 13.2 1 -11.6 1 9.3 1 -10.6 1 12.5 1 -11.4 1 10.1 1 -10.6 1 10.3 1 -13.4 1 14.3 1 -13 1 12.5 1 -14 1 16.1 1 -11.9 1 10.3 1 -17.9 1 18.6 1 -11.2 1 12.7 1 -14.8 1 14.2 1 -12 1 9.5 1 -10.3 1 11.3 1 -13.4 1 12.7 1 -16.2 1 18.3 1 -15.6 1 13.1 1 -11.2 1 13.3 1 -18.8 1 20.1 1 -14.4 1 11.1 1 -10 1 10.6 1 -13.7 1 13.7 1 -15.6 1 15.4 1 -12.7 1 12.7 1 -11.6 1 13.6 1 -14.8 1 15 1 -14.2 1 12.9 1 -11.2 1 10.7 1 -18.5 1 18.6 1 -14.6 1 14.4 1 -14.2 1 13.6 1 -9.9 1 9.9 1 -11.2 1 13.1 1 -11.5 1 14 1 -14.5 1 12.7 1 -12.7 1 13 1 -16.8 1 14 1 -11.4 1 11.7 1 -19.9 1 19.9 1 -10.7 1 10.6 1 -12.3 1 13.4 1 -13.7 1 15.5 1 -15.3 1 14.1 1 -13.5 1 11.4 1 -10.4 1 11.3 1 -12.7 1 11.6 1 -9.1 1 10 1 -16.6 1 17.3 1 -12.1 1 11.7 1 -10.4 1 9.8 1 -12.2 1 13.5 1 -14.8 1 14.8 1 -12.4 1 11.7 1 -16.3 1 16.3 1 -11 1 10 1 -11.2 1 13.5 1 -13.1 1 13.2 1 -11.7 1 8.9 1 -8.8 1 10.4 1 -14.4 1 13.1 1 -10.6 1 12.4 1 -10.6 1 8.3 1 -9.7 1 11.1 1 -12.9 1 12.7 1 -12.8 1 12.2 1 -10.5 1 9.9 1 -11.8 1 12.2 1 -8.8 1 9.6 1 -9.4 1 8.6 1 -9.5 1 10.5 1 -9.7 1 10.4 1 -13.4 1 11.2 1 -11.5 1 11.5 1 -8.1 1 9.2 1 -10.4 1 9.8 1 -8.6 1 9.4 1 -11.9 1 13.4 1 -10.7 1 8.3 1 -9.8 1 10 1 -10.6 1 10.1 1 -8.2 1 8.5 1 -12.9 1 12.7 1 -10.7 1 13.6 1 -13.2 1 10.3 1 -11.6 1 11.4 1 -16.1 1 17.5 1 -10 1 9.3 1 -8.6 1 7.7 1 -8.8 1 9.3 1 -11.1 1 10.8 1 -10 1 11.9 1 -10 1 8.4 1 -9.9 1 11.1 1 -9.9 1 11.1 1 -12.3 1 9.5 1 -8.4 1 10.4 1 -10.5 1 9 1 -8.7 1 9.5 1 -11.2 1 13.1 1 -11.1 1 8.9 1 -9.3 1 9.3 1 -12.6 1 12.3 1 -12.6 1 11.8 1 -13.1 1 13.2 1 -9.3 1 10.3 1 -9.1 1 11.7 1 -13.4 1 13.5 1 -17 1 13.7 1 -10.8 1 10.7 1 -11.5 1 11.7 1 -10.8 1 11.2 1 -10.9 1 12.1 1 -11.5 1 10.2 1 -9.1 1 10.2 1 -10.8 1 10.7 1 -10 1 9.4 1 -13.9 1 15.2 1 -12.5 1 10.5 1 -11.4 1 13.5 1 -11 1 9 1 -10.1 1 11.7 1 -12.1 1 10.9 1 -12.5 1 12.7 1 -16.7 1 17.2 1 -12.6 1 13.6 1 -13.2 1 12.1 1 -15.1 1 16.2 1 -14.7 1 13.2 1 -13 1 17.2 1 -15 1 14 1 -17 1 14.4 1 -14.6 1 14.4 1 -12.4 1 12.7 1 -12.2 1 13.6 1 -15 1 13.6 1 -11.9 1 12.5 1 -20 1 21.3 1 -18.3 1 21.7 1 -22.1 1 18 1 -18.6 1 18.2 1 -25.2 1 24.7 1 -19.4 1 19.2 1 -12.7 1 13.8 1 -14.9 1 14.7 1 -15.8 1 15.7 1 -15.2 1 15.1 1 -12.8 1 13.7 1 -14.8 1 15.2 1 -19.1 1 17.8 1 -15 1 18.3 1 -17.2 1 18.2 1 -18.4 1 14 1 -17.4 1 18.3 1 -14.2 1 17 1 -17.8 1 13.6 1 -16.6 1 16.9 1 -24.6 1 25.1 1 -18 1 17.5 1 -12.1 1 14.6 1 -14.7 1 14.4 1 -14.5 1 15.5 1 -21.6 1 19.1 1 -12.8 1 11.6 1 -16.3 1 19 1 -13.8 1 14.6 1 -18.2 1 15.5 1 -13.2 1 12.3 1 -12.1 1 13.5 1 -20.7 1 20.7 1 -20.6 1 20.1 1 -16.6 1 14.9 1 -10.8 1 14.7 1 -13.9 1 11.8 1 -11.3 1 9.5 1 -9.5 1 10.3 1 -12.5 1 12.9 1 -16.8 1 15.6 1 -18.3 1 19.3 1 -14.6 1 12.9 1 -14.4 1 15.5 1 -10.1 1 9.9 1 -12.3 1 12.7 1 -12 1 11.2 1 -11.6 1 11.2 1 -9.6 1 9.2 1 -8.1 1 11 1 -14.3 1 12.8 1 -13.4 1 14.6 1 -16.4 1 13.7 1 -8.5 1 9.7 1 -14.5 1 13.4 1 -8.8 1 10.5 1 -14.7 1 13.1 1 -10.5 1 10.7 1 -8.4 1 8.6 1 -8.9 1 8.8 1 -10.5 1 10.2 1 -8.5 1 8.3 1 -11.6 1 12.6 1 -15.7 1 16.4 1 -11.3 1 10.6 1 -10.5 1 10 1 -13.9 1 14.6 1 -11.1 1 12.3 1 -13.2 1 12.4 1 -10.8 1 10.3 1 -10.1 1 9.1 1 -9.4 1 10.1 1 -8.5 1 9.1 1 -9.4 1 8.6 1 -16.5 1 16.5 1 -11.4 1 11.2 1 -9.6 1 10.4 1 -9.6 1 9.8 1 -12 1 10.9 1 -8.6 1 9.5 1 -12.3 1 12.1 1 -9.4 1 9 1 -13 1 13.4 1 -16.4 1 16.1 1 -11.5 1 10.9 1 -11.9 1 11.9 1 -9.4 1 12.3 1 -11.3 1 9 1 -9.8 1 9.5 1 -14.1 1 15.4 1 -9.4 1 8.4 1 -16.6 1 16.1 1 -7.9 1 8.5 1 -8.8 1 8.3 1 -16.2 1 17.5 1 -16.1 1 15.1 1 -9 1 9 1 -9 1 8.7 1 -13.5 1 14 1 -10.1 1 9.9 1 -10.7 1 10.7 1 -11.6 1 11.2 1 -9.2 1 10.5 1 -10.1 1 8.6 1 -15.9 1 17.3 1 -12.6 1 11.2 1 -7.9 1 8.9 1 -8.8 1 8.7 1 -11.8 1 11.4 1 -10.6 1 10.5 1 -9 1 8.6 1 -9.8 1 9.8 1 -13.3 1 13.5 1 -8.4 1 9.4 1 -9.9 1 9.5 1 -8.9 1 11.3 1 -11 1 7.8 1 -11.8 1 14.6 1 -11.3 1 9 1 -13.7 1 13.5 1 -10.4 1 10.2 1 -12.2 1 12.7 1 -9.7 1 9.7 1 -9.2 1 9.3 1 -14.9 1 15.7 1 -10 1 8.8 1 -14.4 1 15.5 1 -16.7 1 16.7 1 -14.5 1 13.4 1 -10.2 1 10 1 -10.8 1 12.1 1 -9.9 1 8.8 1 -8 1 8.1 1 -10.1 1 9.8 1 -16 1 17.2 1 -9.5 1 9.1 1 -10.4 1 9.7 1 -9.7 1 10 1 -8.4 1 8.5 1 -9.7 1 11.6 1 -15.1 1 16.2 1 -13.7 1 10.7 1 -10.4 1 9.8 1 -8.3 1 10.9 1 -10.4 1 7.8 1 -8.1 1 9.8 1 -11.4 1 12.4 1 -16 1 14.1 1 -10.1 1 9.4 1 -11.9 1 13.1 1 -9 1 8.9 1 -9.1 1 8.3 1 -9 1 9.5 1 -8.7 1 8 1 -8.9 1 9.6 1 -11.5 1 10.9 1 -7.9 1 8.4 1 -8.7 1 8.5 1 -10.4 1 11.8 1 -13.5 1 11.7 1 -8.4 1 10.5 1 -13.2 1 13 1 -11.7 1 9.8 1 -8.7 1 12 1 -16.9 1 14.8 1 -12.3 1 11.2 1 -9.3 1 9.3 1 -9.9 1 9.6 1 -11.6 1 11.7 1 -10.6 1 11.3 1 -13.5 1 13 1 -9.1 1 8.8 1 -8.5 1 8.6 1 -9.4 1 11.2 1 -10 1 9 1 -8.9 1 8.1 1 -11.8 1 13.5 1 -14.1 1 13.3 1 -8.7 1 8.5 1 -12.5 1 13.6 1 -11 1 10.5 1 -13.2 1 12.6 1 -11 1 10.9 1 -10.1 1 10.5 1 -12.5 1 12.7 1 -9.4 1 8.4 1 -10.7 1 11.7 1 -12.8 1 14.2 1 -10.6 1 8.2 1 -8.9 1 9.1 1 -10.8 1 12.4 1 -10.3 1 8.9 1 -10.5 1 9.9 1 -9.6 1 9.7 1 -8 1 7.8 1 -8.9 1 9.6 1 -8.8 1 9.5 1 -10.7 1 9.7 1 -10.4 1 10.3 1 -8.9 1 8.6 1 -8.7 1 9.6 1 -14.4 1 14.3 1 -8.9 1 9.2 1 -12.1 1 11.8 1 -12 1 11.2 1 -15.9 1 18.8 1 -11.5 1 8.8 1 -9.4 1 12.6 1 -11.7 1 11.1 1 -13.8 1 11.7 1 -8.5 1 11.4 1 -15.1 1 11.8 1 -9.5 1 9.9 1 -15.2 1 15.1 1 -11.5 1 11.5 1 -16.2 1 16.4 1 -8.8 1 9 1 -16.4 1 18.5 1 -13.4 1 11.4 1 -11.3 1 11.4 1 -11.5 1 11.7 1 -11.2 1 11.6 1 -12.8 1 11.2 1 -8.7 1 10.1 1 -14.2 1 13.3 1 -10.6 1 10.6 1 -11.9 1 12.2 1 -11.9 1 12.1 1 -15 1 15.8 1 -9.9 1 9 1 -17 1 18.3 1 -11.1 1 9.2 1 -14.1 1 15.6 1 -10.7 1 9.3 1 -8.6 1 8.5 1 -8.7 1 8.5 1 -8.6 1 10 1 -12.3 1 11.1 1 -12 1 12.1 1 -9.2 1 8.6 1 -8.2 1 9 1 -10.7 1 10.8 1 -12.9 1 12.5 1 -8.4 1 9.3 1 -10.3 1 10.1 1 -14.4 1 13.9 1 -8.5 1 9.5 1 -15.7 1 14.4 1 -9.5 1 9.3 1 -8.1 1 7.9 1 -8.1 1 8.9 1 -9.2 1 8.6 1 -11.8 1 11.7 1 -8.5 1 9 1 -12.6 1 12.8 1 -8.5 1 8.5 1 -16.2 1 16.1 1 -9 1 11.9 1 -11.3 1 7.7 1 -10.1 1 10.6 1 -11.1 1 11.3 1 -9 1 11.9 1 -11.8 1 8.6 1 -8.2 1 7.9 1 -13 1 13.8 1 -11.4 1 13.4 1 -14.3 1 13.8 1 -11.7 1 11.5 1 -10.5 1 10.2 1 -9.7 1 8.4 1 -8.5 1 8.2 1 -10.4 1 10.5 1 -8.6 1 8.2 1 -12.6 1 14.1 1 -9.2 1 7.8 1 -9.3 1 10 1 -11.2 1 13.6 1 -13.4 1 10.2 1 -8.7 1 10.4 1 -9.8 1 8.5 1 -10.8 1 11.3 1 -10.8 1 10 1 -8 1 9.1 1 -10.9 1 10.1 1 -10.3 1 10.3 1 -8.4 1 8 1 -10.3 1 10.6 1 -9.2 1 10.6 1 -10.8 1 9.2 1 -8.1 1 8.7 1 -13.7 1 13.5 1 -12 1 12.6 1 -9.9 1 9.1 1 -8.2 1 8.1 1 -7.8 1 8.7 1 -9.5 1 9.5 1 -11.1 1 11.2 1 -9.8 1 11 1 -11.3 1 9.4 1 -9.5 1 11.5 1 -12 1 10.9 1 -11.6 1 10.6 1 -10.6 1 10.2 1 -8.4 1 9.4 1 -11.4 1 10.9 1 -9.3 1 9.2 1 -8.2 1 8 1 -8.9 1 9.1 1 -14.6 1 16.7 1 -10.6 1 8.3 1 -8.9 1 8.9 1 -8.9 1 9.5 1 -9.3 1 8.6 1 -9.9 1 10.3 1 -8.3 1 9.1 1 -12.6 1 11.3 1 -10.8 1 13.4 1 -10.7 1 8.3 1 -10 1 10 1 -8.2 1 8.8 1 -12 1 12.2 1 -11.1 1 10.6 1 -16.4 1 16.4 1 -8.4 1 8 1 -10.6 1 11.8 1 -9.2 1 8.1 1 -8.5 1 8.3 1 -11 1 11.7 1 -14.1 1 13.7 1 -8.6 1 8.8 1 -11.8 1 12.3 1 -10.3 1 9.5 1 -8.4 1 8.6 1 -12.7 1 12.7 1 -10.2 1 11.4 1 -16.2 1 15.5 1 -10.7 1 9.9 1 -10.6 1 10.6 1 -12 1 15.5 1 -13.3 1 10 1 -11.7 1 11.5 1 -11.8 1 12.5 1 -9.1 1 8.9 1 -11.3 1 12.2 1 -13.3 1 12.2 1 -8.9 1 9.7 1 -9.7 1 8.9 1 -9.4 1 9.9 1 -13.7 1 12.9 1 -10.2 1 10.2 1 -10.6 1 11.8 1 -14.2 1 14.3 1 -11.6 1 12.1 1 -14.3 1 12.6 1 -11.9 1 13.3 1 -9.5 1 8.9 1 -15.9 1 15.8 1 -9.5 1 8.9 1 -16.2 1 17.1 1 -13.7 1 13.9 1 -9.4 1 8.2 1 -7.9 1 8.6 1 -9.4 1 9.1 1 -11.7 1 11.8 1 -9 1 8.5 1 -12.5 1 13.7 1 -9.9 1 12.1 1 -12.8 1 10.3 1 -14.3 1 13.3 1 -8.2 1 9.2 1 -12.3 1 14.8 1 -12 1 8.6 1 -16.1 1 16.5 1 -8.5 1 8.9 1 -9 1 8.7 1 -8.9 1 8.6 1 -13.3 1 13.1 1 -9.4 1 10.3 1 -11.7 1 13.3 1 -10.6 1 8.3 1 -10 1 9.7 1 -9.3 1 9.2 1 -8.6 1 9.6 1 -9.8 1 10.2 1 -12.4 1 13.2 1 -16.9 1 15.1 1 -11.6 1 11.2 1 -9.4 1 11.3 1 -12 1 11 1 -8.8 1 8.8 1 -12.8 1 12.1 1 -8.9 1 9.6 1 -8.7 1 8.3 1 -9.4 1 10.1 1 -10.9 1 13.1 1 -13.8 1 11.3 1 -9 1 8.7 1 -9.4 1 10.3 1 -15.9 1 15.4 1 -9.9 1 9.2 1 -16.2 1 16.1 1 -16.1 1 16.1 1 -8 1 8.9 1 -10.1 1 10 1 -9.4 1 10.2 1 -9.6 1 8.6 1 -12.7 1 13 1 -10.1 1 12.4 1 -12.8 1 9.9 1 -10.2 1 10.2 1 -9.3 1 9.4 1 -8.3 1 10.7 1 -12.4 1 9.7 1 -9.8 1 9.6 1 -10.3 1 10.5 1 -9.7 1 11.1 1 -10.3 1 9 1 -11.5 1 11.5 1 -12.1 1 11.8 1 -8.6 1 9 1 -10 1 10.3 1 -9.6 1 10.2 1 -9.7 1 9.6 1 -13 1 14.5 1 -14.9 1 12.1 1 -11.8 1 12 1 -9.5 1 9.4 1 -10.3 1 10.5 1 -10.2 1 9.9 1 -7.7 1 9.5 1 -9.9 1 8.2 1 -8 1 8.8 1 -9.1 1 8.5 1 -9.7 1 9.9 1 -11.6 1 12.4 1 -15.4 1 14.7 1 -9.4 1 8.9 1 -9.2 1 9.5 1 -8.8 1 9.3 1 -11.8 1 10.9 1 -10.1 1 10.8 1 -11 1 10.3 1 -9.6 1 12.3 1 -12.9 1 11.7 1 -11.2 1 10.4 1 -11.5 1 12.2 1 -9.1 1 7.9 1 -8.8 1 10.1 1 -15.4 1 14.5 1 -10.3 1 9.7 1 -8.1 1 8.3 1 -13.5 1 15.6 1 -9.9 1 7.7 1 -11.9 1 15 1 -12.1 1 10.7 1 -11.8 1 11.5 1 -10.4 1 9.2 1 -11.4 1 11.6 1 -13.7 1 13.7 1 -10.3 1 11.7 1 -11.7 1 9.9 1 -7.7 1 8.1 1 -9.7 1 11.9 1 -11 1 10 1 -10.6 1 9.1 1 -8.5 1 9.1 1 -8.6 1 8.9 1 -10.7 1 9.9 1 -9.1 1 9.8 1 -10.4 1 10.4 1 -8.8 1 9.7 1 -10.2 1 11.9 1 -13.7 1 10.2 1 -9.5 1 9.7 1 -9.2 1 9.6 1 -9.8 1 9.6 1 -10.7 1 10.2 1 -8.1 1 8.6 1 -11.7 1 13.6 1 -10.2 1 8.3 1 -9.5 1 9.2 1 -10 1 11.4 1 -10.2 1 9.6 1 -9.2 1 9 1 -11.8 1 13.6 1 -14.9 1 13.2 1 -12.8 1 12.4 1 -8.3 1 8.6 1 -13.7 1 13.2 1 -11.8 1 11.7 1 -8.4 1 8.2 1 -7.8 1 8.8 1 -10.4 1 10 1 -9 1 10.2 1 -10.1 1 9.6 1 -9.2 1 8.1 1 -10.5 1 11.3 1 -8.9 1 8 1 -14.2 1 15.4 1 -11.4 1 10.6 1 -11.6 1 11.3 1 -9.7 1 10.7 1 -14.5 1 14.7 1 -9.6 1 8.4 1 -8.9 1 10.2 1 -9.7 1 8.8 1 -8.7 1 8.1 1 -8 1 8.9 1 -8.8 1 8.1 1 -8 1 8.4 1 -12.9 1 12.8 1 -15.3 1 16.7 1 -12.5 1 12.4 1 -10.2 1 9.3 1 -13.7 1 13 1 -13.9 1 15 1 -13.9 1 12.6 1 -15.9 1 16 1 -8.1 1 10.1 1 -12 1 10.1 1 -10.9 1 10.8 1 -9.9 1 11.2 1 -9.3 1 8.6 1 -9.5 1 9.7 1 -14 1 13.1 1 -9 1 9.7 1 -8.3 1 8.1 1 -8.4 1 8.4 1 -8.7 1 8.6 1 -16.3 1 16.2 1 -10 1 10.8 1 -9.4 1 9.9 1 -10.8 1 12.1 1 -11.2 1 8.9 1 -8.2 1 8.7 1 -10.1 1 9.7 1 -8.7 1 10.7 1 -11.6 1 9.5 1 -8.8 1 8.2 1 -12.9 1 14.4 1 -10 1 9.5 1 -11.2 1 11.1 1 -9.1 1 8.6 1 -8.7 1 8.5 1 -8.6 1 10.1 1 -10.6 1 12.5 1 -12.9 1 9.4 1 -16 1 16.3 1 -8.3 1 9.4 1 -10 1 9.3 1 -12.3 1 12 1 -8.4 1 9.5 1 -10 1 8.6 1 -8.7 1 9.2 1 -9 1 8.4 1 -9.3 1 9.8 1 -8.4 1 8.1 1 -10 1 10.6 1 -10.2 1 9.9 1 -10.4 1 11.9 1 -16.4 1 14.4 1 -10.3 1 11.4 1 -17.1 1 16.3 1 -13.1 1 13.3 1 -8.7 1 8.8 1 -12.9 1 13 1 -9.3 1 10.6 1 -12.3 1 11.3 1 -10 1 9.8 1 -9.3 1 8.6 1 -9 1 9.4 1 -12.2 1 12 1 -8.5 1 8.1 1 -10 1 10.6 1 -8.6 1 10.6 1 -11.5 1 12.5 1 -13.6 1 10.1 1 -8.2 1 8.7 1 -11.6 1 13.9 1 -15.4 1 13.1 1 -9.1 1 9.5 1 -9.7 1 10 1 -11 1 10.1 1 -8.9 1 9.9 1 -9.2 1 8.5 1 -8.9 1 10 1 -9.9 1 8.9 1 -10.2 1 13 1 -13.1 1 10.4 1 -16.8 1 16.2 1 -8.6 1 8.8 1 -8.7 1 9.6 1 -12.8 1 12.7 1 -17.2 1 19.5 1 -15.7 1 12.1 1 -10.1 1 11.1 1 -10.3 1 11.4 1 -10 1 8.1 1 -15.1 1 15.2 1 -8.5 1 8.2 1 -9.1 1 10.6 1 -9.8 1 11.4 1 -14.6 1 15.1 1 -17.6 1 14.7 1 -9.6 1 9.1 1 -12.5 1 12.4 1 -7.8 1 8.4 1 -11.7 1 11.1 1 -10.5 1 10.6 1 -8.6 1 9 1 -9.9 1 9.9 1 -8.9 1 10.8 1 -11.5 1 9 1 -8.1 1 10 1 -12.5 1 11 1 -16.1 1 16.2 1 -10.2 1 9.7 1 -8.5 1 9.9 1 -15.5 1 15.6 1 -9.4 1 8.2 1 -8.2 1 11.5 1 -13.8 1 10.7 1 -10.5 1 10.2 1 -9 1 8.9 1 -8.2 1 8.4 1 -9.1 1 9.5 1 -10.3 1 9.7 1 -9.4 1 10.9 1 -12.3 1 11 1 -13.9 1 16.4 1 -10.9 1 9 1 -9.3 1 8.8 1 -8.9 1 9.7 1 -10.6 1 9.6 1 -8.6 1 10 1 -10 1 9.4 1 -13.1 1 12.2 1 -8.2 1 11.3 1 -11.6 1 12 1 -13 1 12.9 1 -12.3 1 9.5 1 -9.7 1 11.7 1 -10.8 1 8.8 1 -16.6 1 18.3 1 -11.2 1 10.4 1 -9.6 1 9.7 1 -13.9 1 12.4 1 -12.4 1 13.2 1 -13.4 1 16 1 -11.6 1 8 1 -15.9 1 15.9 1 -11.5 1 11.7 1 -12.2 1 12 1 -9.8 1 9.8 1 -7.8 1 7.8 1 -9.3 1 9.4 1 -9.4 1 9.6 1 -8.2 1 8.3 1 -9.1 1 8.8 1 -9.1 1 11.2 1 -18.1 1 19.4 1 -19.4 1 16.5 1 -11 1 11.7 1 -9.8 1 9.3 1 -8.9 1 9.6 1 -9.5 1 9.2 1 -9.4 1 10.1 1 -12 1 10.1 1 -8.1 1 11.5 1 -14.8 1 14.3 1 -13 1 10.5 1 -8.2 1 8.1 1 -10.8 1 10.7 1 -10.7 1 10.8 1 -9.7 1 9.5 1 -9.4 1 9.4 1 -13.1 1 16 1 -17.1 1 14.1 1 -8.3 1 9.9 1 -10.6 1 9.2 1 -8 1 9.6 1 -11.5 1 9.8 1 -8.9 1 9.1 1 -9.9 1 12.8 1 -12 1 9 1 -8.2 1 11.5 1 -18.3 1 15.7 1 -10.4 1 9.6 1 -8.7 1 9.1 1 -11 1 12.4 1 -13.8 1 13.3 1 -13.4 1 12.6 1 -8.9 1 9.8 1 -17.4 1 17.7 1 -10.2 1 9 1 -10.2 1 10 1 -8.5 1 9.3 1 -10.9 1 9.7 1 -8.6 1 8.6 1 -8.1 1 11.7 1 -12.6 1 12.4 1 -11.4 1 8 1 -9.8 1 10.1 1 -12.5 1 13.9 1 -9.9 1 8.2 1 -8.5 1 9 1 -13 1 13.5 1 -16.9 1 19 1 -10.9 1 7.9 1 -9.4 1 10 1 -12.8 1 12.5 1 -12.2 1 11.8 1 -14.9 1 18.5 1 -15.5 1 13.1 1 -9.6 1 12 1 -12.3 1 9.1 1 -9.1 1 9.5 1 -9.3 1 9.1 1 -11.6 1 14.6 1 -11.3 1 8.7 1 -16.9 1 19.5 1 -12.7 1 10.7 1 -11.3 1 11.5 1 -10.3 1 8.5 1 -7.7 1 9.8 1 -10.4 1 8.9 1 -8.7 1 9.7 1 -10.9 1 10.7 1 -13.6 1 13.7 1 -10.8 1 9.9 1 -15.8 1 16.3 1 -12.9 1 11.8 1 -11.6 1 12.3 1 -11.5 1 12.2 1 -10.1 1 9.8 1 -10.1 1 11.4 1 -12.5 1 10.4 1 -13.9 1 13.6 1 -10.2 1 11.5 1 -9.7 1 10.6 1 -11.8 1 10.8 1 -9.3 1 8.6 1 -8.9 1 9.1 1 -11.5 1 12.1 1 -9.1 1 11.1 1 -11.6 1 8.9 1 -11.2 1 11.2 1 -10.5 1 11.2 1 -11.3 1 11.2 1 -9.2 1 8.3 1 -11.8 1 11.6 1 -11.4 1 12.5 1 -10.6 1 9.8 1 -9.1 1 9.3 1 -8.3 1 10 1 -10.5 1 8.3 1 -9.7 1 9.6 1 -11 1 13.8 1 -10.5 1 9 1 -14.9 1 13.7 1 -7.8 1 7.8 1 -8.6 1 10.8 1 -12.3 1 10.6 1 -9.7 1 10.1 1 -9.5 1 8.9 1 -9.5 1 12.7 1 -13.4 1 9.9 1 -13.7 1 15 1 -9.1 1 8.4 1 -14.9 1 17 1 -11.4 1 9.3 1 -8.4 1 8.8 1 -9.6 1 9.2 1 -10.5 1 13.4 1 -17.3 1 15.1 1 -9.1 1 8.3 1 -8.8 1 10.8 1 -16.1 1 13.5 1 -9.8 1 10.8 1 -10.6 1 11.6 1 -11.1 1 11.6 1 -11.2 1 9.7 1 -14.5 1 13.6 1 -8.6 1 9.5 1 -17 1 16.9 1 -10.2 1 11.1 1 -13.5 1 12 1 -10.9 1 12.9 1 -15.7 1 13.8 1 -16.6 1 17.8 1 -11.2 1 9.8 1 -12.3 1 12.6 1 -11.6 1 11.7 1 -10.2 1 11.3 1 -12 1 10.7 1 -11.1 1 10.9 1 -12.4 1 14.3 1 -10.8 1 9.9 1 -9.3 1 9.3 1 -10.7 1 10.7 1 -10.2 1 9.6 1 -10.8 1 10.9 1 -13.2 1 14.7 1 -10.6 1 9.4 1 -16.1 1 19.8 1 -14.1 1 11.9 1 -13.4 1 13.1 1 -15 1 14.2 1 -11.2 1 11.7 1 -10.5 1 10.9 1 -14.6 1 14 1 -12.9 1 13.2 1 -10.9 1 10 1 -12.1 1 14.9 1 -17.2 1 14.7 1 -12 1 15.5 1 -20.4 1 17.3 1 -14.4 1 14.9 1 -17.8 1 17.3 1 -18.4 1 18.1 1 -10.7 1 10.7 1 -13.7 1 14.7 1 -21.9 1 23.6 1 -13.5 1 11.5 1 -12.6 1 16.1 1 -18.3 1 15.8 1 -23.9 1 22.7 1 -14.1 1 18.5 1 -17.7 1 13.6 1 -12 1 11.8 1 -11.3 1 10.9 1 -14.7 1 15.7 1 -16.9 1 20 1 -21.4 1 17.1 1 -11.2 1 11.6 1 -15.2 1 15.7 1 -11.6 1 11.2 1 -11.7 1 12.3 1 -14.6 1 13.4 1 -21 1 21.2 1 -12.4 1 12.1 1 -10.5 1 11 1 -13.7 1 13.9 1 -11.2 1 12 1 -17.5 1 15.9 1 -9.8 1 9.7 1 -9.8 1 9.8 1 -11.9 1 11.5 1 -9.3 1 12.8 1 -13 1 11.8 1 -15.9 1 15 1 -12.6 1 12.8 1 -15.6 1 15.6 1 -16.2 1 14.8 1 -11.3 1 11.2 1 -14 1 13.5 1 -9.2 1 9.2 1 -8.3 1 10.5 1 -13.9 1 11.8 1 -14.6 1 16.9 1 -13.3 1 12.1 1 -11.1 1 10.7 1 -10.5 1 12.2 1 -19.4 1 17.3 1 -9.8 1 11 1 -10.3 1 10.4 1 -10.5 1 9.3 1 -8.8 1 9.3 1 -12.4 1 12 1 -9.6 1 12.3 1 -15.2 1 12.3 1 -9.1 1 8.9 1 -8.7 1 10.2 1 -11.7 1 11 1 -12.7 1 11.8 1 -11.5 1 13.2 1 -11.2 1 12.4 1 -16.2 1 14.3 1 -10.9 1 11.5 1 -12.4 1 11.6 1 -16.2 1 17.2 1 -13.6 1 12.2 1 -13 1 14 1 -12.3 1 12.4 1 -13.8 1 16.5 1 -14.4 1 11.6 1 -10.9 1 10.2 1 -12.4 1 13.7 1 -11.8 1 10.6 1 -10.7 1 11.1 1 -16.3 1 20.5 1 -19.8 1 16.8 1 -12.9 1 12.2 1 -18.9 1 19.1 1 -11.8 1 11.6 1 -14.5 1 14.8 1 -18.9 1 19.7 1 -15.9 1 14.3 1 -14.7 1 14.9 1 -12.9 1 13.5 1 -13.9 1 14.9 1 -14.1 1 15.2 1 -15 1 14.1 1 -17.2 1 16 1 -21.2 1 23.3 1 -15.6 1 14.2 1 -15.5 1 14.4 1 -14.3 1 16.4 1 -14.3 1 13.3 1 -16.5 1 17.2 1 -16.2 1 14.9 1 -14.6 1 14.9 1 -15.9 1 15.1 1 -18.5 1 22 1 -18.2 1 15 1 -13.8 1 13.7 1 -12.8 1 13 1 -14.5 1 17 1 -26 1 25.1 1 -15.7 1 16.2 1 -19.5 1 18 1 -12.7 1 11.5 1 -11.3 1 11.7 1 -16.5 1 20.3 1 -26.6 1 22.3 1 -18.6 1 21.2 1 -13.6 1 10.8 1 -15.1 1 15 1 -10.5 1 10.9 1 -11.9 1 11.6 1 -13.9 1 16.5 1 -23.7 1 21.3 1 -15 1 16.4 1 -12.8 1 11.1 1 -12.2 1 13.6 1 -12.3 1 12.7 1 -19.5 1 20.3 1 -13.7 1 10.9 1 -10.9 1 12.8 1 -14.6 1 14.4 1 -12.5 1 10.6 1 -13.6 1 14.2 1 -11.2 1 11.1 1 -10.7 1 12.7 1 -18.3 1 16.4 1 -13.2 1 12.5 1 -9.4 1 9.6 1 -9.7 1 10.4 1 -10.8 1 9.7 1 -13.5 1 14.5 1 -12.8 1 12.2 1 -17 1 16.8 1 -10.5 1 14 1 -14.6 1 10.8 1 -9.3 1 9.5 1 -11.3 1 11.1 1 -10.9 1 10.8 1 -9.5 1 10.1 1 -14.3 1 13.8 1 -12.3 1 12.9 1 -13.1 1 15.9 1 -13.2 1 11.4 1 -11.9 1 11.9 1 -11.6 1 10.8 1 -11.4 1 11.9 1 -11 1 12.6 1 -13.9 1 13 1 -15.3 1 17.5 1 -14.2 1 13 1 -13.6 1 12.2 1 -13.4 1 15.4 1 -18.6 1 16.7 1 -12.7 1 16.1 1 -17.5 1 15.4 1 -13.5 1 16.5 1 -16.9 1 12.8 1 -13.7 1 13.4 1 -13.7 1 14.5 1 -14.3 1 18 1 -29.5 1 25.2 1 -13.6 1 15.1 1 -15.5 1 14.4 1 -12.7 1 13.8 1 -18.9 1 17.3 1 -13.8 1 14.7 1 -17.5 1 17.1 1 -16 1 15.3 1 -15.7 1 15.6 1 -13 1 14.1 1 -13.1 1 11.7 1 -17 1 17.7 1 -12.8 1 12.4 1 -22.6 1 23.1 1 -14.7 1 14.1 1 -12.9 1 12.3 1 -14.4 1 18.8 1 -14.9 1 12.5 1 -12.4 1 14.9 1 -16.3 1 14.6 1 -13.8 1 14.5 1 -16.8 1 17.6 1 -17.6 1 13.4 1 -10.6 1 10.2 1 -12.9 1 13.2 1 -10.5 1 11.5 1 -11.1 1 10.8 1 -11.2 1 15.1 1 -15.1 1 11.6 1 -13.9 1 16 1 -13.7 1 10.7 1 -11.8 1 14.1 1 -16.8 1 14.6 1 -12 1 17 1 -17.5 1 12.9 1 -13 1 14.9 1 -14.1 1 13.1 1 -13.5 1 14.2 1 -16.1 1 14.7 1 -13.6 1 14.3 1 -15.7 1 15.1 1 -24.8 1 28.9 1 -17 1 12.8 1 -17.9 1 18.1 1 -17.7 1 20.7 1 -18.1 1 17.9 1 -17.2 1 17.3 1 -19.5 1 18.8 1 -15.8 1 13.5 1 -15.3 1 16.5 1 -22.5 1 23.3 1 -19.4 1 19.5 1 -20.4 1 20.7 1 -16 1 19.1 1 -17.7 1 13.1 1 -25.7 1 27.5 1 -17.5 1 14.8 1 -13 1 13.4 1 -15.9 1 16.8 1 -13.7 1 13.1 1 -21.6 1 20.7 1 -16.6 1 16.9 1 -12.8 1 13.7 1 -13.5 1 12.8 1 -18 1 18.7 1 -12.6 1 10.6 1 -12.1 1 13 1 -12.6 1 13.1 1 -21.8 1 24.1 1 -13.7 1 12.1 1 -12.7 1 11.8 1 -20.8 1 20.2 1 -18 1 17.3 1 -10 1 9.8 1 -10.2 1 10.4 1 -9.9 1 12.1 1 -11.7 1 9.6 1 -10.9 1 11.7 1 -11.8 1 10.9 1 -13.1 1 14.8 1 -13.6 1 12 1 -12.7 1 12.6 1 -9.4 1 8.7 1 -10.8 1 12.7 1 -11.2 1 10.5 1 -14.2 1 12.8 1 -14.1 1 14.7 1 -10.4 1 10.5 1 -10.3 1 11.1 1 -10.7 1 9.5 1 -9.5 1 9.6 1 -15.1 1 15 1 -8.6 1 10.4 1 -11.7 1 9.8 1 -12 1 14.9 1 -13.8 1 10.9 1 -10.4 1 11.7 1 -9.5 1 8.6 1 -12.2 1 12 1 -11.1 1 13 1 -12.1 1 10.8 1 -9.3 1 9.6 1 -11.1 1 9.8 1 -12.8 1 12.9 1 -8.5 1 8.1 1 -8.8 1 9.3 1 -8.3 1 8.5 1 -10 1 9.3 1 -9.1 1 9.2 1 -9.5 1 10.8 1 -11.8 1 10.4 1 -10.5 1 10.6 1 -8.6 1 10.3 1 -13.2 1 11.5 1 -10 1 10.4 1 -9.2 1 9.3 1 -16.5 1 16 1 -8 1 8 1 -8.1 1 8.7 1 -9.5 1 9.2 1 -16.3 1 16.4 1 -9.8 1 9.7 1 -9.2 1 8.9 1 -10.6 1 13.3 1 -11.3 1 9.8 1 -17.2 1 16.5 1 -15.8 1 15.5 1 -11.6 1 14.9 1 -11.8 1 8.5 1 -9.2 1 9.4 1 -9.5 1 10.2 1 -17.1 1 16.8 1 -10.8 1 9.9 1 -15.9 1 18.6 1 -10.7 1 9.2 1 -10.7 1 11.6 1 -10.4 1 8.4 1 -8.6 1 12.1 1 -13.9 1 11.3 1 -11.9 1 11 1 -8.3 1 8.6 1 -8.2 1 7.8 1 -15.9 1 16.4 1 -9.5 1 10.1 1 -10 1 9.5 1 -13.5 1 15.2 1 -12.2 1 10.2"/></g>
<path class="sig" stroke-width=".4" d="M84 670.7 84.3 671.3 84.5 670.7 84.8 671.5 85 670.4 85.3 671.5 85.5 670.5 85.8 671.5 86 670 86.3 671.9 86.5 670.2 86.8 671.7 87 669.9 87.3 671.6 87.5 669.6 87.8 672.6 88 669.7 88.3 673.1 88.5 668.7 88.8 672.4 89 668.8 89.3 672 89.6 669.4 89.8 673.9 90.1 668.7 90.3 675.4 90.6 667.7 90.8 674 91.1 665.8 91.3 674.4 91.6 668 91.8 675.4 92.1 668.7 92.3 676.4 92.6 668.4 92.8 674.9 93.1 663 93.3 676 93.6 663.8 93.8 674.8 94.1 665 94.3 678.5 94.6 664.8 94.9 679.5 95.1 667 95.4 676.5 95.6 664.4 95.9 680.4 96.1 660.6 96.4 681 96.6 660 96.9 682 97.1 660 97.4 675.3 97.6 661.5 97.9 675 98.1 664.6 98.4 676.5 98.6 667.8 98.9 679.7 99.1 661.8 99.4 675.6 99.7 663.6 99.9 679.8 100.2 663.4 100.4 675.9 100.7 667.8 100.9 674.2 101.2 669 101.4 676.4 101.7 665.7 101.9 674.3 102.2 665.7 102.4 675.7 102.7 666.2 102.9 674 103.2 668.3 103.4 674.2 103.7 669.6 103.9 674.1 104.2 669.3 104.4 673.8 104.7 669 105 672.3 105.2 669.1 105.5 672.9 105.7 669.9 106 672.1 106.2 669.8 106.5 671.9 106.7 669.5 107 671.5 107.2 670.4 107.5 671.4 107.7 670.4 108 671.7 108.2 670.7 108.5 671.7 108.7 670.6 109 671.2 109.2 670.7 109.5 671.4 109.7 670.8 110 671.1"/>
<path class="sig" stroke-width=".4" d="M107 670.6 107.3 671.4 107.5 670.6 107.8 671.3 108 670.5 108.3 671.5 108.5 670.5 108.8 671.3 109 670.4 109.3 671.6 109.5 670.2 109.8 671.4 110 670.4 110.3 672.4 110.5 670.2 110.8 671.6 111 669.6 111.3 672.1 111.5 668.5 111.8 672.4 112 668.5 112.3 673.9 112.6 668.3 112.8 674.3 113.1 667.1 113.3 673.9 113.6 668.7 113.8 674.5 114.1 666.5 114.3 676 114.6 666.1 114.8 674 115.1 666 115.3 675.3 115.6 666 115.8 675.3 116.1 666.9 116.3 674 116.6 663.5 116.8 678.6 117.1 663.4 117.3 678.3 117.6 665.1 117.9 674.7 118.1 663.8 118.4 673.8 118.6 666.8 118.9 680.9 119.1 663.4 119.4 677.2 119.6 660 119.9 682 120.1 660 120.4 679.9 120.6 665.6 120.9 675.7 121.1 664.8 121.4 676.4 121.6 663.4 121.9 673.8 122.1 663.1 122.4 676.8 122.7 664 122.9 673.9 123.2 668.1 123.4 674.9 123.7 667.2 123.9 676.4 124.2 667.1 124.4 676 124.7 668 124.9 674.1 125.2 665.6 125.4 673.3 125.7 666.3 125.9 672.6 126.2 668.8 126.4 675.7 126.7 667.9 126.9 674.7 127.2 667.8 127.4 674.5 127.7 669.4 128 673.7 128.2 669 128.5 671.9 128.7 670.2 129 672.9 129.2 669.3 129.5 672.8 129.7 669.4 130 671.4 130.2 670 130.5 671.4 130.7 670.1 131 671.7 131.2 670.5 131.5 671.6 131.7 670.8 132 671.2 132.2 670.5 132.5 671.4 132.7 670.8 133 671.2"/>
<path class="sig" stroke-width=".4" d="M200.5 670.7 200.8 671.4 201 670.7 201.3 672.3 201.5 670.1 201.8 673.2 202.1 668.7 202.3 675.4 202.6 667.2 202.8 673.9 203.1 666.5 203.4 677.2 203.6 666.3 203.9 679.8 204.1 663.1 204.4 683 204.7 663.1 204.9 675.1 205.2 665.5 205.4 677.8 205.7 667.6 206 673.2 206.2 667.9 206.5 675.3 206.7 669.9 207 672.4 207.3 670.1 207.5 671.6 207.8 670.6 208 671.6 208.3 670.7"/>
<path class="sig" stroke-width=".4" d="M217.1 670.4 217.4 671.7 217.6 669.7 217.9 672.1 218.1 668.5 218.4 673.3 218.7 667.9 218.9 675.1 219.2 665.1 219.4 679.8 219.7 662.9 220 676.1 220.2 658.8 220.5 688 220.7 655.2 221 690 221.3 655.2 221.5 678.5 221.8 662.1 222 678 222.3 664 222.6 679.5 222.8 663.6 223.1 674.6 223.3 666.9 223.6 673.9 223.9 669.9 224.1 671.8 224.4 670.4 224.6 671.5 224.9 670.7"/>
<path class="sig" stroke-width=".4" d="M324 670.7 324.3 671.4 324.5 670.7 324.8 671.1 325 670.5 325.3 671.4 325.5 670.4 325.8 671.8 326 670 326.3 671.8 326.5 669.8 326.8 672.1 327 670.2 327.3 672.4 327.5 669.7 327.8 671.7 328 669.2 328.3 673.3 328.5 669.4 328.8 673.1 329 669.8 329.3 674.1 329.6 668.1 329.8 674.5 330.1 669.1 330.3 672.3 330.6 668.7 330.8 675.5 331.1 667.9 331.3 673 331.6 668.4 331.8 675 332.1 668.2 332.3 676.6 332.6 665.8 332.8 674.5 333.1 663.6 333.3 678.5 333.6 667.4 333.8 676.7 334.1 667.1 334.3 675.4 334.6 666.2 334.9 676.3 335.1 661.1 335.4 676.4 335.6 661.8 335.9 676 336.1 661.4 336.4 678.5 336.6 660 336.9 682 337.1 660 337.4 681.7 337.6 665 337.9 676.3 338.1 666.7 338.4 679.5 338.6 666.1 338.9 678.5 339.1 668.1 339.4 677.9 339.7 665.9 339.9 675 340.2 663.9 340.4 676.2 340.7 663.1 340.9 674.4 341.2 663.5 341.4 674.4 341.7 667.5 341.9 677.1 342.2 666.8 342.4 676.1 342.7 665.6 342.9 674 343.2 668.8 343.4 675.4 343.7 668.6 343.9 672.5 344.2 669.3 344.4 672.9 344.7 669.5 345 672.4 345.2 668.2 345.5 673.5 345.7 668.9 346 673.1 346.2 669.9 346.5 671.9 346.7 669.5 347 672.3 347.2 670.5 347.5 671.5 347.7 670 348 671.8 348.2 670.7 348.5 671.5 348.7 670.5 349 671.1 349.2 670.7 349.5 671.4 349.7 670.7 350 671.1"/>
<path class="sig" stroke-width=".4" d="M356.6 670.2 356.9 671.3 357.1 670.4 357.4 671.7 357.6 669.6 357.9 671.3 358.1 669.6 358.4 671.6 358.6 669.5 358.9 672.1 359.1 668.9 359.4 672.6 359.6 667.6 359.9 674 360.2 667.9 360.4 672.6 360.7 665.9 360.9 676.2 361.2 664.1 361.4 677.5 361.7 667.5 361.9 676.2 362.2 660.8 362.4 676.2 362.7 658.6 362.9 678.5 363.2 656.7 363.4 677.7 363.7 664.3 364 685.8 364.2 657.2 364.5 686.4 364.7 662.1 365 683.5 365.2 653.5 365.5 678 365.7 662 366 681.7 366.2 662.4 366.5 683.5 366.7 648 367 691 367.3 648 367.5 680.8 367.8 664.2 368 677.8 368.3 651.9 368.5 681.6 368.8 653.6 369 680.3 369.3 651.5 369.5 681 369.8 661.7 370 676.2 370.3 666.5 370.6 682.6 370.8 662.3 371.1 682.6 371.3 660.7 371.6 677.5 371.8 665.3 372.1 674.6 372.3 665.7 372.6 675.4 372.8 663.5 373.1 676.2 373.3 667.9 373.6 673.7 373.8 668.9 374.1 674.3 374.4 667.9 374.6 673.4 374.9 670 375.1 672.9 375.4 669.8 375.6 672.8 375.9 670 376.1 672 376.4 670.5 376.6 671.9 376.9 670.1 377.1 671.6 377.4 670.5"/>
<path class="sig" stroke-width=".4" d="M483.5 670.7 483.8 671.4 484 669.5 484.3 672.5 484.6 668.9 484.8 674.4 485.1 665.9 485.4 675.5 485.7 667.9 485.9 676.1 486.2 656.8 486.5 681.9 486.7 656.1 487 673.9 487.3 659.7 487.5 674.9 487.8 664 488.1 673.3 488.4 666 488.6 672.3 488.9 669 489.2 671.7 489.4 670.6 489.7 671.1"/>
<path class="sig" stroke-width=".4" d="M561.1 670.5 561.4 671.6 561.6 670.4 561.9 671.3 562.1 670.1 562.4 671.8 562.6 670.1 562.9 671.6 563.1 669.6 563.4 672.8 563.6 669.1 563.9 672.2 564.1 668.8 564.4 674 564.7 669.3 564.9 674.3 565.2 667.5 565.4 672.7 565.7 667 565.9 674.6 566.2 666.1 566.4 677.5 566.7 665.8 566.9 674.6 567.2 668.2 567.4 673.8 567.7 668 567.9 680.4 568.2 663.7 568.5 681.5 568.7 660.7 569 680.2 569.2 659.1 569.5 681.6 569.7 663.7 570 682.3 570.2 656.7 570.5 675 570.7 666.5 571 676.8 571.2 655 571.5 687 571.8 655 572 685.9 572.3 665.6 572.5 674.9 572.8 659.3 573 684.8 573.3 665 573.5 682.7 573.8 664.6 574 675.9 574.3 665.5 574.5 677.3 574.8 666.5 575.1 680.3 575.3 661.5 575.6 680.2 575.8 667.8 576.1 673.9 576.3 664 576.6 677.7 576.8 666 577.1 675.4 577.3 669.4 577.6 675.4 577.8 668.7 578.1 674.1 578.3 667.8 578.6 672.6 578.9 668 579.1 672.6 579.4 669.1 579.6 672.3 579.9 670.4 580.1 672 580.4 670 580.6 671.8 580.9 670 581.1 671.6 581.4 670.3 581.6 671.4 581.9 670.5"/>
<path class="sig" stroke-width=".4" d="M579 670.7 579.3 671.2 579.5 670.5 579.8 671.6 580 670 580.3 671.4 580.5 670.2 580.8 671.5 581 669.6 581.3 672.4 581.5 669 581.8 672.9 582 669.5 582.3 673.1 582.5 668.1 582.8 671.8 583 668.7 583.3 674.1 583.5 668.4 583.8 675 584 667 584.3 675.5 584.6 668.1 584.8 673 585.1 667.8 585.3 673.2 585.6 663 585.8 678.6 586.1 663.6 586.3 677 586.6 661.9 586.8 676.4 587.1 660.6 587.3 680.3 587.6 660.4 587.8 680.5 588.1 667.2 588.3 680.5 588.6 657.5 588.8 678.4 589.1 658.9 589.3 682.2 589.6 657.7 589.9 685.5 590.1 661.8 590.4 687 590.6 654.4 590.9 678.9 591.1 665.2 591.4 680 591.6 652 591.9 688 592.1 652 592.4 687.4 592.6 658.8 592.9 685.3 593.1 654.1 593.4 677 593.6 659.1 593.9 682.1 594.1 655.8 594.4 676.1 594.7 655.7 594.9 679.4 595.2 657.3 595.4 679.4 595.7 664.7 595.9 677.4 596.2 667 596.4 681.8 596.7 662.7 596.9 678.5 597.2 665.6 597.4 679.6 597.7 665.5 597.9 673.5 598.2 663.3 598.4 677.5 598.7 665.2 598.9 674.5 599.2 665.3 599.4 675.3 599.7 669 600 675.4 600.2 667.9 600.5 672.5 600.7 668 601 671.9 601.2 668.4 601.5 672.4 601.7 669.3 602 672.5 602.2 670 602.5 672.5 602.7 669.9 603 672.1 603.2 670.3 603.5 671.7 603.7 670.5 604 671.7 604.2 670.5 604.5 671.3 604.7 670.3 605 671.3"/>
<path class="sig" stroke-width=".4" d="M601.2 670.7 601.5 671.3 601.7 670 602 671.5 602.2 669.5 602.5 672.7 602.7 670.4 603 672.6 603.2 670 603.5 674.2 603.8 669.3 604 673.3 604.3 669.2 604.5 676.9 604.8 667 605 678.2 605.3 664.8 605.5 675.3 605.8 660.5 606.1 680.7 606.3 659.7 606.6 685.2 606.8 656.8 607.1 677.3 607.3 658.9 607.6 685.7 607.8 655.9 608.1 679 608.4 656.9 608.6 692.8 608.9 651 609.1 692.9 609.4 657.6 609.6 678 609.9 665.1 610.2 690.8 610.4 654.9 610.7 687 610.9 661.8 611.2 687.6 611.4 658.2 611.7 681.6 611.9 665 612.2 677.9 612.5 667.7 612.7 675.9 613 664.3 613.2 677.4 613.5 667.3 613.7 675.8 614 667 614.2 674.5 614.5 669.6 614.8 672 615 668.8 615.3 672.8 615.5 669.2 615.8 671.5 616 670.1 616.3 672 616.5 670.2 616.8 671.6"/>
<path class="sig" stroke-width=".4" d="M611.1 670.4 611.4 671.8 611.6 670.2 611.9 671.6 612.1 670.1 612.4 671.6 612.6 669.3 612.9 671.8 613.1 669.5 613.4 672.5 613.6 669.1 613.9 674.7 614.1 668.6 614.4 673.6 614.7 667.8 614.9 676.3 615.2 665.4 615.4 678.4 615.7 665.1 615.9 677.3 616.2 663.2 616.4 680.6 616.7 664.6 616.9 679.7 617.2 667.5 617.4 677.1 617.7 658.9 617.9 685.3 618.2 658.1 618.5 686.5 618.7 665.2 619 682.4 619.2 657.2 619.5 687.6 619.7 659.6 620 681.7 620.2 654.2 620.5 690.8 620.7 660.2 621 678.2 621.2 649 621.5 695 621.8 649 622 677.6 622.3 664.5 622.5 692.1 622.8 654.2 623 682.8 623.3 659.3 623.5 677.9 623.8 665.8 624 685.6 624.3 665.9 624.5 687.6 624.8 662.6 625.1 678.1 625.3 663.6 625.6 680.1 625.8 661.9 626.1 679.2 626.3 666.3 626.6 675.7 626.8 668.2 627.1 677.8 627.3 666.1 627.6 673.8 627.8 668.3 628.1 673.5 628.3 667.2 628.6 675.6 628.9 667.5 629.1 673.8 629.4 668.1 629.6 673.4 629.9 668.6 630.1 672.5 630.4 669.8 630.6 672.5 630.9 670.4 631.1 671.9 631.4 670 631.6 671.9 631.9 670.5"/>
<path class="spk" d="M214.8 625.2V810.2"/>
<path class="spk" d="M363.8 662.2V714.2"/>
<path class="spk" d="M419.6 649.2V772.8"/>
<path class="spk" d="M426.6 664.2V696.7"/>
<path class="spk" d="M440.6 658.2V711.2"/>
<path class="spk" d="M466.2 660.2V704.2"/>
<path class="spk" d="M607.8 629.2V699.2"/>
<path class="spk" d="M215.4 631.2V747.2"/>
</g>
<rect x="836.5" y="46.1" width="603" height="204.5" fill="#00008f"/>
<g clip-path="url(#cl0)">
<g transform="translate(890.9 225.5) skewX(1.5)"><path d="M-2.4 0A2.4 48.2 0 0 0 2.4 0Z" fill="url(#q8b)"/><path d="M-2.4 .6V0A2.4 73.6 0 0 1 2.4 0V.6Z" fill="url(#q8t)"/></g>
<g transform="translate(895.5 205.2)"><path d="M-1.5 0A1.5 35.6 0 0 0 1.5 0Z" fill="url(#q2b)"/><path d="M-1.5 .6V0A1.5 43.2 0 0 1 1.5 0V.6Z" fill="url(#q2t)"/></g>
<g transform="translate(905.4 217.9)"><path d="M-1.5 0A1.5 63.5 0 0 0 1.5 0Z" fill="url(#q3b)"/><path d="M-1.5 .6V0A1.5 94 0 0 1 1.5 0V.6Z" fill="url(#q3t)"/></g>
<g transform="translate(908.7 217.9)"><path d="M-1.4 0A1.4 63.5 0 0 0 1.4 0Z" fill="url(#q2b)"/><path d="M-1.4 .6V0A1.4 81.3 0 0 1 1.4 0V.6Z" fill="url(#q2t)"/></g>
<g transform="translate(915.8 243.2)"><path d="M-2.2 0A2.2 50.8 0 0 0 2.2 0Z" fill="url(#q10b)"/><path d="M-2.2 .6V0A2.2 101.6 0 0 1 2.2 0V.6Z" fill="url(#q10t)"/></g>
<g transform="translate(978.6 162)"><path d="M-1.6 0A1.6 30.5 0 0 0 1.6 0Z" fill="url(#q3b)"/><path d="M-1.6 .6V0A1.6 35.6 0 0 1 1.6 0V.6Z" fill="url(#q3t)"/></g>
<g transform="translate(986.9 154.4)"><path d="M-1.8 0A1.8 30.5 0 0 0 1.8 0Z" fill="url(#q4b)"/><path d="M-1.8 .6V0A1.8 27.9 0 0 1 1.8 0V.6Z" fill="url(#q4t)"/></g>
<g transform="translate(994.6 172.1)"><path d="M-1.8 0A1.8 45.7 0 0 0 1.8 0Z" fill="url(#q6b)"/><path d="M-1.8 .6V0A1.8 50.8 0 0 1 1.8 0V.6Z" fill="url(#q6t)"/></g>
<g transform="translate(1006 172.1)"><path d="M-2.2 0A2.2 50.8 0 0 0 2.2 0Z" fill="url(#q8b)"/><path d="M-2.2 .6V0A2.2 40.6 0 0 1 2.2 0V.6Z" fill="url(#q8t)"/></g>
<g transform="translate(1011.1 162)"><path d="M-2.3 0A2.3 83.8 0 0 0 2.3 0Z" fill="url(#q20b)"/><path d="M-2.3 .6V0A2.3 66 0 0 1 2.3 0V.6Z" fill="url(#q20t)"/></g>
<g transform="translate(1031.4 182.3)"><path d="M-1.5 0A1.5 35.6 0 0 0 1.5 0Z" fill="url(#q3b)"/><path d="M-1.5 .6V0A1.5 35.6 0 0 1 1.5 0V.6Z" fill="url(#q3t)"/></g>
<g transform="translate(1045.7 162)"><path d="M-1.4 0A1.4 20.3 0 0 0 1.4 0Z" fill="url(#q2b)"/><path d="M-1.4 .6V0A1.4 20.3 0 0 1 1.4 0V.6Z" fill="url(#q2t)"/></g>
<g transform="translate(1066.8 205.2)"><path d="M-1.4 0A1.4 63.5 0 0 0 1.4 0Z" fill="url(#q2b)"/><path d="M-1.4 .6V0A1.4 68.6 0 0 1 1.4 0V.6Z" fill="url(#q2t)"/></g>
<g transform="translate(1072.7 217.9)"><path d="M-1.5 0A1.5 63.5 0 0 0 1.5 0Z" fill="url(#q3b)"/><path d="M-1.5 .6V0A1.5 76.2 0 0 1 1.5 0V.6Z" fill="url(#q3t)"/></g>
<g transform="translate(1096.5 172.1)"><path d="M-1.8 0A1.8 96.5 0 0 0 1.8 0Z" fill="url(#q5b)"/><path d="M-1.8 .6V0A1.8 73.6 0 0 1 1.8 0V.6Z" fill="url(#q5t)"/></g>
<g transform="translate(1108.7 192.5)"><path d="M-1.3 0A1.3 25.4 0 0 0 1.3 0Z" fill="url(#q1b)"/><path d="M-1.3 .6V0A1.3 30.5 0 0 1 1.3 0V.6Z" fill="url(#q1t)"/></g>
<g transform="translate(1126 197.5)"><path d="M-1.8 0A1.8 71.1 0 0 0 1.8 0Z" fill="url(#q8b)"/><path d="M-1.8 .6V0A1.8 81.3 0 0 1 1.8 0V.6Z" fill="url(#q8t)"/></g>
<g transform="translate(1141 222.9)"><path d="M-3 0A3 45.7 0 0 0 3 0Z" fill="url(#q9b)"/><path d="M-3 .6V0A3 81.3 0 0 1 3 0V.6Z" fill="url(#q9t)"/></g>
<g transform="translate(1154.4 169.6)"><path d="M-2.9 0A2.9 88.9 0 0 0 2.9 0Z" fill="url(#q20b)"/><path d="M-2.9 .6V0A2.9 66 0 0 1 2.9 0V.6Z" fill="url(#q20t)"/></g>
<g transform="translate(1154.9 243.2)"><path d="M-2.2 0A2.2 50.8 0 0 0 2.2 0Z" fill="url(#q10b)"/><path d="M-2.2 .6V0A2.2 50.8 0 0 1 2.2 0V.6Z" fill="url(#q10t)"/></g>
<g transform="translate(1163.1 230.6) skewX(1.4)"><path d="M-2.6 0A2.6 50.8 0 0 0 2.6 0Z" fill="url(#q14b)"/><path d="M-2.6 .6V0A2.6 106.7 0 0 1 2.6 0V.6Z" fill="url(#q14t)"/></g>
<g transform="translate(1167.9 243.2)"><path d="M-2.2 0A2.2 38.1 0 0 0 2.2 0Z" fill="url(#q7b)"/><path d="M-2.2 .6V0A2.2 45.7 0 0 1 2.2 0V.6Z" fill="url(#q7t)"/></g>
<g transform="translate(1185.4 154.4)"><path d="M-1.4 0A1.4 58.4 0 0 0 1.4 0Z" fill="url(#q2b)"/><path d="M-1.4 .6V0A1.4 55.9 0 0 1 1.4 0V.6Z" fill="url(#q2t)"/></g>
<g transform="translate(1211.6 243.2)"><path d="M-2.5 0A2.5 38.1 0 0 0 2.5 0Z" fill="url(#q5b)"/><path d="M-2.5 .6V0A2.5 50.8 0 0 1 2.5 0V.6Z" fill="url(#q5t)"/></g>
<g transform="translate(1214.6 217.9)"><path d="M-1.4 0A1.4 50.8 0 0 0 1.4 0Z" fill="url(#q2b)"/><path d="M-1.4 .6V0A1.4 60.9 0 0 1 1.4 0V.6Z" fill="url(#q2t)"/></g>
<g transform="translate(1259.6 217.9)"><path d="M-1.8 0A1.8 63.5 0 0 0 1.8 0Z" fill="url(#q5b)"/><path d="M-1.8 .6V0A1.8 81.3 0 0 1 1.8 0V.6Z" fill="url(#q5t)"/></g>
<g transform="translate(1271.8 207.7)"><path d="M-2.2 0A2.2 60.9 0 0 0 2.2 0Z" fill="url(#q12b)"/><path d="M-2.2 .6V0A2.2 76.2 0 0 1 2.2 0V.6Z" fill="url(#q12t)"/></g>
<g transform="translate(1282.5 212.8)"><path d="M-1.6 0A1.6 25.4 0 0 0 1.6 0Z" fill="url(#q3b)"/><path d="M-1.6 .6V0A1.6 30.5 0 0 1 1.6 0V.6Z" fill="url(#q3t)"/></g>
<g transform="translate(1351.3 250.9)"><path d="M-2 0A2 43.2 0 0 0 2 0Z" fill="url(#q8b)"/><path d="M-2 .6V0A2 127 0 0 1 2 0V.6Z" fill="url(#q8t)"/></g>
<g transform="translate(1357.7 141.7)"><path d="M-1.7 0A1.7 60.9 0 0 0 1.7 0Z" fill="url(#q14b)"/><path d="M-1.7 .6V0A1.7 94 0 0 1 1.7 0V.6Z" fill="url(#q14t)"/></g>
<g transform="translate(1355.6 253.4)"><path d="M-3 0A3 40.6 0 0 0 3 0Z" fill="url(#q18b)"/><path d="M-3 .6V0A3 76.2 0 0 1 3 0V.6Z" fill="url(#q18t)"/></g>
<g transform="translate(1372.9 141.7)"><path d="M-1.5 0A1.5 55.9 0 0 0 1.5 0Z" fill="url(#q7b)"/><path d="M-1.5 .6V0A1.5 91.4 0 0 1 1.5 0V.6Z" fill="url(#q7t)"/></g>
<g transform="translate(1369.6 192.5)"><path d="M-1.5 0A1.5 50.8 0 0 0 1.5 0Z" fill="url(#q7b)"/><path d="M-1.5 .6V0A1.5 40.6 0 0 1 1.5 0V.6Z" fill="url(#q7t)"/></g>
<g transform="translate(1372.1 240.7)"><path d="M-3.1 0A3.1 53.3 0 0 0 3.1 0Z" fill="url(#q21b)"/><path d="M-3.1 .6V0A3.1 81.3 0 0 1 3.1 0V.6Z" fill="url(#q21t)"/></g>
<g transform="translate(1379.7 217.9)"><path d="M-2.8 0A2.8 63.5 0 0 0 2.8 0Z" fill="url(#q18b)"/><path d="M-2.8 .6V0A2.8 101.6 0 0 1 2.8 0V.6Z" fill="url(#q18t)"/></g>
<g transform="translate(1390.4 243.2)"><path d="M-3 0A3 50.8 0 0 0 3 0Z" fill="url(#q24b)"/><path d="M-3 .6V0A3 172.7 0 0 1 3 0V.6Z" fill="url(#q24t)"/></g>
<g transform="translate(1395.5 192.5)"><path d="M-2.5 0A2.5 48.2 0 0 0 2.5 0Z" fill="url(#q14b)"/><path d="M-2.5 .6V0A2.5 68.6 0 0 1 2.5 0V.6Z" fill="url(#q14t)"/></g>
<g transform="translate(1401.3 207.7)"><path d="M-2.8 0A2.8 73.6 0 0 0 2.8 0Z" fill="url(#q22b)"/><path d="M-2.8 .6V0A2.8 121.9 0 0 1 2.8 0V.6Z" fill="url(#q22t)"/></g>
<g transform="translate(1407.7 215.3)"><path d="M-2.8 0A2.8 66 0 0 0 2.8 0Z" fill="url(#q10b)"/><path d="M-2.8 .6V0A2.8 83.8 0 0 1 2.8 0V.6Z" fill="url(#q10t)"/></g>
<linearGradient id="L0_247" x1="0" y1="0" x2="0" y2="1"><stop offset="0.000" stop-color="#0006ff" stop-opacity="1.00"/><stop offset="0.535" stop-color="#0000e3" stop-opacity="0.83"/><stop offset="1.000" stop-color="#00008f" stop-opacity="0.00"/></linearGradient>
<rect x="1000" y="46.1" width="1.2" height="60" fill="url(#L0_247)"/>
<linearGradient id="L0_249" x1="0" y1="0" x2="0" y2="1"><stop offset="0.000" stop-color="#009cff" stop-opacity="1.00"/><stop offset="0.664" stop-color="#007bff" stop-opacity="1.00"/><stop offset="0.856" stop-color="#0038ff" stop-opacity="1.00"/><stop offset="1.000" stop-color="#00008f" stop-opacity="0.00"/></linearGradient>
<rect x="1004.4" y="46.1" width="1.2" height="105.7" fill="url(#L0_249)"/>
<linearGradient id="L0_251" x1="0" y1="0" x2="0" y2="1"><stop offset="0.000" stop-color="#0016ff" stop-opacity="1.00"/><stop offset="0.535" stop-color="#0006ff" stop-opacity="1.00"/><stop offset="1.000" stop-color="#00008f" stop-opacity="0.00"/></linearGradient>
<rect x="1008.9" y="46.1" width="1.2" height="60" fill="url(#L0_251)"/>
<linearGradient id="L0_253" x1="0" y1="0" x2="0" y2="1"><stop offset="0.000" stop-color="#008bff" stop-opacity="1.00"/><stop offset="0.736" stop-color="#006aff" stop-opacity="1.00"/><stop offset="0.904" stop-color="#0016ff" stop-opacity="1.00"/><stop offset="1.000" stop-color="#00008f" stop-opacity="0.00"/></linearGradient>
<rect x="1150.6" y="46.1" width="1.1" height="105.7" fill="url(#L0_253)"/>
<linearGradient id="L0_255" x1="0" y1="0" x2="0" y2="1"><stop offset="0.000" stop-color="#0016ff" stop-opacity="1.00"/><stop offset="0.580" stop-color="#0000f4" stop-opacity="1.00"/><stop offset="1.000" stop-color="#00008f" stop-opacity="0.00"/></linearGradient>
<rect x="1205.4" y="46.1" width="1.2" height="121" fill="url(#L0_255)"/>
<linearGradient id="L0_257" x1="0" y1="0" x2="0" y2="1"><stop offset="0.000" stop-color="#00adff" stop-opacity="1.00"/><stop offset="0.506" stop-color="#006aff" stop-opacity="1.00"/><stop offset="0.835" stop-color="#0006ff" stop-opacity="1.00"/><stop offset="1.000" stop-color="#00008f" stop-opacity="0.00"/></linearGradient>
<rect x="1225.7" y="46.1" width="1.1" height="138.7" fill="url(#L0_257)"/>
<linearGradient id="L0_259" x1="0" y1="0" x2="0" y2="1"><stop offset="0.000" stop-color="#02fffd" stop-opacity="1.00"/><stop offset="0.227" stop-color="#45ffba" stop-opacity="1.00"/><stop offset="0.435" stop-color="#dbff24" stop-opacity="1.00"/><stop offset="0.643" stop-color="#ff9d00" stop-opacity="1.00"/><stop offset="0.822" stop-color="#ff4900" stop-opacity="0.70"/><stop offset="1.000" stop-color="#ff0600" stop-opacity="0.00"/></linearGradient>
<rect x="1389.7" y="46.1" width="1.4" height="85.4" fill="url(#L0_259)"/>
</g>
<text x="832.6" y="52.5" text-anchor="end">22</text>
<text x="832.6" y="69.1" text-anchor="end">20</text>
<text x="832.6" y="87.5" text-anchor="end">18</text>
<text x="832.6" y="108.1" text-anchor="end">16</text>
<text x="832.6" y="131.4" text-anchor="end">14</text>
<text x="832.6" y="158.3" text-anchor="end">12</text>
<text x="832.6" y="190.1" text-anchor="end">10</text>
<text x="832.6" y="208.5" text-anchor="end">9</text>
<text x="832.6" y="229.1" text-anchor="end">8</text>
<text x="832.6" y="252.4" text-anchor="end">7</text>
<path class="tkd" d="M911.9 250.6v-6M911.9 46.1v6M987.2 250.6v-6M987.2 46.1v6M1062.6 250.6v-6M1062.6 46.1v6M1138 250.6v-6M1138 46.1v6M1213.4 250.6v-6M1213.4 46.1v6M1288.8 250.6v-6M1288.8 46.1v6M1364.1 250.6v-6M1364.1 46.1v6M836.5 48.2h6M1439.5 48.2h-6M836.5 64.8h6M1439.5 64.8h-6M836.5 83.2h6M1439.5 83.2h-6M836.5 103.8h6M1439.5 103.8h-6M836.5 127.1h6M1439.5 127.1h-6M836.5 154h6M1439.5 154h-6M836.5 185.8h6M1439.5 185.8h-6M836.5 204.2h6M1439.5 204.2h-6M836.5 224.8h6M1439.5 224.8h-6M836.5 248.1h6M1439.5 248.1h-6"/>
<text x="836.5" y="265" text-anchor="middle">00:00</text>
<text x="911.9" y="265" text-anchor="middle">03:00</text>
<text x="987.2" y="265" text-anchor="middle">06:00</text>
<text x="1062.6" y="265" text-anchor="middle">09:00</text>
<text x="1138" y="265" text-anchor="middle">12:00</text>
<text x="1213.4" y="265" text-anchor="middle">15:00</text>
<text x="1288.8" y="265" text-anchor="middle">18:00</text>
<text x="1364.1" y="265" text-anchor="middle">21:00</text>
<text x="1439.5" y="265" text-anchor="middle">00:00</text>
<text x="809.1" y="148.3" text-anchor="middle" font-weight="bold" font-size="12.4" transform="rotate(-90 809.1 148.3)">freq (mHz)</text>
<rect x="1458" y="46.1" width="26" height="204.5" fill="url(#cb)"/>
<rect x="1458.5" y="46.6" width="25" height="203.5" fill="none" stroke="#5a3a30" stroke-opacity=".55" stroke-width="1"/>
<text x="1486.7" y="50.1" text-anchor="start">4</text>
<text x="1486.7" y="84.2" text-anchor="start">3</text>
<text x="1486.7" y="118.3" text-anchor="start">2</text>
<text x="1486.7" y="152.4" text-anchor="start">1</text>
<text x="1486.7" y="186.4" text-anchor="start">0</text>
<text x="1486.7" y="220.5" text-anchor="start">-1</text>
<text x="1486.7" y="254.6" text-anchor="start">-2</text>
<path class="tkd" d="M1458 80.2h3M1484 80.2h-3M1458 114.3h3M1484 114.3h-3M1458 148.4h3M1484 148.4h-3M1458 182.4h3M1484 182.4h-3M1458 216.5h3M1484 216.5h-3"/>
<text x="1518.4" y="148.3" text-anchor="middle" font-weight="bold" font-size="12.4" transform="rotate(-90 1518.4 148.3)">log<tspan dy="6" font-size="10">2</tspan><tspan dy="-6">(nT</tspan><tspan dy="-5.2" font-size="10">2</tspan><tspan dy="5.2">/Hz)</tspan></text>
<rect x="836.5" y="329.9" width="603" height="204.5" fill="#00008f"/>
<g clip-path="url(#cl1)">
<g transform="translate(891.2 527) skewX(1.1)"><path d="M-2 0A2 38.1 0 0 0 2 0Z" fill="url(#q5b)"/><path d="M-2 .6V0A2 68.6 0 0 1 2 0V.6Z" fill="url(#q5t)"/></g>
<g transform="translate(895.5 481.3)"><path d="M-1.4 0A1.4 20.3 0 0 0 1.4 0Z" fill="url(#q2b)"/><path d="M-1.4 .6V0A1.4 22.9 0 0 1 1.4 0V.6Z" fill="url(#q2t)"/></g>
<g transform="translate(915.8 532.1)"><path d="M-2 0A2 45.7 0 0 0 2 0Z" fill="url(#q7b)"/><path d="M-2 .6V0A2 83.8 0 0 1 2 0V.6Z" fill="url(#q7t)"/></g>
<g transform="translate(908.7 534.7)"><path d="M-1.4 0A1.4 30.5 0 0 0 1.4 0Z" fill="url(#q2b)"/><path d="M-1.4 .6V0A1.4 17.8 0 0 1 1.4 0V.6Z" fill="url(#q2t)"/></g>
<g transform="translate(978.6 438.2)"><path d="M-1.6 0A1.6 48.2 0 0 0 1.6 0Z" fill="url(#q4b)"/><path d="M-1.6 .6V0A1.6 35.6 0 0 1 1.6 0V.6Z" fill="url(#q4t)"/></g>
<g transform="translate(987.4 433.1)"><path d="M-1.8 0A1.8 33 0 0 0 1.8 0Z" fill="url(#q5b)"/><path d="M-1.8 .6V0A1.8 33 0 0 1 1.8 0V.6Z" fill="url(#q5t)"/></g>
<g transform="translate(994.6 466.1)"><path d="M-1.8 0A1.8 60.9 0 0 0 1.8 0Z" fill="url(#q9b)"/><path d="M-1.8 .6V0A1.8 66 0 0 1 1.8 0V.6Z" fill="url(#q9t)"/></g>
<g transform="translate(1007 527)"><path d="M-2 0A2 38.1 0 0 0 2 0Z" fill="url(#q8b)"/><path d="M-2 .6V0A2 40.6 0 0 1 2 0V.6Z" fill="url(#q8t)"/></g>
<g transform="translate(1011.6 455.9)"><path d="M-1.8 0A1.8 68.6 0 0 0 1.8 0Z" fill="url(#q19b)"/><path d="M-1.8 .6V0A1.8 81.3 0 0 1 1.8 0V.6Z" fill="url(#q19t)"/></g>
<g transform="translate(1006.2 443.2) skewX(0.6)"><path d="M-2.1 0A2.1 58.4 0 0 0 2.1 0Z" fill="url(#q21b)"/><path d="M-2.1 .6V0A2.1 50.8 0 0 1 2.1 0V.6Z" fill="url(#q21t)"/></g>
<g transform="translate(1141 527)"><path d="M-2 0A2 38.1 0 0 0 2 0Z" fill="url(#q9b)"/><path d="M-2 .6V0A2 76.2 0 0 1 2 0V.6Z" fill="url(#q9t)"/></g>
<g transform="translate(1154.4 450.9)"><path d="M-2.5 0A2.5 101.6 0 0 0 2.5 0Z" fill="url(#q10b)"/><path d="M-2.5 .6V0A2.5 45.7 0 0 1 2.5 0V.6Z" fill="url(#q10t)"/></g>
<g transform="translate(1155.7 534.7)"><path d="M-2 0A2 30.5 0 0 0 2 0Z" fill="url(#q6b)"/><path d="M-2 .6V0A2 33 0 0 1 2 0V.6Z" fill="url(#q6t)"/></g>
<g transform="translate(1161.5 466.1)"><path d="M-1.5 0A1.5 30.5 0 0 0 1.5 0Z" fill="url(#q3b)"/><path d="M-1.5 .6V0A1.5 33 0 0 1 1.5 0V.6Z" fill="url(#q3t)"/></g>
<g transform="translate(1212.8 445.8)"><path d="M-1.3 0A1.3 50.8 0 0 0 1.3 0Z" fill="url(#q2b)"/><path d="M-1.3 .6V0A1.3 55.9 0 0 1 1.3 0V.6Z" fill="url(#q2t)"/></g>
<g transform="translate(1249 471.2)"><path d="M-1.3 0A1.3 30.5 0 0 0 1.3 0Z" fill="url(#q2b)"/><path d="M-1.3 .6V0A1.3 33 0 0 1 1.3 0V.6Z" fill="url(#q2t)"/></g>
<g transform="translate(1271.8 522)"><path d="M-1.7 0A1.7 43.2 0 0 0 1.7 0Z" fill="url(#q5b)"/><path d="M-1.7 .6V0A1.7 53.3 0 0 1 1.7 0V.6Z" fill="url(#q5t)"/></g>
<g transform="translate(1372.1 534.7)"><path d="M-3.2 0A3.2 43.2 0 0 0 3.2 0Z" fill="url(#q9b)"/><path d="M-3.2 .6V0A3.2 58.4 0 0 1 3.2 0V.6Z" fill="url(#q9t)"/></g>
<g transform="translate(1380.3 527)"><path d="M-2 0A2 38.1 0 0 0 2 0Z" fill="url(#q6b)"/><path d="M-2 .6V0A2 50.8 0 0 1 2 0V.6Z" fill="url(#q6t)"/></g>
<g transform="translate(1390.4 466.1)"><path d="M-1.3 0A1.3 48.2 0 0 0 1.3 0Z" fill="url(#q5b)"/><path d="M-1.3 .6V0A1.3 71.1 0 0 1 1.3 0V.6Z" fill="url(#q5t)"/></g>
<g transform="translate(1390.4 535.9)"><path d="M-2.6 0A2.6 41.9 0 0 0 2.6 0Z" fill="url(#q22b)"/><path d="M-2.6 .6V0A2.6 69.8 0 0 1 2.6 0V.6Z" fill="url(#q22t)"/></g>
<g transform="translate(1395 516.9)"><path d="M-2.5 0A2.5 48.2 0 0 0 2.5 0Z" fill="url(#q7b)"/><path d="M-2.5 .6V0A2.5 55.9 0 0 1 2.5 0V.6Z" fill="url(#q7t)"/></g>
<g transform="translate(1401.8 522)"><path d="M-1.8 0A1.8 43.2 0 0 0 1.8 0Z" fill="url(#q5b)"/><path d="M-1.8 .6V0A1.8 48.2 0 0 1 1.8 0V.6Z" fill="url(#q5t)"/></g>
<linearGradient id="L1_319" x1="0" y1="0" x2="0" y2="1"><stop offset="0.000" stop-color="#0000d2" stop-opacity="0.67"/><stop offset="0.694" stop-color="#0000c2" stop-opacity="0.50"/><stop offset="1.000" stop-color="#00008f" stop-opacity="0.00"/></linearGradient>
<rect x="999.9" y="329.9" width="1.4" height="82.9" fill="url(#L1_319)"/>
<linearGradient id="R1_321" x1="0" y1="0" x2="0" y2="1"><stop offset="0.000" stop-color="#823c87" stop-opacity="1.00"/><stop offset="0.577" stop-color="#8a4080" stop-opacity="1.00"/><stop offset="0.795" stop-color="#a04060" stop-opacity="1.00"/><stop offset="1.000" stop-color="#c04030" stop-opacity="0.00"/></linearGradient>
<rect x="1004" y="329.9" width="1" height="78" fill="url(#R1_321)"/>
<linearGradient id="R1_323" x1="0" y1="0" x2="0" y2="1"><stop offset="0.000" stop-color="#647896" stop-opacity="1.00"/><stop offset="0.577" stop-color="#6a8090" stop-opacity="1.00"/><stop offset="0.795" stop-color="#60a0a0" stop-opacity="1.00"/><stop offset="1.000" stop-color="#40c0c0" stop-opacity="0.00"/></linearGradient>
<rect x="1005" y="329.9" width="1" height="78" fill="url(#R1_323)"/>
<linearGradient id="L1_325" x1="0" y1="0" x2="0" y2="1"><stop offset="0.000" stop-color="#00a5ff" stop-opacity="1.00"/><stop offset="0.406" stop-color="#008bff" stop-opacity="1.00"/><stop offset="0.531" stop-color="#0006ff" stop-opacity="1.00"/><stop offset="1.000" stop-color="#0000c2" stop-opacity="0.50"/></linearGradient>
<rect x="1150.6" y="329.9" width="1.1" height="204" fill="url(#L1_325)"/>
<linearGradient id="L1_327" x1="0" y1="0" x2="0" y2="1"><stop offset="0.000" stop-color="#0006ff" stop-opacity="1.00"/><stop offset="0.517" stop-color="#0000e3" stop-opacity="0.83"/><stop offset="1.000" stop-color="#00008f" stop-opacity="0.00"/></linearGradient>
<rect x="1205.4" y="329.9" width="1.2" height="47.3" fill="url(#L1_327)"/>
<linearGradient id="L1_329" x1="0" y1="0" x2="0" y2="1"><stop offset="0.000" stop-color="#00a5ff" stop-opacity="1.00"/><stop offset="0.725" stop-color="#007bff" stop-opacity="1.00"/><stop offset="0.872" stop-color="#0016ff" stop-opacity="1.00"/><stop offset="1.000" stop-color="#00008f" stop-opacity="0.00"/></linearGradient>
<rect x="1225.7" y="329.9" width="1.1" height="138.7" fill="url(#L1_329)"/>
<linearGradient id="L1_331" x1="0" y1="0" x2="0" y2="1"><stop offset="0.000" stop-color="#0000d2" stop-opacity="0.67"/><stop offset="0.694" stop-color="#0000c2" stop-opacity="0.50"/><stop offset="1.000" stop-color="#00008f" stop-opacity="0.00"/></linearGradient>
<rect x="1250.9" y="329.9" width="1.2" height="82.9" fill="url(#L1_331)"/>
</g>
<text x="832.6" y="336.3" text-anchor="end">22</text>
<text x="832.6" y="352.9" text-anchor="end">20</text>
<text x="832.6" y="371.3" text-anchor="end">18</text>
<text x="832.6" y="391.9" text-anchor="end">16</text>
<text x="832.6" y="415.2" text-anchor="end">14</text>
<text x="832.6" y="442.1" text-anchor="end">12</text>
<text x="832.6" y="473.9" text-anchor="end">10</text>
<text x="832.6" y="492.3" text-anchor="end">9</text>
<text x="832.6" y="512.9" text-anchor="end">8</text>
<text x="832.6" y="536.2" text-anchor="end">7</text>
<path class="tkd" d="M911.9 534.4v-6M911.9 329.9v6M987.2 534.4v-6M987.2 329.9v6M1062.6 534.4v-6M1062.6 329.9v6M1138 534.4v-6M1138 329.9v6M1213.4 534.4v-6M1213.4 329.9v6M1288.8 534.4v-6M1288.8 329.9v6M1364.1 534.4v-6M1364.1 329.9v6M836.5 332h6M1439.5 332h-6M836.5 348.6h6M1439.5 348.6h-6M836.5 367h6M1439.5 367h-6M836.5 387.6h6M1439.5 387.6h-6M836.5 410.9h6M1439.5 410.9h-6M836.5 437.8h6M1439.5 437.8h-6M836.5 469.6h6M1439.5 469.6h-6M836.5 488h6M1439.5 488h-6M836.5 508.6h6M1439.5 508.6h-6M836.5 531.9h6M1439.5 531.9h-6"/>
<text x="836.5" y="548.8" text-anchor="middle">00:00</text>
<text x="911.9" y="548.8" text-anchor="middle">03:00</text>
<text x="987.2" y="548.8" text-anchor="middle">06:00</text>
<text x="1062.6" y="548.8" text-anchor="middle">09:00</text>
<text x="1138" y="548.8" text-anchor="middle">12:00</text>
<text x="1213.4" y="548.8" text-anchor="middle">15:00</text>
<text x="1288.8" y="548.8" text-anchor="middle">18:00</text>
<text x="1364.1" y="548.8" text-anchor="middle">21:00</text>
<text x="1439.5" y="548.8" text-anchor="middle">00:00</text>
<text x="809.1" y="432.2" text-anchor="middle" font-weight="bold" font-size="12.4" transform="rotate(-90 809.1 432.2)">freq (mHz)</text>
<rect x="1458" y="329.9" width="26" height="204.5" fill="url(#cb)"/>
<rect x="1458.5" y="330.4" width="25" height="203.5" fill="none" stroke="#5a3a30" stroke-opacity=".55" stroke-width="1"/>
<text x="1486.7" y="333.9" text-anchor="start">4</text>
<text x="1486.7" y="368" text-anchor="start">3</text>
<text x="1486.7" y="402.1" text-anchor="start">2</text>
<text x="1486.7" y="436.2" text-anchor="start">1</text>
<text x="1486.7" y="470.2" text-anchor="start">0</text>
<text x="1486.7" y="504.3" text-anchor="start">-1</text>
<text x="1486.7" y="538.4" text-anchor="start">-2</text>
<path class="tkd" d="M1458 364h3M1484 364h-3M1458 398.1h3M1484 398.1h-3M1458 432.2h3M1484 432.2h-3M1458 466.2h3M1484 466.2h-3M1458 500.3h3M1484 500.3h-3"/>
<text x="1518.4" y="432.2" text-anchor="middle" font-weight="bold" font-size="12.4" transform="rotate(-90 1518.4 432.2)">log<tspan dy="6" font-size="10">2</tspan><tspan dy="-6">(nT</tspan><tspan dy="-5.2" font-size="10">2</tspan><tspan dy="5.2">/Hz)</tspan></text>
<rect x="836.5" y="613.6" width="603" height="204.5" fill="#00008f"/>
<g clip-path="url(#cl2)">
<g transform="translate(890.9 805.7) skewX(1.1)"><path d="M-2 0A2 43.2 0 0 0 2 0Z" fill="url(#q4b)"/><path d="M-2 .6V0A2 71.1 0 0 1 2 0V.6Z" fill="url(#q4t)"/></g>
<g transform="translate(908.7 818.4)"><path d="M-1.4 0A1.4 30.5 0 0 0 1.4 0Z" fill="url(#q2b)"/><path d="M-1.4 .6V0A1.4 33 0 0 1 1.4 0V.6Z" fill="url(#q2t)"/></g>
<g transform="translate(915.8 810.8)"><path d="M-2 0A2 38.1 0 0 0 2 0Z" fill="url(#q6b)"/><path d="M-2 .6V0A2 71.1 0 0 1 2 0V.6Z" fill="url(#q6t)"/></g>
<g transform="translate(994.6 739.7)"><path d="M-1.7 0A1.7 45.7 0 0 0 1.7 0Z" fill="url(#q5b)"/><path d="M-1.7 .6V0A1.7 38.1 0 0 1 1.7 0V.6Z" fill="url(#q5t)"/></g>
<g transform="translate(1005 819.7)"><path d="M-2 0A2 41.9 0 0 0 2 0Z" fill="url(#q22b)"/><path d="M-2 .6V0A2 128.2 0 0 1 2 0V.6Z" fill="url(#q22t)"/></g>
<g transform="translate(1006.7 729.5)"><path d="M-1.4 0A1.4 22.9 0 0 0 1.4 0Z" fill="url(#q7b)"/><path d="M-1.4 .6V0A1.4 20.3 0 0 1 1.4 0V.6Z" fill="url(#q7t)"/></g>
<g transform="translate(1011.1 737.2)"><path d="M-2 0A2 71.1 0 0 0 2 0Z" fill="url(#q12b)"/><path d="M-2 .6V0A2 63.5 0 0 1 2 0V.6Z" fill="url(#q12t)"/></g>
<g transform="translate(1092.7 775.2)"><path d="M-1.4 0A1.4 30.5 0 0 0 1.4 0Z" fill="url(#q3b)"/><path d="M-1.4 .6V0A1.4 35.6 0 0 1 1.4 0V.6Z" fill="url(#q3t)"/></g>
<g transform="translate(1096.5 760)"><path d="M-1.5 0A1.5 40.6 0 0 0 1.5 0Z" fill="url(#q4b)"/><path d="M-1.5 .6V0A1.5 43.2 0 0 1 1.5 0V.6Z" fill="url(#q4t)"/></g>
<g transform="translate(1124.2 810.8) skewX(1.7)"><path d="M-2 0A2 38.1 0 0 0 2 0Z" fill="url(#q6b)"/><path d="M-2 .6V0A2 71.1 0 0 1 2 0V.6Z" fill="url(#q6t)"/></g>
<g transform="translate(1130.8 800.6)"><path d="M-1.5 0A1.5 48.2 0 0 0 1.5 0Z" fill="url(#q4b)"/><path d="M-1.5 .6V0A1.5 48.2 0 0 1 1.5 0V.6Z" fill="url(#q4t)"/></g>
<g transform="translate(1141 798.1)"><path d="M-2 0A2 50.8 0 0 0 2 0Z" fill="url(#q5b)"/><path d="M-2 .6V0A2 63.5 0 0 1 2 0V.6Z" fill="url(#q5t)"/></g>
<g transform="translate(1154.4 744.8)"><path d="M-2.5 0A2.5 68.6 0 0 0 2.5 0Z" fill="url(#q16b)"/><path d="M-2.5 .6V0A2.5 71.1 0 0 1 2.5 0V.6Z" fill="url(#q16t)"/></g>
<g transform="translate(1163.3 810.8) skewX(1.1)"><path d="M-2.2 0A2.2 38.1 0 0 0 2.2 0Z" fill="url(#q7b)"/><path d="M-2.2 .6V0A2.2 94 0 0 1 2.2 0V.6Z" fill="url(#q7t)"/></g>
<g transform="translate(1167.9 808.3)"><path d="M-1.8 0A1.8 40.6 0 0 0 1.8 0Z" fill="url(#q5b)"/><path d="M-1.8 .6V0A1.8 38.1 0 0 1 1.8 0V.6Z" fill="url(#q5t)"/></g>
<g transform="translate(1259.6 798.1)"><path d="M-1.3 0A1.3 50.8 0 0 0 1.3 0Z" fill="url(#q2b)"/><path d="M-1.3 .6V0A1.3 45.7 0 0 1 1.3 0V.6Z" fill="url(#q2t)"/></g>
<g transform="translate(1271.8 785.4)"><path d="M-2.2 0A2.2 63.5 0 0 0 2.2 0Z" fill="url(#q8b)"/><path d="M-2.2 .6V0A2.2 60.9 0 0 1 2.2 0V.6Z" fill="url(#q8t)"/></g>
<g transform="translate(1351.3 800.6)"><path d="M-1.8 0A1.8 48.2 0 0 0 1.8 0Z" fill="url(#q4b)"/><path d="M-1.8 .6V0A1.8 66 0 0 1 1.8 0V.6Z" fill="url(#q4t)"/></g>
<g transform="translate(1357.7 734.6)"><path d="M-1.6 0A1.6 55.9 0 0 0 1.6 0Z" fill="url(#q8b)"/><path d="M-1.6 .6V0A1.6 53.3 0 0 1 1.6 0V.6Z" fill="url(#q8t)"/></g>
<g transform="translate(1356.4 813.3)"><path d="M-3.3 0A3.3 43.2 0 0 0 3.3 0Z" fill="url(#q14b)"/><path d="M-3.3 .6V0A3.3 48.2 0 0 1 3.3 0V.6Z" fill="url(#q14t)"/></g>
<g transform="translate(1372.9 810.8)"><path d="M-2.8 0A2.8 45.7 0 0 0 2.8 0Z" fill="url(#q17b)"/><path d="M-2.8 .6V0A2.8 94 0 0 1 2.8 0V.6Z" fill="url(#q17t)"/></g>
<g transform="translate(1379.7 785.4)"><path d="M-3 0A3 66 0 0 0 3 0Z" fill="url(#q12b)"/><path d="M-3 .6V0A3 68.6 0 0 1 3 0V.6Z" fill="url(#q12t)"/></g>
<g transform="translate(1390.4 790.5)"><path d="M-2.5 0A2.5 71.1 0 0 0 2.5 0Z" fill="url(#q21b)"/><path d="M-2.5 .6V0A2.5 152.4 0 0 1 2.5 0V.6Z" fill="url(#q21t)"/></g>
<g transform="translate(1395.5 760)"><path d="M-2.6 0A2.6 48.2 0 0 0 2.6 0Z" fill="url(#q9b)"/><path d="M-2.6 .6V0A2.6 50.8 0 0 1 2.6 0V.6Z" fill="url(#q9t)"/></g>
<g transform="translate(1401.3 782.9)"><path d="M-2.6 0A2.6 68.6 0 0 0 2.6 0Z" fill="url(#q18b)"/><path d="M-2.6 .6V0A2.6 99 0 0 1 2.6 0V.6Z" fill="url(#q18t)"/></g>
<g transform="translate(1407.7 785.4)"><path d="M-2.8 0A2.8 63.5 0 0 0 2.8 0Z" fill="url(#q9b)"/><path d="M-2.8 .6V0A2.8 66 0 0 1 2.8 0V.6Z" fill="url(#q9t)"/></g>
<linearGradient id="R2_394" x1="0" y1="0" x2="0" y2="1"><stop offset="0.000" stop-color="#646e96" stop-opacity="1.00"/><stop offset="0.176" stop-color="#6e6464" stop-opacity="1.00"/><stop offset="0.471" stop-color="#8c5a50" stop-opacity="0.90"/><stop offset="1.000" stop-color="#b04a30" stop-opacity="0.00"/></linearGradient>
<rect x="1004" y="613.6" width="1.9" height="34" fill="url(#R2_394)"/>
<linearGradient id="R2_396" x1="0" y1="0" x2="0" y2="1"><stop offset="0.000" stop-color="#a05040" stop-opacity="0.00"/><stop offset="0.061" stop-color="#c04a28" stop-opacity="1.00"/><stop offset="0.265" stop-color="#d8441a" stop-opacity="1.00"/><stop offset="0.723" stop-color="#e44010" stop-opacity="1.00"/><stop offset="1.000" stop-color="#f03c00" stop-opacity="1.00"/></linearGradient>
<rect x="1004.4" y="621.6" width="1.3" height="196.5" fill="url(#R2_396)"/>
<linearGradient id="L2_398" x1="0" y1="0" x2="0" y2="1"><stop offset="0.000" stop-color="#0059ff" stop-opacity="1.00"/><stop offset="0.406" stop-color="#0049ff" stop-opacity="1.00"/><stop offset="0.593" stop-color="#0000e3" stop-opacity="0.83"/><stop offset="1.000" stop-color="#0000e3" stop-opacity="0.83"/></linearGradient>
<rect x="1150.5" y="613.6" width="1.3" height="204" fill="url(#L2_398)"/>
<linearGradient id="R2_400" x1="0" y1="0" x2="0" y2="1"><stop offset="0.000" stop-color="#4e8a98" stop-opacity="1.00"/><stop offset="0.293" stop-color="#5a9a8c" stop-opacity="1.00"/><stop offset="0.489" stop-color="#86b072" stop-opacity="1.00"/><stop offset="0.733" stop-color="#a2c25c" stop-opacity="1.00"/><stop offset="0.905" stop-color="#62c09e" stop-opacity="1.00"/><stop offset="1.000" stop-color="#30c0d0" stop-opacity="1.00"/></linearGradient>
<rect x="1205" y="613.6" width="1.9" height="204.5" fill="url(#R2_400)"/>
<linearGradient id="L2_402" x1="0" y1="0" x2="0" y2="1"><stop offset="0.000" stop-color="#0000d2" stop-opacity="0.67"/><stop offset="0.773" stop-color="#0000c2" stop-opacity="0.50"/><stop offset="1.000" stop-color="#00008f" stop-opacity="0.00"/></linearGradient>
<rect x="1211.8" y="613.6" width="1.1" height="156.5" fill="url(#L2_402)"/>
<linearGradient id="L2_404" x1="0" y1="0" x2="0" y2="1"><stop offset="0.000" stop-color="#0000f4" stop-opacity="1.00"/><stop offset="0.685" stop-color="#0000e3" stop-opacity="0.83"/><stop offset="1.000" stop-color="#00008f" stop-opacity="0.00"/></linearGradient>
<rect x="1225.7" y="613.6" width="1.2" height="121" fill="url(#L2_404)"/>
<linearGradient id="L2_406" x1="0" y1="0" x2="0" y2="1"><stop offset="0.000" stop-color="#0000e3" stop-opacity="0.83"/><stop offset="0.793" stop-color="#0000db" stop-opacity="0.75"/><stop offset="1.000" stop-color="#00008f" stop-opacity="0.00"/></linearGradient>
<rect x="1251" y="613.6" width="1.1" height="184.5" fill="url(#L2_406)"/>
</g>
<text x="832.6" y="620" text-anchor="end">22</text>
<text x="832.6" y="636.7" text-anchor="end">20</text>
<text x="832.6" y="655.1" text-anchor="end">18</text>
<text x="832.6" y="675.6" text-anchor="end">16</text>
<text x="832.6" y="699" text-anchor="end">14</text>
<text x="832.6" y="725.9" text-anchor="end">12</text>
<text x="832.6" y="757.7" text-anchor="end">10</text>
<text x="832.6" y="776.1" text-anchor="end">9</text>
<text x="832.6" y="796.6" text-anchor="end">8</text>
<text x="832.6" y="820" text-anchor="end">7</text>
<path class="tkd" d="M911.9 818.1v-6M911.9 613.6v6M987.2 818.1v-6M987.2 613.6v6M1062.6 818.1v-6M1062.6 613.6v6M1138 818.1v-6M1138 613.6v6M1213.4 818.1v-6M1213.4 613.6v6M1288.8 818.1v-6M1288.8 613.6v6M1364.1 818.1v-6M1364.1 613.6v6M836.5 615.8h6M1439.5 615.8h-6M836.5 632.4h6M1439.5 632.4h-6M836.5 650.8h6M1439.5 650.8h-6M836.5 671.3h6M1439.5 671.3h-6M836.5 694.7h6M1439.5 694.7h-6M836.5 721.6h6M1439.5 721.6h-6M836.5 753.4h6M1439.5 753.4h-6M836.5 771.8h6M1439.5 771.8h-6M836.5 792.3h6M1439.5 792.3h-6M836.5 815.7h6M1439.5 815.7h-6"/>
<text x="836.5" y="832.6" text-anchor="middle">00:00</text>
<text x="911.9" y="832.6" text-anchor="middle">03:00</text>
<text x="987.2" y="832.6" text-anchor="middle">06:00</text>
<text x="1062.6" y="832.6" text-anchor="middle">09:00</text>
<text x="1138" y="832.6" text-anchor="middle">12:00</text>
<text x="1213.4" y="832.6" text-anchor="middle">15:00</text>
<text x="1288.8" y="832.6" text-anchor="middle">18:00</text>
<text x="1364.1" y="832.6" text-anchor="middle">21:00</text>
<text x="1439.5" y="832.6" text-anchor="middle">00:00</text>
<text x="809.1" y="715.9" text-anchor="middle" font-weight="bold" font-size="12.4" transform="rotate(-90 809.1 715.9)">freq (mHz)</text>
<rect x="1458" y="613.6" width="26" height="204.5" fill="url(#cb)"/>
<rect x="1458.5" y="614.1" width="25" height="203.5" fill="none" stroke="#5a3a30" stroke-opacity=".55" stroke-width="1"/>
<text x="1486.7" y="617.6" text-anchor="start">4</text>
<text x="1486.7" y="651.7" text-anchor="start">3</text>
<text x="1486.7" y="685.8" text-anchor="start">2</text>
<text x="1486.7" y="719.9" text-anchor="start">1</text>
<text x="1486.7" y="754" text-anchor="start">0</text>
<text x="1486.7" y="788.1" text-anchor="start">-1</text>
<text x="1486.7" y="822.1" text-anchor="start">-2</text>
<path class="tkd" d="M1458 647.7h3M1484 647.7h-3M1458 681.8h3M1484 681.8h-3M1458 715.9h3M1484 715.9h-3M1458 750h3M1484 750h-3M1458 784.1h3M1484 784.1h-3"/>
<text x="1518.4" y="715.9" text-anchor="middle" font-weight="bold" font-size="12.4" transform="rotate(-90 1518.4 715.9)">log<tspan dy="6" font-size="10">2</tspan><tspan dy="-6">(nT</tspan><tspan dy="-5.2" font-size="10">2</tspan><tspan dy="5.2">/Hz)</tspan></text>
</svg></body></html>
